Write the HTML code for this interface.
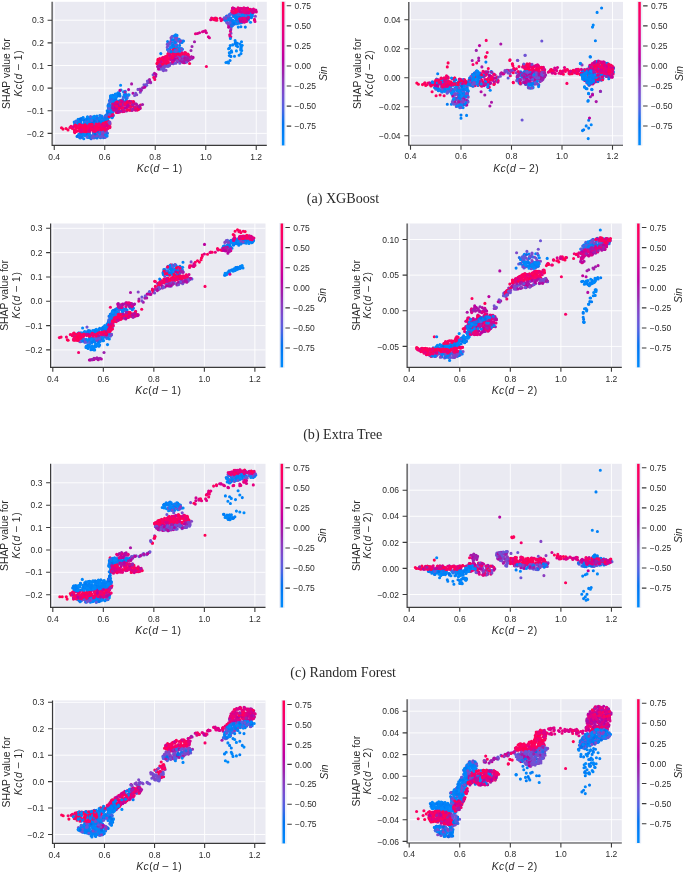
<!DOCTYPE html>
<html><head><meta charset="utf-8"><title>SHAP dependence plots</title>
<style>html,body{margin:0;padding:0;background:#fff;width:685px;height:872px;overflow:hidden}svg{display:block;will-change:transform}</style>
</head><body>
<svg width="685" height="872" viewBox="0 0 685 872" font-family='"Liberation Sans", sans-serif' fill="#2a2a2a"><defs><linearGradient id="cb" x1="0" y1="0" x2="0" y2="1"><stop offset="0.00" stop-color="#ff0051"/><stop offset="0.05" stop-color="#fe005c"/><stop offset="0.10" stop-color="#f90067"/><stop offset="0.15" stop-color="#f20072"/><stop offset="0.20" stop-color="#e9007c"/><stop offset="0.25" stop-color="#e00086"/><stop offset="0.30" stop-color="#d5008f"/><stop offset="0.35" stop-color="#c80098"/><stop offset="0.40" stop-color="#bb00a0"/><stop offset="0.45" stop-color="#ab15a7"/><stop offset="0.50" stop-color="#9b23ad"/><stop offset="0.55" stop-color="#9135ba"/><stop offset="0.60" stop-color="#8443c6"/><stop offset="0.65" stop-color="#754fd1"/><stop offset="0.70" stop-color="#6359da"/><stop offset="0.75" stop-color="#4b63e3"/><stop offset="0.80" stop-color="#236cea"/><stop offset="0.85" stop-color="#0074f0"/><stop offset="0.90" stop-color="#007cf5"/><stop offset="0.95" stop-color="#0084f9"/><stop offset="1.00" stop-color="#008bfb"/></linearGradient></defs>
<rect x="52.10" y="1.80" width="214.70" height="143.60" fill="#eaeaf2"/>
<path d="M54.25 1.80V145.40M104.75 1.80V145.40M155.25 1.80V145.40M205.75 1.80V145.40M256.25 1.80V145.40M52.10 20.20H266.80M52.10 42.84H266.80M52.10 65.48H266.80M52.10 88.12H266.80M52.10 110.76H266.80M52.10 133.40H266.80" stroke="#fff" stroke-width="0.9" fill="none"/>
<g stroke-width="3.1" stroke-linecap="round" fill="none"><path d="M61.5 127.7h0" stroke="#fe005c"/><path d="M63.0 129.1h0" stroke="#ff0051"/><path d="M68.0 129.9h0M66.0 128.5h0" stroke="#ff0057"/><path d="M71.0 126.2h0" stroke="#f90067"/><path d="M72.4 128.4h0" stroke="#fc0062"/><path d="M70.0 127.5h0" stroke="#f5006c"/><path d="M97.0 122.4h0M84.0 124.7h0M102.8 122.4h0M80.0 125.2h0" stroke="#0074f0"/><path d="M100.1 121.3h0M101.3 119.7h0M86.7 118.8h0M79.9 119.6h0M105.3 123.2h0M77.6 125.8h0M87.5 116.9h0M99.8 115.6h0M97.5 122.0h0M83.2 117.5h0M103.4 123.6h0M100.7 124.8h0" stroke="#0084f9"/><path d="M80.7 121.0h0M80.9 122.4h0M89.2 123.3h0M78.5 122.8h0M82.2 119.8h0M100.3 122.9h0M81.0 123.5h0" stroke="#3b68e7"/><path d="M96.7 119.5h0M100.5 116.0h0" stroke="#4b63e3"/><path d="M78.9 121.7h0M80.1 122.6h0M105.0 118.9h0M91.9 125.2h0M87.8 122.9h0" stroke="#007cf5"/><path d="M94.3 121.6h0M96.2 121.2h0M84.5 121.5h0M78.1 119.4h0" stroke="#008bfb"/><path d="M94.0 119.5h0M85.5 121.4h0M99.0 124.6h0M79.2 123.4h0M92.6 120.4h0M95.4 124.1h0M105.3 116.0h0M107.5 120.0h0M80.3 121.2h0M87.1 120.9h0M82.8 124.8h0M84.4 120.3h0M79.5 124.6h0" stroke="#0080f7"/><path d="M75.8 124.6h0M97.7 118.7h0M99.0 119.0h0M92.4 119.1h0M89.5 123.3h0M104.6 120.0h0M105.2 116.4h0M86.8 124.4h0M93.2 125.4h0M91.6 123.0h0M87.4 123.2h0M88.6 120.6h0M91.6 120.3h0" stroke="#0087fa"/><path d="M85.3 124.2h0" stroke="#236cea"/><path d="M83.7 119.5h0" stroke="#0070ed"/><path d="M85.2 122.3h0" stroke="#585edf"/><path d="M89.8 124.8h0M94.1 119.4h0M98.5 121.0h0" stroke="#236cea"/><path d="M89.1 126.0h0M103.5 122.0h0M103.6 122.5h0M89.1 120.4h0M104.8 118.9h0" stroke="#007cf5"/><path d="M106.2 115.3h0M92.8 118.3h0M94.6 118.4h0M79.7 124.8h0M106.0 115.0h0M79.5 121.2h0M103.4 120.8h0M106.7 116.3h0" stroke="#0084f9"/><path d="M100.2 120.4h0M89.1 118.9h0M81.8 119.2h0M105.7 116.3h0M100.4 122.8h0M74.6 123.9h0M87.7 121.0h0M91.9 123.1h0M76.2 121.1h0M89.2 118.8h0M84.4 124.6h0" stroke="#0080f7"/><path d="M95.8 120.9h0M79.1 125.3h0M76.1 125.1h0M92.5 117.0h0M101.7 116.0h0M96.3 122.9h0M88.7 119.4h0M96.9 116.0h0M100.4 124.2h0M94.3 116.4h0" stroke="#0087fa"/><path d="M82.8 118.1h0M102.1 120.0h0M87.3 117.2h0M91.8 123.5h0M76.6 122.2h0M106.9 117.2h0M87.1 118.3h0" stroke="#008bfb"/><path d="M96.1 121.6h0M102.1 122.4h0M106.4 121.0h0M98.9 121.9h0" stroke="#0070ed"/><path d="M104.7 120.5h0M78.6 124.1h0" stroke="#0074f0"/><path d="M98.0 124.3h0M101.9 122.7h0M96.8 121.6h0M102.0 118.3h0M94.0 125.6h0" stroke="#4b63e3"/><path d="M87.3 122.0h0M91.7 121.9h0M102.4 123.0h0M107.0 118.9h0" stroke="#3b68e7"/><path d="M102.6 123.8h0M104.7 116.8h0M91.9 124.7h0" stroke="#585edf"/><path d="M108.0 118.4h0M91.3 120.3h0M106.0 121.9h0M97.2 117.6h0M91.6 120.0h0M107.8 121.2h0M99.5 118.0h0M87.9 123.4h0M84.4 122.9h0" stroke="#0087fa"/><path d="M80.0 121.2h0M74.2 122.1h0M95.8 124.1h0M79.8 123.4h0M101.9 124.8h0M95.7 123.8h0M91.8 123.4h0M82.1 118.4h0M102.0 117.8h0M104.4 118.7h0M87.2 124.6h0M80.3 119.4h0M77.2 121.6h0M78.6 119.7h0M90.4 121.5h0M90.9 122.5h0" stroke="#0080f7"/><path d="M86.8 126.0h0M86.8 120.0h0M75.9 121.4h0M92.5 124.0h0" stroke="#3b68e7"/><path d="M85.6 125.6h0M107.6 120.0h0M103.0 121.8h0M96.9 124.2h0M77.3 125.2h0M107.2 117.4h0M93.7 118.5h0M90.0 118.0h0M96.0 122.4h0M79.8 123.9h0M82.9 125.6h0M104.6 119.3h0" stroke="#0084f9"/><path d="M96.8 118.1h0M106.0 124.3h0M106.0 117.4h0M95.6 123.8h0" stroke="#236cea"/><path d="M92.1 117.8h0" stroke="#008bfb"/><path d="M86.7 119.3h0M84.3 125.5h0M101.6 121.8h0M99.2 123.6h0M95.7 121.9h0M100.2 124.0h0M105.6 121.2h0" stroke="#007cf5"/><path d="M80.4 118.8h0M93.9 121.0h0M92.4 123.3h0M93.0 126.1h0M96.2 125.6h0" stroke="#0070ed"/><path d="M90.5 116.6h0M101.5 124.7h0" stroke="#585edf"/><path d="M80.9 121.1h0" stroke="#0074f0"/><path d="M91.7 120.6h0" stroke="#4b63e3"/><path d="M89.7 137.6h0M86.8 135.5h0M89.8 136.2h0M89.2 131.7h0M79.8 137.5h0M84.6 134.9h0M79.3 134.4h0" stroke="#0080f7"/><path d="M83.8 132.8h0M78.8 136.3h0" stroke="#0087fa"/><path d="M89.6 135.0h0M91.2 135.8h0M81.2 134.4h0" stroke="#007cf5"/><path d="M80.2 137.9h0" stroke="#0084f9"/><path d="M84.6 132.7h0M85.3 133.2h0M87.2 133.3h0" stroke="#0070ed"/><path d="M80.8 135.1h0M80.9 134.3h0" stroke="#008bfb"/><path d="M81.9 134.3h0" stroke="#585edf"/><path d="M80.9 135.6h0M89.4 132.6h0M79.7 133.5h0" stroke="#0084f9"/><path d="M80.1 134.3h0M83.4 131.8h0" stroke="#0087fa"/><path d="M82.3 137.4h0M91.1 138.8h0" stroke="#236cea"/><path d="M89.9 135.2h0M85.0 134.1h0M81.9 137.3h0" stroke="#4b63e3"/><path d="M81.7 134.2h0M81.3 136.4h0" stroke="#007cf5"/><path d="M80.9 134.8h0" stroke="#585edf"/><path d="M90.1 137.2h0M88.2 137.3h0M87.8 132.0h0M79.8 134.6h0" stroke="#0080f7"/><path d="M89.5 131.8h0" stroke="#3b68e7"/><path d="M86.2 135.2h0" stroke="#0070ed"/><path d="M87.9 136.6h0M83.0 134.9h0M89.8 137.5h0" stroke="#0080f7"/><path d="M89.3 133.9h0M87.6 137.1h0M84.7 135.4h0M81.6 133.9h0M84.9 134.8h0" stroke="#0084f9"/><path d="M80.6 133.5h0M87.5 137.0h0M83.8 138.7h0M78.6 134.5h0" stroke="#0087fa"/><path d="M81.8 132.0h0" stroke="#3b68e7"/><path d="M77.1 136.4h0" stroke="#0070ed"/><path d="M79.2 136.7h0M81.0 132.1h0" stroke="#236cea"/><path d="M87.0 136.9h0" stroke="#585edf"/><path d="M80.7 133.4h0" stroke="#007cf5"/><path d="M101.8 133.8h0M100.7 133.7h0" stroke="#3b68e7"/><path d="M104.2 130.8h0" stroke="#754fd1"/><path d="M97.1 134.9h0M102.4 133.3h0M103.4 135.8h0M98.0 132.3h0M102.7 131.6h0M92.1 137.4h0" stroke="#8443c6"/><path d="M97.4 136.9h0" stroke="#007cf5"/><path d="M95.1 136.6h0M107.1 136.1h0M99.8 136.3h0M99.9 132.3h0" stroke="#0080f7"/><path d="M103.6 134.4h0M104.4 130.9h0" stroke="#0084f9"/><path d="M103.5 133.8h0M105.6 131.4h0" stroke="#7d49cb"/><path d="M105.1 137.4h0M93.1 137.0h0" stroke="#6c54d6"/><path d="M100.1 135.6h0" stroke="#236cea"/><path d="M101.0 135.6h0" stroke="#0070ed"/><path d="M105.3 132.3h0" stroke="#7d49cb"/><path d="M104.1 136.1h0M94.4 135.8h0M99.3 136.3h0" stroke="#754fd1"/><path d="M100.1 136.6h0M106.0 133.9h0" stroke="#6c54d6"/><path d="M100.5 137.7h0M96.1 137.2h0" stroke="#0070ed"/><path d="M103.5 137.8h0" stroke="#236cea"/><path d="M93.9 138.0h0M97.2 134.9h0M103.3 135.5h0M101.7 133.5h0M104.8 136.2h0" stroke="#8443c6"/><path d="M99.8 131.1h0M96.0 136.6h0" stroke="#0074f0"/><path d="M100.1 136.6h0M99.5 133.5h0" stroke="#0087fa"/><path d="M105.4 135.0h0" stroke="#0080f7"/><path d="M100.2 137.0h0" stroke="#6359da"/><path d="M94.8 137.2h0" stroke="#0084f9"/><path d="M93.6 134.6h0M107.5 133.3h0M93.4 132.3h0" stroke="#236cea"/><path d="M101.7 136.4h0M102.0 131.3h0M105.3 136.8h0M93.8 132.9h0" stroke="#6c54d6"/><path d="M93.4 132.1h0" stroke="#0084f9"/><path d="M97.0 138.0h0" stroke="#007cf5"/><path d="M98.9 131.5h0M106.5 130.9h0" stroke="#8443c6"/><path d="M94.1 134.7h0M92.7 137.1h0" stroke="#4b63e3"/><path d="M96.5 136.0h0" stroke="#754fd1"/><path d="M95.6 132.1h0" stroke="#3b68e7"/><path d="M98.6 131.5h0M94.3 136.0h0M93.6 136.2h0" stroke="#7d49cb"/><path d="M106.4 135.7h0" stroke="#0087fa"/><path d="M97.5 131.2h0M95.2 134.0h0" stroke="#0070ed"/><path d="M84.5 131.4h0M105.5 122.4h0M81.1 126.1h0M98.5 129.7h0M82.1 125.6h0M75.1 126.1h0M84.0 130.3h0M76.5 131.5h0M79.6 124.6h0" stroke="#ff0057"/><path d="M76.7 130.6h0M75.6 125.4h0M92.3 127.9h0M100.4 127.3h0M74.8 132.6h0M84.9 124.9h0M104.9 130.1h0" stroke="#ff0051"/><path d="M89.5 126.6h0M81.2 131.8h0M94.6 129.0h0" stroke="#d5008f"/><path d="M90.1 127.6h0M75.8 128.0h0M88.8 129.3h0M87.6 127.1h0M87.8 130.2h0M106.8 125.9h0M75.7 125.5h0M86.9 126.5h0M88.4 130.7h0M78.7 127.9h0M85.0 126.2h0M80.6 130.6h0M105.3 125.7h0" stroke="#fc0062"/><path d="M99.1 123.9h0M91.3 129.6h0M79.2 130.6h0M80.3 127.3h0M94.7 131.4h0M90.7 128.1h0M96.3 130.6h0M86.6 131.6h0M110.0 124.1h0M101.1 128.9h0" stroke="#f90067"/><path d="M76.0 126.4h0M79.1 130.8h0M83.2 128.8h0M97.3 124.8h0M88.5 130.6h0" stroke="#fe005c"/><path d="M103.2 124.0h0M108.4 123.7h0M101.3 129.7h0" stroke="#da008a"/><path d="M77.3 127.3h0M87.2 126.0h0" stroke="#f5006c"/><path d="M99.3 129.5h0M93.9 128.3h0M74.7 132.0h0" stroke="#e50081"/><path d="M96.4 124.7h0M102.8 128.8h0" stroke="#e00086"/><path d="M84.9 125.5h0M105.0 127.7h0M98.3 125.8h0M89.4 131.3h0M78.6 127.1h0" stroke="#ff0051"/><path d="M93.5 129.4h0M93.8 128.5h0M73.5 126.6h0M102.0 124.5h0M89.7 126.8h0" stroke="#da008a"/><path d="M92.8 128.4h0M80.7 126.9h0M89.7 127.5h0M107.9 128.4h0M77.7 127.2h0M108.3 126.0h0M77.0 127.5h0M108.1 126.5h0" stroke="#fe005c"/><path d="M94.2 129.5h0M89.6 129.4h0M97.9 126.1h0" stroke="#f5006c"/><path d="M105.0 129.2h0M85.6 130.9h0M89.6 124.2h0M92.6 128.9h0M99.1 126.8h0M86.6 130.1h0M79.8 128.2h0" stroke="#f90067"/><path d="M106.4 129.0h0M80.6 125.4h0M95.1 131.0h0M107.7 123.6h0" stroke="#e50081"/><path d="M103.3 123.4h0M88.0 127.3h0M85.4 125.4h0M74.6 131.4h0M109.9 126.6h0M95.3 126.5h0M101.5 129.4h0M97.4 128.9h0" stroke="#ff0057"/><path d="M85.2 127.9h0M107.2 123.8h0" stroke="#d5008f"/><path d="M95.5 130.2h0M90.7 129.3h0M87.4 130.0h0M103.9 126.0h0" stroke="#e00086"/><path d="M89.6 128.4h0" stroke="#cf0093"/><path d="M80.7 125.7h0M96.7 129.6h0M90.9 128.2h0M97.2 127.6h0M89.4 125.5h0M108.8 125.7h0M104.9 128.3h0M102.7 127.6h0M89.5 130.7h0M83.9 131.2h0" stroke="#fc0062"/><path d="M77.8 127.1h0M75.1 125.1h0M80.4 129.2h0M84.6 129.3h0M75.4 131.6h0M88.3 127.0h0M108.4 122.0h0M82.3 128.4h0M77.1 126.3h0M93.0 130.9h0M87.4 128.8h0M96.1 125.8h0M75.3 130.3h0M97.3 128.4h0" stroke="#fc0062"/><path d="M92.3 126.5h0M89.4 130.7h0M109.7 122.4h0" stroke="#da008a"/><path d="M104.0 127.4h0M94.9 127.9h0" stroke="#e00086"/><path d="M80.2 127.2h0M85.7 131.4h0M99.5 126.9h0M97.9 124.8h0M80.0 128.9h0M97.6 127.5h0" stroke="#ff0051"/><path d="M107.1 125.8h0" stroke="#d5008f"/><path d="M75.8 126.0h0M103.9 128.8h0M91.4 124.2h0M85.8 127.9h0M96.3 126.1h0" stroke="#ff0057"/><path d="M108.1 123.2h0M74.2 129.7h0M92.3 124.5h0M99.3 125.7h0M95.1 127.9h0M97.8 129.2h0M91.2 129.0h0M109.1 122.1h0M92.1 125.7h0M96.8 127.6h0M83.8 127.1h0M82.8 126.1h0" stroke="#fe005c"/><path d="M79.9 124.8h0M98.2 124.6h0M109.9 127.6h0M95.6 130.6h0M78.5 125.9h0M103.9 123.5h0M101.5 127.5h0M79.7 131.1h0M81.7 131.2h0M107.5 121.9h0M96.1 124.1h0" stroke="#f90067"/><path d="M81.1 131.8h0" stroke="#ee0077"/><path d="M102.8 125.7h0M81.0 129.7h0" stroke="#e9007c"/><path d="M110.8 108.6h0M114.5 109.1h0M108.0 106.1h0M111.6 113.4h0M110.1 107.4h0M112.4 111.3h0M110.6 95.9h0M111.1 115.9h0" stroke="#0087fa"/><path d="M112.5 116.8h0M112.0 102.5h0M109.1 107.1h0M111.2 115.7h0M107.2 110.8h0M107.4 112.9h0M110.5 98.1h0" stroke="#0080f7"/><path d="M110.8 116.3h0" stroke="#007cf5"/><path d="M113.1 112.0h0" stroke="#0074f0"/><path d="M108.7 107.8h0" stroke="#3b68e7"/><path d="M111.6 105.1h0M113.4 105.5h0" stroke="#008bfb"/><path d="M115.7 98.5h0M113.0 109.1h0M109.5 100.6h0" stroke="#0084f9"/><path d="M114.7 100.3h0M110.3 99.5h0M108.4 107.4h0M107.6 113.5h0" stroke="#4b63e3"/><path d="M113.0 102.3h0M109.1 115.3h0" stroke="#585edf"/><path d="M112.2 107.7h0M113.4 115.6h0" stroke="#236cea"/><path d="M111.1 112.9h0" stroke="#0070ed"/><path d="M106.6 116.9h0" stroke="#236cea"/><path d="M111.1 102.1h0M111.0 111.8h0M109.1 108.9h0" stroke="#007cf5"/><path d="M108.6 116.3h0M111.8 99.0h0M115.0 99.8h0M114.7 106.0h0M113.5 103.9h0M111.8 110.6h0M108.3 110.5h0M114.3 102.5h0M113.1 100.0h0M115.7 98.9h0" stroke="#0080f7"/><path d="M109.8 101.5h0M112.6 112.0h0M110.8 115.7h0" stroke="#585edf"/><path d="M108.5 115.0h0M110.2 114.4h0M112.0 112.0h0" stroke="#008bfb"/><path d="M115.2 97.3h0M108.3 105.1h0M111.4 107.4h0M111.0 99.7h0M111.6 116.0h0M112.1 117.8h0M113.0 100.0h0M110.3 106.5h0" stroke="#0087fa"/><path d="M109.3 113.9h0M111.8 116.9h0" stroke="#0084f9"/><path d="M111.9 101.9h0" stroke="#0070ed"/><path d="M112.6 99.3h0" stroke="#4b63e3"/><path d="M113.7 101.8h0M109.9 105.7h0M114.1 96.0h0" stroke="#4b63e3"/><path d="M108.5 105.1h0M109.0 105.3h0M108.8 111.8h0M110.9 115.1h0M112.0 105.5h0" stroke="#0080f7"/><path d="M108.2 112.7h0M113.4 97.2h0M112.8 95.3h0M111.2 114.0h0" stroke="#007cf5"/><path d="M108.6 108.5h0M113.5 106.3h0M115.2 101.1h0M109.3 111.0h0M112.4 99.5h0M109.0 105.5h0M109.8 108.3h0" stroke="#0084f9"/><path d="M109.5 110.9h0M111.7 98.9h0M109.7 116.9h0" stroke="#008bfb"/><path d="M109.0 103.9h0M111.6 99.5h0" stroke="#236cea"/><path d="M111.8 100.9h0M111.2 101.7h0M106.5 116.0h0" stroke="#3b68e7"/><path d="M111.7 95.8h0M110.5 96.4h0" stroke="#0087fa"/><path d="M108.9 108.6h0" stroke="#585edf"/><path d="M108.2 112.8h0" stroke="#0074f0"/><path d="M109.2 116.6h0" stroke="#ff0057"/><path d="M112.9 114.6h0M111.2 115.3h0" stroke="#fe005c"/><path d="M109.1 122.2h0" stroke="#6c54d6"/><path d="M109.5 114.5h0M109.8 123.4h0" stroke="#754fd1"/><path d="M112.3 115.7h0" stroke="#da008a"/><path d="M109.8 122.1h0" stroke="#7d49cb"/><path d="M115.5 103.9h0M116.3 97.0h0M124.0 96.4h0M115.9 105.0h0M125.7 94.2h0" stroke="#0080f7"/><path d="M128.3 95.2h0M114.5 97.0h0M128.0 95.0h0M127.0 98.1h0M122.9 100.4h0" stroke="#0084f9"/><path d="M117.1 95.9h0M122.7 99.5h0" stroke="#236cea"/><path d="M113.8 101.1h0M124.3 94.7h0M125.3 97.4h0" stroke="#0087fa"/><path d="M114.7 101.2h0" stroke="#007cf5"/><path d="M116.4 96.1h0M118.3 93.1h0" stroke="#008bfb"/><path d="M116.7 102.2h0M124.3 95.0h0M115.3 94.1h0M121.7 101.1h0M118.4 93.1h0M118.2 93.6h0" stroke="#0087fa"/><path d="M118.0 101.1h0M125.5 94.8h0" stroke="#0080f7"/><path d="M120.1 100.6h0M115.4 100.7h0" stroke="#0074f0"/><path d="M117.6 105.1h0" stroke="#3b68e7"/><path d="M113.6 97.3h0M117.8 93.0h0M115.4 101.6h0" stroke="#008bfb"/><path d="M123.6 91.9h0M124.8 101.8h0" stroke="#0084f9"/><path d="M128.1 95.3h0" stroke="#4b63e3"/><path d="M117.0 101.2h0" stroke="#585edf"/><path d="M123.3 97.2h0M127.0 97.5h0" stroke="#4b63e3"/><path d="M129.0 94.8h0M112.7 102.0h0M118.8 95.2h0M125.3 91.4h0" stroke="#008bfb"/><path d="M113.8 102.8h0M126.2 99.7h0M121.9 101.2h0M125.0 96.1h0M117.9 93.9h0" stroke="#0080f7"/><path d="M125.5 95.7h0M120.2 102.9h0" stroke="#0084f9"/><path d="M119.6 93.9h0" stroke="#0074f0"/><path d="M120.0 95.9h0M118.9 102.0h0M118.4 95.8h0" stroke="#007cf5"/><path d="M112.8 104.1h0M136.6 109.0h0M127.4 109.5h0" stroke="#fc0062"/><path d="M133.8 102.1h0M126.5 111.0h0M138.3 106.2h0" stroke="#9b23ad"/><path d="M117.4 112.1h0M131.5 101.5h0M127.8 105.3h0M136.0 108.6h0M118.6 106.9h0" stroke="#f90067"/><path d="M126.0 103.0h0M116.2 108.7h0M135.9 103.7h0M125.1 103.6h0M122.1 110.1h0" stroke="#a31daa"/><path d="M114.6 107.2h0M134.7 104.3h0" stroke="#e00086"/><path d="M120.3 105.9h0M116.4 111.0h0" stroke="#e50081"/><path d="M115.5 103.6h0M120.1 103.7h0" stroke="#bb00a0"/><path d="M119.6 112.1h0M121.5 107.7h0M129.4 102.4h0M116.4 112.5h0M136.9 108.0h0M132.5 105.4h0M130.4 105.8h0M135.4 107.2h0M132.3 110.3h0" stroke="#fe005c"/><path d="M132.0 110.1h0M129.5 103.2h0M133.2 108.7h0M114.5 104.7h0M119.9 107.9h0" stroke="#b30aa3"/><path d="M136.7 107.7h0M123.7 110.5h0M117.5 107.5h0" stroke="#ff0051"/><path d="M135.2 109.6h0M113.0 107.8h0M116.6 109.8h0" stroke="#ff0057"/><path d="M133.9 108.4h0" stroke="#f5006c"/><path d="M129.1 106.6h0" stroke="#ab15a7"/><path d="M117.3 102.2h0M139.3 106.5h0" stroke="#d5008f"/><path d="M124.2 107.9h0" stroke="#c2009c"/><path d="M126.5 104.5h0" stroke="#ee0077"/><path d="M134.7 107.8h0" stroke="#da008a"/><path d="M120.6 102.7h0M140.5 105.1h0M140.2 107.9h0M130.5 107.6h0M122.4 107.0h0" stroke="#fe005c"/><path d="M125.0 105.3h0" stroke="#da008a"/><path d="M115.3 109.7h0" stroke="#e50081"/><path d="M113.3 105.3h0M122.7 111.6h0M118.8 110.5h0" stroke="#e9007c"/><path d="M120.5 103.2h0M134.0 107.3h0" stroke="#f5006c"/><path d="M123.0 108.8h0M121.6 103.2h0M129.8 106.5h0M121.7 102.7h0" stroke="#fc0062"/><path d="M133.3 103.3h0M113.5 104.7h0M126.4 101.7h0M115.4 110.5h0" stroke="#ab15a7"/><path d="M131.0 110.0h0M118.0 104.3h0M123.1 110.3h0" stroke="#9b23ad"/><path d="M139.0 108.9h0M120.9 104.6h0" stroke="#a31daa"/><path d="M121.1 105.9h0M122.1 110.7h0M121.0 100.8h0M125.5 104.3h0M127.5 107.6h0M127.9 101.5h0" stroke="#f90067"/><path d="M121.8 101.5h0" stroke="#ff0051"/><path d="M112.7 108.0h0M122.0 103.5h0M129.6 101.3h0" stroke="#bb00a0"/><path d="M122.1 103.8h0M115.0 104.7h0M120.8 104.0h0M132.6 102.4h0" stroke="#ff0057"/><path d="M115.9 103.5h0M120.6 105.8h0M140.0 108.5h0M121.3 111.2h0M126.7 107.2h0" stroke="#b30aa3"/><path d="M113.9 109.1h0M132.4 105.0h0" stroke="#ee0077"/><path d="M114.4 107.9h0" stroke="#c2009c"/><path d="M113.7 110.0h0" stroke="#d5008f"/><path d="M118.5 102.5h0M117.9 112.4h0M125.6 108.3h0" stroke="#bb00a0"/><path d="M139.6 106.1h0M133.9 108.9h0M135.7 107.8h0" stroke="#9b23ad"/><path d="M131.0 102.2h0M136.7 104.6h0M138.1 108.0h0M112.7 106.5h0" stroke="#ab15a7"/><path d="M124.0 103.4h0M124.1 111.4h0" stroke="#e00086"/><path d="M138.2 108.5h0M133.4 101.6h0" stroke="#fe005c"/><path d="M122.3 105.2h0M115.9 102.6h0" stroke="#e9007c"/><path d="M119.4 102.4h0M131.8 109.9h0M119.2 110.8h0M132.7 104.8h0M124.0 102.3h0M122.8 104.2h0M130.0 109.9h0" stroke="#a31daa"/><path d="M138.4 108.7h0" stroke="#f5006c"/><path d="M117.0 102.0h0M138.1 108.5h0M139.3 107.6h0M137.4 110.1h0M135.4 108.7h0" stroke="#ff0057"/><path d="M127.2 110.0h0M119.3 108.4h0M127.2 102.6h0M138.4 109.5h0M129.6 110.2h0" stroke="#ff0051"/><path d="M135.6 110.2h0M122.2 101.3h0M115.4 103.2h0M117.6 105.7h0" stroke="#d5008f"/><path d="M118.4 105.4h0M116.6 108.3h0M139.4 107.0h0M118.6 111.5h0M128.0 105.0h0" stroke="#b30aa3"/><path d="M124.9 103.7h0M130.0 103.1h0" stroke="#fc0062"/><path d="M128.0 105.8h0" stroke="#c2009c"/><path d="M116.7 106.3h0M120.5 104.3h0" stroke="#f90067"/><path d="M120.6 85.3h0M121.0 90.0h0" stroke="#008bfb"/><path d="M131.6 83.9h0" stroke="#ab15a7"/><path d="M119.9 90.4h0M128.6 89.6h0M133.0 93.2h0" stroke="#b30aa3"/><path d="M125.0 92.0h0" stroke="#9b23ad"/><path d="M142.5 104.5h0" stroke="#a31daa"/><path d="M148.1 82.4h0M142.4 87.8h0M138.0 89.4h0M149.1 80.4h0M140.3 92.2h0M146.2 84.6h0" stroke="#7d49cb"/><path d="M148.0 82.5h0M150.7 82.8h0M140.0 89.1h0" stroke="#8b3cc0"/><path d="M153.1 74.8h0M134.6 95.5h0M147.4 81.1h0M135.7 93.2h0M144.0 84.7h0" stroke="#754fd1"/><path d="M154.3 77.5h0M149.5 79.6h0" stroke="#a31daa"/><path d="M146.6 85.2h0" stroke="#6c54d6"/><path d="M145.6 85.6h0M145.1 85.7h0" stroke="#6359da"/><path d="M136.7 94.8h0M141.5 90.1h0" stroke="#8443c6"/><path d="M143.3 87.8h0M140.7 90.4h0M150.3 81.7h0" stroke="#ab15a7"/><path d="M144.9 87.1h0" stroke="#bb00a0"/><path d="M155.9 74.4h0" stroke="#c2009c"/><path d="M154.5 73.4h0M155.7 76.3h0" stroke="#b30aa3"/><path d="M153.8 77.4h0M154.8 79.4h0" stroke="#fc0062"/><path d="M184.7 52.5h0M178.5 56.9h0M174.9 54.2h0" stroke="#e50081"/><path d="M161.3 63.1h0M184.2 57.4h0M163.1 59.4h0" stroke="#e00086"/><path d="M165.0 62.5h0M163.1 58.0h0M187.9 54.1h0M172.9 49.6h0M182.1 54.8h0M168.9 53.9h0" stroke="#f5006c"/><path d="M158.6 61.8h0M174.1 58.2h0M165.6 64.8h0M167.7 61.9h0M182.0 55.8h0M171.7 56.0h0M170.7 51.5h0M165.5 60.0h0M181.3 54.9h0M177.9 50.4h0M181.2 54.9h0M170.8 59.8h0M183.8 56.5h0" stroke="#fc0062"/><path d="M184.3 55.7h0M182.5 57.2h0M170.1 50.8h0M165.6 64.4h0M183.3 55.4h0M167.8 54.1h0M172.6 58.6h0" stroke="#f90067"/><path d="M164.8 58.3h0M159.7 58.5h0M175.1 51.6h0M185.0 54.8h0M164.8 60.4h0M167.6 63.7h0M161.8 64.5h0M181.2 57.8h0M178.3 51.2h0M165.8 60.2h0M170.4 54.6h0M173.8 49.0h0" stroke="#fe005c"/><path d="M173.2 56.2h0M184.4 57.0h0M167.2 57.6h0M175.4 54.8h0M166.0 58.5h0M179.8 51.8h0M164.6 58.4h0" stroke="#ff0057"/><path d="M170.8 57.7h0M176.9 52.5h0M183.1 57.9h0" stroke="#d5008f"/><path d="M175.4 52.5h0" stroke="#e9007c"/><path d="M166.9 56.5h0M168.8 51.7h0" stroke="#ff0051"/><path d="M183.4 55.1h0" stroke="#da008a"/><path d="M162.5 58.4h0M173.5 54.1h0M181.4 56.1h0M184.3 55.5h0M170.2 52.9h0M167.2 58.2h0M187.3 55.1h0M164.4 63.6h0M167.3 56.0h0M179.0 53.2h0" stroke="#ff0057"/><path d="M162.7 59.9h0M173.4 60.3h0M175.9 51.4h0M180.6 57.7h0M166.3 56.9h0M168.6 63.3h0M163.0 57.5h0M164.9 59.6h0" stroke="#f5006c"/><path d="M174.5 58.0h0M185.6 52.7h0M179.3 54.3h0M174.8 51.8h0M171.9 59.4h0M158.7 64.2h0M174.1 54.5h0" stroke="#fe005c"/><path d="M170.1 58.0h0M161.5 59.8h0M157.3 63.8h0M162.1 58.0h0M160.6 62.5h0M174.7 48.4h0M163.9 57.8h0M178.2 54.1h0M175.6 56.1h0M184.7 56.8h0M181.8 52.9h0M173.8 53.7h0" stroke="#f90067"/><path d="M178.1 57.9h0M164.5 57.8h0" stroke="#e50081"/><path d="M179.5 54.8h0M180.3 55.8h0M184.0 56.8h0M180.3 53.2h0M183.6 58.1h0M172.9 61.0h0M182.8 53.7h0M172.6 55.8h0M172.0 51.7h0M168.3 61.9h0M158.4 61.6h0M178.7 53.0h0" stroke="#fc0062"/><path d="M175.9 48.9h0M162.6 60.1h0M186.3 57.3h0M182.4 55.5h0M178.9 52.2h0" stroke="#ff0051"/><path d="M185.9 55.7h0" stroke="#e9007c"/><path d="M171.8 52.4h0M182.8 56.8h0M172.9 59.1h0M178.6 57.2h0M157.6 62.6h0M169.8 50.0h0M176.7 48.6h0M166.3 57.3h0M175.6 58.1h0M168.9 58.9h0M178.3 51.3h0M175.1 53.9h0M172.3 59.1h0" stroke="#ff0057"/><path d="M161.2 62.4h0M177.3 49.7h0M157.9 60.6h0M167.5 58.9h0M163.3 64.8h0M167.2 61.9h0M175.0 57.9h0" stroke="#f90067"/><path d="M165.1 58.8h0M165.8 62.6h0" stroke="#f5006c"/><path d="M188.4 55.1h0M167.7 62.1h0M168.8 51.6h0M177.7 57.4h0M180.1 57.8h0M180.3 54.1h0M177.2 57.9h0M161.8 59.4h0M173.4 57.6h0M178.7 50.1h0M160.9 65.2h0M176.8 49.1h0M160.6 60.5h0" stroke="#fe005c"/><path d="M161.2 61.7h0M170.7 59.8h0" stroke="#d5008f"/><path d="M173.9 53.1h0M169.5 52.6h0" stroke="#ee0077"/><path d="M181.5 52.6h0M178.0 51.7h0M164.1 61.7h0M174.6 53.5h0M183.7 56.2h0M166.4 58.2h0M181.1 55.6h0M165.4 56.6h0M177.5 50.5h0M163.6 65.3h0" stroke="#fc0062"/><path d="M175.3 54.7h0" stroke="#e9007c"/><path d="M175.0 48.3h0M177.4 54.5h0M162.4 64.5h0M156.9 63.6h0M167.0 64.1h0M158.0 59.4h0" stroke="#ff0051"/><path d="M169.5 55.7h0" stroke="#e00086"/><path d="M172.9 61.4h0" stroke="#cf0093"/><path d="M187.9 59.0h0M187.2 57.2h0M181.2 60.4h0" stroke="#8443c6"/><path d="M178.5 57.6h0M184.5 61.2h0" stroke="#a31daa"/><path d="M179.2 58.0h0M186.2 58.2h0" stroke="#8b3cc0"/><path d="M177.7 57.0h0M178.4 59.2h0" stroke="#754fd1"/><path d="M176.8 58.6h0" stroke="#e50081"/><path d="M190.0 59.4h0M176.6 60.1h0" stroke="#b30aa3"/><path d="M181.4 58.2h0M186.4 58.7h0" stroke="#ab15a7"/><path d="M181.4 57.9h0M188.4 59.2h0" stroke="#9b23ad"/><path d="M182.8 56.9h0" stroke="#6359da"/><path d="M175.2 59.9h0" stroke="#d5008f"/><path d="M172.0 63.3h0M180.7 58.8h0" stroke="#e00086"/><path d="M187.7 56.8h0M178.1 58.2h0" stroke="#da008a"/><path d="M172.4 61.6h0M188.9 58.1h0" stroke="#7d49cb"/><path d="M185.5 58.3h0" stroke="#bb00a0"/><path d="M183.4 57.1h0" stroke="#6c54d6"/><path d="M189.9 57.8h0" stroke="#6359da"/><path d="M189.5 57.3h0M176.7 57.9h0M175.9 59.2h0" stroke="#da008a"/><path d="M185.0 59.2h0M173.2 63.7h0M184.8 62.2h0M186.0 60.8h0" stroke="#9b23ad"/><path d="M192.5 58.0h0M192.0 58.8h0M173.3 63.0h0M180.3 59.9h0M171.4 63.1h0" stroke="#8443c6"/><path d="M186.9 61.0h0" stroke="#754fd1"/><path d="M182.6 59.3h0M188.4 60.6h0M177.3 61.8h0" stroke="#ab15a7"/><path d="M175.1 57.8h0" stroke="#d5008f"/><path d="M182.8 59.7h0" stroke="#8b3cc0"/><path d="M179.7 60.0h0" stroke="#e00086"/><path d="M193.1 57.4h0M173.7 60.2h0" stroke="#bb00a0"/><path d="M172.2 63.1h0M176.1 58.9h0" stroke="#7d49cb"/><path d="M185.9 59.6h0M183.5 62.4h0" stroke="#e9007c"/><path d="M173.5 63.2h0" stroke="#6c54d6"/><path d="M184.1 62.7h0M187.4 59.9h0" stroke="#da008a"/><path d="M185.3 57.1h0M181.7 61.5h0M179.5 58.5h0M179.4 61.6h0" stroke="#754fd1"/><path d="M187.8 58.1h0M180.3 61.3h0M184.1 60.7h0" stroke="#a31daa"/><path d="M191.3 57.1h0" stroke="#e9007c"/><path d="M176.9 59.3h0" stroke="#ee0077"/><path d="M171.4 63.3h0" stroke="#7d49cb"/><path d="M172.4 61.9h0M175.3 59.3h0" stroke="#bb00a0"/><path d="M177.3 59.5h0" stroke="#cf0093"/><path d="M177.0 60.5h0" stroke="#8443c6"/><path d="M184.8 57.9h0M185.4 62.3h0" stroke="#b30aa3"/><path d="M175.8 63.3h0M179.8 63.2h0M186.7 62.0h0" stroke="#6c54d6"/><path d="M186.3 59.1h0M182.3 62.1h0M191.5 56.8h0M187.4 60.1h0" stroke="#ab15a7"/><path d="M172.5 62.1h0" stroke="#e00086"/><path d="M158.3 66.5h0" stroke="#bb00a0"/><path d="M159.1 68.3h0M160.5 68.1h0M166.0 70.3h0M160.8 67.2h0M163.5 70.6h0M169.7 65.0h0" stroke="#8443c6"/><path d="M160.2 69.3h0M168.1 66.2h0M164.1 67.5h0M163.0 67.1h0" stroke="#754fd1"/><path d="M160.0 65.8h0M159.6 64.9h0" stroke="#9b23ad"/><path d="M161.1 68.2h0M168.5 66.0h0" stroke="#6359da"/><path d="M159.2 68.0h0M169.5 65.4h0M164.8 66.0h0M163.9 67.8h0M165.5 66.1h0M162.8 69.9h0" stroke="#7d49cb"/><path d="M163.5 69.6h0M167.1 66.2h0M168.2 65.5h0" stroke="#6c54d6"/><path d="M160.5 66.2h0" stroke="#b30aa3"/><path d="M158.5 69.1h0" stroke="#c2009c"/><path d="M157.6 66.6h0" stroke="#ab15a7"/><path d="M180.6 49.7h0M177.3 40.3h0M175.9 46.6h0" stroke="#008bfb"/><path d="M171.6 46.0h0M179.7 51.4h0M168.9 43.3h0M175.1 36.9h0M181.4 50.4h0" stroke="#7d49cb"/><path d="M180.8 40.9h0M175.2 39.5h0" stroke="#0087fa"/><path d="M169.1 50.4h0M182.5 49.3h0M175.3 50.1h0M173.0 36.3h0" stroke="#0084f9"/><path d="M178.8 50.4h0M170.9 43.3h0M180.3 42.8h0" stroke="#6c54d6"/><path d="M177.7 49.5h0M171.2 51.4h0M167.6 49.4h0M169.0 50.9h0M174.5 44.0h0" stroke="#754fd1"/><path d="M178.4 40.7h0" stroke="#8443c6"/><path d="M167.9 49.4h0M171.5 42.5h0M167.6 41.6h0M172.0 46.5h0" stroke="#0080f7"/><path d="M176.1 35.9h0" stroke="#8b3cc0"/><path d="M171.1 51.7h0M171.1 42.0h0" stroke="#007cf5"/><path d="M176.6 40.2h0M174.4 41.9h0M176.8 44.8h0M178.3 41.0h0M177.5 50.8h0" stroke="#7d49cb"/><path d="M177.8 48.0h0" stroke="#0080f7"/><path d="M168.1 44.2h0M170.5 43.3h0M179.0 49.0h0M170.3 47.6h0M179.4 50.9h0M172.1 47.1h0" stroke="#0084f9"/><path d="M168.2 50.1h0M175.7 34.8h0M181.4 41.7h0" stroke="#0087fa"/><path d="M176.4 51.5h0M176.0 42.3h0" stroke="#008bfb"/><path d="M168.7 51.0h0M171.2 40.3h0" stroke="#6359da"/><path d="M179.0 39.4h0M176.9 37.8h0M178.0 49.1h0M171.0 37.7h0" stroke="#8443c6"/><path d="M171.2 40.6h0M175.3 39.2h0M182.5 41.1h0M179.7 48.0h0" stroke="#754fd1"/><path d="M178.7 40.7h0M172.0 36.6h0" stroke="#6c54d6"/><path d="M175.6 40.9h0" stroke="#6359da"/><path d="M172.4 45.9h0M181.6 48.6h0M180.5 49.1h0M170.6 47.4h0" stroke="#008bfb"/><path d="M177.0 35.4h0M174.5 35.7h0M177.0 46.4h0M182.0 42.5h0M173.9 45.7h0" stroke="#0084f9"/><path d="M169.7 42.8h0" stroke="#8443c6"/><path d="M174.6 51.5h0M179.0 39.2h0M168.3 45.0h0M179.5 49.0h0" stroke="#0087fa"/><path d="M173.2 39.7h0M173.0 44.9h0" stroke="#007cf5"/><path d="M168.1 45.5h0M167.2 44.2h0" stroke="#7d49cb"/><path d="M167.2 47.3h0M175.7 45.1h0M169.8 43.0h0" stroke="#754fd1"/><path d="M181.8 49.2h0M175.9 51.3h0" stroke="#6c54d6"/><path d="M175.1 42.4h0M172.4 39.7h0M173.5 46.4h0M179.6 45.4h0" stroke="#0080f7"/><path d="M180.4 41.1h0" stroke="#8b3cc0"/><path d="M160.8 53.6h0" stroke="#007cf5"/><path d="M183.5 41.0h0" stroke="#0080f7"/><path d="M189.6 63.5h0" stroke="#ff0057"/><path d="M206.4 66.5h0" stroke="#f90067"/><path d="M194.5 41.7h0" stroke="#a31daa"/><path d="M192.0 46.5h0M191.0 50.5h0" stroke="#9b23ad"/><path d="M195.5 33.7h0" stroke="#e9007c"/><path d="M199.5 32.8h0M206.4 32.8h0M204.0 31.3h0" stroke="#d5008f"/><path d="M202.5 31.8h0M205.4 30.8h0M208.4 36.7h0M209.4 37.7h0M197.5 33.5h0" stroke="#da008a"/><path d="M224.8 19.2h0M216.2 19.4h0" stroke="#fc0062"/><path d="M215.2 18.1h0M210.7 19.8h0M215.8 20.0h0" stroke="#da008a"/><path d="M222.5 19.6h0M211.6 18.0h0" stroke="#e9007c"/><path d="M213.0 18.9h0M221.1 20.6h0" stroke="#f5006c"/><path d="M216.9 20.2h0M214.5 19.7h0" stroke="#fe005c"/><path d="M213.0 18.9h0" stroke="#ff0057"/><path d="M216.5 18.3h0" stroke="#ff0051"/><path d="M220.2 18.3h0" stroke="#e50081"/><path d="M229.1 25.8h0M231.2 27.5h0" stroke="#7d49cb"/><path d="M228.9 26.0h0M231.0 33.3h0" stroke="#8443c6"/><path d="M230.8 36.7h0M230.4 31.2h0" stroke="#e9007c"/><path d="M230.1 36.5h0" stroke="#da008a"/><path d="M230.9 25.7h0" stroke="#e50081"/><path d="M229.7 34.7h0" stroke="#e00086"/><path d="M228.7 27.2h0" stroke="#bb00a0"/><path d="M228.8 25.0h0" stroke="#d5008f"/><path d="M230.8 29.8h0" stroke="#9b23ad"/><path d="M240.7 50.0h0M236.4 50.9h0M229.7 52.7h0M236.1 45.5h0" stroke="#008bfb"/><path d="M235.8 42.5h0M237.4 43.3h0" stroke="#007cf5"/><path d="M229.4 55.6h0" stroke="#0080f7"/><path d="M234.5 56.3h0M241.5 41.8h0M232.6 44.9h0" stroke="#0084f9"/><path d="M240.9 48.4h0" stroke="#0087fa"/><path d="M230.9 56.4h0M236.2 44.0h0M241.1 46.0h0" stroke="#007cf5"/><path d="M231.7 52.1h0M231.4 50.9h0" stroke="#0080f7"/><path d="M241.7 50.5h0M239.1 55.2h0" stroke="#0087fa"/><path d="M242.1 45.3h0" stroke="#008bfb"/><path d="M241.0 53.6h0M236.3 44.6h0M241.1 47.5h0" stroke="#0084f9"/><path d="M229.3 52.8h0M228.6 48.7h0M227.6 62.0h0" stroke="#0087fa"/><path d="M235.1 43.4h0" stroke="#007cf5"/><path d="M229.5 48.1h0M239.9 44.0h0M241.1 46.2h0M235.1 40.6h0" stroke="#0084f9"/><path d="M230.2 45.5h0M237.6 46.6h0" stroke="#0080f7"/><path d="M228.5 63.0h0" stroke="#0087fa"/><path d="M226.0 62.5h0" stroke="#0084f9"/><path d="M230.0 60.5h0" stroke="#007cf5"/><path d="M228.2 19.9h0" stroke="#8b3cc0"/><path d="M234.9 21.7h0M237.2 12.9h0M234.4 12.5h0M249.9 13.2h0" stroke="#8443c6"/><path d="M243.2 17.9h0M235.5 22.5h0M224.8 20.1h0M245.7 13.9h0M230.9 18.3h0M239.6 20.9h0M237.1 18.2h0M251.7 13.6h0M247.2 18.7h0" stroke="#0080f7"/><path d="M228.9 17.1h0M233.7 13.2h0M253.0 12.9h0" stroke="#0070ed"/><path d="M244.9 18.3h0M240.6 16.8h0M251.7 16.0h0M235.0 15.7h0M226.8 21.8h0M236.3 23.5h0M244.7 15.1h0M246.0 16.1h0" stroke="#0084f9"/><path d="M235.5 22.7h0M246.2 19.2h0M233.9 14.0h0" stroke="#6359da"/><path d="M241.9 14.5h0M224.8 18.3h0M226.9 16.0h0" stroke="#7d49cb"/><path d="M250.2 13.0h0M241.7 17.4h0M227.6 17.6h0M228.4 17.8h0M229.4 14.6h0M239.7 17.5h0M244.5 20.7h0M240.0 14.2h0" stroke="#0087fa"/><path d="M233.2 24.7h0M249.6 16.9h0M224.2 17.8h0M244.6 17.1h0" stroke="#754fd1"/><path d="M241.5 13.1h0M230.9 13.6h0M226.5 16.3h0" stroke="#007cf5"/><path d="M237.0 15.4h0M233.3 16.5h0M246.4 13.8h0M236.6 23.5h0" stroke="#6c54d6"/><path d="M251.1 13.4h0" stroke="#236cea"/><path d="M246.6 12.8h0" stroke="#585edf"/><path d="M233.7 13.2h0M238.3 23.2h0" stroke="#008bfb"/><path d="M246.7 16.6h0M245.9 19.6h0M226.4 18.5h0" stroke="#4b63e3"/><path d="M241.0 22.2h0M236.9 21.0h0M241.2 13.8h0M238.4 18.7h0M235.1 16.4h0" stroke="#008bfb"/><path d="M241.6 22.6h0M245.9 15.9h0M246.2 19.3h0M245.0 12.5h0M242.1 16.9h0M236.5 21.0h0M237.8 17.7h0M246.3 14.6h0M246.5 15.1h0M248.1 14.4h0M226.0 20.5h0M232.6 25.4h0M226.7 17.6h0" stroke="#0087fa"/><path d="M247.4 20.5h0M226.2 18.5h0M232.4 22.7h0M246.6 20.1h0M227.6 19.3h0M233.4 21.1h0" stroke="#0084f9"/><path d="M247.3 16.4h0M226.7 22.6h0" stroke="#6c54d6"/><path d="M251.4 13.5h0M234.6 21.8h0M240.3 21.6h0" stroke="#4b63e3"/><path d="M249.4 12.4h0M239.4 17.0h0" stroke="#0074f0"/><path d="M250.4 16.1h0M236.7 17.8h0M234.7 23.9h0M230.6 23.2h0M241.0 19.4h0M248.0 12.5h0M246.3 16.4h0M240.5 22.2h0M229.3 15.7h0" stroke="#0080f7"/><path d="M238.6 17.7h0M237.0 23.7h0M236.1 21.5h0" stroke="#236cea"/><path d="M236.9 22.4h0M236.3 13.4h0" stroke="#754fd1"/><path d="M244.8 17.4h0M246.2 20.0h0M247.8 14.1h0M251.4 17.7h0M252.0 13.8h0" stroke="#007cf5"/><path d="M232.8 15.1h0M231.0 24.0h0M246.1 15.4h0" stroke="#3b68e7"/><path d="M231.8 21.8h0M248.0 14.1h0" stroke="#0070ed"/><path d="M226.0 17.3h0" stroke="#585edf"/><path d="M239.8 13.8h0" stroke="#6359da"/><path d="M243.1 21.5h0M240.0 22.9h0M244.4 21.6h0M234.9 21.5h0M242.8 14.6h0M230.2 20.1h0M229.3 19.8h0M236.6 14.7h0M252.4 16.1h0" stroke="#0080f7"/><path d="M242.5 16.0h0M237.3 16.3h0M230.2 21.3h0M251.3 12.7h0M249.3 14.9h0M232.8 20.2h0M242.5 12.9h0M245.8 20.7h0M242.9 17.0h0M248.9 14.9h0" stroke="#0084f9"/><path d="M238.1 14.8h0" stroke="#3b68e7"/><path d="M233.1 24.2h0" stroke="#754fd1"/><path d="M252.2 14.1h0M252.1 14.0h0M251.4 14.7h0M234.7 16.8h0M248.6 19.4h0M234.7 21.4h0M230.7 22.7h0M243.3 12.9h0M235.2 17.7h0M230.4 18.7h0M231.5 25.9h0M242.6 20.2h0M242.4 15.8h0M234.4 22.3h0" stroke="#0087fa"/><path d="M229.5 24.1h0M226.1 18.3h0" stroke="#8443c6"/><path d="M231.3 25.0h0M228.5 17.3h0M231.1 20.8h0" stroke="#236cea"/><path d="M228.0 23.4h0M248.5 13.4h0M228.4 15.9h0" stroke="#6c54d6"/><path d="M233.8 23.6h0" stroke="#0074f0"/><path d="M234.2 15.5h0M236.2 19.2h0M236.2 17.3h0M232.1 22.1h0M239.1 21.0h0" stroke="#007cf5"/><path d="M247.4 17.6h0M232.5 12.9h0" stroke="#008bfb"/><path d="M228.0 23.2h0" stroke="#7d49cb"/><path d="M239.4 14.5h0M244.9 19.4h0" stroke="#4b63e3"/><path d="M230.3 14.0h0M230.1 22.5h0" stroke="#585edf"/><path d="M254.3 10.7h0M246.2 8.5h0M253.3 10.9h0" stroke="#da008a"/><path d="M232.7 8.5h0M247.6 10.7h0M246.8 12.0h0" stroke="#ff0057"/><path d="M244.3 12.1h0M235.8 9.3h0" stroke="#e50081"/><path d="M241.5 8.6h0M248.1 9.7h0M250.3 9.2h0" stroke="#e00086"/><path d="M256.0 11.4h0" stroke="#fc0062"/><path d="M240.1 8.2h0M238.0 7.9h0M235.6 9.9h0M244.7 12.6h0M245.4 11.3h0M245.9 8.6h0M253.0 11.6h0M248.7 12.8h0" stroke="#e9007c"/><path d="M248.9 10.7h0" stroke="#f90067"/><path d="M244.3 9.9h0" stroke="#ee0077"/><path d="M236.8 10.6h0M246.2 12.3h0" stroke="#d5008f"/><path d="M234.0 12.4h0" stroke="#fe005c"/><path d="M245.5 8.5h0" stroke="#f5006c"/><path d="M246.1 11.9h0M240.6 8.9h0M232.6 8.1h0M239.6 8.9h0M250.0 10.7h0M246.5 9.5h0" stroke="#e50081"/><path d="M253.1 12.5h0M255.8 10.1h0" stroke="#cf0093"/><path d="M247.7 8.0h0M239.0 9.7h0M242.0 8.6h0M241.8 8.8h0" stroke="#da008a"/><path d="M253.5 9.0h0M231.8 10.9h0M239.5 11.1h0M234.6 11.6h0" stroke="#e9007c"/><path d="M241.7 12.2h0M251.8 9.7h0M239.8 11.0h0M246.6 9.6h0M248.9 10.4h0" stroke="#d5008f"/><path d="M233.9 12.7h0M237.4 10.7h0" stroke="#e00086"/><path d="M248.8 9.3h0" stroke="#ff0051"/><path d="M234.8 10.4h0" stroke="#fe005c"/><path d="M245.9 8.9h0M256.2 11.9h0M253.6 11.1h0M245.8 12.7h0" stroke="#da008a"/><path d="M240.2 10.5h0M235.6 10.6h0M244.8 10.9h0" stroke="#e9007c"/><path d="M233.6 13.0h0M232.7 8.4h0" stroke="#e00086"/><path d="M234.4 8.5h0M233.1 8.1h0M240.2 10.8h0M247.3 10.1h0M251.9 12.1h0M248.0 12.8h0" stroke="#d5008f"/><path d="M239.5 11.5h0" stroke="#cf0093"/><path d="M232.4 12.2h0" stroke="#f90067"/><path d="M234.8 12.7h0M244.2 11.4h0M243.4 10.5h0M243.9 7.8h0" stroke="#e50081"/><path d="M236.0 12.3h0M235.9 10.1h0" stroke="#ff0057"/><path d="M237.1 11.1h0" stroke="#fc0062"/><path d="M247.7 10.0h0" stroke="#ee0077"/><path d="M244.1 18.5h0" stroke="#ab15a7"/><path d="M243.7 21.6h0M240.9 20.1h0" stroke="#a31daa"/><path d="M246.5 21.5h0M242.3 18.5h0M243.0 19.3h0M245.1 19.6h0M239.6 19.1h0" stroke="#e50081"/><path d="M240.6 19.6h0" stroke="#bb00a0"/><path d="M244.6 22.1h0" stroke="#e00086"/><path d="M244.2 18.5h0M242.6 18.1h0M242.9 22.0h0" stroke="#d5008f"/><path d="M244.4 18.4h0" stroke="#ee0077"/><path d="M247.4 18.1h0" stroke="#9b23ad"/><path d="M240.6 21.5h0M247.9 18.1h0" stroke="#b30aa3"/><path d="M240.4 18.7h0" stroke="#e9007c"/><path d="M247.7 19.0h0" stroke="#c2009c"/><path d="M248.5 17.4h0" stroke="#cf0093"/><path d="M254.4 20.2h0M255.0 21.4h0" stroke="#da008a"/><path d="M254.5 19.4h0" stroke="#e9007c"/><path d="M236.5 23.6h0" stroke="#0087fa"/><path d="M238.3 27.1h0" stroke="#0084f9"/><path d="M240.9 26.7h0M230.4 38.5h0" stroke="#0080f7"/><path d="M245.3 27.1h0" stroke="#007cf5"/><path d="M250.5 22.3h0" stroke="#008bfb"/><path d="M255.4 16.2h0" stroke="#8443c6"/></g>
<path d="M52.10 1.80V145.40H266.80" stroke="#3a3a3a" stroke-width="1.15" fill="none"/>
<path d="M54.25 145.40v4.5M104.75 145.40v4.5M155.25 145.40v4.5M205.75 145.40v4.5M256.25 145.40v4.5M52.10 20.20h-4.5M52.10 42.84h-4.5M52.10 65.48h-4.5M52.10 88.12h-4.5M52.10 110.76h-4.5M52.10 133.40h-4.5" stroke="#3a3a3a" stroke-width="1.1" fill="none"/>
<text x="54.2" y="159.6" font-size="8.5" text-anchor="middle" >0.4</text>
<text x="104.7" y="159.6" font-size="8.5" text-anchor="middle" >0.6</text>
<text x="155.2" y="159.6" font-size="8.5" text-anchor="middle" >0.8</text>
<text x="205.8" y="159.6" font-size="8.5" text-anchor="middle" >1.0</text>
<text x="256.2" y="159.6" font-size="8.5" text-anchor="middle" >1.2</text>
<text x="43.9" y="23.3" font-size="8.5" text-anchor="end" >0.3</text>
<text x="43.9" y="45.9" font-size="8.5" text-anchor="end" >0.2</text>
<text x="43.9" y="68.6" font-size="8.5" text-anchor="end" >0.1</text>
<text x="43.9" y="91.2" font-size="8.5" text-anchor="end" >0.0</text>
<text x="43.9" y="113.9" font-size="8.5" text-anchor="end" >−0.1</text>
<text x="43.9" y="136.5" font-size="8.5" text-anchor="end" >−0.2</text>
<text x="159.5" y="171.9" font-size="10.4" text-anchor="middle" textLength="45.5" lengthAdjust="spacing"><tspan font-style="italic">Kc</tspan>(<tspan font-style="italic">d</tspan> <tspan dy="-0.7">–</tspan><tspan dy="0.7"> 1)</tspan></text>
<text transform="translate(9.8,73.6) rotate(-90)" font-size="10.4" text-anchor="middle">SHAP value for</text>
<text transform="translate(21.6,73.6) rotate(-90)" font-size="10.4" text-anchor="middle" textLength="46.5" lengthAdjust="spacing"><tspan font-style="italic">Kc</tspan>(<tspan font-style="italic">d</tspan> <tspan dy="-0.7">–</tspan><tspan dy="0.7"> 1)</tspan></text>
<rect x="280.40" y="1.30" width="5.6" height="144.60" fill="#e9eef8"/>
<rect x="281.90" y="1.80" width="2.5" height="143.60" fill="url(#cb)"/>
<text x="294.5" y="8.9" font-size="8.5" text-anchor="start" >0.75</text>
<text x="294.5" y="29.0" font-size="8.5" text-anchor="start" >0.50</text>
<text x="294.5" y="49.0" font-size="8.5" text-anchor="start" >0.25</text>
<text x="294.5" y="69.1" font-size="8.5" text-anchor="start" >0.00</text>
<text x="294.5" y="89.1" font-size="8.5" text-anchor="start" >−0.25</text>
<text x="294.5" y="109.2" font-size="8.5" text-anchor="start" >−0.50</text>
<text x="294.5" y="129.2" font-size="8.5" text-anchor="start" >−0.75</text>
<path d="M286.70 5.81h4.5M286.70 25.87h4.5M286.70 45.92h4.5M286.70 65.98h4.5M286.70 86.03h4.5M286.70 106.09h4.5M286.70 126.15h4.5" stroke="#3a3a3a" stroke-width="1.1" fill="none"/>
<text transform="translate(327.0,73.6) rotate(-90)" font-size="10.4" text-anchor="middle" font-style="italic">Sin</text>
<rect x="408.80" y="1.90" width="214.20" height="143.30" fill="#eaeaf2"/>
<path d="M410.50 1.90V145.20M461.00 1.90V145.20M511.50 1.90V145.20M562.00 1.90V145.20M612.50 1.90V145.20M408.80 19.80H623.00M408.80 48.80H623.00M408.80 77.80H623.00M408.80 106.80H623.00M408.80 135.80H623.00" stroke="#fff" stroke-width="0.9" fill="none"/>
<g stroke-width="3.1" stroke-linecap="round" fill="none"><path d="M416.8 83.0h0M425.7 85.4h0M440.1 95.0h0M448.1 62.9h0M447.3 66.9h0M422.5 84.6h0" stroke="#ff0057"/><path d="M418.4 84.3h0" stroke="#ff0051"/><path d="M424.1 83.8h0M430.5 84.9h0M433.7 83.0h0" stroke="#fe005c"/><path d="M428.1 83.0h0M432.1 91.8h0M436.1 95.8h0M427.3 84.6h0M424.9 82.7h0" stroke="#fc0062"/><path d="M444.1 95.8h0M446.5 75.8h0" stroke="#f90067"/><path d="M437.7 73.7h0M485.9 62.1h0" stroke="#0080f7"/><path d="M436.6 79.0h0M451.4 104.2h0M461.0 118.3h0M466.6 115.4h0" stroke="#0084f9"/><path d="M447.3 104.2h0M461.0 115.1h0" stroke="#007cf5"/><path d="M490.2 90.2h0" stroke="#0087fa"/><path d="M454.4 90.6h0M463.2 92.7h0M450.9 86.1h0M467.3 87.9h0M445.1 90.9h0M457.4 88.6h0M438.6 89.6h0M438.4 90.7h0M440.1 89.7h0" stroke="#0080f7"/><path d="M465.6 90.0h0M446.0 82.2h0M446.5 88.2h0M462.4 90.4h0" stroke="#754fd1"/><path d="M448.7 84.5h0M462.9 92.5h0M467.7 91.5h0" stroke="#8443c6"/><path d="M452.1 94.4h0M444.4 83.7h0M451.7 92.2h0M458.7 85.2h0M459.2 91.2h0M451.6 89.6h0M456.8 90.6h0M461.6 93.2h0M446.8 86.4h0M457.7 91.6h0M458.9 88.6h0M446.6 83.3h0M444.1 83.0h0M447.6 90.9h0M460.5 84.0h0M455.6 94.3h0M456.6 85.2h0M444.7 88.0h0" stroke="#0084f9"/><path d="M446.0 86.2h0M448.1 90.9h0" stroke="#6c54d6"/><path d="M438.4 88.9h0M435.0 87.6h0M458.0 93.9h0M437.6 89.4h0M455.9 94.2h0M462.0 94.4h0M462.4 82.0h0M461.7 85.3h0" stroke="#0087fa"/><path d="M467.5 92.7h0M442.4 90.1h0M467.2 93.9h0M449.3 88.4h0" stroke="#007cf5"/><path d="M460.5 84.5h0M445.8 85.4h0" stroke="#4b63e3"/><path d="M452.5 93.6h0M467.4 89.8h0M451.0 83.9h0" stroke="#008bfb"/><path d="M435.9 89.2h0" stroke="#585edf"/><path d="M459.4 83.0h0" stroke="#236cea"/><path d="M451.5 91.5h0" stroke="#0074f0"/><path d="M452.0 89.0h0" stroke="#7d49cb"/><path d="M457.6 85.4h0" stroke="#0070ed"/><path d="M445.9 89.0h0" stroke="#8b3cc0"/><path d="M448.0 88.4h0M450.2 88.7h0" stroke="#754fd1"/><path d="M464.7 88.5h0M441.8 89.6h0M468.3 90.9h0M455.6 83.7h0M444.0 89.6h0M446.8 85.8h0M465.1 84.3h0M466.6 94.1h0" stroke="#0080f7"/><path d="M464.7 88.4h0M445.2 90.7h0M448.5 86.6h0M442.2 87.6h0M436.5 86.6h0M453.7 89.8h0M462.1 91.4h0M455.0 88.1h0M462.3 82.2h0" stroke="#0084f9"/><path d="M463.4 84.0h0M438.5 83.3h0M446.1 83.5h0M450.1 91.2h0M438.0 87.6h0" stroke="#8443c6"/><path d="M446.2 89.7h0M462.0 93.8h0" stroke="#0070ed"/><path d="M451.3 93.1h0M446.9 89.0h0M443.4 86.4h0M465.8 83.3h0" stroke="#008bfb"/><path d="M454.5 82.9h0M445.9 84.1h0M462.0 82.7h0M437.4 88.0h0M458.7 81.8h0M455.8 83.2h0" stroke="#007cf5"/><path d="M445.4 83.1h0M467.0 83.1h0" stroke="#4b63e3"/><path d="M444.3 83.0h0M462.2 91.3h0M436.6 87.0h0M456.5 85.2h0M453.5 92.6h0M443.2 87.0h0M464.1 81.9h0M446.8 91.1h0M464.4 93.8h0M447.0 90.7h0" stroke="#0087fa"/><path d="M467.1 85.7h0M466.3 93.6h0M444.9 82.3h0" stroke="#7d49cb"/><path d="M461.5 84.5h0" stroke="#6c54d6"/><path d="M453.7 85.0h0M442.1 92.1h0M447.3 91.9h0" stroke="#3b68e7"/><path d="M464.6 86.4h0M460.9 90.5h0" stroke="#585edf"/><path d="M454.6 93.8h0" stroke="#6359da"/><path d="M458.3 92.6h0" stroke="#8b3cc0"/><path d="M437.9 88.8h0M447.8 91.5h0M455.6 87.7h0M450.5 85.4h0M458.6 81.8h0M461.5 89.3h0M450.7 86.5h0M460.8 82.4h0M434.6 87.5h0M463.8 92.2h0M467.2 91.8h0" stroke="#0080f7"/><path d="M451.9 84.5h0M443.6 87.0h0M457.7 84.9h0" stroke="#3b68e7"/><path d="M444.3 86.8h0M465.1 89.6h0M460.1 90.0h0M448.7 88.9h0M437.4 86.4h0M442.7 90.3h0M460.7 82.1h0M464.0 85.9h0M463.9 89.3h0M448.0 92.1h0M461.7 92.1h0M437.2 84.9h0" stroke="#0084f9"/><path d="M457.2 86.8h0M444.0 91.1h0M462.7 87.4h0M441.0 91.1h0M452.7 92.3h0M455.3 89.6h0" stroke="#008bfb"/><path d="M467.0 93.2h0M467.5 93.9h0M459.1 87.8h0" stroke="#8443c6"/><path d="M455.0 89.0h0M463.2 90.7h0" stroke="#585edf"/><path d="M456.9 85.6h0M465.6 81.5h0M467.3 84.5h0M463.9 81.8h0M444.8 91.1h0M458.8 91.5h0M440.6 90.5h0M438.0 84.5h0" stroke="#0087fa"/><path d="M442.5 86.7h0" stroke="#4b63e3"/><path d="M447.7 91.6h0M455.7 93.6h0M442.1 89.1h0" stroke="#6c54d6"/><path d="M447.1 93.2h0M441.4 87.1h0M447.8 82.4h0M448.1 82.5h0" stroke="#754fd1"/><path d="M453.1 85.3h0M463.4 89.6h0M437.7 86.9h0M440.4 84.3h0" stroke="#007cf5"/><path d="M466.8 81.9h0" stroke="#7d49cb"/><path d="M461.6 86.4h0" stroke="#0070ed"/><path d="M455.6 99.7h0M459.2 101.5h0M463.5 103.5h0M456.6 106.3h0" stroke="#7d49cb"/><path d="M459.2 105.9h0" stroke="#8b3cc0"/><path d="M467.7 100.9h0" stroke="#0080f7"/><path d="M460.6 107.4h0M459.8 99.9h0M457.8 97.7h0" stroke="#0084f9"/><path d="M464.4 97.1h0M468.0 96.3h0" stroke="#0087fa"/><path d="M454.4 94.2h0M458.5 96.2h0M453.0 102.4h0M465.9 105.1h0M463.7 97.4h0M456.3 106.5h0" stroke="#6c54d6"/><path d="M461.8 97.9h0M465.9 99.9h0M468.1 97.2h0M464.1 104.6h0" stroke="#8443c6"/><path d="M466.8 105.0h0M455.5 98.0h0M463.2 104.3h0" stroke="#b30aa3"/><path d="M467.5 102.3h0" stroke="#a31daa"/><path d="M452.8 96.3h0M463.5 98.8h0" stroke="#bb00a0"/><path d="M462.2 103.8h0" stroke="#007cf5"/><path d="M461.4 95.1h0M462.5 100.4h0" stroke="#008bfb"/><path d="M459.0 96.8h0" stroke="#9b23ad"/><path d="M458.6 95.7h0" stroke="#8b3cc0"/><path d="M459.7 107.6h0M465.5 96.6h0M464.8 104.3h0M463.1 100.9h0M463.0 95.8h0M459.4 95.9h0" stroke="#007cf5"/><path d="M460.2 95.6h0" stroke="#a31daa"/><path d="M464.2 99.2h0" stroke="#754fd1"/><path d="M461.3 103.8h0M461.5 102.9h0" stroke="#bb00a0"/><path d="M460.0 98.6h0" stroke="#0080f7"/><path d="M452.3 102.0h0M459.9 95.5h0M452.8 100.6h0M461.5 103.0h0" stroke="#6c54d6"/><path d="M459.7 103.6h0" stroke="#0084f9"/><path d="M455.2 101.9h0M454.3 98.0h0" stroke="#ab15a7"/><path d="M467.0 100.7h0" stroke="#b30aa3"/><path d="M464.2 96.5h0M455.1 94.5h0" stroke="#8443c6"/><path d="M460.3 94.5h0M463.8 100.5h0" stroke="#6359da"/><path d="M457.5 99.7h0" stroke="#0087fa"/><path d="M466.0 102.6h0M465.6 96.7h0M458.5 102.2h0" stroke="#0080f7"/><path d="M463.8 99.1h0M462.9 95.5h0" stroke="#b30aa3"/><path d="M454.4 97.7h0M457.8 103.3h0" stroke="#7d49cb"/><path d="M463.2 95.2h0M463.1 107.6h0" stroke="#0084f9"/><path d="M461.4 105.7h0M459.2 105.2h0M453.5 99.2h0M461.7 105.2h0" stroke="#0087fa"/><path d="M454.1 104.2h0" stroke="#6359da"/><path d="M462.7 100.0h0M456.5 104.0h0M458.0 100.3h0M463.4 101.8h0" stroke="#8443c6"/><path d="M457.0 106.0h0M460.4 93.9h0M461.6 96.2h0M454.1 98.6h0" stroke="#008bfb"/><path d="M460.1 101.8h0" stroke="#8b3cc0"/><path d="M468.0 101.8h0M460.7 107.6h0" stroke="#6c54d6"/><path d="M459.4 98.3h0M459.2 95.1h0" stroke="#007cf5"/><path d="M458.8 101.8h0" stroke="#ab15a7"/><path d="M448.7 83.9h0M442.2 82.5h0M435.9 80.1h0M443.1 82.2h0" stroke="#ff0057"/><path d="M434.9 84.3h0M435.6 82.8h0M465.6 83.2h0M443.0 86.7h0M442.3 82.4h0M447.4 86.2h0" stroke="#fc0062"/><path d="M445.6 82.9h0M444.8 82.8h0" stroke="#0080f7"/><path d="M443.4 81.4h0M453.8 79.1h0" stroke="#b30aa3"/><path d="M437.7 81.4h0M454.8 78.1h0M451.8 83.0h0" stroke="#fe005c"/><path d="M443.2 86.8h0M444.9 80.6h0" stroke="#d5008f"/><path d="M431.0 83.6h0M452.3 84.4h0M446.0 82.4h0" stroke="#e9007c"/><path d="M435.2 84.7h0M449.6 83.5h0" stroke="#e50081"/><path d="M454.3 80.9h0" stroke="#0084f9"/><path d="M434.5 83.7h0M456.7 83.4h0M435.5 85.6h0M462.4 83.5h0" stroke="#da008a"/><path d="M449.7 84.1h0M435.8 82.0h0" stroke="#e00086"/><path d="M453.1 84.5h0" stroke="#008bfb"/><path d="M465.9 81.9h0M448.7 81.4h0" stroke="#a31daa"/><path d="M459.3 79.0h0" stroke="#f5006c"/><path d="M460.7 81.3h0" stroke="#0087fa"/><path d="M447.9 84.6h0M442.2 86.2h0" stroke="#ff0051"/><path d="M438.2 79.8h0" stroke="#c2009c"/><path d="M445.5 80.2h0" stroke="#ab15a7"/><path d="M463.8 81.5h0M448.2 77.9h0M457.2 83.2h0" stroke="#f90067"/><path d="M445.4 82.7h0M441.1 78.1h0M445.8 83.9h0M463.5 79.5h0" stroke="#fc0062"/><path d="M452.3 78.7h0M445.9 86.3h0M451.3 85.3h0" stroke="#e9007c"/><path d="M446.8 81.3h0" stroke="#007cf5"/><path d="M445.6 78.4h0M447.6 85.5h0M434.6 84.3h0M449.3 83.0h0M447.8 78.3h0" stroke="#fe005c"/><path d="M448.5 81.9h0M436.4 80.6h0M435.3 84.7h0M446.0 85.4h0M457.1 84.2h0M455.6 84.2h0" stroke="#ff0057"/><path d="M435.3 81.8h0M429.6 82.7h0" stroke="#d5008f"/><path d="M432.3 81.9h0" stroke="#0080f7"/><path d="M463.7 80.4h0" stroke="#bb00a0"/><path d="M463.5 79.5h0M455.2 83.6h0M437.4 82.9h0" stroke="#0087fa"/><path d="M454.6 83.8h0M438.8 80.3h0M459.3 81.9h0M454.6 78.0h0" stroke="#ff0051"/><path d="M435.1 85.3h0" stroke="#c2009c"/><path d="M443.1 78.7h0" stroke="#b30aa3"/><path d="M448.2 85.0h0" stroke="#da008a"/><path d="M430.3 84.1h0" stroke="#ab15a7"/><path d="M452.6 84.5h0M460.6 79.3h0" stroke="#e50081"/><path d="M446.6 86.1h0" stroke="#e00086"/><path d="M450.9 81.7h0M431.0 86.0h0M445.2 78.3h0M450.0 83.6h0" stroke="#ff0051"/><path d="M447.6 77.0h0M441.0 80.8h0M454.6 79.5h0M464.7 79.7h0M434.3 83.6h0M447.4 81.5h0" stroke="#f90067"/><path d="M451.5 78.1h0M443.0 82.8h0" stroke="#0084f9"/><path d="M443.6 84.4h0M444.9 81.4h0" stroke="#e00086"/><path d="M455.8 79.8h0" stroke="#007cf5"/><path d="M441.8 79.7h0" stroke="#008bfb"/><path d="M453.0 84.1h0" stroke="#d5008f"/><path d="M436.8 80.1h0M453.5 84.3h0M448.8 82.2h0M437.9 86.1h0" stroke="#fc0062"/><path d="M445.9 78.5h0M447.9 77.1h0" stroke="#e50081"/><path d="M437.2 85.4h0" stroke="#bb00a0"/><path d="M446.5 78.3h0" stroke="#ab15a7"/><path d="M466.5 82.2h0M458.1 84.8h0M432.2 85.0h0M465.8 81.7h0M461.7 80.8h0M446.1 77.9h0" stroke="#ff0057"/><path d="M439.0 82.5h0M440.3 82.6h0M444.2 77.8h0M443.6 85.6h0" stroke="#f5006c"/><path d="M441.2 78.8h0" stroke="#e9007c"/><path d="M441.2 78.4h0M434.6 81.7h0" stroke="#fe005c"/><path d="M440.9 84.1h0" stroke="#da008a"/><path d="M432.7 82.4h0" stroke="#0087fa"/><path d="M484.0 85.6h0M478.1 76.8h0M492.7 79.8h0M497.9 82.1h0M493.6 74.0h0M475.5 76.2h0" stroke="#bb00a0"/><path d="M483.9 83.6h0M478.9 81.8h0M495.2 75.1h0" stroke="#a31daa"/><path d="M479.6 81.5h0M491.9 72.1h0" stroke="#0084f9"/><path d="M489.9 80.3h0M469.1 80.0h0M489.3 87.3h0" stroke="#fc0062"/><path d="M477.8 85.4h0M488.7 86.5h0M474.1 84.7h0" stroke="#e00086"/><path d="M484.1 75.3h0M489.5 75.3h0M481.7 86.2h0" stroke="#da008a"/><path d="M473.8 80.6h0M476.8 73.6h0M497.3 80.2h0" stroke="#008bfb"/><path d="M471.2 85.3h0M493.4 78.6h0M473.6 85.8h0" stroke="#ff0057"/><path d="M471.0 80.5h0M491.2 71.8h0M491.0 71.9h0" stroke="#0087fa"/><path d="M471.6 83.6h0M479.9 74.9h0M487.5 83.4h0M481.5 85.5h0" stroke="#e50081"/><path d="M494.1 84.0h0" stroke="#ff0051"/><path d="M486.6 73.0h0" stroke="#f5006c"/><path d="M479.9 82.7h0M474.7 74.0h0" stroke="#ab15a7"/><path d="M480.7 78.0h0" stroke="#e9007c"/><path d="M485.2 71.8h0" stroke="#ee0077"/><path d="M480.5 73.3h0M495.9 78.3h0" stroke="#c2009c"/><path d="M494.3 83.5h0M479.1 81.2h0" stroke="#f90067"/><path d="M475.4 75.5h0" stroke="#fe005c"/><path d="M489.4 76.4h0M483.5 77.0h0M470.0 83.1h0M490.1 83.7h0" stroke="#b30aa3"/><path d="M482.1 76.6h0" stroke="#0080f7"/><path d="M485.6 80.1h0M484.0 83.7h0M488.9 75.1h0M493.8 78.1h0M477.6 77.0h0" stroke="#b30aa3"/><path d="M491.5 72.0h0" stroke="#9b23ad"/><path d="M488.7 82.2h0M479.3 81.7h0" stroke="#f90067"/><path d="M497.4 77.0h0M496.1 81.3h0M473.1 84.6h0" stroke="#ff0051"/><path d="M469.3 83.3h0M488.3 87.4h0" stroke="#e00086"/><path d="M487.2 73.1h0M479.6 78.0h0" stroke="#007cf5"/><path d="M471.0 84.2h0M478.2 85.1h0M483.8 74.9h0" stroke="#0087fa"/><path d="M490.6 78.9h0M473.5 83.5h0M482.8 81.9h0" stroke="#ff0057"/><path d="M471.5 76.7h0" stroke="#cf0093"/><path d="M481.2 84.9h0M491.7 79.9h0" stroke="#a31daa"/><path d="M486.1 83.9h0M488.0 71.7h0M491.9 79.1h0" stroke="#d5008f"/><path d="M474.3 78.5h0" stroke="#008bfb"/><path d="M496.4 80.5h0" stroke="#fe005c"/><path d="M483.4 82.9h0M469.3 81.6h0M492.8 80.1h0M486.9 80.7h0M488.4 78.2h0M475.4 77.9h0" stroke="#e9007c"/><path d="M470.6 81.1h0M474.6 84.0h0" stroke="#e50081"/><path d="M478.4 82.6h0M471.8 83.7h0" stroke="#ab15a7"/><path d="M491.0 79.4h0M493.9 84.4h0M489.3 83.4h0" stroke="#fc0062"/><path d="M481.5 74.2h0M472.6 81.1h0" stroke="#bb00a0"/><path d="M484.9 79.6h0M476.7 83.3h0M485.5 84.7h0" stroke="#da008a"/><path d="M480.5 85.1h0M481.5 74.9h0M475.1 77.3h0M473.3 80.2h0" stroke="#ff0051"/><path d="M477.9 82.8h0M470.7 79.4h0M472.6 74.6h0" stroke="#d5008f"/><path d="M494.1 74.4h0M472.7 86.0h0" stroke="#f90067"/><path d="M490.7 76.0h0M476.1 82.4h0" stroke="#bb00a0"/><path d="M485.6 81.6h0M486.2 73.2h0M489.4 79.3h0M488.1 84.6h0M497.5 80.3h0M481.1 83.9h0" stroke="#0087fa"/><path d="M469.8 79.3h0M472.6 79.6h0M485.0 83.8h0" stroke="#a31daa"/><path d="M483.0 71.4h0M485.9 75.3h0" stroke="#fc0062"/><path d="M478.8 74.4h0M470.6 82.1h0M494.1 81.8h0" stroke="#ab15a7"/><path d="M486.6 73.9h0M498.2 80.6h0" stroke="#ee0077"/><path d="M474.8 85.8h0M476.1 71.7h0" stroke="#e50081"/><path d="M489.8 79.6h0M477.9 76.0h0M491.0 79.3h0M487.3 79.2h0M481.8 80.2h0" stroke="#ff0057"/><path d="M469.0 83.1h0M473.0 76.4h0" stroke="#da008a"/><path d="M478.0 81.7h0M480.5 80.9h0M484.5 76.3h0" stroke="#9b23ad"/><path d="M484.3 72.5h0M477.5 77.0h0" stroke="#e9007c"/><path d="M490.5 82.9h0" stroke="#b30aa3"/><path d="M473.4 82.5h0M491.1 77.7h0" stroke="#fe005c"/><path d="M487.6 87.0h0" stroke="#008bfb"/><path d="M492.3 76.8h0" stroke="#f5006c"/><path d="M472.7 77.2h0" stroke="#0080f7"/><path d="M477.5 82.1h0M468.8 85.0h0M479.3 72.8h0" stroke="#0084f9"/><path d="M473.0 86.1h0M474.4 75.2h0M477.6 74.5h0" stroke="#0087fa"/><path d="M472.6 85.7h0M472.5 80.9h0M473.8 81.9h0M476.5 71.3h0" stroke="#0080f7"/><path d="M469.3 84.1h0" stroke="#8b3cc0"/><path d="M474.4 81.4h0" stroke="#7d49cb"/><path d="M470.6 85.2h0M468.8 81.4h0" stroke="#007cf5"/><path d="M475.2 72.9h0" stroke="#754fd1"/><path d="M472.9 79.1h0" stroke="#008bfb"/><path d="M471.2 84.3h0" stroke="#007cf5"/><path d="M477.1 82.6h0M477.6 71.2h0M477.5 77.1h0" stroke="#0087fa"/><path d="M472.3 74.7h0M473.4 84.0h0M472.7 79.8h0" stroke="#0084f9"/><path d="M477.1 81.9h0M478.2 79.5h0M474.3 73.0h0M474.2 75.5h0" stroke="#0080f7"/><path d="M473.7 75.5h0M476.8 70.9h0" stroke="#008bfb"/><path d="M473.4 83.2h0" stroke="#7d49cb"/><path d="M469.9 82.0h0" stroke="#8443c6"/><path d="M476.0 83.7h0M478.3 73.5h0M475.4 79.9h0M473.0 84.2h0" stroke="#0087fa"/><path d="M476.1 79.0h0M477.0 74.5h0" stroke="#008bfb"/><path d="M472.8 84.5h0M470.8 76.6h0" stroke="#754fd1"/><path d="M477.9 75.8h0M473.6 78.1h0" stroke="#0084f9"/><path d="M468.5 84.1h0M478.4 76.7h0" stroke="#0080f7"/><path d="M479.6 76.7h0M469.6 78.0h0" stroke="#007cf5"/><path d="M474.4 83.3h0" stroke="#7d49cb"/><path d="M479.5 45.6h0" stroke="#bb00a0"/><path d="M476.3 50.4h0" stroke="#9b23ad"/><path d="M478.7 58.1h0M481.9 66.9h0M500.8 44.0h0M491.5 102.3h0M489.9 106.0h0" stroke="#ab15a7"/><path d="M472.2 60.5h0M484.8 95.0h0M486.7 71.8h0" stroke="#a31daa"/><path d="M481.1 91.8h0M478.7 60.5h0" stroke="#b30aa3"/><path d="M486.2 40.4h0M510.0 59.7h0" stroke="#fc0062"/><path d="M487.2 52.5h0M473.0 64.5h0M476.7 62.9h0M513.2 82.2h0M485.6 57.3h0" stroke="#f90067"/><path d="M485.9 56.5h0" stroke="#ff0051"/><path d="M488.3 68.5h0M512.4 63.7h0" stroke="#ff0057"/><path d="M510.4 70.7h0M506.8 70.4h0" stroke="#ab15a7"/><path d="M510.8 71.4h0M503.9 73.6h0" stroke="#e9007c"/><path d="M502.3 73.6h0M511.8 70.6h0M514.8 69.8h0M498.3 77.2h0" stroke="#8443c6"/><path d="M501.5 72.9h0" stroke="#b30aa3"/><path d="M511.7 70.6h0M510.4 70.2h0M505.2 71.4h0M516.4 72.8h0" stroke="#7d49cb"/><path d="M508.0 72.9h0" stroke="#6c54d6"/><path d="M503.1 74.0h0" stroke="#cf0093"/><path d="M514.4 70.3h0" stroke="#c2009c"/><path d="M500.4 76.3h0M512.4 69.7h0" stroke="#754fd1"/><path d="M505.1 72.1h0" stroke="#8b3cc0"/><path d="M501.1 73.2h0M507.9 70.2h0" stroke="#da008a"/><path d="M500.6 73.9h0" stroke="#a31daa"/><path d="M526.1 67.1h0M533.9 70.3h0M528.4 67.5h0M542.3 67.9h0M534.0 70.3h0M523.9 64.7h0M538.4 70.8h0" stroke="#f90067"/><path d="M528.6 71.2h0M524.4 72.1h0M527.2 64.0h0M533.6 66.5h0M527.8 65.9h0M529.5 70.3h0" stroke="#ff0057"/><path d="M543.2 72.9h0M526.4 67.5h0" stroke="#e00086"/><path d="M525.6 68.4h0M523.8 65.9h0M525.3 67.0h0M531.1 66.1h0M531.6 66.6h0" stroke="#fe005c"/><path d="M537.4 66.2h0" stroke="#e9007c"/><path d="M526.3 68.7h0M532.2 67.6h0M526.7 65.3h0" stroke="#e50081"/><path d="M531.3 71.3h0M537.6 64.9h0M536.7 69.7h0" stroke="#da008a"/><path d="M535.2 70.9h0M524.0 66.5h0M528.5 66.0h0M539.9 73.2h0" stroke="#ff0051"/><path d="M538.6 69.6h0" stroke="#d5008f"/><path d="M532.9 66.6h0" stroke="#f5006c"/><path d="M523.8 67.0h0M531.6 66.8h0" stroke="#fc0062"/><path d="M541.8 72.6h0M535.5 69.7h0M532.9 69.0h0M528.8 67.3h0M540.4 71.7h0M528.7 66.6h0" stroke="#fc0062"/><path d="M538.9 66.7h0M536.8 72.9h0M530.3 64.4h0M528.3 70.1h0M524.5 66.8h0M529.6 63.9h0" stroke="#fe005c"/><path d="M531.5 66.7h0" stroke="#e9007c"/><path d="M528.2 69.4h0M535.7 73.0h0M537.6 68.2h0M535.6 71.6h0M524.8 71.7h0M534.0 66.6h0M525.6 72.7h0M541.4 67.3h0" stroke="#ff0057"/><path d="M522.6 67.0h0M542.2 68.7h0" stroke="#da008a"/><path d="M537.8 65.9h0M537.8 72.3h0M541.0 67.7h0M538.3 71.2h0M529.1 68.7h0" stroke="#f90067"/><path d="M541.8 67.6h0M530.1 64.7h0M528.7 67.4h0" stroke="#e50081"/><path d="M543.2 67.8h0M544.5 72.3h0" stroke="#d5008f"/><path d="M525.9 70.0h0M536.1 65.7h0" stroke="#ff0051"/><path d="M528.4 67.6h0M526.5 65.5h0M536.6 68.1h0M526.3 71.2h0" stroke="#ff0051"/><path d="M537.8 67.1h0M533.6 71.9h0" stroke="#f5006c"/><path d="M530.8 71.7h0M532.8 71.1h0M536.8 65.2h0M542.1 71.7h0M524.9 66.8h0M526.9 69.1h0M542.1 71.8h0" stroke="#f90067"/><path d="M535.2 65.9h0M543.4 67.2h0" stroke="#da008a"/><path d="M526.6 66.1h0M524.6 67.7h0M527.5 70.0h0M542.2 71.5h0M540.3 72.6h0M544.4 70.3h0M528.2 69.2h0" stroke="#fe005c"/><path d="M544.7 69.6h0M523.6 65.6h0M525.1 67.9h0" stroke="#e00086"/><path d="M538.3 65.5h0" stroke="#e9007c"/><path d="M528.6 69.3h0M525.1 69.2h0M542.0 67.5h0M539.1 68.7h0" stroke="#ff0057"/><path d="M528.3 64.5h0M533.3 71.0h0M531.1 69.9h0M530.4 70.5h0" stroke="#fc0062"/><path d="M533.9 71.4h0" stroke="#d5008f"/><path d="M530.8 83.0h0M522.9 75.3h0M519.2 74.6h0M522.7 77.3h0" stroke="#ab15a7"/><path d="M524.7 71.6h0M520.1 73.5h0M519.4 79.3h0M521.3 72.6h0M523.0 74.3h0" stroke="#0084f9"/><path d="M523.3 82.4h0M542.4 79.6h0M534.8 72.5h0M544.2 73.0h0M543.5 77.6h0M538.4 77.1h0M524.2 78.7h0M544.3 77.1h0M534.0 81.6h0" stroke="#a31daa"/><path d="M520.5 84.0h0" stroke="#c2009c"/><path d="M540.3 81.4h0M523.6 73.9h0M522.6 73.2h0M540.1 73.9h0M517.4 75.8h0M545.6 74.9h0" stroke="#9b23ad"/><path d="M540.3 75.4h0M533.5 76.1h0M530.7 74.3h0" stroke="#7d49cb"/><path d="M541.9 76.2h0" stroke="#8b3cc0"/><path d="M521.0 83.3h0M536.8 81.5h0M526.3 77.9h0M539.3 75.1h0M522.0 73.7h0" stroke="#b30aa3"/><path d="M541.9 75.6h0M541.4 79.1h0M519.4 72.1h0M540.1 78.4h0M537.6 74.1h0" stroke="#6c54d6"/><path d="M530.6 83.3h0M543.1 79.1h0M541.6 73.7h0M528.1 76.7h0M529.7 72.2h0M528.9 76.9h0M524.6 73.2h0" stroke="#754fd1"/><path d="M524.9 82.1h0M543.4 76.3h0M526.8 79.2h0M528.3 84.7h0M524.5 75.0h0M525.8 84.4h0M527.2 78.7h0" stroke="#bb00a0"/><path d="M520.3 79.1h0M531.6 75.9h0" stroke="#0080f7"/><path d="M527.8 83.4h0M519.7 76.0h0M526.7 76.4h0" stroke="#8443c6"/><path d="M520.8 71.8h0M519.2 83.1h0" stroke="#0087fa"/><path d="M538.8 79.0h0" stroke="#008bfb"/><path d="M534.7 77.5h0M519.1 82.3h0M522.1 76.5h0M527.4 81.7h0M535.1 74.0h0M525.2 76.9h0M535.3 81.2h0" stroke="#0080f7"/><path d="M521.0 83.1h0M536.5 80.4h0M529.4 75.6h0M536.5 75.4h0" stroke="#6c54d6"/><path d="M538.4 78.7h0" stroke="#008bfb"/><path d="M530.4 75.1h0M527.9 72.5h0M526.1 78.6h0M519.4 81.2h0M517.1 76.9h0" stroke="#bb00a0"/><path d="M542.1 72.2h0M528.8 75.6h0M526.2 81.6h0" stroke="#7d49cb"/><path d="M541.8 75.5h0M525.4 83.9h0" stroke="#007cf5"/><path d="M526.4 72.4h0M526.3 74.1h0M531.3 79.8h0M533.2 83.5h0M537.4 79.5h0M517.3 79.4h0M537.7 74.2h0M528.0 72.3h0" stroke="#ab15a7"/><path d="M540.7 78.1h0M528.0 82.4h0M530.5 78.2h0M533.4 82.9h0M537.3 77.0h0" stroke="#8443c6"/><path d="M523.1 75.0h0M531.7 83.6h0M531.5 73.6h0" stroke="#a31daa"/><path d="M534.4 76.5h0M543.1 72.4h0M529.4 72.8h0" stroke="#8b3cc0"/><path d="M527.1 71.6h0M526.5 76.1h0M517.6 79.6h0M530.6 72.8h0M523.7 73.0h0M517.1 80.8h0" stroke="#0084f9"/><path d="M531.3 84.5h0M526.4 75.4h0M540.4 76.8h0M539.5 78.6h0M539.7 76.4h0M541.9 80.2h0M519.2 74.5h0M533.5 77.6h0" stroke="#b30aa3"/><path d="M542.4 78.1h0M543.6 76.2h0" stroke="#6359da"/><path d="M516.8 80.6h0M526.2 80.6h0" stroke="#754fd1"/><path d="M528.3 81.8h0M518.9 79.7h0" stroke="#0087fa"/><path d="M528.8 80.5h0M529.3 74.9h0M542.8 78.3h0M527.5 83.3h0" stroke="#bb00a0"/><path d="M541.1 80.4h0M520.6 74.2h0M524.1 79.5h0M524.4 76.4h0" stroke="#8443c6"/><path d="M521.2 79.8h0M532.2 79.1h0M518.0 75.4h0M519.6 80.7h0M529.8 76.6h0" stroke="#754fd1"/><path d="M530.1 76.7h0M534.5 74.7h0M534.7 80.2h0" stroke="#9b23ad"/><path d="M527.4 82.8h0M537.3 73.0h0M540.4 75.2h0M541.3 79.1h0M525.7 82.4h0M524.0 73.9h0M520.5 72.7h0" stroke="#ab15a7"/><path d="M535.0 83.2h0M523.4 75.8h0M535.6 81.9h0" stroke="#0080f7"/><path d="M524.9 82.9h0M531.8 73.6h0M541.5 78.3h0M531.3 77.8h0M520.1 80.8h0" stroke="#c2009c"/><path d="M535.5 81.0h0M538.9 77.9h0M526.6 72.1h0M528.1 72.3h0M536.1 72.7h0M537.0 78.1h0M541.8 74.7h0" stroke="#6c54d6"/><path d="M536.2 74.8h0M534.7 77.1h0" stroke="#7d49cb"/><path d="M533.3 75.2h0M534.7 84.2h0" stroke="#8b3cc0"/><path d="M529.4 82.0h0M534.5 79.7h0M524.2 76.9h0M519.2 74.6h0M526.3 80.5h0" stroke="#b30aa3"/><path d="M521.6 74.8h0" stroke="#0084f9"/><path d="M529.6 83.8h0M532.6 79.4h0" stroke="#6359da"/><path d="M537.4 81.5h0M534.0 74.8h0" stroke="#0087fa"/><path d="M519.9 79.8h0M542.4 78.7h0M522.3 75.3h0M544.5 73.0h0M544.8 76.5h0M517.7 76.8h0M518.5 74.8h0M530.6 82.6h0" stroke="#a31daa"/><path d="M532.9 86.9h0M536.5 83.5h0M528.3 87.5h0" stroke="#0087fa"/><path d="M532.6 83.3h0M538.6 86.6h0M531.3 85.4h0M538.4 84.6h0M530.5 88.2h0M528.7 84.1h0" stroke="#0084f9"/><path d="M535.5 82.7h0M528.2 85.7h0" stroke="#6c54d6"/><path d="M530.3 84.0h0M529.1 85.1h0M538.8 84.9h0" stroke="#0080f7"/><path d="M532.9 87.7h0" stroke="#008bfb"/><path d="M532.0 88.0h0" stroke="#754fd1"/><path d="M537.3 84.1h0M528.8 88.0h0" stroke="#8443c6"/><path d="M532.5 84.3h0" stroke="#007cf5"/><path d="M509.8 60.5h0M512.9 65.8h0M513.3 82.8h0M520.3 83.3h0M523.4 65.3h0" stroke="#ff0057"/><path d="M512.4 64.0h0M519.0 66.6h0" stroke="#fe005c"/><path d="M513.8 68.4h0M516.4 68.8h0M513.3 72.8h0" stroke="#fc0062"/><path d="M510.3 75.8h0M518.1 71.5h0" stroke="#f90067"/><path d="M526.9 64.0h0" stroke="#ff0051"/><path d="M505.0 70.6h0M525.1 55.3h0M532.1 64.4h0" stroke="#8443c6"/><path d="M506.8 71.0h0" stroke="#6c54d6"/><path d="M508.1 78.0h0M523.8 64.0h0" stroke="#6359da"/><path d="M517.7 60.5h0" stroke="#754fd1"/><path d="M550.5 69.7h0M562.8 71.0h0M548.3 72.3h0" stroke="#e9007c"/><path d="M552.3 71.5h0M555.4 73.6h0M561.0 73.6h0M549.2 71.5h0" stroke="#e50081"/><path d="M557.5 67.5h0" stroke="#da008a"/><path d="M564.5 67.5h0" stroke="#e00086"/><path d="M525.1 55.2h0M541.8 41.0h0M522.1 120.0h0" stroke="#6c54d6"/><path d="M517.5 60.3h0" stroke="#754fd1"/><path d="M510.0 73.7h0" stroke="#7d49cb"/><path d="M553.6 70.4h0M572.1 71.4h0" stroke="#da008a"/><path d="M563.3 71.0h0M554.4 73.1h0M569.0 71.6h0M556.3 69.9h0M562.3 73.2h0M580.1 74.0h0" stroke="#e50081"/><path d="M567.1 69.5h0M551.9 72.2h0M569.0 73.4h0M553.2 71.6h0M551.4 69.6h0" stroke="#f90067"/><path d="M563.4 74.3h0M567.5 69.9h0" stroke="#fe005c"/><path d="M570.3 71.1h0M564.8 69.8h0M565.4 71.5h0M550.2 71.2h0" stroke="#fc0062"/><path d="M580.2 74.5h0M569.8 74.0h0M572.5 72.0h0" stroke="#ff0051"/><path d="M562.0 71.8h0" stroke="#e9007c"/><path d="M552.2 73.1h0M554.7 68.1h0" stroke="#d5008f"/><path d="M556.7 70.8h0" stroke="#e00086"/><path d="M575.4 71.1h0M551.6 70.0h0" stroke="#ff0057"/><path d="M559.1 73.3h0" stroke="#ee0077"/><path d="M560.3 71.1h0" stroke="#f5006c"/><path d="M566.9 83.4h0" stroke="#fc0062"/><path d="M607.5 63.5h0M600.2 68.5h0M592.1 74.1h0M595.4 63.0h0M581.7 73.6h0M601.4 80.1h0M596.7 66.3h0M613.4 71.9h0M590.0 79.1h0M612.3 71.8h0" stroke="#0080f7"/><path d="M601.3 68.2h0M588.6 83.7h0M599.7 65.7h0M582.4 71.3h0M597.9 72.8h0M591.7 69.3h0M594.2 68.5h0M589.3 79.6h0M591.7 81.6h0" stroke="#0084f9"/><path d="M589.2 85.1h0M600.8 75.1h0M585.7 72.4h0M602.5 68.6h0" stroke="#b30aa3"/><path d="M593.0 65.5h0" stroke="#007cf5"/><path d="M604.8 67.1h0M592.6 65.3h0M590.3 83.7h0" stroke="#fc0062"/><path d="M606.4 67.0h0M587.4 73.0h0M603.0 78.4h0M589.3 66.7h0M602.2 77.8h0M595.3 67.6h0M602.3 75.1h0M608.3 76.5h0M587.0 72.1h0M609.8 72.5h0M583.0 70.6h0" stroke="#0087fa"/><path d="M613.1 74.0h0M600.8 61.8h0M590.7 65.4h0M592.1 72.5h0" stroke="#da008a"/><path d="M603.2 67.0h0" stroke="#ff0057"/><path d="M589.7 69.7h0M589.4 80.4h0M613.5 67.5h0M596.4 81.6h0M612.8 73.4h0M602.1 76.9h0" stroke="#fe005c"/><path d="M601.5 67.9h0M609.4 73.3h0M587.4 69.0h0M594.8 75.8h0M594.3 70.4h0M601.1 79.8h0" stroke="#e00086"/><path d="M584.6 80.0h0" stroke="#9b23ad"/><path d="M603.7 70.4h0M606.9 68.8h0M599.9 79.6h0M603.0 76.2h0" stroke="#d5008f"/><path d="M594.0 65.2h0M608.2 71.9h0M605.6 63.6h0M592.5 65.6h0M587.3 71.6h0M598.2 64.6h0M612.3 77.1h0M607.9 71.5h0M583.3 71.3h0" stroke="#e9007c"/><path d="M594.3 81.0h0" stroke="#ff0051"/><path d="M583.8 78.7h0M584.5 79.6h0M604.3 62.5h0M587.3 81.3h0M604.4 62.2h0M594.4 80.2h0" stroke="#a31daa"/><path d="M598.5 64.6h0" stroke="#ab15a7"/><path d="M584.1 75.2h0M599.3 73.3h0M601.9 73.1h0M608.8 68.3h0" stroke="#bb00a0"/><path d="M585.3 78.6h0" stroke="#cf0093"/><path d="M603.2 65.1h0M587.7 80.6h0M593.0 64.9h0M601.2 79.7h0M589.0 85.0h0" stroke="#008bfb"/><path d="M591.3 74.0h0M604.8 66.1h0M590.6 83.9h0M587.5 78.8h0M602.9 74.1h0" stroke="#e50081"/><path d="M582.6 73.1h0" stroke="#ee0077"/><path d="M599.8 69.8h0M581.5 72.7h0M582.7 76.4h0M609.2 75.1h0M600.0 69.6h0M596.3 81.5h0" stroke="#f90067"/><path d="M597.3 71.3h0M594.9 69.7h0M596.2 74.9h0M602.7 62.2h0M587.4 79.9h0M610.5 70.0h0M605.9 75.6h0M610.7 73.1h0M597.6 81.0h0" stroke="#e00086"/><path d="M588.6 75.3h0M589.0 76.8h0M593.6 83.1h0M602.6 69.8h0M605.7 68.0h0M611.2 66.5h0M590.9 83.5h0" stroke="#008bfb"/><path d="M611.0 69.0h0M602.0 65.5h0M599.7 72.7h0M611.7 75.6h0M595.3 79.1h0M592.3 63.6h0M593.0 79.5h0M604.0 74.6h0M592.1 69.2h0M597.5 79.2h0" stroke="#e9007c"/><path d="M607.8 67.5h0M598.1 68.7h0M590.1 74.3h0M611.8 67.3h0M613.5 68.4h0M598.1 79.3h0M597.5 80.4h0M600.7 74.3h0M590.9 81.4h0M596.8 64.4h0M598.2 64.6h0M594.6 79.3h0M597.2 63.5h0M604.0 64.8h0" stroke="#0080f7"/><path d="M607.2 74.5h0M584.2 71.5h0M594.6 68.1h0M607.9 72.5h0M596.4 77.3h0M584.5 77.4h0" stroke="#0087fa"/><path d="M603.4 64.0h0M612.6 72.8h0M609.4 65.2h0M609.8 72.0h0" stroke="#bb00a0"/><path d="M605.3 65.4h0M592.6 69.1h0M597.5 75.9h0M597.2 80.6h0" stroke="#cf0093"/><path d="M606.8 73.6h0M591.9 74.6h0M591.7 82.6h0M597.8 81.6h0M589.9 79.5h0" stroke="#ff0057"/><path d="M591.9 66.7h0M599.3 77.5h0M612.3 71.7h0" stroke="#007cf5"/><path d="M587.7 81.6h0M605.8 73.2h0M594.9 82.0h0" stroke="#b30aa3"/><path d="M595.7 62.3h0M586.7 77.6h0" stroke="#da008a"/><path d="M597.2 77.4h0M602.3 66.8h0M598.9 73.0h0M589.0 83.1h0M588.7 83.2h0M606.5 76.1h0M599.0 77.4h0" stroke="#e50081"/><path d="M601.5 69.3h0M607.2 70.1h0M598.3 77.2h0M590.8 80.2h0" stroke="#ab15a7"/><path d="M598.8 75.8h0M590.4 70.5h0M593.4 81.5h0M598.2 72.2h0M584.7 69.6h0" stroke="#0084f9"/><path d="M593.5 72.9h0M582.5 76.1h0M587.9 70.6h0" stroke="#a31daa"/><path d="M582.8 74.4h0M603.4 61.7h0M595.3 61.5h0M607.5 76.2h0" stroke="#d5008f"/><path d="M588.3 74.7h0M595.1 67.1h0" stroke="#f90067"/><path d="M602.6 79.7h0M593.8 66.2h0M590.1 82.0h0" stroke="#fe005c"/><path d="M598.0 64.2h0" stroke="#fc0062"/><path d="M594.8 79.0h0M584.6 76.2h0" stroke="#ff0051"/><path d="M592.2 79.8h0" stroke="#9b23ad"/><path d="M591.3 79.5h0M611.3 72.3h0M607.2 68.9h0M586.5 71.6h0M609.9 75.2h0M610.9 69.0h0" stroke="#0087fa"/><path d="M593.9 65.9h0M584.5 69.8h0M592.3 77.0h0M590.9 68.0h0M608.9 72.3h0" stroke="#fc0062"/><path d="M598.3 75.0h0M594.2 76.1h0M584.5 72.8h0M584.6 77.7h0M585.5 80.2h0M596.0 65.3h0M611.3 74.7h0M590.7 75.9h0M594.1 68.0h0" stroke="#da008a"/><path d="M598.1 66.0h0M610.4 77.2h0" stroke="#ee0077"/><path d="M609.9 67.4h0M584.5 75.8h0M584.9 80.4h0M589.8 68.1h0M589.8 65.3h0M609.5 71.3h0" stroke="#d5008f"/><path d="M607.0 75.4h0M589.1 84.7h0M590.9 70.8h0M590.1 71.4h0M610.1 76.3h0M603.1 66.2h0M610.8 73.9h0M590.9 70.8h0M606.0 75.1h0" stroke="#007cf5"/><path d="M592.7 83.9h0M589.7 82.6h0M590.8 76.4h0" stroke="#e00086"/><path d="M587.1 82.9h0M589.8 74.2h0M592.0 65.1h0M595.1 69.3h0M610.9 76.5h0M596.8 77.1h0" stroke="#e50081"/><path d="M597.9 81.4h0M604.3 71.2h0M607.7 73.1h0M607.1 63.4h0M592.0 71.3h0M604.6 69.6h0M582.3 70.8h0" stroke="#0080f7"/><path d="M593.3 74.8h0M612.6 66.7h0M597.3 61.4h0M608.2 69.6h0M596.5 77.7h0M602.4 73.9h0M605.2 74.4h0M608.8 69.9h0M604.9 64.6h0M605.8 75.8h0M602.3 66.4h0" stroke="#0084f9"/><path d="M584.9 77.2h0M590.5 79.8h0" stroke="#f5006c"/><path d="M612.1 67.6h0M585.8 79.1h0M594.6 72.7h0M607.5 66.4h0" stroke="#b30aa3"/><path d="M609.4 73.1h0M586.0 73.7h0M590.7 71.8h0M594.9 74.9h0" stroke="#008bfb"/><path d="M598.1 79.5h0" stroke="#ff0051"/><path d="M588.6 77.3h0M590.5 78.2h0M594.2 71.1h0M589.3 74.1h0M594.0 63.8h0M611.0 75.5h0" stroke="#e9007c"/><path d="M593.8 71.2h0M591.1 82.3h0" stroke="#a31daa"/><path d="M594.0 62.6h0M591.3 83.5h0M598.0 62.6h0M613.1 67.9h0M606.4 72.0h0" stroke="#bb00a0"/><path d="M612.0 76.9h0" stroke="#c2009c"/><path d="M591.3 83.3h0M591.8 82.3h0M591.8 76.3h0M590.8 78.4h0" stroke="#ab15a7"/><path d="M606.4 76.5h0M599.8 79.7h0" stroke="#9b23ad"/><path d="M597.6 71.6h0" stroke="#ff0057"/><path d="M598.6 61.0h0" stroke="#cf0093"/><path d="M587.7 78.4h0M612.1 72.3h0" stroke="#f90067"/><path d="M598.5 66.5h0M602.6 64.6h0M606.0 73.8h0M607.9 70.4h0M604.1 64.0h0M600.6 67.8h0" stroke="#f90067"/><path d="M604.0 68.0h0M610.0 72.5h0" stroke="#e9007c"/><path d="M609.2 74.6h0M606.5 70.6h0" stroke="#cf0093"/><path d="M605.1 67.4h0M606.2 67.3h0" stroke="#fe005c"/><path d="M609.3 73.1h0M609.3 73.1h0M604.6 67.4h0" stroke="#e50081"/><path d="M597.0 69.5h0M607.3 69.4h0M600.7 71.3h0" stroke="#d5008f"/><path d="M607.7 66.2h0" stroke="#da008a"/><path d="M596.8 65.9h0M601.7 71.3h0M605.7 65.1h0" stroke="#e00086"/><path d="M610.7 65.0h0M601.3 72.0h0M601.1 63.2h0" stroke="#ff0057"/><path d="M611.1 71.2h0" stroke="#fc0062"/><path d="M606.1 70.6h0" stroke="#cf0093"/><path d="M604.4 65.4h0M601.6 72.4h0" stroke="#fc0062"/><path d="M596.8 67.3h0M610.0 70.6h0M596.5 67.0h0M604.7 72.2h0" stroke="#d5008f"/><path d="M603.7 68.7h0M601.7 70.7h0M612.6 69.6h0" stroke="#ff0057"/><path d="M608.8 67.0h0M602.3 67.3h0M606.4 70.4h0" stroke="#e9007c"/><path d="M606.6 68.6h0M594.7 66.8h0" stroke="#ff0051"/><path d="M604.3 69.7h0M604.2 72.6h0M598.9 63.9h0M599.4 70.9h0" stroke="#e50081"/><path d="M606.4 70.9h0M602.2 62.7h0" stroke="#da008a"/><path d="M596.1 68.5h0" stroke="#f90067"/><path d="M610.1 73.8h0M601.3 68.4h0M609.8 69.0h0M607.7 73.6h0" stroke="#e00086"/><path d="M601.3 70.9h0M601.4 69.6h0M606.9 67.1h0" stroke="#d5008f"/><path d="M597.4 69.5h0" stroke="#e00086"/><path d="M607.5 67.4h0M609.1 72.9h0M609.5 73.2h0M609.5 73.3h0" stroke="#f90067"/><path d="M604.3 73.5h0" stroke="#e9007c"/><path d="M604.4 68.8h0M611.3 71.0h0M609.3 69.9h0M612.2 66.0h0" stroke="#fc0062"/><path d="M601.8 66.3h0M608.6 64.0h0M597.2 64.9h0M603.9 66.7h0M607.5 66.6h0" stroke="#ff0057"/><path d="M608.7 71.4h0" stroke="#ff0051"/><path d="M606.5 66.6h0" stroke="#cf0093"/><path d="M604.8 67.2h0M606.3 69.3h0M612.7 71.0h0" stroke="#e50081"/><path d="M604.2 65.4h0M600.1 71.0h0" stroke="#da008a"/><path d="M601.8 67.2h0" stroke="#f5006c"/><path d="M586.3 76.7h0M586.1 73.4h0M589.2 75.5h0" stroke="#008bfb"/><path d="M581.4 75.0h0M592.8 81.6h0M583.8 78.3h0M591.4 75.0h0" stroke="#007cf5"/><path d="M591.8 76.2h0M588.2 79.2h0M589.1 79.1h0" stroke="#0080f7"/><path d="M585.7 78.6h0M589.5 83.5h0M582.5 77.3h0M590.2 78.3h0M589.6 77.3h0" stroke="#0084f9"/><path d="M593.0 81.2h0" stroke="#0087fa"/><path d="M582.2 74.8h0M586.9 82.6h0M589.3 82.5h0M582.6 76.9h0" stroke="#0084f9"/><path d="M584.1 79.6h0M583.3 75.7h0M591.7 82.1h0M584.5 73.6h0M591.5 78.8h0M589.3 80.8h0M587.2 79.4h0" stroke="#0087fa"/><path d="M589.0 83.0h0" stroke="#008bfb"/><path d="M588.9 77.0h0M591.6 82.9h0M593.3 77.5h0M588.3 73.1h0" stroke="#0080f7"/><path d="M591.4 74.9h0M593.1 76.6h0M585.1 76.9h0" stroke="#0087fa"/><path d="M582.6 78.9h0M593.1 78.7h0M586.9 81.7h0M586.8 80.3h0M588.5 82.1h0M593.6 80.2h0M583.4 76.9h0M585.4 75.0h0" stroke="#0084f9"/><path d="M589.2 73.1h0" stroke="#007cf5"/><path d="M584.0 79.5h0M592.8 78.8h0M587.5 80.7h0M592.7 75.2h0" stroke="#0080f7"/><path d="M577.5 73.6h0M571.6 72.8h0" stroke="#e9007c"/><path d="M572.2 73.5h0M577.3 71.8h0" stroke="#f90067"/><path d="M577.2 71.1h0" stroke="#e00086"/><path d="M570.6 72.3h0M575.2 73.0h0M578.9 71.1h0M576.0 69.5h0" stroke="#da008a"/><path d="M577.1 69.4h0M574.2 72.0h0" stroke="#e50081"/><path d="M578.5 69.4h0M577.6 72.9h0" stroke="#fc0062"/><path d="M581.4 69.4h0M571.1 71.5h0" stroke="#d5008f"/><path d="M573.2 70.3h0M574.4 70.9h0" stroke="#ff0057"/><path d="M571.9 73.7h0" stroke="#ff0051"/><path d="M577.0 73.4h0" stroke="#fe005c"/><path d="M590.1 56.8h0M588.5 93.4h0" stroke="#0087fa"/><path d="M580.4 63.3h0M584.5 86.9h0" stroke="#008bfb"/><path d="M586.1 88.6h0" stroke="#0080f7"/><path d="M591.7 89.4h0" stroke="#0084f9"/><path d="M600.5 91.4h0" stroke="#6359da"/><path d="M582.0 64.9h0" stroke="#8b3cc0"/><path d="M592.5 94.0h0" stroke="#8443c6"/><path d="M601.6 8.0h0M595.4 40.7h0M590.4 56.9h0M587.0 88.7h0M588.2 100.5h0M588.7 128.1h0M582.5 130.6h0" stroke="#0080f7"/><path d="M597.1 12.4h0M592.0 89.6h0M588.7 93.8h0M587.9 101.3h0M586.2 125.9h0M580.3 63.6h0" stroke="#0084f9"/><path d="M593.2 25.1h0M592.5 27.1h0M591.2 124.7h0M588.2 138.6h0" stroke="#0087fa"/><path d="M584.5 87.1h0" stroke="#008bfb"/><path d="M588.7 120.2h0M583.7 129.8h0M608.8 78.7h0" stroke="#007cf5"/><path d="M590.4 96.8h0M600.4 91.2h0" stroke="#9b23ad"/><path d="M592.5 94.9h0M589.5 118.0h0" stroke="#bb00a0"/><path d="M596.2 101.6h0" stroke="#ab15a7"/></g>
<path d="M408.80 1.90V145.20H623.00" stroke="#3a3a3a" stroke-width="1.15" fill="none"/>
<path d="M410.50 145.20v4.5M461.00 145.20v4.5M511.50 145.20v4.5M562.00 145.20v4.5M612.50 145.20v4.5M408.80 19.80h-4.5M408.80 48.80h-4.5M408.80 77.80h-4.5M408.80 106.80h-4.5M408.80 135.80h-4.5" stroke="#3a3a3a" stroke-width="1.1" fill="none"/>
<text x="410.5" y="159.4" font-size="8.5" text-anchor="middle" >0.4</text>
<text x="461.0" y="159.4" font-size="8.5" text-anchor="middle" >0.6</text>
<text x="511.5" y="159.4" font-size="8.5" text-anchor="middle" >0.8</text>
<text x="562.0" y="159.4" font-size="8.5" text-anchor="middle" >1.0</text>
<text x="612.5" y="159.4" font-size="8.5" text-anchor="middle" >1.2</text>
<text x="400.6" y="22.9" font-size="8.5" text-anchor="end" >0.04</text>
<text x="400.6" y="51.9" font-size="8.5" text-anchor="end" >0.02</text>
<text x="400.6" y="80.9" font-size="8.5" text-anchor="end" >0.00</text>
<text x="400.6" y="109.9" font-size="8.5" text-anchor="end" >−0.02</text>
<text x="400.6" y="138.9" font-size="8.5" text-anchor="end" >−0.04</text>
<text x="515.9" y="171.7" font-size="10.4" text-anchor="middle" textLength="45.5" lengthAdjust="spacing"><tspan font-style="italic">Kc</tspan>(<tspan font-style="italic">d</tspan> <tspan dy="-0.7">–</tspan><tspan dy="0.7"> 2)</tspan></text>
<text transform="translate(361.3,73.5) rotate(-90)" font-size="10.4" text-anchor="middle">SHAP value for</text>
<text transform="translate(373.1,73.5) rotate(-90)" font-size="10.4" text-anchor="middle" textLength="46.5" lengthAdjust="spacing"><tspan font-style="italic">Kc</tspan>(<tspan font-style="italic">d</tspan> <tspan dy="-0.7">–</tspan><tspan dy="0.7"> 2)</tspan></text>
<rect x="636.80" y="1.40" width="5.6" height="144.30" fill="#e9eef8"/>
<rect x="638.30" y="1.90" width="2.5" height="143.30" fill="url(#cb)"/>
<text x="650.9" y="9.0" font-size="8.5" text-anchor="start" >0.75</text>
<text x="650.9" y="29.0" font-size="8.5" text-anchor="start" >0.50</text>
<text x="650.9" y="49.0" font-size="8.5" text-anchor="start" >0.25</text>
<text x="650.9" y="69.0" font-size="8.5" text-anchor="start" >0.00</text>
<text x="650.9" y="89.1" font-size="8.5" text-anchor="start" >−0.25</text>
<text x="650.9" y="109.1" font-size="8.5" text-anchor="start" >−0.50</text>
<text x="650.9" y="129.1" font-size="8.5" text-anchor="start" >−0.75</text>
<path d="M643.10 5.90h4.5M643.10 25.92h4.5M643.10 45.93h4.5M643.10 65.94h4.5M643.10 85.96h4.5M643.10 105.97h4.5M643.10 125.99h4.5" stroke="#3a3a3a" stroke-width="1.1" fill="none"/>
<text transform="translate(683.4,73.5) rotate(-90)" font-size="10.4" text-anchor="middle" font-style="italic">Sin</text>
<rect x="50.60" y="223.50" width="214.90" height="143.80" fill="#eaeaf2"/>
<path d="M52.80 223.50V367.30M103.32 223.50V367.30M153.84 223.50V367.30M204.36 223.50V367.30M254.88 223.50V367.30M50.60 228.30H265.50M50.60 252.62H265.50M50.60 276.94H265.50M50.60 301.26H265.50M50.60 325.58H265.50M50.60 349.90H265.50" stroke="#fff" stroke-width="0.9" fill="none"/>
<g stroke-width="3.1" stroke-linecap="round" fill="none"><path d="M110.4 307.3h0" stroke="#f90067"/><path d="M141.7 309.2h0" stroke="#fc0062"/><path d="M130.5 292.5h0M143.3 302.2h0" stroke="#ab15a7"/><path d="M138.2 292.0h0" stroke="#8443c6"/><path d="M92.5 349.5h0M89.8 347.0h0M98.9 344.2h0M87.3 345.9h0M97.3 345.5h0M88.0 344.9h0M98.9 346.2h0" stroke="#0080f7"/><path d="M92.8 346.7h0M99.6 345.1h0M90.9 349.7h0" stroke="#007cf5"/><path d="M95.1 346.1h0M88.0 348.4h0M95.5 344.1h0M88.6 347.1h0M97.3 344.7h0M86.0 347.4h0M91.4 349.4h0" stroke="#0084f9"/><path d="M89.6 344.2h0M92.8 346.8h0M98.0 344.7h0" stroke="#008bfb"/><path d="M92.2 345.9h0M89.2 346.0h0M90.9 347.2h0M96.1 344.4h0M94.0 349.9h0M96.0 346.5h0M94.0 348.2h0M98.7 343.8h0M94.7 349.9h0M86.2 346.4h0" stroke="#0087fa"/><path d="M102.7 340.3h0M99.2 339.0h0" stroke="#236cea"/><path d="M101.3 337.6h0M99.4 336.6h0M98.8 336.8h0M91.3 338.2h0" stroke="#007cf5"/><path d="M95.5 338.3h0M84.6 341.9h0" stroke="#008bfb"/><path d="M104.7 337.0h0M94.9 339.5h0M106.3 336.0h0M102.9 340.8h0" stroke="#0080f7"/><path d="M77.2 339.8h0" stroke="#8443c6"/><path d="M100.0 339.1h0M92.2 339.3h0M95.3 341.5h0M111.5 334.4h0M90.9 341.5h0M103.4 336.2h0M109.2 334.2h0" stroke="#0084f9"/><path d="M96.3 337.6h0M81.2 340.8h0M84.3 340.6h0M89.4 338.1h0M82.3 339.2h0M83.9 339.2h0" stroke="#0087fa"/><path d="M96.0 337.5h0" stroke="#8b3cc0"/><path d="M92.6 339.9h0" stroke="#0070ed"/><path d="M90.0 341.2h0" stroke="#6359da"/><path d="M86.9 342.3h0" stroke="#4b63e3"/><path d="M82.6 341.1h0" stroke="#0074f0"/><path d="M100.5 336.6h0M107.0 335.2h0" stroke="#007cf5"/><path d="M101.1 338.3h0M106.9 335.1h0" stroke="#236cea"/><path d="M110.5 334.1h0M91.7 342.6h0M77.7 339.4h0" stroke="#0084f9"/><path d="M94.7 338.3h0M100.3 340.5h0M86.1 340.0h0" stroke="#6c54d6"/><path d="M88.2 341.0h0M83.6 338.8h0M100.1 341.5h0M95.3 340.0h0M89.5 340.6h0M111.4 335.0h0" stroke="#0087fa"/><path d="M84.7 339.3h0M90.2 341.2h0M107.7 337.8h0M104.1 336.3h0" stroke="#7d49cb"/><path d="M89.7 342.5h0M101.5 337.5h0M107.2 337.5h0" stroke="#4b63e3"/><path d="M89.5 339.3h0M80.8 341.1h0M95.0 341.4h0" stroke="#0080f7"/><path d="M110.3 336.3h0" stroke="#6359da"/><path d="M80.6 341.3h0" stroke="#0070ed"/><path d="M100.0 337.3h0" stroke="#008bfb"/><path d="M106.8 338.5h0" stroke="#3b68e7"/><path d="M80.2 341.7h0" stroke="#8443c6"/><path d="M103.6 340.6h0M97.8 340.2h0M106.7 335.1h0M80.2 338.9h0M91.6 342.2h0M105.7 336.0h0M91.8 341.6h0M92.7 338.2h0" stroke="#0087fa"/><path d="M100.9 336.7h0M81.4 340.1h0M86.5 339.4h0M98.3 338.5h0M98.8 339.5h0" stroke="#0084f9"/><path d="M100.6 338.7h0M98.3 341.8h0M92.5 342.0h0" stroke="#007cf5"/><path d="M79.6 341.2h0" stroke="#6c54d6"/><path d="M80.5 339.0h0" stroke="#585edf"/><path d="M107.7 336.2h0M94.3 341.8h0" stroke="#0080f7"/><path d="M111.5 334.5h0M106.4 335.7h0" stroke="#8443c6"/><path d="M100.1 337.0h0M108.0 335.8h0" stroke="#4b63e3"/><path d="M85.1 342.3h0M99.3 338.7h0" stroke="#754fd1"/><path d="M97.0 340.3h0" stroke="#8b3cc0"/><path d="M91.3 339.5h0M103.0 338.3h0" stroke="#008bfb"/><path d="M96.4 338.7h0" stroke="#6359da"/><path d="M111.5 327.6h0M76.3 334.3h0M110.1 326.0h0M113.0 322.7h0" stroke="#008bfb"/><path d="M110.7 324.1h0M112.9 318.1h0M78.4 333.1h0M80.0 334.0h0M114.5 315.0h0" stroke="#007cf5"/><path d="M84.7 334.3h0M104.6 326.8h0M96.7 331.8h0M102.3 329.5h0M98.8 329.9h0M79.7 335.1h0M111.2 318.0h0M84.8 333.8h0M84.8 331.5h0M103.2 327.1h0" stroke="#0084f9"/><path d="M104.1 331.2h0M110.5 326.7h0M105.3 331.4h0M87.9 333.8h0M109.4 325.3h0M107.9 327.5h0M90.5 331.7h0M99.0 329.3h0M78.2 333.2h0M98.2 331.9h0M105.3 329.1h0M83.7 332.6h0M79.5 333.8h0M88.4 330.6h0M94.1 331.3h0M112.4 322.9h0" stroke="#0080f7"/><path d="M87.6 331.4h0M96.6 330.0h0M95.3 331.0h0M111.5 326.7h0M81.0 332.9h0M103.3 332.4h0M92.7 330.5h0M92.5 332.1h0M107.2 323.7h0M111.5 323.9h0M105.8 330.7h0M76.4 336.4h0" stroke="#0087fa"/><path d="M94.4 330.3h0M107.7 328.8h0M96.0 330.5h0M86.4 333.7h0M111.5 315.1h0M112.4 321.1h0M111.1 316.7h0M102.9 332.3h0M86.0 333.2h0M97.7 331.5h0M111.0 319.5h0" stroke="#0087fa"/><path d="M112.4 324.0h0M105.8 330.5h0M110.4 327.0h0M83.4 333.4h0M113.2 313.5h0M104.4 329.8h0M108.2 325.3h0M107.1 327.2h0M99.7 328.4h0M96.0 333.5h0" stroke="#0080f7"/><path d="M79.2 333.9h0M84.4 333.1h0M110.9 326.3h0M95.6 333.0h0M112.3 319.9h0M103.8 327.0h0M95.2 332.1h0M114.0 319.4h0M75.0 336.7h0M105.0 332.3h0M107.6 329.2h0M114.6 313.9h0M79.6 335.2h0M96.7 332.0h0M107.5 326.6h0M113.9 315.7h0M112.9 325.0h0M105.5 328.3h0" stroke="#0084f9"/><path d="M111.9 323.6h0M112.5 322.1h0M89.8 330.9h0M105.6 331.3h0M108.4 321.7h0" stroke="#007cf5"/><path d="M79.3 334.4h0M109.2 321.9h0M96.2 329.4h0" stroke="#008bfb"/><path d="M112.0 319.4h0M112.6 315.9h0M88.5 332.4h0M106.8 325.2h0M96.7 331.2h0M107.8 324.5h0M109.5 329.0h0M84.0 333.0h0M114.8 313.8h0" stroke="#0084f9"/><path d="M89.5 332.4h0M101.6 329.4h0M93.2 331.9h0M79.4 333.1h0M111.2 321.2h0M109.9 319.9h0M90.1 333.5h0M114.3 319.5h0M111.9 324.9h0M74.5 336.4h0M91.6 333.3h0M111.3 322.3h0M110.6 325.7h0M104.5 331.4h0" stroke="#0080f7"/><path d="M110.6 322.8h0M114.9 313.8h0M98.3 333.3h0M109.5 322.2h0M91.3 333.2h0M79.0 335.0h0M77.7 335.6h0M92.9 332.4h0M113.0 321.3h0" stroke="#0087fa"/><path d="M112.6 321.7h0M114.5 313.6h0M98.0 331.8h0M87.9 332.1h0M95.3 332.4h0M102.4 328.0h0M95.5 331.1h0M95.7 331.4h0M102.9 330.2h0" stroke="#007cf5"/><path d="M104.8 325.5h0M96.9 333.3h0M84.3 332.1h0M109.7 319.7h0M111.0 325.0h0" stroke="#008bfb"/><path d="M86.2 334.3h0M104.1 332.2h0" stroke="#ff0051"/><path d="M105.4 333.5h0" stroke="#a31daa"/><path d="M86.6 335.4h0" stroke="#fc0062"/><path d="M79.9 334.6h0M105.6 332.1h0M93.9 334.3h0M104.5 332.0h0M108.4 332.0h0M83.8 334.1h0" stroke="#fe005c"/><path d="M91.7 334.5h0" stroke="#f5006c"/><path d="M106.2 335.0h0" stroke="#da008a"/><path d="M103.5 334.2h0M92.3 333.3h0M83.7 335.6h0M102.0 333.0h0M106.6 334.2h0" stroke="#ff0057"/><path d="M106.3 331.9h0" stroke="#b30aa3"/><path d="M108.3 331.4h0" stroke="#f90067"/><path d="M102.7 334.0h0" stroke="#9b23ad"/><path d="M95.5 335.1h0" stroke="#b30aa3"/><path d="M96.0 335.7h0M108.3 330.2h0M103.8 331.8h0M97.5 333.5h0" stroke="#fe005c"/><path d="M93.0 334.4h0M86.1 334.4h0" stroke="#a31daa"/><path d="M93.2 336.2h0M101.4 334.4h0" stroke="#f90067"/><path d="M95.5 334.9h0M92.0 333.5h0M83.1 336.5h0" stroke="#fc0062"/><path d="M80.9 335.1h0" stroke="#ee0077"/><path d="M103.7 334.3h0" stroke="#da008a"/><path d="M93.4 334.3h0M101.8 332.6h0" stroke="#e9007c"/><path d="M89.9 335.9h0M89.2 335.8h0M101.9 332.6h0" stroke="#ff0057"/><path d="M91.1 335.3h0" stroke="#e50081"/><path d="M106.6 334.2h0M101.0 333.1h0" stroke="#bb00a0"/><path d="M84.3 334.9h0M96.7 336.0h0M96.8 334.5h0M101.8 332.4h0M82.0 334.8h0M109.9 331.6h0M99.6 332.6h0" stroke="#fe005c"/><path d="M88.5 334.3h0" stroke="#b30aa3"/><path d="M98.7 335.6h0" stroke="#ab15a7"/><path d="M82.5 336.1h0" stroke="#f90067"/><path d="M89.4 336.2h0" stroke="#ff0057"/><path d="M105.9 333.7h0" stroke="#ff0051"/><path d="M98.7 333.0h0M83.1 336.3h0" stroke="#fc0062"/><path d="M100.8 333.6h0M81.4 336.3h0" stroke="#f5006c"/><path d="M86.9 334.7h0" stroke="#d5008f"/><path d="M78.1 337.0h0M78.3 339.3h0" stroke="#f90067"/><path d="M77.7 339.3h0M75.6 338.9h0M79.4 335.0h0" stroke="#ff0057"/><path d="M77.8 338.4h0M74.8 338.6h0M76.2 338.4h0" stroke="#fc0062"/><path d="M77.6 335.6h0M74.9 337.4h0" stroke="#fe005c"/><path d="M78.5 335.3h0M73.6 333.2h0M77.0 336.2h0" stroke="#ff0051"/><path d="M78.4 340.3h0M79.8 333.8h0M74.0 338.3h0M79.3 337.5h0" stroke="#f90067"/><path d="M73.7 340.3h0M79.0 336.3h0" stroke="#ff0057"/><path d="M79.0 338.2h0M77.5 339.4h0M77.7 337.7h0" stroke="#fc0062"/><path d="M79.0 333.5h0" stroke="#ff0051"/><path d="M72.4 335.7h0" stroke="#f5006c"/><path d="M75.1 340.3h0" stroke="#fe005c"/><path d="M77.7 340.3h0M78.8 333.7h0M77.9 337.5h0" stroke="#ff0051"/><path d="M81.0 338.3h0M73.1 334.8h0M76.9 340.2h0M77.9 334.5h0M75.7 334.3h0" stroke="#ff0057"/><path d="M78.9 333.3h0M71.9 334.9h0" stroke="#f90067"/><path d="M74.1 333.1h0" stroke="#fe005c"/><path d="M73.5 339.4h0" stroke="#fc0062"/><path d="M112.3 329.0h0M110.8 327.9h0M110.9 329.9h0M108.8 324.7h0M111.2 326.4h0M110.6 326.5h0" stroke="#f90067"/><path d="M114.8 320.0h0" stroke="#a31daa"/><path d="M111.3 328.4h0M109.8 329.2h0" stroke="#e50081"/><path d="M109.7 325.0h0M113.1 322.2h0M114.1 317.3h0" stroke="#fc0062"/><path d="M114.5 320.2h0" stroke="#ab15a7"/><path d="M112.3 328.8h0M114.5 314.6h0M114.0 316.3h0M114.5 320.5h0M113.1 325.4h0" stroke="#ff0057"/><path d="M108.9 324.9h0" stroke="#d5008f"/><path d="M110.5 328.5h0" stroke="#da008a"/><path d="M109.7 328.7h0" stroke="#e9007c"/><path d="M111.7 320.6h0M110.0 326.4h0" stroke="#9b23ad"/><path d="M113.9 318.8h0" stroke="#ff0051"/><path d="M109.3 328.2h0" stroke="#e00086"/><path d="M112.5 326.3h0M110.9 330.1h0" stroke="#fe005c"/><path d="M112.2 323.5h0" stroke="#cf0093"/><path d="M112.9 321.5h0" stroke="#b30aa3"/><path d="M108.9 329.0h0" stroke="#ee0077"/><path d="M59.4 337.6h0" stroke="#f90067"/><path d="M61.1 337.1h0" stroke="#fe005c"/><path d="M66.4 337.1h0M78.6 352.5h0" stroke="#f5006c"/><path d="M67.3 339.8h0M70.3 334.5h0" stroke="#fc0062"/><path d="M68.1 340.2h0" stroke="#ff0051"/><path d="M92.7 359.7h0M97.5 358.9h0" stroke="#ab15a7"/><path d="M93.9 359.4h0M97.0 358.2h0" stroke="#c2009c"/><path d="M90.4 359.9h0M94.2 358.9h0M101.3 359.0h0M96.7 358.0h0" stroke="#bb00a0"/><path d="M94.0 358.3h0M97.2 358.1h0M100.0 358.2h0" stroke="#a31daa"/><path d="M91.9 359.6h0" stroke="#9b23ad"/><path d="M89.4 360.0h0M98.3 359.8h0" stroke="#b30aa3"/><path d="M104.0 352.5h0" stroke="#9b23ad"/><path d="M87.0 327.1h0" stroke="#6c54d6"/><path d="M82.6 328.0h0" stroke="#008bfb"/><path d="M107.5 344.6h0" stroke="#0084f9"/><path d="M109.3 338.9h0" stroke="#0087fa"/><path d="M109.3 320.7h0M119.6 309.5h0M112.8 314.5h0M122.5 310.3h0M115.4 312.5h0" stroke="#0080f7"/><path d="M114.1 316.5h0" stroke="#585edf"/><path d="M123.2 311.3h0M125.4 310.1h0" stroke="#0070ed"/><path d="M112.4 314.7h0" stroke="#0087fa"/><path d="M115.4 314.5h0M116.0 309.4h0M122.5 311.8h0M117.6 308.9h0M115.9 309.7h0" stroke="#0084f9"/><path d="M115.9 312.6h0M112.4 314.4h0" stroke="#236cea"/><path d="M133.5 308.2h0M109.5 316.3h0M112.8 317.3h0" stroke="#008bfb"/><path d="M110.3 314.2h0M113.8 316.3h0M114.8 311.8h0" stroke="#007cf5"/><path d="M119.0 312.5h0M117.8 309.2h0" stroke="#4b63e3"/><path d="M116.4 308.8h0" stroke="#3b68e7"/><path d="M130.2 308.1h0" stroke="#0074f0"/><path d="M111.0 322.1h0M111.9 318.7h0M111.0 322.3h0M117.2 314.0h0M132.4 309.8h0M123.0 309.1h0M125.6 308.6h0" stroke="#0080f7"/><path d="M112.9 316.1h0" stroke="#3b68e7"/><path d="M114.6 313.1h0" stroke="#0070ed"/><path d="M114.5 313.5h0M113.0 310.5h0M110.8 321.7h0M122.6 308.6h0M110.9 314.9h0" stroke="#0087fa"/><path d="M113.7 310.5h0" stroke="#0074f0"/><path d="M110.5 322.7h0M122.6 311.1h0M113.4 311.2h0M111.6 322.2h0" stroke="#0084f9"/><path d="M118.1 308.0h0M113.9 314.3h0M110.1 316.3h0M115.8 311.3h0" stroke="#008bfb"/><path d="M119.9 309.1h0" stroke="#007cf5"/><path d="M116.3 313.6h0" stroke="#4b63e3"/><path d="M108.8 319.9h0" stroke="#236cea"/><path d="M111.9 312.9h0M131.9 308.4h0M109.0 316.2h0" stroke="#236cea"/><path d="M110.5 322.7h0M126.3 310.9h0" stroke="#007cf5"/><path d="M109.0 320.7h0M110.1 318.0h0M125.5 310.8h0M115.4 315.1h0" stroke="#4b63e3"/><path d="M112.5 312.2h0M114.3 311.6h0M112.4 311.2h0M109.9 316.0h0" stroke="#0084f9"/><path d="M110.8 319.3h0M117.3 312.4h0M114.1 315.6h0M113.4 313.2h0" stroke="#0087fa"/><path d="M113.2 313.4h0M111.0 321.1h0M127.0 310.0h0M117.4 308.8h0" stroke="#0080f7"/><path d="M114.8 309.8h0" stroke="#0074f0"/><path d="M121.0 307.4h0" stroke="#0070ed"/><path d="M112.6 312.4h0" stroke="#008bfb"/><path d="M119.2 310.1h0M111.4 321.7h0" stroke="#3b68e7"/><path d="M126.8 314.8h0M114.8 318.3h0M115.0 321.1h0M112.1 322.8h0M126.8 317.2h0M115.9 321.2h0M120.0 318.0h0M114.3 319.5h0M127.3 315.9h0" stroke="#fc0062"/><path d="M125.5 314.9h0M128.2 314.4h0" stroke="#f5006c"/><path d="M122.7 315.1h0M132.1 316.4h0M116.3 321.6h0" stroke="#fe005c"/><path d="M135.7 311.3h0M118.5 318.9h0" stroke="#ab15a7"/><path d="M120.9 315.2h0" stroke="#bb00a0"/><path d="M123.2 315.4h0" stroke="#da008a"/><path d="M120.3 319.2h0M124.0 316.7h0M115.8 321.0h0" stroke="#f90067"/><path d="M130.0 315.6h0M128.4 316.9h0M135.9 315.4h0" stroke="#ff0051"/><path d="M122.9 315.2h0" stroke="#e00086"/><path d="M132.2 314.0h0" stroke="#a31daa"/><path d="M135.4 311.7h0" stroke="#ff0057"/><path d="M112.7 323.9h0M112.5 323.1h0" stroke="#e9007c"/><path d="M110.9 324.5h0" stroke="#cf0093"/><path d="M113.4 321.3h0M127.2 312.5h0M122.6 318.1h0M137.1 314.5h0" stroke="#fc0062"/><path d="M133.7 315.0h0M121.1 314.3h0" stroke="#f5006c"/><path d="M114.2 320.8h0M129.6 313.8h0M118.3 314.4h0M134.7 316.0h0M123.7 317.2h0M129.7 312.8h0M121.2 319.1h0M112.3 320.9h0M128.4 313.0h0" stroke="#fe005c"/><path d="M133.3 313.8h0M122.7 317.3h0M119.5 314.7h0" stroke="#ff0051"/><path d="M137.0 314.6h0" stroke="#d5008f"/><path d="M132.1 314.5h0M124.1 316.9h0" stroke="#b30aa3"/><path d="M118.4 316.3h0" stroke="#ff0057"/><path d="M123.1 317.6h0" stroke="#bb00a0"/><path d="M128.9 312.2h0M127.7 317.5h0M124.0 315.0h0" stroke="#f90067"/><path d="M126.6 312.8h0" stroke="#cf0093"/><path d="M112.9 326.3h0" stroke="#9b23ad"/><path d="M133.3 316.2h0M126.5 313.2h0" stroke="#da008a"/><path d="M125.2 317.6h0M112.9 325.6h0M126.2 315.1h0M119.2 316.3h0M125.0 315.4h0" stroke="#f90067"/><path d="M116.3 319.4h0M129.3 313.0h0M122.7 317.0h0M130.3 312.5h0M110.5 326.9h0" stroke="#ff0051"/><path d="M115.6 320.5h0M120.0 318.9h0M123.3 315.3h0M129.3 316.7h0M114.3 318.2h0M119.3 319.8h0" stroke="#fe005c"/><path d="M128.3 317.3h0M115.8 320.0h0" stroke="#f5006c"/><path d="M115.0 317.6h0M118.9 316.3h0M133.7 316.1h0M117.8 317.8h0M116.4 317.1h0" stroke="#fc0062"/><path d="M124.6 316.8h0M135.2 313.1h0M128.9 316.6h0" stroke="#ff0057"/><path d="M129.2 316.4h0" stroke="#da008a"/><path d="M126.5 312.4h0" stroke="#ab15a7"/><path d="M134.6 313.5h0M123.3 314.0h0" stroke="#b30aa3"/><path d="M133.3 317.0h0" stroke="#ab15a7"/><path d="M124.3 318.1h0M117.8 320.4h0" stroke="#9b23ad"/><path d="M137.8 315.6h0M138.3 314.9h0M133.1 316.2h0" stroke="#bb00a0"/><path d="M118.3 320.1h0" stroke="#d5008f"/><path d="M125.8 318.9h0" stroke="#b30aa3"/><path d="M135.5 316.1h0" stroke="#da008a"/><path d="M133.0 317.3h0" stroke="#a31daa"/><path d="M131.6 303.6h0" stroke="#bb00a0"/><path d="M125.9 302.7h0" stroke="#c2009c"/><path d="M121.8 307.2h0" stroke="#cf0093"/><path d="M125.9 306.6h0" stroke="#e9007c"/><path d="M129.7 303.0h0M126.5 304.1h0" stroke="#e00086"/><path d="M127.2 304.7h0M118.4 303.6h0" stroke="#a31daa"/><path d="M126.9 302.8h0M131.1 304.2h0" stroke="#e50081"/><path d="M130.1 305.2h0" stroke="#da008a"/><path d="M118.4 305.3h0" stroke="#a31daa"/><path d="M117.7 304.0h0M122.6 304.0h0M132.6 306.1h0" stroke="#bb00a0"/><path d="M121.0 304.8h0" stroke="#e50081"/><path d="M121.0 306.9h0" stroke="#c2009c"/><path d="M124.1 304.1h0M132.3 304.2h0M119.9 306.9h0" stroke="#ab15a7"/><path d="M121.7 307.1h0M122.4 305.6h0" stroke="#b30aa3"/><path d="M118.3 306.7h0M129.8 304.9h0" stroke="#da008a"/><path d="M129.1 304.3h0" stroke="#bb00a0"/><path d="M119.3 307.4h0M129.1 306.5h0M133.7 304.7h0" stroke="#ab15a7"/><path d="M131.7 306.6h0M121.8 307.2h0" stroke="#e00086"/><path d="M120.2 305.2h0" stroke="#a31daa"/><path d="M134.6 304.1h0" stroke="#b30aa3"/><path d="M128.6 302.9h0" stroke="#ee0077"/><path d="M157.6 283.4h0M144.9 298.1h0" stroke="#a31daa"/><path d="M160.3 281.7h0M159.9 283.7h0" stroke="#754fd1"/><path d="M148.4 293.9h0M161.3 282.7h0M141.9 300.9h0M158.3 285.1h0" stroke="#7d49cb"/><path d="M138.8 301.1h0M152.9 292.2h0M153.2 291.1h0M153.1 291.1h0" stroke="#e9007c"/><path d="M139.0 299.0h0" stroke="#9b23ad"/><path d="M150.8 294.4h0" stroke="#b30aa3"/><path d="M141.9 297.1h0M154.6 289.9h0M145.3 295.7h0" stroke="#6c54d6"/><path d="M159.9 284.1h0M147.2 294.1h0" stroke="#bb00a0"/><path d="M155.7 288.6h0M158.5 286.9h0" stroke="#e50081"/><path d="M149.7 292.0h0" stroke="#8443c6"/><path d="M158.6 287.1h0M146.7 297.9h0" stroke="#ab15a7"/><path d="M149.5 294.1h0" stroke="#cf0093"/><path d="M152.4 289.0h0" stroke="#da008a"/><path d="M155.4 281.6h0" stroke="#ff0057"/><path d="M157.8 286.4h0" stroke="#fe005c"/><path d="M160.2 283.2h0" stroke="#fc0062"/><path d="M174.1 269.4h0M168.4 272.6h0M171.0 273.3h0M169.7 268.5h0M179.9 266.3h0M167.8 271.1h0" stroke="#0080f7"/><path d="M182.2 269.8h0M167.9 270.7h0M175.1 270.8h0M172.2 272.6h0M165.5 273.0h0M164.7 271.8h0M179.0 274.0h0" stroke="#0087fa"/><path d="M172.2 272.0h0" stroke="#6359da"/><path d="M165.7 270.8h0M173.0 273.7h0M173.0 269.3h0M163.3 274.1h0M164.4 273.1h0" stroke="#007cf5"/><path d="M163.8 269.6h0M172.4 265.0h0" stroke="#008bfb"/><path d="M163.5 271.9h0M176.1 268.2h0M168.1 266.2h0M174.0 268.9h0M168.2 275.0h0M171.0 273.3h0M167.5 273.2h0" stroke="#0084f9"/><path d="M172.6 268.0h0M170.6 266.8h0" stroke="#6c54d6"/><path d="M170.9 264.8h0" stroke="#fc0062"/><path d="M177.2 271.4h0" stroke="#fe005c"/><path d="M175.5 272.0h0M168.7 274.1h0M181.7 267.7h0M164.8 269.6h0M167.2 274.7h0M175.9 265.2h0M175.4 264.9h0M172.5 270.2h0M169.4 266.7h0M176.9 268.4h0M182.0 271.4h0" stroke="#0080f7"/><path d="M174.6 270.8h0M164.4 274.2h0M170.3 268.7h0M183.0 271.8h0M178.2 272.5h0" stroke="#0087fa"/><path d="M166.2 271.4h0M180.7 270.5h0M165.6 271.5h0" stroke="#007cf5"/><path d="M167.2 271.3h0" stroke="#6c54d6"/><path d="M179.8 267.1h0M177.1 266.8h0M170.2 265.4h0" stroke="#0084f9"/><path d="M173.6 273.6h0M172.6 274.9h0M179.9 268.2h0" stroke="#008bfb"/><path d="M179.1 269.3h0" stroke="#7d49cb"/><path d="M179.1 267.8h0" stroke="#6359da"/><path d="M179.3 268.8h0" stroke="#8443c6"/><path d="M167.7 273.3h0" stroke="#fe005c"/><path d="M172.6 265.4h0" stroke="#754fd1"/><path d="M177.6 269.1h0" stroke="#f5006c"/><path d="M167.3 267.5h0" stroke="#8443c6"/><path d="M177.9 270.9h0M177.4 270.2h0M175.3 275.1h0M170.0 272.7h0M163.4 274.5h0" stroke="#0087fa"/><path d="M177.3 269.5h0M170.8 269.9h0M176.2 268.3h0M181.2 270.9h0M176.4 274.9h0M163.0 272.7h0M171.5 273.0h0M176.0 275.2h0" stroke="#0080f7"/><path d="M174.0 274.4h0M176.5 267.9h0" stroke="#ff0051"/><path d="M180.8 271.5h0M169.8 275.2h0M165.3 273.8h0" stroke="#fc0062"/><path d="M177.4 273.8h0M171.4 269.0h0M179.5 273.0h0M168.2 272.8h0M170.6 272.7h0" stroke="#007cf5"/><path d="M174.7 275.2h0M166.9 273.5h0M177.7 272.5h0M178.3 267.4h0" stroke="#ff0057"/><path d="M182.6 270.9h0" stroke="#6c54d6"/><path d="M179.1 268.7h0" stroke="#8b3cc0"/><path d="M174.2 265.4h0" stroke="#0084f9"/><path d="M182.6 267.2h0" stroke="#008bfb"/><path d="M183.2 272.2h0M183.1 272.4h0M181.4 271.4h0M179.8 271.5h0" stroke="#ab15a7"/><path d="M178.8 275.6h0" stroke="#b30aa3"/><path d="M181.2 272.1h0M181.5 271.3h0" stroke="#a31daa"/><path d="M175.8 271.8h0" stroke="#c2009c"/><path d="M165.0 282.0h0M164.3 280.3h0" stroke="#e00086"/><path d="M161.0 282.8h0M169.7 279.7h0M179.9 277.3h0M174.0 281.5h0M160.5 283.4h0M177.0 279.6h0M168.4 282.0h0" stroke="#f90067"/><path d="M171.6 280.2h0M177.0 276.6h0M169.3 281.1h0M160.6 281.0h0M160.1 284.0h0" stroke="#fe005c"/><path d="M162.5 281.8h0M163.8 279.3h0M187.3 277.0h0M165.5 283.3h0M168.4 278.3h0" stroke="#ff0051"/><path d="M171.7 277.8h0" stroke="#f5006c"/><path d="M186.3 274.8h0M167.1 278.4h0M161.1 283.3h0M185.5 278.2h0" stroke="#fc0062"/><path d="M173.5 279.3h0M169.3 281.4h0M165.7 282.5h0M165.4 279.9h0" stroke="#ff0057"/><path d="M183.3 278.1h0" stroke="#d5008f"/><path d="M162.2 282.9h0" stroke="#e9007c"/><path d="M159.9 282.9h0" stroke="#cf0093"/><path d="M183.8 277.8h0M174.0 281.3h0M173.5 277.5h0M161.6 281.1h0M176.1 277.8h0" stroke="#ff0057"/><path d="M184.4 276.2h0M178.3 277.9h0M171.0 278.7h0" stroke="#ff0051"/><path d="M180.6 277.1h0M180.6 279.0h0" stroke="#e9007c"/><path d="M183.1 275.9h0M167.1 280.1h0M172.2 279.9h0" stroke="#f5006c"/><path d="M175.8 278.2h0M188.2 277.8h0M167.8 281.6h0" stroke="#e00086"/><path d="M164.6 282.2h0M185.8 276.6h0M186.4 275.3h0M160.3 283.8h0" stroke="#fc0062"/><path d="M182.4 277.9h0M161.2 280.9h0M174.4 280.6h0M159.5 282.5h0" stroke="#fe005c"/><path d="M161.4 281.6h0M166.9 281.4h0" stroke="#d5008f"/><path d="M165.9 279.4h0" stroke="#cf0093"/><path d="M181.6 279.0h0M185.3 276.9h0" stroke="#f90067"/><path d="M173.3 279.8h0" stroke="#da008a"/><path d="M180.8 276.2h0M159.2 283.0h0M160.2 284.9h0M164.6 279.8h0M172.5 277.7h0" stroke="#fe005c"/><path d="M180.9 278.4h0M176.5 278.7h0M158.8 284.7h0M180.2 278.7h0M178.7 277.5h0M168.3 280.8h0M173.3 277.4h0" stroke="#ff0057"/><path d="M180.3 275.8h0M180.5 276.3h0M173.1 281.1h0M173.1 280.5h0M177.2 279.7h0M166.9 281.4h0" stroke="#fc0062"/><path d="M178.7 278.8h0M167.0 280.9h0" stroke="#e00086"/><path d="M188.4 278.0h0M181.1 278.5h0M163.9 282.7h0M186.3 276.8h0" stroke="#f90067"/><path d="M172.2 279.5h0M161.3 281.4h0" stroke="#f5006c"/><path d="M166.7 280.1h0M189.0 274.6h0" stroke="#d5008f"/><path d="M179.9 276.9h0M180.9 279.4h0" stroke="#ff0051"/><path d="M173.3 282.8h0M184.2 281.1h0M158.9 289.0h0M177.0 285.0h0" stroke="#8443c6"/><path d="M165.0 287.0h0M162.1 285.7h0" stroke="#b30aa3"/><path d="M157.3 290.6h0M177.8 282.7h0" stroke="#ab15a7"/><path d="M168.3 285.3h0M182.9 281.6h0M185.3 280.3h0" stroke="#7d49cb"/><path d="M191.9 278.9h0M171.9 283.1h0M171.0 283.6h0M157.1 288.8h0" stroke="#6c54d6"/><path d="M178.0 284.3h0M187.2 279.8h0" stroke="#8b3cc0"/><path d="M188.0 281.3h0" stroke="#754fd1"/><path d="M166.5 284.2h0" stroke="#6359da"/><path d="M170.7 285.3h0" stroke="#9b23ad"/><path d="M167.5 285.3h0" stroke="#bb00a0"/><path d="M170.9 283.5h0M158.2 289.4h0M176.7 284.1h0M168.8 284.3h0" stroke="#a31daa"/><path d="M180.9 282.7h0M171.3 286.0h0M186.3 280.3h0" stroke="#8443c6"/><path d="M166.5 284.8h0M158.7 287.4h0M189.6 279.7h0M172.2 283.9h0" stroke="#7d49cb"/><path d="M170.1 286.3h0M167.1 284.2h0M182.7 283.7h0M180.9 282.5h0M178.6 284.6h0" stroke="#754fd1"/><path d="M169.6 285.2h0" stroke="#c2009c"/><path d="M189.5 278.7h0" stroke="#6c54d6"/><path d="M184.4 282.0h0" stroke="#9b23ad"/><path d="M186.1 280.8h0" stroke="#ab15a7"/><path d="M157.8 289.2h0" stroke="#b30aa3"/><path d="M174.3 283.1h0" stroke="#6359da"/><path d="M171.6 283.0h0" stroke="#8443c6"/><path d="M186.8 282.3h0M172.9 284.1h0M185.1 280.8h0M190.6 278.3h0M179.0 282.0h0M168.5 285.9h0M181.3 281.1h0" stroke="#b30aa3"/><path d="M163.6 287.0h0" stroke="#7d49cb"/><path d="M162.2 288.0h0" stroke="#c2009c"/><path d="M173.1 283.7h0M181.5 282.2h0" stroke="#a31daa"/><path d="M166.8 285.7h0M170.7 285.6h0" stroke="#bb00a0"/><path d="M162.9 287.8h0M159.7 288.7h0M180.6 281.8h0" stroke="#6c54d6"/><path d="M169.9 283.3h0M163.5 287.0h0" stroke="#754fd1"/><path d="M169.3 283.9h0" stroke="#9b23ad"/><path d="M154.6 281.3h0M155.3 286.4h0" stroke="#fc0062"/><path d="M152.4 290.0h0" stroke="#ff0051"/><path d="M164.1 271.1h0M167.7 266.7h0" stroke="#ff0057"/><path d="M180.1 268.1h0" stroke="#f90067"/><path d="M159.7 279.1h0M183.0 262.3h0" stroke="#0080f7"/><path d="M149.5 291.5h0" stroke="#6359da"/><path d="M154.6 293.0h0M175.0 264.5h0" stroke="#754fd1"/><path d="M191.1 261.9h0" stroke="#7d49cb"/><path d="M164.8 276.5h0" stroke="#8443c6"/><path d="M189.6 267.4h0" stroke="#ee0077"/><path d="M194.0 263.8h0M193.6 266.3h0" stroke="#d5008f"/><path d="M201.1 259.7h0M201.5 258.1h0M195.0 265.2h0M212.2 252.3h0M207.5 254.2h0M217.5 248.6h0" stroke="#ff0057"/><path d="M217.9 249.9h0M222.2 250.4h0M204.4 254.0h0" stroke="#da008a"/><path d="M215.3 252.2h0" stroke="#e9007c"/><path d="M220.8 250.0h0M202.3 255.1h0M202.3 256.2h0M195.3 262.2h0M218.3 249.6h0M210.8 252.1h0" stroke="#fc0062"/><path d="M193.8 266.4h0M189.7 265.9h0" stroke="#f90067"/><path d="M191.0 265.8h0M197.5 260.7h0M199.4 262.1h0" stroke="#fe005c"/><path d="M194.6 265.0h0" stroke="#e00086"/><path d="M193.0 265.9h0" stroke="#d5008f"/><path d="M210.0 252.5h0" stroke="#e50081"/><path d="M204.5 244.4h0" stroke="#bb00a0"/><path d="M205.0 286.4h0" stroke="#fc0062"/><path d="M252.7 239.1h0M244.0 242.3h0M234.3 242.5h0M233.0 243.7h0M240.9 243.9h0M233.6 245.1h0M234.2 241.9h0M223.4 248.4h0M230.9 246.7h0M238.8 245.2h0M238.5 242.8h0M252.4 242.3h0" stroke="#0084f9"/><path d="M230.6 241.5h0" stroke="#6359da"/><path d="M251.5 239.2h0M247.7 238.4h0M227.5 246.4h0M234.5 242.5h0M249.0 243.4h0M239.0 240.4h0M235.6 239.4h0" stroke="#0087fa"/><path d="M234.1 242.3h0M230.9 242.5h0M233.0 241.1h0" stroke="#8b3cc0"/><path d="M231.4 240.4h0M230.6 240.7h0M250.1 238.4h0" stroke="#007cf5"/><path d="M223.9 247.9h0M242.1 239.5h0M233.6 243.3h0M236.6 243.5h0M228.6 243.9h0M244.9 239.5h0" stroke="#0080f7"/><path d="M246.8 241.5h0M237.8 238.8h0" stroke="#6c54d6"/><path d="M231.4 240.9h0" stroke="#7d49cb"/><path d="M248.3 239.8h0M243.8 240.0h0" stroke="#008bfb"/><path d="M224.9 245.8h0" stroke="#754fd1"/><path d="M226.9 248.1h0" stroke="#8b3cc0"/><path d="M224.6 248.4h0M249.7 240.4h0M251.9 241.1h0M249.7 241.7h0M244.0 240.2h0M224.3 246.1h0M248.8 239.8h0M245.8 238.0h0M232.0 248.2h0M236.5 240.8h0M231.1 241.8h0" stroke="#0087fa"/><path d="M225.7 247.5h0M237.4 240.0h0M240.8 243.5h0M243.0 239.0h0M230.1 247.9h0M229.6 245.1h0" stroke="#0080f7"/><path d="M253.6 240.3h0M238.8 240.8h0M241.2 241.7h0M239.5 240.6h0M243.3 241.7h0M229.9 247.7h0M225.5 247.3h0" stroke="#0084f9"/><path d="M242.5 242.8h0M252.3 239.5h0M229.1 245.5h0M223.1 247.9h0M236.9 240.1h0" stroke="#007cf5"/><path d="M229.0 248.4h0M243.0 241.3h0" stroke="#8443c6"/><path d="M241.0 239.4h0" stroke="#7d49cb"/><path d="M231.2 240.6h0M243.0 239.4h0M229.8 242.4h0" stroke="#008bfb"/><path d="M224.2 249.0h0M224.9 249.0h0M252.6 240.5h0M251.5 241.8h0M246.3 243.2h0M236.1 243.8h0M228.5 247.6h0M244.0 242.7h0M249.2 239.8h0M247.7 240.9h0M250.0 239.6h0M251.6 242.7h0" stroke="#0084f9"/><path d="M253.2 241.2h0M244.3 238.8h0M233.9 243.1h0M242.7 240.3h0M245.4 239.6h0M233.2 244.4h0M227.5 244.7h0M223.4 246.4h0M253.3 240.6h0M253.3 241.1h0M237.2 240.9h0" stroke="#0080f7"/><path d="M230.3 243.0h0M238.6 242.0h0M248.4 237.9h0" stroke="#008bfb"/><path d="M240.8 240.9h0" stroke="#7d49cb"/><path d="M228.9 241.7h0M233.6 244.6h0M246.0 240.3h0M238.6 244.1h0M228.2 246.8h0M236.1 243.2h0" stroke="#007cf5"/><path d="M227.6 248.4h0" stroke="#754fd1"/><path d="M243.1 242.0h0" stroke="#8443c6"/><path d="M233.2 243.1h0M222.9 247.8h0" stroke="#0087fa"/><path d="M252.0 239.2h0" stroke="#ff0051"/><path d="M251.4 236.9h0" stroke="#ff0057"/><path d="M247.5 238.0h0M252.0 237.7h0" stroke="#e00086"/><path d="M248.0 236.7h0M234.7 237.8h0M239.9 237.2h0" stroke="#fe005c"/><path d="M250.7 237.5h0M244.4 236.2h0M239.4 238.4h0" stroke="#e50081"/><path d="M239.5 238.4h0M252.0 239.7h0" stroke="#fc0062"/><path d="M251.1 236.2h0" stroke="#da008a"/><path d="M240.6 238.1h0" stroke="#f5006c"/><path d="M234.7 238.1h0" stroke="#d5008f"/><path d="M250.2 239.2h0M239.6 236.8h0" stroke="#fc0062"/><path d="M245.6 236.2h0" stroke="#fe005c"/><path d="M244.0 236.2h0M248.2 236.1h0" stroke="#cf0093"/><path d="M240.3 236.6h0M252.8 237.9h0" stroke="#ff0057"/><path d="M233.6 240.4h0" stroke="#d5008f"/><path d="M244.4 238.4h0M250.0 236.7h0" stroke="#e00086"/><path d="M242.0 236.5h0M251.6 237.4h0" stroke="#da008a"/><path d="M240.1 238.4h0M243.1 236.0h0M246.5 237.3h0" stroke="#e50081"/><path d="M252.7 238.4h0M239.6 236.9h0M251.9 238.4h0M242.5 238.3h0" stroke="#da008a"/><path d="M243.3 237.1h0" stroke="#f90067"/><path d="M246.4 238.0h0" stroke="#ee0077"/><path d="M242.3 237.6h0M242.8 238.6h0M246.8 235.3h0" stroke="#ff0057"/><path d="M234.3 239.0h0" stroke="#ff0051"/><path d="M253.9 238.0h0M249.4 235.8h0" stroke="#e50081"/><path d="M242.1 236.4h0" stroke="#e9007c"/><path d="M233.5 238.9h0" stroke="#d5008f"/><path d="M247.7 238.2h0" stroke="#fc0062"/><path d="M226.3 240.5h0M227.0 241.7h0M224.8 242.4h0M228.6 242.4h0" stroke="#8443c6"/><path d="M227.5 240.3h0" stroke="#6359da"/><path d="M226.4 250.6h0" stroke="#e50081"/><path d="M227.9 253.2h0M228.2 252.5h0M223.9 250.4h0M225.5 250.9h0M224.2 248.2h0" stroke="#bb00a0"/><path d="M227.3 247.3h0" stroke="#d5008f"/><path d="M230.6 248.5h0" stroke="#a31daa"/><path d="M223.0 248.2h0" stroke="#cf0093"/><path d="M229.6 251.3h0" stroke="#b30aa3"/><path d="M230.8 250.7h0" stroke="#da008a"/><path d="M225.0 247.8h0" stroke="#e9007c"/><path d="M225.9 247.6h0" stroke="#9b23ad"/><path d="M228.9 250.5h0M229.5 250.8h0" stroke="#ab15a7"/><path d="M235.1 231.2h0M240.8 232.6h0M239.8 230.7h0" stroke="#fe005c"/><path d="M237.5 229.7h0M233.2 234.5h0" stroke="#ff0057"/><path d="M238.9 231.6h0M234.2 235.4h0" stroke="#fc0062"/><path d="M243.2 231.2h0" stroke="#f90067"/><path d="M245.1 231.6h0" stroke="#ff0051"/><path d="M227.7 272.6h0M232.6 269.7h0M241.6 267.5h0M236.4 267.5h0M232.7 270.9h0M225.2 275.0h0M228.8 271.3h0M226.6 274.6h0M225.5 273.6h0" stroke="#0087fa"/><path d="M235.7 267.6h0M237.8 267.2h0M239.7 268.2h0M224.6 275.3h0M236.4 268.8h0M229.3 270.9h0M236.8 269.3h0" stroke="#007cf5"/><path d="M233.5 271.0h0M229.7 273.2h0M235.0 270.5h0M231.4 270.1h0M238.2 268.9h0M242.0 266.3h0" stroke="#0080f7"/><path d="M225.1 273.4h0M242.1 265.5h0M234.2 270.3h0" stroke="#008bfb"/><path d="M240.3 266.4h0M243.0 268.0h0M236.3 269.8h0M240.1 268.5h0M234.1 268.9h0" stroke="#0084f9"/><path d="M229.9 274.3h0" stroke="#da008a"/></g>
<path d="M50.60 223.50V367.30H265.50" stroke="#3a3a3a" stroke-width="1.15" fill="none"/>
<path d="M52.80 367.30v4.5M103.32 367.30v4.5M153.84 367.30v4.5M204.36 367.30v4.5M254.88 367.30v4.5M50.60 228.30h-4.5M50.60 252.62h-4.5M50.60 276.94h-4.5M50.60 301.26h-4.5M50.60 325.58h-4.5M50.60 349.90h-4.5" stroke="#3a3a3a" stroke-width="1.1" fill="none"/>
<text x="52.8" y="381.5" font-size="8.5" text-anchor="middle" >0.4</text>
<text x="103.3" y="381.5" font-size="8.5" text-anchor="middle" >0.6</text>
<text x="153.8" y="381.5" font-size="8.5" text-anchor="middle" >0.8</text>
<text x="204.4" y="381.5" font-size="8.5" text-anchor="middle" >1.0</text>
<text x="254.9" y="381.5" font-size="8.5" text-anchor="middle" >1.2</text>
<text x="42.4" y="231.4" font-size="8.5" text-anchor="end" >0.3</text>
<text x="42.4" y="255.7" font-size="8.5" text-anchor="end" >0.2</text>
<text x="42.4" y="280.0" font-size="8.5" text-anchor="end" >0.1</text>
<text x="42.4" y="304.4" font-size="8.5" text-anchor="end" >0.0</text>
<text x="42.4" y="328.7" font-size="8.5" text-anchor="end" >−0.1</text>
<text x="42.4" y="353.0" font-size="8.5" text-anchor="end" >−0.2</text>
<text x="158.1" y="393.8" font-size="10.4" text-anchor="middle" textLength="45.5" lengthAdjust="spacing"><tspan font-style="italic">Kc</tspan>(<tspan font-style="italic">d</tspan> <tspan dy="-0.7">–</tspan><tspan dy="0.7"> 1)</tspan></text>
<text transform="translate(8.3,295.4) rotate(-90)" font-size="10.4" text-anchor="middle">SHAP value for</text>
<text transform="translate(20.1,295.4) rotate(-90)" font-size="10.4" text-anchor="middle" textLength="46.5" lengthAdjust="spacing"><tspan font-style="italic">Kc</tspan>(<tspan font-style="italic">d</tspan> <tspan dy="-0.7">–</tspan><tspan dy="0.7"> 1)</tspan></text>
<rect x="279.10" y="223.00" width="5.6" height="144.80" fill="#e9eef8"/>
<rect x="280.60" y="223.50" width="2.5" height="143.80" fill="url(#cb)"/>
<text x="293.2" y="230.6" font-size="8.5" text-anchor="start" >0.75</text>
<text x="293.2" y="250.7" font-size="8.5" text-anchor="start" >0.50</text>
<text x="293.2" y="270.8" font-size="8.5" text-anchor="start" >0.25</text>
<text x="293.2" y="290.9" font-size="8.5" text-anchor="start" >0.00</text>
<text x="293.2" y="311.0" font-size="8.5" text-anchor="start" >−0.25</text>
<text x="293.2" y="331.0" font-size="8.5" text-anchor="start" >−0.50</text>
<text x="293.2" y="351.1" font-size="8.5" text-anchor="start" >−0.75</text>
<path d="M285.40 227.52h4.5M285.40 247.60h4.5M285.40 267.68h4.5M285.40 287.77h4.5M285.40 307.85h4.5M285.40 327.94h4.5M285.40 348.02h4.5" stroke="#3a3a3a" stroke-width="1.1" fill="none"/>
<text transform="translate(325.7,295.4) rotate(-90)" font-size="10.4" text-anchor="middle" font-style="italic">Sin</text>
<rect x="407.10" y="223.50" width="214.70" height="143.80" fill="#eaeaf2"/>
<path d="M409.20 223.50V367.30M459.76 223.50V367.30M510.32 223.50V367.30M560.88 223.50V367.30M611.44 223.50V367.30M407.10 239.50H621.80M407.10 275.13H621.80M407.10 310.77H621.80M407.10 346.41H621.80" stroke="#fff" stroke-width="0.9" fill="none"/>
<g stroke-width="3.1" stroke-linecap="round" fill="none"><path d="M416.6 347.5h0" stroke="#ff0057"/><path d="M418.2 349.9h0" stroke="#f5006c"/><path d="M423.1 351.5h0M434.3 336.8h0M472.0 298.5h0" stroke="#fe005c"/><path d="M423.9 353.1h0M425.5 349.9h0M431.1 356.4h0" stroke="#fc0062"/><path d="M435.1 356.4h0" stroke="#f90067"/><path d="M484.9 303.4h0" stroke="#ff0051"/><path d="M436.7 336.8h0" stroke="#0080f7"/><path d="M459.2 333.6h0" stroke="#008bfb"/><path d="M449.6 360.4h0" stroke="#0084f9"/><path d="M488.9 296.6h0" stroke="#bb00a0"/><path d="M499.8 270.9h0" stroke="#b30aa3"/><path d="M467.2 312.2h0" stroke="#ab15a7"/><path d="M432.6 352.8h0" stroke="#6359da"/><path d="M444.6 357.9h0M444.8 357.0h0M456.0 355.5h0M449.7 354.6h0M446.2 352.8h0" stroke="#754fd1"/><path d="M446.5 356.2h0M455.5 354.5h0M457.2 356.3h0M458.1 355.2h0" stroke="#7d49cb"/><path d="M455.2 354.6h0M453.1 355.3h0" stroke="#8443c6"/><path d="M447.6 354.0h0" stroke="#008bfb"/><path d="M437.4 352.2h0M458.8 351.6h0M448.6 354.9h0" stroke="#236cea"/><path d="M450.3 354.2h0M452.5 352.9h0M441.7 356.9h0" stroke="#0080f7"/><path d="M441.4 355.4h0M447.9 354.6h0" stroke="#8b3cc0"/><path d="M431.0 354.1h0M460.2 351.7h0" stroke="#007cf5"/><path d="M461.6 351.8h0M457.6 353.0h0" stroke="#6c54d6"/><path d="M444.8 354.5h0M451.9 353.0h0M455.3 351.6h0" stroke="#0087fa"/><path d="M440.0 353.1h0" stroke="#585edf"/><path d="M446.5 357.3h0" stroke="#0084f9"/><path d="M428.0 352.5h0" stroke="#0074f0"/><path d="M446.3 355.7h0M450.1 353.4h0" stroke="#3b68e7"/><path d="M448.6 357.4h0M430.8 353.6h0M437.8 352.4h0M435.7 355.2h0" stroke="#0087fa"/><path d="M452.3 353.1h0M459.1 352.8h0M458.3 355.4h0M457.4 356.1h0M462.2 353.9h0M442.1 354.5h0M432.7 356.3h0" stroke="#0080f7"/><path d="M436.9 353.0h0M460.1 354.5h0M456.2 351.4h0M427.9 352.7h0" stroke="#0084f9"/><path d="M460.2 354.7h0M440.3 357.2h0" stroke="#7d49cb"/><path d="M448.0 356.8h0M457.7 351.6h0M455.3 352.4h0" stroke="#6359da"/><path d="M436.6 355.4h0M454.5 354.0h0M449.0 356.8h0" stroke="#8443c6"/><path d="M450.9 353.9h0" stroke="#8b3cc0"/><path d="M450.6 357.4h0M429.5 354.9h0" stroke="#6c54d6"/><path d="M435.3 352.2h0" stroke="#4b63e3"/><path d="M459.3 355.5h0" stroke="#007cf5"/><path d="M445.5 357.3h0" stroke="#236cea"/><path d="M445.8 352.6h0M451.1 353.2h0M435.8 356.3h0" stroke="#6c54d6"/><path d="M432.9 354.5h0M447.8 354.3h0M456.4 355.9h0M454.3 357.5h0" stroke="#8443c6"/><path d="M448.2 355.3h0M430.1 355.4h0" stroke="#236cea"/><path d="M429.6 353.1h0M431.8 353.4h0M457.9 354.3h0M453.5 355.7h0M445.8 354.2h0M454.2 356.3h0" stroke="#7d49cb"/><path d="M463.1 351.5h0M448.4 353.2h0M452.9 357.5h0M438.7 354.1h0M434.8 355.8h0" stroke="#754fd1"/><path d="M442.7 354.1h0M442.2 353.9h0M435.5 355.3h0M435.0 356.2h0M460.6 351.8h0" stroke="#0087fa"/><path d="M447.8 355.9h0" stroke="#0084f9"/><path d="M454.3 351.9h0M436.2 352.1h0M432.6 354.4h0" stroke="#0080f7"/><path d="M449.8 353.2h0" stroke="#007cf5"/><path d="M454.6 357.2h0" stroke="#8b3cc0"/><path d="M466.9 337.3h0M446.2 344.0h0M449.6 347.2h0M455.2 344.0h0M451.7 348.0h0M451.4 348.2h0M459.4 340.1h0M457.5 343.5h0M442.0 347.5h0M456.1 345.8h0M449.6 347.7h0M450.0 347.7h0" stroke="#0080f7"/><path d="M444.4 346.8h0M464.8 341.3h0M461.4 340.1h0" stroke="#008bfb"/><path d="M442.1 348.8h0M443.5 346.8h0M467.9 333.8h0M461.9 338.9h0M465.1 338.4h0M434.2 348.8h0M469.5 334.3h0M462.7 337.8h0M458.7 345.3h0M441.4 345.2h0M432.9 349.6h0M465.4 338.1h0M444.5 344.9h0M439.8 344.7h0M441.5 346.7h0M468.7 337.2h0M460.2 340.5h0" stroke="#0087fa"/><path d="M463.7 342.0h0M448.9 346.7h0M456.6 347.8h0M450.6 345.9h0M448.2 346.6h0" stroke="#0084f9"/><path d="M459.2 346.6h0M456.7 344.2h0M450.0 346.4h0M451.7 343.6h0M467.6 334.6h0M435.7 347.9h0M456.5 342.3h0M461.1 343.8h0" stroke="#007cf5"/><path d="M461.5 338.1h0M432.9 350.3h0M453.7 343.4h0" stroke="#0070ed"/><path d="M452.4 344.5h0M453.2 343.6h0" stroke="#0074f0"/><path d="M445.0 347.7h0" stroke="#585edf"/><path d="M449.1 345.0h0" stroke="#4b63e3"/><path d="M440.2 349.1h0M469.2 336.7h0M437.4 345.4h0M468.1 338.3h0M447.2 344.0h0M464.8 337.7h0M456.8 344.7h0M455.8 345.7h0" stroke="#008bfb"/><path d="M468.2 333.8h0M453.0 346.0h0M437.7 349.9h0M460.3 340.7h0" stroke="#585edf"/><path d="M466.6 340.9h0M453.4 344.7h0M465.1 337.7h0M445.8 349.4h0M455.4 343.1h0" stroke="#4b63e3"/><path d="M456.7 346.9h0M460.7 339.1h0M451.8 343.8h0M448.1 348.1h0M456.8 346.3h0M466.8 337.9h0M457.7 341.7h0M453.9 347.2h0" stroke="#0087fa"/><path d="M441.2 347.6h0M448.1 344.5h0M435.9 350.3h0" stroke="#3b68e7"/><path d="M450.5 347.9h0" stroke="#0070ed"/><path d="M457.2 341.9h0M453.5 348.7h0M446.3 345.0h0M456.8 345.7h0M466.7 332.6h0M446.6 347.2h0M455.4 347.1h0M463.6 335.9h0M444.0 344.0h0M463.9 341.3h0M449.9 345.3h0M454.0 344.8h0" stroke="#0084f9"/><path d="M450.4 346.6h0M464.5 338.4h0M464.7 342.8h0" stroke="#007cf5"/><path d="M462.4 337.8h0M450.2 348.5h0M459.1 341.1h0M468.8 335.4h0M457.5 344.0h0M463.2 340.2h0" stroke="#0080f7"/><path d="M462.4 341.5h0" stroke="#0074f0"/><path d="M448.6 348.1h0" stroke="#236cea"/><path d="M458.9 345.5h0M458.2 343.5h0M450.3 344.7h0M442.4 346.1h0M460.1 340.9h0M446.2 343.6h0M439.8 349.0h0M445.0 349.5h0M441.0 350.1h0M466.4 332.3h0M446.3 346.8h0M432.3 350.5h0M436.1 347.1h0M466.2 341.5h0" stroke="#0080f7"/><path d="M456.6 343.9h0M458.4 343.0h0M460.7 339.3h0M456.8 347.3h0" stroke="#4b63e3"/><path d="M441.9 349.1h0M469.2 329.4h0M469.1 332.9h0M464.3 341.7h0M457.0 345.5h0M456.0 342.8h0M441.8 348.3h0M459.3 341.0h0M457.6 343.6h0" stroke="#0087fa"/><path d="M440.9 348.6h0" stroke="#3b68e7"/><path d="M451.8 347.0h0M443.1 346.4h0" stroke="#0070ed"/><path d="M433.1 347.9h0M438.2 346.9h0M455.4 342.8h0M467.4 337.3h0M434.9 350.4h0M448.6 346.1h0M464.7 337.3h0" stroke="#008bfb"/><path d="M447.2 343.9h0M446.9 346.0h0M436.3 346.8h0M455.6 343.4h0M439.0 348.4h0M451.8 347.3h0M448.7 349.3h0M447.9 346.4h0M469.7 334.7h0M440.1 344.9h0" stroke="#0084f9"/><path d="M469.5 332.6h0M438.1 348.7h0" stroke="#236cea"/><path d="M450.5 346.7h0M454.6 345.3h0" stroke="#007cf5"/><path d="M442.5 348.9h0" stroke="#585edf"/><path d="M424.0 350.9h0M425.3 348.4h0M437.9 349.3h0M425.4 352.4h0M448.9 352.0h0M436.3 349.4h0M451.2 349.4h0M434.6 350.3h0M446.9 351.2h0M459.2 347.6h0" stroke="#fc0062"/><path d="M424.9 351.5h0M424.9 348.7h0M436.1 350.2h0M427.0 349.9h0" stroke="#fe005c"/><path d="M436.2 350.9h0M444.8 350.5h0M455.1 348.4h0M455.5 351.9h0M426.0 350.9h0" stroke="#f5006c"/><path d="M457.0 351.8h0M453.6 351.5h0" stroke="#da008a"/><path d="M423.4 351.0h0M419.6 349.4h0M429.0 354.6h0M447.6 352.2h0M438.5 349.8h0" stroke="#ff0057"/><path d="M441.2 351.7h0M454.6 348.0h0" stroke="#e00086"/><path d="M430.8 350.8h0M428.7 353.8h0" stroke="#d5008f"/><path d="M430.7 353.7h0M420.8 351.6h0M429.4 348.9h0M428.1 350.5h0M449.4 351.0h0" stroke="#f90067"/><path d="M425.0 351.7h0M448.0 350.1h0M456.3 348.8h0" stroke="#ff0051"/><path d="M441.1 349.4h0" stroke="#ee0077"/><path d="M421.6 348.3h0" stroke="#e50081"/><path d="M448.7 350.2h0" stroke="#e9007c"/><path d="M455.9 348.4h0M441.5 351.5h0M422.3 348.2h0M436.9 352.9h0M439.6 349.6h0" stroke="#fc0062"/><path d="M427.4 349.7h0M426.0 350.5h0M460.9 348.1h0M454.2 352.3h0" stroke="#f5006c"/><path d="M432.9 348.6h0M433.5 351.2h0M434.1 350.7h0M417.6 348.1h0M427.0 350.7h0M421.1 349.0h0M431.2 351.4h0" stroke="#ff0051"/><path d="M422.0 350.3h0M433.5 349.7h0M435.9 352.7h0M441.4 351.1h0M424.5 351.2h0" stroke="#fe005c"/><path d="M457.7 351.1h0M423.7 348.6h0M419.5 350.1h0M459.9 347.9h0M447.4 349.6h0M430.4 350.5h0" stroke="#f90067"/><path d="M427.6 353.9h0M446.3 349.9h0M450.0 350.9h0M451.4 349.9h0M425.6 349.3h0M427.2 351.1h0" stroke="#ff0057"/><path d="M420.6 349.6h0" stroke="#e50081"/><path d="M430.1 349.4h0M428.4 353.5h0M428.5 353.7h0" stroke="#e00086"/><path d="M426.4 354.7h0" stroke="#da008a"/><path d="M426.0 353.1h0M419.6 350.3h0" stroke="#d5008f"/><path d="M441.5 350.4h0M417.5 349.4h0M431.6 350.5h0M452.3 349.1h0M423.5 350.2h0M456.6 348.3h0M446.4 351.2h0M454.1 348.4h0M444.1 351.6h0M441.5 351.3h0M416.7 348.7h0" stroke="#f90067"/><path d="M427.0 348.5h0M424.5 349.3h0M462.6 347.3h0M443.2 349.1h0" stroke="#fe005c"/><path d="M462.4 347.2h0M455.3 350.3h0M439.4 350.3h0M434.6 351.0h0M421.6 350.9h0M430.4 349.2h0M445.5 349.3h0M427.0 354.4h0" stroke="#ff0057"/><path d="M435.8 349.4h0M460.2 347.6h0M440.5 350.7h0" stroke="#ff0051"/><path d="M428.3 353.5h0M437.9 349.1h0M431.7 349.5h0M425.5 353.1h0" stroke="#fc0062"/><path d="M435.9 352.9h0" stroke="#d5008f"/><path d="M432.5 349.3h0M425.1 352.7h0" stroke="#e50081"/><path d="M447.9 353.0h0M429.5 354.7h0M433.1 353.8h0M423.4 351.6h0M461.6 347.4h0" stroke="#f5006c"/><path d="M447.0 350.7h0" stroke="#e00086"/><path d="M443.2 351.8h0" stroke="#e9007c"/><path d="M448.0 341.4h0M445.5 341.6h0M445.1 343.0h0M449.4 340.8h0M455.5 339.2h0M455.6 339.3h0" stroke="#fc0062"/><path d="M451.9 342.5h0M457.8 337.0h0" stroke="#ff0057"/><path d="M453.0 341.0h0M456.6 340.2h0M443.8 343.5h0M456.7 336.7h0M456.0 337.7h0" stroke="#fe005c"/><path d="M448.2 343.2h0M456.2 339.2h0" stroke="#f5006c"/><path d="M446.5 343.2h0M455.5 341.1h0" stroke="#ff0051"/><path d="M451.2 340.9h0M457.7 337.2h0M445.4 342.8h0M456.3 340.1h0M458.1 337.4h0" stroke="#f90067"/><path d="M465.8 321.3h0" stroke="#da008a"/><path d="M468.4 322.4h0" stroke="#fe005c"/><path d="M466.7 321.2h0M464.6 331.4h0" stroke="#e50081"/><path d="M465.0 328.5h0M464.4 328.4h0" stroke="#ff0057"/><path d="M467.8 318.0h0M465.8 327.9h0" stroke="#d5008f"/><path d="M468.8 317.8h0M465.8 326.6h0" stroke="#e9007c"/><path d="M463.2 328.7h0" stroke="#ff0051"/><path d="M467.3 319.9h0" stroke="#f90067"/><path d="M470.0 322.7h0" stroke="#f5006c"/><path d="M470.4 322.8h0" stroke="#0084f9"/><path d="M470.2 326.7h0M471.0 324.1h0" stroke="#0087fa"/><path d="M471.0 325.8h0" stroke="#fe005c"/><path d="M471.3 323.8h0M471.6 323.6h0" stroke="#008bfb"/><path d="M471.2 322.0h0" stroke="#0080f7"/><path d="M471.2 323.0h0" stroke="#f90067"/><path d="M481.2 332.6h0M470.2 328.7h0M474.3 329.2h0" stroke="#d5008f"/><path d="M493.8 322.0h0M476.3 325.8h0M484.2 321.6h0M495.0 319.3h0M483.9 327.3h0" stroke="#ee0077"/><path d="M469.9 327.3h0M487.2 329.4h0M481.1 324.2h0M483.5 317.8h0M484.3 331.5h0M485.0 328.3h0M468.6 324.8h0" stroke="#e00086"/><path d="M489.7 329.2h0M476.8 319.7h0M477.8 318.3h0M470.9 332.2h0" stroke="#b30aa3"/><path d="M474.6 330.1h0M492.4 326.5h0M470.7 333.2h0M487.1 329.0h0M493.0 315.2h0" stroke="#f90067"/><path d="M488.0 331.2h0M477.2 323.0h0M488.0 330.7h0M470.9 334.5h0M488.8 330.5h0M469.8 323.7h0M490.7 323.1h0M483.1 320.6h0M480.6 321.9h0M488.5 318.8h0M484.6 322.5h0" stroke="#e50081"/><path d="M469.7 330.7h0M470.5 319.3h0M475.8 329.9h0M480.1 325.6h0M485.5 316.5h0M486.7 316.6h0M470.0 322.4h0M475.2 328.6h0" stroke="#ab15a7"/><path d="M485.3 331.5h0M491.1 319.8h0M478.0 326.9h0M471.9 333.2h0" stroke="#9b23ad"/><path d="M477.6 322.3h0M479.5 323.9h0M485.3 316.1h0" stroke="#0084f9"/><path d="M471.1 324.1h0M477.8 318.1h0M496.3 318.7h0M473.0 326.0h0M493.1 326.5h0M495.8 319.1h0" stroke="#bb00a0"/><path d="M479.1 316.5h0M492.8 323.7h0M487.2 330.2h0" stroke="#fe005c"/><path d="M478.1 327.1h0M470.3 331.8h0M474.0 322.6h0M468.7 330.1h0M491.7 327.1h0M477.9 324.5h0" stroke="#e9007c"/><path d="M487.2 326.2h0M468.4 329.2h0M474.5 325.9h0M483.6 318.7h0M475.6 328.9h0M481.8 320.5h0" stroke="#da008a"/><path d="M480.0 334.5h0M474.0 324.3h0" stroke="#cf0093"/><path d="M484.7 322.1h0M475.9 326.3h0" stroke="#0080f7"/><path d="M486.7 318.2h0" stroke="#ff0051"/><path d="M487.9 323.6h0M477.2 332.0h0M478.0 315.5h0M483.7 321.6h0M495.4 326.8h0M482.8 330.2h0M485.4 316.4h0M473.6 331.6h0" stroke="#a31daa"/><path d="M495.0 317.8h0" stroke="#0087fa"/><path d="M487.6 325.1h0M469.0 325.5h0M472.2 327.1h0" stroke="#ff0057"/><path d="M482.7 330.4h0M491.3 321.8h0" stroke="#fc0062"/><path d="M493.8 322.6h0" stroke="#f5006c"/><path d="M475.2 319.7h0" stroke="#008bfb"/><path d="M475.0 328.0h0M471.3 328.5h0M479.5 327.2h0M482.1 325.5h0M475.6 330.2h0" stroke="#fe005c"/><path d="M478.8 318.2h0M485.6 322.2h0M488.6 320.3h0M490.6 321.2h0M491.3 318.3h0" stroke="#a31daa"/><path d="M480.3 319.7h0M492.7 317.0h0M487.9 324.1h0M490.0 326.5h0" stroke="#0087fa"/><path d="M484.0 329.9h0M487.1 320.1h0M471.3 333.7h0M490.8 328.4h0M481.3 332.9h0M483.4 328.1h0M494.3 323.2h0M472.7 334.0h0" stroke="#bb00a0"/><path d="M474.4 332.5h0M486.9 320.2h0M486.5 319.9h0M471.0 331.7h0M494.4 319.0h0M492.0 315.2h0" stroke="#e50081"/><path d="M491.5 327.1h0M469.9 323.6h0M469.6 327.1h0" stroke="#0084f9"/><path d="M495.2 319.1h0M470.6 332.7h0M486.5 326.3h0" stroke="#007cf5"/><path d="M470.4 329.4h0M477.7 319.8h0M487.4 318.2h0M481.4 329.1h0" stroke="#0080f7"/><path d="M475.3 329.0h0M470.2 334.1h0M489.0 329.3h0M477.1 328.3h0M481.1 317.5h0M488.6 327.1h0" stroke="#e00086"/><path d="M485.5 317.2h0M469.5 324.8h0M479.6 316.5h0M491.0 321.1h0" stroke="#d5008f"/><path d="M478.0 315.1h0M470.6 322.5h0M481.5 320.3h0M485.3 325.0h0M475.6 327.7h0M486.9 314.1h0M483.4 317.9h0M471.5 324.9h0M473.8 320.2h0" stroke="#da008a"/><path d="M478.4 316.1h0M474.7 321.0h0M482.5 325.2h0M477.5 332.0h0M475.2 333.4h0M475.0 333.7h0M489.8 316.5h0M487.0 318.8h0M486.0 324.7h0" stroke="#e9007c"/><path d="M480.8 325.8h0M473.5 333.0h0" stroke="#ee0077"/><path d="M487.6 320.8h0M480.1 325.6h0M468.0 324.6h0" stroke="#9b23ad"/><path d="M470.8 323.1h0M472.6 320.6h0M492.4 323.7h0M483.0 320.0h0" stroke="#ab15a7"/><path d="M492.2 318.5h0M487.3 322.1h0M472.9 328.9h0" stroke="#f90067"/><path d="M473.2 324.9h0M477.0 322.8h0M472.9 331.2h0M472.9 319.0h0M475.3 328.4h0M471.6 323.3h0" stroke="#fc0062"/><path d="M485.8 325.3h0M472.0 324.4h0" stroke="#cf0093"/><path d="M473.3 318.5h0M476.9 318.7h0" stroke="#c2009c"/><path d="M483.1 323.3h0" stroke="#b30aa3"/><path d="M474.2 326.7h0M488.4 318.3h0" stroke="#ff0057"/><path d="M474.3 334.6h0M493.3 321.8h0M495.0 316.5h0M481.2 324.4h0M474.3 328.3h0M471.8 327.1h0M476.4 334.5h0M480.7 323.8h0" stroke="#d5008f"/><path d="M490.0 316.5h0M496.5 319.8h0M469.2 324.9h0M486.4 323.3h0M488.4 324.8h0M475.0 322.9h0" stroke="#b30aa3"/><path d="M486.0 324.2h0M486.2 315.8h0M470.7 324.4h0" stroke="#ff0051"/><path d="M477.1 329.5h0M488.0 317.2h0M483.9 321.1h0M487.5 329.2h0M474.2 333.5h0M474.9 334.2h0M487.7 323.9h0M485.9 329.3h0M477.5 334.6h0M489.2 316.7h0M475.3 330.5h0" stroke="#e9007c"/><path d="M479.5 322.6h0" stroke="#fe005c"/><path d="M469.0 325.2h0M486.3 314.3h0M471.6 323.2h0M486.2 324.7h0M466.8 327.6h0M486.7 317.2h0M489.1 324.2h0M484.5 320.1h0" stroke="#ab15a7"/><path d="M483.3 331.7h0M482.3 318.0h0M478.9 330.8h0M483.8 319.2h0M489.9 317.4h0M472.1 324.9h0M475.6 326.8h0" stroke="#bb00a0"/><path d="M476.6 319.9h0M478.2 324.7h0M490.0 324.1h0M489.2 327.3h0M488.8 322.2h0M480.2 325.1h0" stroke="#da008a"/><path d="M496.0 323.0h0" stroke="#ee0077"/><path d="M490.1 315.1h0M487.7 328.8h0M492.2 317.7h0M482.5 318.1h0M478.2 333.2h0M490.7 316.7h0" stroke="#e00086"/><path d="M484.0 315.5h0M490.1 325.2h0M494.3 317.4h0M475.8 322.6h0M480.2 326.5h0" stroke="#a31daa"/><path d="M470.4 323.8h0M474.8 326.7h0M488.5 330.0h0M477.0 334.0h0" stroke="#e50081"/><path d="M487.6 316.9h0M486.8 323.5h0M485.3 314.3h0M472.6 326.2h0" stroke="#fc0062"/><path d="M478.0 328.6h0M472.1 330.2h0M488.6 323.2h0M473.3 324.2h0M474.4 328.6h0" stroke="#0087fa"/><path d="M490.6 317.5h0M490.3 324.9h0M480.9 324.7h0M495.7 319.0h0M487.3 328.2h0" stroke="#9b23ad"/><path d="M472.7 325.8h0M484.8 323.2h0" stroke="#f90067"/><path d="M467.2 326.2h0M469.3 322.3h0M494.0 325.6h0M486.7 323.0h0" stroke="#0084f9"/><path d="M483.3 319.0h0" stroke="#cf0093"/><path d="M470.5 319.4h0M493.3 316.3h0" stroke="#0080f7"/><path d="M477.6 316.4h0" stroke="#ff0057"/><path d="M495.8 319.7h0" stroke="#c2009c"/><path d="M471.7 323.3h0M475.9 324.5h0M489.6 317.3h0" stroke="#0084f9"/><path d="M481.0 321.2h0" stroke="#4b63e3"/><path d="M479.5 319.1h0M471.7 325.8h0" stroke="#0070ed"/><path d="M476.0 322.7h0" stroke="#236cea"/><path d="M478.9 321.5h0M482.0 320.5h0M486.2 316.7h0" stroke="#0080f7"/><path d="M480.8 321.8h0" stroke="#585edf"/><path d="M486.5 318.7h0" stroke="#0087fa"/><path d="M485.5 317.5h0" stroke="#007cf5"/><path d="M488.6 317.5h0" stroke="#008bfb"/><path d="M473.1 323.4h0" stroke="#0074f0"/><path d="M487.3 318.0h0M484.1 319.6h0M476.2 321.7h0M487.9 316.8h0M482.4 319.5h0M467.9 328.9h0" stroke="#0084f9"/><path d="M476.3 322.5h0" stroke="#0070ed"/><path d="M481.9 317.8h0" stroke="#007cf5"/><path d="M468.2 327.1h0M483.1 319.4h0M468.5 329.9h0" stroke="#0080f7"/><path d="M469.1 325.8h0" stroke="#236cea"/><path d="M479.0 319.7h0" stroke="#0087fa"/><path d="M479.5 319.5h0" stroke="#4b63e3"/><path d="M470.1 328.1h0" stroke="#0074f0"/><path d="M482.4 319.8h0M468.8 329.8h0M470.8 326.5h0M472.1 323.6h0" stroke="#0084f9"/><path d="M472.9 323.1h0M479.0 319.8h0" stroke="#007cf5"/><path d="M474.6 325.3h0M470.5 326.1h0" stroke="#0080f7"/><path d="M476.4 322.1h0M474.5 322.4h0" stroke="#236cea"/><path d="M486.3 318.8h0M480.1 319.6h0" stroke="#3b68e7"/><path d="M472.2 324.2h0" stroke="#008bfb"/><path d="M480.6 318.1h0" stroke="#0070ed"/><path d="M485.2 318.9h0" stroke="#0074f0"/><path d="M479.6 311.7h0M479.6 310.9h0M476.4 307.5h0" stroke="#bb00a0"/><path d="M475.5 311.1h0M484.8 308.3h0M478.3 308.9h0M478.1 310.1h0M480.9 312.0h0" stroke="#ab15a7"/><path d="M471.1 310.0h0" stroke="#9b23ad"/><path d="M474.6 307.8h0M482.2 307.6h0" stroke="#b30aa3"/><path d="M472.6 310.3h0" stroke="#cf0093"/><path d="M482.9 310.8h0" stroke="#a31daa"/><path d="M471.5 311.5h0M480.0 306.8h0" stroke="#9b23ad"/><path d="M486.7 311.0h0M484.9 310.2h0" stroke="#c2009c"/><path d="M475.0 309.3h0M484.5 311.0h0M473.6 309.6h0" stroke="#a31daa"/><path d="M474.7 305.9h0" stroke="#bb00a0"/><path d="M484.8 308.4h0" stroke="#d5008f"/><path d="M484.3 312.1h0" stroke="#da008a"/><path d="M474.7 309.7h0M484.4 309.5h0" stroke="#ab15a7"/><path d="M475.8 307.8h0" stroke="#bb00a0"/><path d="M482.0 312.7h0M471.4 309.6h0" stroke="#d5008f"/><path d="M471.6 308.9h0" stroke="#e9007c"/><path d="M475.1 309.9h0M473.5 311.0h0" stroke="#a31daa"/><path d="M473.0 310.0h0" stroke="#9b23ad"/><path d="M486.1 310.7h0" stroke="#c2009c"/><path d="M485.6 310.3h0" stroke="#b30aa3"/><path d="M474.9 308.9h0" stroke="#ab15a7"/><path d="M482.5 311.8h0" stroke="#e50081"/><path d="M471.7 312.6h0" stroke="#da008a"/><path d="M511.0 287.3h0M506.0 294.6h0M499.6 302.3h0M505.4 292.9h0M494.2 308.5h0" stroke="#7d49cb"/><path d="M503.7 293.2h0M513.7 283.1h0M517.2 284.5h0M503.8 294.3h0M503.4 295.8h0M494.2 305.8h0M495.5 308.4h0" stroke="#754fd1"/><path d="M500.7 300.9h0" stroke="#a31daa"/><path d="M496.4 307.4h0" stroke="#6359da"/><path d="M508.2 292.5h0M499.1 299.8h0M504.9 295.6h0" stroke="#6c54d6"/><path d="M494.5 308.5h0M496.0 308.0h0" stroke="#8b3cc0"/><path d="M507.5 290.8h0M511.5 286.7h0M499.4 300.9h0M506.6 290.9h0" stroke="#8443c6"/><path d="M508.7 288.1h0" stroke="#9b23ad"/><path d="M504.9 292.3h0M509.4 290.4h0" stroke="#ab15a7"/><path d="M498.2 301.8h0" stroke="#bb00a0"/><path d="M507.8 294.0h0" stroke="#c2009c"/><path d="M509.8 284.1h0M510.6 288.1h0" stroke="#ff0057"/><path d="M512.2 282.5h0M514.6 280.9h0" stroke="#f5006c"/><path d="M516.2 279.3h0" stroke="#ff0051"/><path d="M513.0 283.3h0" stroke="#f90067"/><path d="M508.2 290.5h0" stroke="#fc0062"/><path d="M536.6 271.3h0M536.8 278.6h0M527.5 278.1h0M544.5 272.4h0M536.0 276.6h0M516.7 279.2h0M521.1 276.0h0M534.1 272.9h0" stroke="#ff0057"/><path d="M533.4 277.5h0M532.6 272.9h0M521.1 278.1h0M526.1 276.8h0M525.9 276.8h0M534.0 279.3h0M516.4 282.2h0" stroke="#f90067"/><path d="M538.0 271.7h0M520.2 281.9h0" stroke="#f5006c"/><path d="M528.3 275.4h0M536.5 274.7h0" stroke="#e50081"/><path d="M526.4 275.3h0M538.5 271.4h0" stroke="#e00086"/><path d="M520.8 277.1h0M534.2 271.5h0" stroke="#da008a"/><path d="M521.9 277.9h0" stroke="#ee0077"/><path d="M540.7 277.5h0M531.3 274.8h0M512.9 280.3h0M537.9 271.9h0M531.1 275.2h0M522.5 281.0h0M535.9 272.4h0" stroke="#fe005c"/><path d="M524.4 279.4h0" stroke="#ff0051"/><path d="M529.5 274.3h0M516.9 280.0h0M516.0 278.7h0M524.4 276.1h0M538.5 277.3h0M535.7 271.1h0M525.7 278.5h0M530.6 277.2h0M533.3 276.4h0M512.4 280.0h0M543.1 271.9h0" stroke="#fc0062"/><path d="M540.8 273.9h0" stroke="#d5008f"/><path d="M539.6 275.8h0M523.3 276.9h0M521.3 276.5h0M544.1 273.0h0M543.6 270.0h0" stroke="#fe005c"/><path d="M527.9 278.3h0M516.6 280.7h0M519.9 276.2h0M528.2 280.1h0M526.0 275.6h0M523.6 281.3h0" stroke="#ff0057"/><path d="M536.0 274.2h0M521.2 279.8h0" stroke="#d5008f"/><path d="M516.7 282.0h0M525.4 277.0h0" stroke="#ee0077"/><path d="M521.6 279.9h0M526.2 274.8h0M542.2 271.7h0M513.2 280.5h0M529.7 273.8h0M523.4 275.7h0M518.1 277.3h0M516.7 282.5h0M529.1 279.3h0M528.8 279.9h0" stroke="#f90067"/><path d="M529.2 278.5h0M532.2 273.2h0M533.1 275.6h0M519.5 278.8h0M526.2 274.7h0" stroke="#fc0062"/><path d="M536.6 278.2h0M531.1 277.1h0M531.6 279.2h0M525.6 274.2h0M519.0 277.5h0M519.5 276.8h0M540.2 271.8h0M528.5 279.8h0" stroke="#ff0051"/><path d="M543.0 270.2h0M518.2 279.5h0" stroke="#e00086"/><path d="M519.7 276.9h0M531.1 276.2h0" stroke="#e9007c"/><path d="M534.6 273.7h0" stroke="#e50081"/><path d="M537.3 275.6h0M537.5 271.7h0M512.7 281.0h0M528.6 274.3h0M534.6 273.9h0M521.2 280.5h0M522.2 274.9h0" stroke="#ff0057"/><path d="M544.3 270.4h0M538.1 275.9h0M523.5 274.4h0M533.6 279.5h0M528.1 279.0h0M536.5 276.2h0" stroke="#fe005c"/><path d="M530.9 276.4h0M515.6 280.4h0" stroke="#d5008f"/><path d="M531.0 279.9h0M540.8 273.2h0M527.3 274.5h0" stroke="#e00086"/><path d="M521.0 276.1h0M526.1 278.9h0M521.8 279.8h0M536.2 276.8h0M526.8 280.5h0M534.2 276.5h0M537.9 272.8h0M531.9 278.5h0" stroke="#f90067"/><path d="M532.5 279.1h0M539.2 271.3h0M529.5 277.9h0" stroke="#e9007c"/><path d="M515.4 278.9h0M538.9 276.9h0M519.0 281.3h0M521.8 279.2h0M540.8 274.5h0" stroke="#f5006c"/><path d="M532.8 275.3h0M512.9 282.6h0M530.0 278.7h0M518.1 281.3h0" stroke="#ff0051"/><path d="M542.2 274.8h0" stroke="#e50081"/><path d="M524.9 273.6h0M532.5 273.5h0M539.9 275.4h0" stroke="#fc0062"/><path d="M516.6 278.8h0" stroke="#da008a"/><path d="M539.2 283.6h0M526.1 287.2h0M544.8 279.7h0" stroke="#754fd1"/><path d="M517.6 285.2h0M535.6 283.4h0M536.5 280.3h0M534.4 281.0h0" stroke="#a31daa"/><path d="M533.5 281.3h0" stroke="#8443c6"/><path d="M530.5 281.4h0M516.8 286.6h0" stroke="#8b3cc0"/><path d="M539.8 279.3h0M524.8 283.9h0M534.2 284.4h0M544.3 280.7h0" stroke="#6c54d6"/><path d="M515.8 285.8h0M535.3 280.2h0M542.7 283.1h0M514.2 286.5h0M521.9 282.6h0" stroke="#ab15a7"/><path d="M525.0 285.0h0" stroke="#c2009c"/><path d="M527.0 283.3h0M544.0 279.6h0M543.6 279.5h0" stroke="#7d49cb"/><path d="M520.4 282.7h0M532.0 280.6h0" stroke="#bb00a0"/><path d="M520.2 284.0h0M538.4 279.1h0M536.8 280.3h0M547.6 281.4h0M524.1 284.7h0" stroke="#b30aa3"/><path d="M524.8 283.2h0" stroke="#6359da"/><path d="M542.2 279.8h0" stroke="#9b23ad"/><path d="M522.8 284.3h0M522.2 287.8h0M516.2 288.9h0M541.1 280.7h0M512.5 286.1h0M529.7 285.2h0" stroke="#a31daa"/><path d="M545.9 278.7h0M546.0 278.9h0M540.4 282.9h0" stroke="#c2009c"/><path d="M528.0 284.0h0M525.9 283.8h0M527.9 281.7h0M539.4 283.1h0M529.3 286.0h0" stroke="#b30aa3"/><path d="M542.2 280.4h0M528.7 284.9h0" stroke="#6c54d6"/><path d="M543.0 279.5h0M520.9 288.3h0M544.8 280.8h0M540.9 282.0h0" stroke="#7d49cb"/><path d="M516.5 287.2h0M524.9 282.8h0" stroke="#ab15a7"/><path d="M516.4 288.2h0M520.6 283.5h0M529.7 286.9h0" stroke="#754fd1"/><path d="M526.0 287.6h0" stroke="#9b23ad"/><path d="M544.1 281.7h0M514.9 289.0h0" stroke="#8443c6"/><path d="M535.1 282.5h0M532.9 285.0h0M520.3 288.3h0" stroke="#bb00a0"/><path d="M530.1 286.8h0" stroke="#6359da"/><path d="M513.5 287.4h0M525.8 285.0h0" stroke="#c2009c"/><path d="M528.3 286.3h0M546.5 281.6h0M540.1 282.5h0M512.5 285.9h0" stroke="#bb00a0"/><path d="M545.3 278.5h0M523.9 283.7h0M547.6 281.7h0M517.2 285.5h0M519.2 284.8h0M525.3 287.6h0" stroke="#6c54d6"/><path d="M520.8 287.8h0M516.9 283.8h0M528.7 283.8h0M520.3 283.2h0" stroke="#ab15a7"/><path d="M531.5 285.7h0M547.0 280.8h0M513.3 285.3h0" stroke="#a31daa"/><path d="M546.7 280.1h0M530.0 286.8h0" stroke="#9b23ad"/><path d="M516.2 288.9h0M516.4 288.4h0" stroke="#6359da"/><path d="M514.5 286.4h0M514.2 288.9h0M515.3 287.2h0M540.1 280.9h0M520.9 286.8h0M529.7 286.8h0" stroke="#8443c6"/><path d="M542.6 283.2h0M517.9 288.9h0" stroke="#b30aa3"/><path d="M533.4 284.8h0" stroke="#754fd1"/><path d="M505.8 296.5h0M506.2 293.0h0M507.6 295.0h0M510.4 292.6h0" stroke="#6c54d6"/><path d="M506.3 293.8h0" stroke="#fc0062"/><path d="M508.6 292.1h0M506.6 295.1h0" stroke="#7d49cb"/><path d="M506.9 293.5h0M510.7 290.4h0M508.2 290.7h0" stroke="#8443c6"/><path d="M507.5 290.3h0M507.7 291.1h0M505.4 293.4h0" stroke="#ff0057"/><path d="M506.8 298.9h0" stroke="#f5006c"/><path d="M507.3 291.4h0M506.4 291.2h0" stroke="#fe005c"/><path d="M506.5 294.7h0M508.5 291.3h0" stroke="#6359da"/><path d="M522.8 266.8h0M524.0 268.0h0M537.4 266.8h0M524.3 265.5h0" stroke="#754fd1"/><path d="M524.9 255.6h0M540.5 261.3h0M524.5 257.3h0" stroke="#7d49cb"/><path d="M524.4 254.2h0M523.8 255.4h0M538.3 255.2h0M529.0 254.0h0M532.1 261.2h0M525.1 267.0h0" stroke="#0084f9"/><path d="M522.9 265.2h0" stroke="#0080f7"/><path d="M535.7 263.4h0" stroke="#4b63e3"/><path d="M520.8 263.7h0" stroke="#3b68e7"/><path d="M535.4 267.6h0M527.9 259.8h0" stroke="#585edf"/><path d="M529.6 258.2h0M520.4 258.8h0M535.7 264.1h0M536.8 260.1h0" stroke="#8443c6"/><path d="M539.2 263.8h0" stroke="#008bfb"/><path d="M525.5 264.3h0" stroke="#6c54d6"/><path d="M523.5 260.3h0" stroke="#8b3cc0"/><path d="M533.1 262.5h0" stroke="#754fd1"/><path d="M532.0 254.1h0M518.7 264.0h0M525.3 255.5h0M525.7 266.7h0" stroke="#6c54d6"/><path d="M531.0 256.1h0M532.0 253.1h0" stroke="#7d49cb"/><path d="M524.2 261.1h0M523.7 266.4h0M522.5 260.0h0M530.5 263.3h0" stroke="#8443c6"/><path d="M524.6 258.2h0" stroke="#0084f9"/><path d="M537.3 262.2h0M535.0 264.3h0" stroke="#0070ed"/><path d="M520.5 263.4h0" stroke="#0080f7"/><path d="M520.3 263.7h0M532.2 264.6h0M519.3 257.6h0" stroke="#236cea"/><path d="M527.9 262.4h0" stroke="#0087fa"/><path d="M536.2 258.3h0M535.6 267.6h0M530.0 256.5h0" stroke="#4b63e3"/><path d="M529.2 258.1h0" stroke="#007cf5"/><path d="M532.6 268.2h0" stroke="#6359da"/><path d="M538.5 265.9h0M522.2 256.8h0" stroke="#585edf"/><path d="M536.1 263.1h0M526.4 258.2h0M538.7 261.4h0M522.5 262.0h0M525.5 263.6h0" stroke="#7d49cb"/><path d="M529.6 256.4h0M531.2 268.7h0" stroke="#754fd1"/><path d="M522.3 259.2h0M532.0 266.5h0" stroke="#6c54d6"/><path d="M539.3 257.7h0M520.5 259.5h0M535.7 253.8h0M523.3 261.8h0" stroke="#0087fa"/><path d="M524.0 257.7h0" stroke="#6359da"/><path d="M534.1 267.9h0" stroke="#236cea"/><path d="M526.0 265.7h0M531.7 256.7h0M534.6 257.3h0M532.0 260.6h0M526.7 266.4h0" stroke="#8443c6"/><path d="M526.6 254.5h0" stroke="#0070ed"/><path d="M532.7 256.9h0" stroke="#3b68e7"/><path d="M534.1 268.2h0" stroke="#008bfb"/><path d="M529.9 266.2h0M531.3 266.5h0" stroke="#0087fa"/><path d="M538.5 262.7h0M534.1 263.1h0M533.6 265.5h0" stroke="#0080f7"/><path d="M538.0 266.2h0M536.3 265.1h0M524.2 262.7h0" stroke="#0084f9"/><path d="M526.2 262.1h0M528.9 266.8h0" stroke="#007cf5"/><path d="M536.8 266.2h0M532.0 265.6h0M537.2 264.2h0" stroke="#0080f7"/><path d="M532.6 266.4h0M528.3 266.0h0M525.0 262.0h0" stroke="#0087fa"/><path d="M524.8 264.1h0" stroke="#0084f9"/><path d="M535.0 262.5h0M527.8 263.3h0M528.4 262.2h0" stroke="#008bfb"/><path d="M526.2 265.7h0M529.8 265.2h0" stroke="#0080f7"/><path d="M537.2 264.6h0M535.2 262.6h0" stroke="#0084f9"/><path d="M525.4 265.3h0M529.0 268.2h0" stroke="#008bfb"/><path d="M538.3 262.7h0M531.8 264.6h0M535.7 263.0h0" stroke="#0087fa"/><path d="M528.6 262.7h0" stroke="#007cf5"/><path d="M540.5 240.8h0M526.9 251.4h0M537.5 253.6h0" stroke="#6c54d6"/><path d="M516.6 252.7h0" stroke="#7d49cb"/><path d="M538.3 249.3h0" stroke="#754fd1"/><path d="M516.1 268.1h0" stroke="#0080f7"/><path d="M547.2 258.4h0" stroke="#0084f9"/><path d="M600.3 230.0h0" stroke="#0087fa"/><path d="M551.6 265.0h0M547.8 263.6h0M566.6 257.5h0M553.4 259.9h0M547.3 264.1h0" stroke="#d5008f"/><path d="M562.6 259.3h0M576.4 254.4h0M560.6 256.9h0M578.4 256.4h0" stroke="#e9007c"/><path d="M548.3 263.6h0" stroke="#fe005c"/><path d="M562.3 256.7h0M558.0 260.5h0M552.4 265.0h0" stroke="#f90067"/><path d="M563.9 259.1h0M553.8 260.1h0M573.6 258.5h0M558.8 262.0h0" stroke="#ff0057"/><path d="M562.3 257.5h0" stroke="#f5006c"/><path d="M578.4 253.7h0" stroke="#e00086"/><path d="M557.2 257.8h0M560.9 258.0h0M560.4 258.6h0" stroke="#da008a"/><path d="M574.3 253.7h0" stroke="#ee0077"/><path d="M546.4 265.6h0M565.7 257.5h0M565.0 259.9h0M548.7 264.5h0M576.2 254.2h0" stroke="#ff0051"/><path d="M556.8 260.7h0" stroke="#fc0062"/><path d="M579.0 252.8h0" stroke="#e50081"/><path d="M561.4 276.7h0" stroke="#fc0062"/><path d="M565.6 314.2h0" stroke="#f90067"/><path d="M601.9 245.3h0M584.5 252.4h0M586.1 248.8h0" stroke="#8443c6"/><path d="M596.1 241.2h0M595.4 245.4h0M601.9 246.9h0M590.3 250.6h0M591.3 245.1h0M601.9 246.6h0M593.6 243.3h0M580.7 249.1h0M597.4 248.8h0M590.8 252.3h0M588.7 246.2h0M591.3 246.7h0" stroke="#0087fa"/><path d="M602.5 244.7h0M591.2 248.7h0M603.5 240.8h0M606.0 241.1h0M584.9 250.8h0" stroke="#0080f7"/><path d="M603.7 238.7h0M584.6 253.0h0M591.0 249.7h0M581.6 253.8h0M593.5 250.3h0M592.4 241.2h0M599.2 245.5h0M600.4 247.6h0M589.2 250.8h0M586.9 254.5h0" stroke="#0084f9"/><path d="M595.6 245.0h0M586.7 249.7h0M589.2 247.6h0M590.1 248.0h0M591.3 248.7h0M582.8 250.7h0" stroke="#007cf5"/><path d="M607.9 243.8h0M607.2 240.7h0M582.9 250.0h0M584.0 246.4h0" stroke="#7d49cb"/><path d="M595.4 243.2h0M601.2 243.1h0" stroke="#6c54d6"/><path d="M583.9 245.1h0" stroke="#0070ed"/><path d="M609.1 243.8h0M588.1 245.3h0" stroke="#585edf"/><path d="M604.5 243.3h0M585.2 253.1h0" stroke="#236cea"/><path d="M603.4 241.4h0M584.5 246.6h0M598.5 244.7h0M586.9 244.3h0" stroke="#008bfb"/><path d="M593.1 239.9h0" stroke="#3b68e7"/><path d="M591.8 247.4h0" stroke="#4b63e3"/><path d="M602.4 239.7h0" stroke="#754fd1"/><path d="M597.2 238.3h0M583.8 255.2h0M589.7 243.1h0M585.6 251.1h0" stroke="#0070ed"/><path d="M599.0 242.4h0M587.3 246.4h0M582.0 253.8h0M590.6 249.6h0M587.7 249.9h0M583.9 248.9h0M601.4 239.8h0M599.7 239.2h0M588.8 242.6h0" stroke="#0080f7"/><path d="M583.2 249.8h0M591.6 242.7h0M606.6 238.9h0" stroke="#7d49cb"/><path d="M583.2 253.7h0M585.8 253.6h0M601.7 239.9h0M593.1 239.8h0M583.7 251.0h0M608.0 243.2h0M590.5 253.2h0M597.6 248.4h0M589.9 241.4h0M599.2 244.3h0" stroke="#0087fa"/><path d="M586.2 244.0h0M606.3 239.0h0M594.6 251.5h0M581.8 249.2h0" stroke="#4b63e3"/><path d="M600.0 245.3h0M588.6 246.2h0M590.2 252.5h0M585.5 246.4h0M594.7 249.7h0" stroke="#0084f9"/><path d="M608.9 242.2h0M598.0 245.6h0M593.0 245.4h0" stroke="#007cf5"/><path d="M592.8 241.6h0" stroke="#8b3cc0"/><path d="M599.8 248.2h0M596.1 245.0h0M594.8 245.1h0" stroke="#236cea"/><path d="M585.8 242.3h0" stroke="#585edf"/><path d="M590.1 244.4h0" stroke="#754fd1"/><path d="M607.1 242.6h0M598.6 241.2h0M602.0 242.2h0M600.3 248.0h0" stroke="#8443c6"/><path d="M592.5 243.9h0" stroke="#6c54d6"/><path d="M606.5 239.4h0" stroke="#0074f0"/><path d="M588.0 241.8h0M596.1 246.8h0M596.4 246.1h0" stroke="#008bfb"/><path d="M603.8 242.5h0" stroke="#3b68e7"/><path d="M589.0 250.3h0M581.8 253.8h0" stroke="#0074f0"/><path d="M608.1 242.9h0M588.2 246.5h0M591.4 240.6h0M602.0 241.4h0M593.2 239.7h0M585.6 244.3h0M582.6 249.0h0M590.1 251.5h0" stroke="#0084f9"/><path d="M588.5 250.5h0M586.6 248.0h0M594.9 248.7h0M583.6 254.8h0M581.8 252.0h0M591.3 246.7h0M591.8 244.5h0M585.2 248.5h0" stroke="#008bfb"/><path d="M590.5 245.5h0M610.2 240.5h0M584.3 245.6h0M608.9 239.1h0M605.3 241.9h0M590.7 242.7h0" stroke="#0087fa"/><path d="M586.0 254.6h0M592.8 239.5h0M584.5 253.2h0M598.1 248.9h0M601.2 242.7h0M592.6 248.2h0M586.3 248.2h0M591.2 247.7h0M594.0 248.3h0" stroke="#0080f7"/><path d="M593.0 244.1h0M591.2 251.4h0M609.4 242.0h0" stroke="#007cf5"/><path d="M596.0 243.7h0M600.0 238.5h0M583.2 251.2h0M607.6 242.2h0" stroke="#236cea"/><path d="M596.0 239.8h0" stroke="#4b63e3"/><path d="M585.9 245.2h0" stroke="#585edf"/><path d="M594.0 243.0h0M589.8 252.1h0" stroke="#8443c6"/><path d="M590.9 242.2h0M600.5 242.2h0M581.6 249.1h0" stroke="#754fd1"/><path d="M582.7 246.1h0M585.4 248.2h0M601.2 239.2h0M587.1 250.6h0" stroke="#3b68e7"/><path d="M595.0 250.5h0" stroke="#6c54d6"/><path d="M592.5 240.1h0" stroke="#7d49cb"/><path d="M594.2 251.1h0" stroke="#0070ed"/><path d="M588.8 256.0h0M604.6 245.0h0M602.7 244.9h0M581.4 252.3h0" stroke="#da008a"/><path d="M584.3 255.0h0M606.6 246.8h0" stroke="#bb00a0"/><path d="M605.5 244.7h0M603.1 248.1h0M605.1 249.3h0M587.8 249.9h0" stroke="#e00086"/><path d="M600.9 249.0h0M596.7 249.5h0M597.5 251.4h0M591.6 251.0h0" stroke="#a31daa"/><path d="M590.7 252.0h0M582.2 257.2h0M591.5 253.0h0M584.0 251.5h0" stroke="#d5008f"/><path d="M590.9 251.9h0M595.6 248.2h0M584.4 250.1h0M601.0 245.7h0" stroke="#e50081"/><path d="M595.7 253.1h0M587.4 250.3h0" stroke="#9b23ad"/><path d="M582.2 257.6h0M591.9 255.0h0M583.0 257.9h0M603.1 247.7h0" stroke="#e9007c"/><path d="M587.1 250.9h0" stroke="#ee0077"/><path d="M592.6 254.2h0M599.8 247.4h0" stroke="#b30aa3"/><path d="M598.5 247.9h0M597.1 250.7h0M583.3 256.9h0" stroke="#e9007c"/><path d="M591.2 254.8h0M605.3 244.7h0M585.3 249.7h0M604.8 249.3h0M588.3 251.8h0" stroke="#e00086"/><path d="M584.2 256.2h0" stroke="#b30aa3"/><path d="M582.2 251.8h0M592.1 248.0h0M591.1 251.5h0M601.8 250.2h0M582.1 256.8h0" stroke="#bb00a0"/><path d="M601.6 247.5h0M591.2 247.8h0M594.5 249.6h0M595.0 252.0h0M585.4 254.8h0" stroke="#a31daa"/><path d="M597.1 248.3h0M588.2 251.2h0" stroke="#e50081"/><path d="M588.5 255.6h0M591.2 249.8h0M591.9 250.8h0" stroke="#d5008f"/><path d="M606.1 245.4h0M604.7 245.8h0" stroke="#c2009c"/><path d="M599.5 246.3h0M585.1 253.6h0M601.2 246.9h0" stroke="#da008a"/><path d="M585.5 251.0h0M606.6 245.1h0" stroke="#cf0093"/><path d="M583.3 255.5h0M593.1 248.2h0M585.7 253.9h0M595.6 246.6h0" stroke="#da008a"/><path d="M600.6 246.5h0M597.7 252.0h0" stroke="#ee0077"/><path d="M596.6 248.8h0M585.6 255.1h0" stroke="#e50081"/><path d="M597.8 249.2h0M604.7 247.9h0M597.8 251.2h0" stroke="#e9007c"/><path d="M606.2 245.5h0M584.3 253.7h0M581.4 253.8h0M593.5 251.2h0" stroke="#e00086"/><path d="M589.2 255.5h0M605.3 245.5h0" stroke="#cf0093"/><path d="M603.3 245.2h0M604.5 249.5h0M587.5 254.5h0M593.6 252.9h0" stroke="#bb00a0"/><path d="M590.6 249.1h0" stroke="#ab15a7"/><path d="M600.7 245.3h0M598.3 250.6h0M603.6 247.3h0M586.1 253.7h0" stroke="#9b23ad"/><path d="M593.8 252.1h0M592.7 248.4h0M603.0 249.4h0" stroke="#a31daa"/><path d="M590.0 254.0h0" stroke="#d5008f"/><path d="M607.6 240.8h0" stroke="#d5008f"/><path d="M604.8 242.2h0M603.9 241.3h0M599.5 239.7h0" stroke="#fc0062"/><path d="M600.0 237.7h0M606.5 239.0h0" stroke="#f90067"/><path d="M609.3 240.7h0" stroke="#e50081"/><path d="M605.7 242.6h0" stroke="#ff0057"/><path d="M604.2 239.5h0" stroke="#e9007c"/><path d="M606.6 238.5h0" stroke="#da008a"/><path d="M602.6 240.8h0" stroke="#ff0051"/><path d="M601.5 240.2h0M596.1 239.0h0" stroke="#ff0057"/><path d="M601.7 239.6h0" stroke="#e50081"/><path d="M610.5 238.6h0M604.3 241.0h0" stroke="#fe005c"/><path d="M595.8 239.7h0M599.6 240.3h0M607.6 238.8h0" stroke="#fc0062"/><path d="M600.7 237.7h0" stroke="#f5006c"/><path d="M610.1 240.7h0" stroke="#f90067"/><path d="M602.3 240.2h0M602.3 240.3h0M596.3 239.3h0" stroke="#f90067"/><path d="M601.9 238.0h0M608.3 239.9h0" stroke="#ff0057"/><path d="M606.1 238.6h0M604.8 242.5h0" stroke="#da008a"/><path d="M607.3 242.9h0" stroke="#e50081"/><path d="M605.6 242.6h0" stroke="#ff0051"/><path d="M597.9 239.0h0" stroke="#d5008f"/><path d="M581.2 258.9h0" stroke="#ee0077"/><path d="M582.0 262.8h0" stroke="#e9007c"/><path d="M580.9 261.0h0M584.1 261.2h0" stroke="#ab15a7"/><path d="M581.7 257.6h0M580.7 261.8h0" stroke="#b30aa3"/><path d="M582.5 258.4h0" stroke="#e00086"/><path d="M582.9 262.1h0" stroke="#c2009c"/><path d="M581.9 258.0h0" stroke="#da008a"/><path d="M581.8 258.1h0" stroke="#d5008f"/><path d="M587.0 270.7h0M588.7 269.8h0M593.0 268.1h0M595.5 266.7h0M593.8 269.0h0" stroke="#a31daa"/><path d="M598.1 265.6h0M586.1 276.7h0M587.8 292.4h0" stroke="#b30aa3"/><path d="M582.7 275.8h0" stroke="#c2009c"/><path d="M584.3 284.2h0M592.3 280.3h0M586.2 283.6h0" stroke="#0084f9"/><path d="M595.3 281.0h0M586.2 281.1h0M590.1 284.4h0" stroke="#0087fa"/><path d="M588.1 284.8h0M595.9 279.3h0M587.0 282.6h0M588.3 284.6h0" stroke="#0080f7"/><path d="M597.8 277.5h0" stroke="#008bfb"/><path d="M592.5 281.6h0M586.3 283.4h0M583.0 281.2h0M590.2 282.8h0M592.5 283.3h0" stroke="#0080f7"/><path d="M587.9 280.6h0M597.5 278.4h0M585.2 283.6h0M589.3 285.7h0" stroke="#0084f9"/><path d="M589.8 283.9h0M585.2 282.1h0" stroke="#0087fa"/><path d="M598.1 279.0h0M590.4 283.4h0M591.5 283.8h0M594.6 281.9h0" stroke="#0084f9"/><path d="M600.7 277.8h0" stroke="#007cf5"/><path d="M590.7 279.3h0M593.9 282.6h0" stroke="#008bfb"/><path d="M595.1 280.4h0M595.0 278.4h0" stroke="#0087fa"/><path d="M581.7 281.6h0" stroke="#0080f7"/><path d="M595.9 290.6h0M584.2 322.3h0M595.2 295.4h0M593.3 295.8h0M585.8 308.5h0M583.2 312.2h0M584.5 308.7h0" stroke="#0087fa"/><path d="M588.9 304.1h0M589.8 301.6h0M583.2 317.3h0" stroke="#0080f7"/><path d="M586.6 311.0h0M593.7 292.6h0M596.0 291.6h0" stroke="#008bfb"/><path d="M583.6 319.2h0M591.6 301.8h0M583.2 313.2h0M583.6 322.1h0" stroke="#007cf5"/><path d="M583.9 322.1h0M586.8 309.9h0M588.5 304.2h0M596.1 289.8h0M595.2 289.9h0M590.1 298.0h0M590.6 298.0h0" stroke="#0084f9"/></g>
<path d="M407.10 223.50V367.30H621.80" stroke="#3a3a3a" stroke-width="1.15" fill="none"/>
<path d="M409.20 367.30v4.5M459.76 367.30v4.5M510.32 367.30v4.5M560.88 367.30v4.5M611.44 367.30v4.5M407.10 239.50h-4.5M407.10 275.13h-4.5M407.10 310.77h-4.5M407.10 346.41h-4.5" stroke="#3a3a3a" stroke-width="1.1" fill="none"/>
<text x="409.2" y="381.5" font-size="8.5" text-anchor="middle" >0.4</text>
<text x="459.8" y="381.5" font-size="8.5" text-anchor="middle" >0.6</text>
<text x="510.3" y="381.5" font-size="8.5" text-anchor="middle" >0.8</text>
<text x="560.9" y="381.5" font-size="8.5" text-anchor="middle" >1.0</text>
<text x="611.4" y="381.5" font-size="8.5" text-anchor="middle" >1.2</text>
<text x="398.9" y="242.6" font-size="8.5" text-anchor="end" >0.10</text>
<text x="398.9" y="278.2" font-size="8.5" text-anchor="end" >0.05</text>
<text x="398.9" y="313.9" font-size="8.5" text-anchor="end" >0.00</text>
<text x="398.9" y="349.5" font-size="8.5" text-anchor="end" >−0.05</text>
<text x="514.5" y="393.8" font-size="10.4" text-anchor="middle" textLength="45.5" lengthAdjust="spacing"><tspan font-style="italic">Kc</tspan>(<tspan font-style="italic">d</tspan> <tspan dy="-0.7">–</tspan><tspan dy="0.7"> 2)</tspan></text>
<text transform="translate(359.6,295.4) rotate(-90)" font-size="10.4" text-anchor="middle">SHAP value for</text>
<text transform="translate(371.4,295.4) rotate(-90)" font-size="10.4" text-anchor="middle" textLength="46.5" lengthAdjust="spacing"><tspan font-style="italic">Kc</tspan>(<tspan font-style="italic">d</tspan> <tspan dy="-0.7">–</tspan><tspan dy="0.7"> 2)</tspan></text>
<rect x="635.60" y="223.00" width="5.6" height="144.80" fill="#e9eef8"/>
<rect x="637.10" y="223.50" width="2.5" height="143.80" fill="url(#cb)"/>
<text x="649.7" y="230.6" font-size="8.5" text-anchor="start" >0.75</text>
<text x="649.7" y="250.7" font-size="8.5" text-anchor="start" >0.50</text>
<text x="649.7" y="270.8" font-size="8.5" text-anchor="start" >0.25</text>
<text x="649.7" y="290.9" font-size="8.5" text-anchor="start" >0.00</text>
<text x="649.7" y="311.0" font-size="8.5" text-anchor="start" >−0.25</text>
<text x="649.7" y="331.0" font-size="8.5" text-anchor="start" >−0.50</text>
<text x="649.7" y="351.1" font-size="8.5" text-anchor="start" >−0.75</text>
<path d="M641.90 227.52h4.5M641.90 247.60h4.5M641.90 267.68h4.5M641.90 287.77h4.5M641.90 307.85h4.5M641.90 327.94h4.5M641.90 348.02h4.5" stroke="#3a3a3a" stroke-width="1.1" fill="none"/>
<text transform="translate(682.2,295.4) rotate(-90)" font-size="10.4" text-anchor="middle" font-style="italic">Sin</text>
<rect x="50.60" y="463.80" width="214.90" height="143.60" fill="#eaeaf2"/>
<path d="M52.80 463.80V607.40M103.32 463.80V607.40M153.84 463.80V607.40M204.36 463.80V607.40M254.88 463.80V607.40M50.60 482.80H265.50M50.60 505.18H265.50M50.60 527.56H265.50M50.60 549.94H265.50M50.60 572.32H265.50M50.60 594.70H265.50" stroke="#fff" stroke-width="0.9" fill="none"/>
<g stroke-width="3.1" stroke-linecap="round" fill="none"><path d="M59.8 596.7h0M62.2 596.7h0M67.1 599.1h0M70.3 593.5h0M71.1 595.1h0" stroke="#ff0051"/><path d="M66.3 596.7h0" stroke="#ff0057"/><path d="M73.5 599.1h0M156.2 523.7h0" stroke="#fc0062"/><path d="M110.1 557.9h0M152.2 542.9h0" stroke="#fe005c"/><path d="M154.6 538.1h0M160.2 522.8h0" stroke="#f90067"/><path d="M130.5 547.7h0" stroke="#ab15a7"/><path d="M150.6 540.5h0M154.6 535.7h0" stroke="#8443c6"/><path d="M157.0 527.7h0" stroke="#8b3cc0"/><path d="M107.9 598.4h0M84.3 599.6h0M108.5 595.3h0M79.4 598.7h0" stroke="#008bfb"/><path d="M79.1 598.8h0M87.2 600.0h0" stroke="#3b68e7"/><path d="M97.2 600.5h0M81.3 600.8h0M80.4 598.1h0M91.3 598.0h0M109.2 595.8h0" stroke="#0087fa"/><path d="M100.9 597.5h0M92.9 600.3h0M101.7 596.2h0" stroke="#585edf"/><path d="M108.3 596.8h0M83.8 597.3h0" stroke="#0074f0"/><path d="M89.9 596.5h0M107.6 598.9h0M96.4 600.2h0M89.7 596.2h0M106.4 599.8h0M87.1 600.3h0M96.3 602.1h0" stroke="#0080f7"/><path d="M86.2 602.0h0M103.0 599.7h0" stroke="#754fd1"/><path d="M97.9 600.7h0M95.6 596.0h0M108.2 596.9h0M106.6 595.7h0" stroke="#007cf5"/><path d="M94.0 599.1h0" stroke="#0070ed"/><path d="M90.3 596.6h0M80.1 601.8h0M86.6 600.7h0M109.3 594.6h0" stroke="#0084f9"/><path d="M100.3 599.4h0" stroke="#7d49cb"/><path d="M89.3 597.0h0" stroke="#8443c6"/><path d="M94.8 599.0h0M106.5 599.2h0M89.8 600.8h0" stroke="#007cf5"/><path d="M97.5 595.8h0M93.0 599.2h0M86.6 597.2h0M96.1 597.3h0M95.8 598.8h0M100.3 600.9h0" stroke="#0087fa"/><path d="M94.3 599.9h0M106.9 595.6h0M89.6 600.7h0M106.3 595.2h0M101.2 600.2h0M102.5 595.9h0M90.4 602.2h0M89.9 598.6h0M92.5 595.9h0" stroke="#0084f9"/><path d="M85.2 599.3h0" stroke="#236cea"/><path d="M89.1 598.7h0" stroke="#0070ed"/><path d="M85.5 601.9h0" stroke="#7d49cb"/><path d="M97.9 599.2h0M82.3 599.8h0" stroke="#8443c6"/><path d="M79.2 600.6h0M107.5 599.6h0" stroke="#6c54d6"/><path d="M102.2 600.0h0M92.7 601.6h0M87.0 600.8h0M96.3 596.2h0" stroke="#0080f7"/><path d="M81.9 597.4h0" stroke="#4b63e3"/><path d="M78.7 598.3h0" stroke="#0074f0"/><path d="M109.3 594.8h0M86.2 602.0h0M92.8 601.5h0M84.1 596.4h0" stroke="#008bfb"/><path d="M102.1 599.2h0" stroke="#3b68e7"/><path d="M92.8 596.6h0M100.6 597.1h0M106.6 598.3h0M98.9 596.6h0" stroke="#0080f7"/><path d="M109.7 595.0h0M104.9 600.8h0M108.0 599.4h0M97.4 599.3h0M83.8 596.5h0M102.9 599.4h0M84.4 597.8h0M95.5 598.3h0M93.0 599.3h0M109.3 597.8h0" stroke="#0084f9"/><path d="M93.6 599.1h0" stroke="#236cea"/><path d="M89.2 600.9h0M87.2 601.7h0" stroke="#754fd1"/><path d="M93.6 601.2h0M103.1 598.4h0M98.6 601.0h0M102.6 599.6h0M90.2 599.5h0M108.9 595.9h0M77.8 599.6h0M81.8 598.1h0" stroke="#0087fa"/><path d="M85.6 599.5h0" stroke="#8b3cc0"/><path d="M90.9 599.9h0M106.0 597.5h0" stroke="#6c54d6"/><path d="M98.0 597.9h0M79.6 600.4h0" stroke="#007cf5"/><path d="M98.9 596.8h0M107.7 599.0h0" stroke="#7d49cb"/><path d="M99.0 601.6h0" stroke="#0074f0"/><path d="M89.9 600.1h0" stroke="#8443c6"/><path d="M76.3 598.0h0M96.3 602.3h0" stroke="#6359da"/><path d="M98.8 596.2h0M90.1 595.6h0M73.1 591.9h0M78.0 595.4h0" stroke="#ff0051"/><path d="M83.0 589.6h0M74.2 597.3h0M82.0 596.2h0M102.8 596.6h0M108.3 589.3h0M82.3 597.8h0M108.0 595.3h0M107.9 590.9h0M108.1 591.5h0M101.8 594.7h0" stroke="#ff0057"/><path d="M104.8 590.1h0M102.2 592.9h0M87.8 594.6h0M78.4 593.9h0M97.8 588.8h0M85.4 596.8h0M108.7 589.9h0M71.9 592.9h0M107.5 590.9h0" stroke="#fe005c"/><path d="M74.2 598.2h0M98.2 595.1h0M106.6 596.6h0M100.9 589.8h0M111.4 587.3h0M76.3 595.4h0" stroke="#da008a"/><path d="M79.4 592.4h0M89.8 590.2h0M109.3 589.2h0M76.6 596.0h0M107.2 588.4h0M84.8 595.6h0" stroke="#fc0062"/><path d="M99.2 593.2h0" stroke="#bb00a0"/><path d="M95.7 592.5h0M80.2 598.0h0M104.6 596.2h0M80.6 597.4h0" stroke="#b30aa3"/><path d="M94.5 591.9h0M85.1 595.1h0M94.9 596.9h0M72.3 594.7h0" stroke="#a31daa"/><path d="M111.0 587.4h0M82.9 595.7h0" stroke="#d5008f"/><path d="M90.7 591.0h0M74.1 591.6h0M97.5 593.3h0" stroke="#e9007c"/><path d="M90.9 595.0h0" stroke="#c2009c"/><path d="M104.0 593.7h0M74.9 598.0h0" stroke="#e50081"/><path d="M73.5 593.7h0M72.6 593.1h0M101.9 592.6h0M73.2 593.9h0M96.5 594.5h0M94.6 592.9h0M98.8 592.8h0M73.9 597.9h0M106.8 591.2h0" stroke="#f90067"/><path d="M89.6 589.7h0" stroke="#cf0093"/><path d="M105.9 590.8h0M107.9 589.3h0" stroke="#e00086"/><path d="M87.5 595.8h0M98.3 596.5h0M75.0 597.0h0M98.9 589.6h0M87.8 595.9h0M108.5 587.8h0M101.0 594.5h0" stroke="#fc0062"/><path d="M91.0 595.1h0M75.7 597.8h0M80.4 597.8h0M93.9 595.9h0M102.5 591.8h0M81.6 598.2h0M98.9 595.3h0M98.5 596.5h0M78.5 593.6h0M100.5 589.0h0M99.1 595.1h0M96.8 595.2h0M109.8 593.0h0M99.9 592.4h0M78.0 598.0h0M108.4 591.1h0M90.3 595.2h0M84.8 595.2h0M83.8 592.4h0" stroke="#ff0057"/><path d="M98.5 591.6h0M109.6 589.1h0M103.9 596.9h0M88.1 594.6h0M98.8 595.6h0M101.5 594.4h0M105.4 587.7h0M95.8 594.3h0M87.6 590.3h0" stroke="#f90067"/><path d="M82.9 593.4h0M107.6 590.7h0M85.6 596.9h0" stroke="#f5006c"/><path d="M77.7 595.8h0M73.2 593.9h0" stroke="#bb00a0"/><path d="M83.5 592.2h0M81.4 595.0h0M100.0 595.7h0M105.4 593.0h0M86.9 597.6h0" stroke="#ff0051"/><path d="M82.6 596.3h0M100.0 595.5h0M109.6 588.8h0M89.5 593.5h0M104.9 589.9h0" stroke="#fe005c"/><path d="M78.2 596.5h0M86.4 595.6h0M94.1 597.0h0" stroke="#e00086"/><path d="M96.3 594.0h0M89.0 590.2h0" stroke="#a31daa"/><path d="M103.1 589.3h0M90.6 589.7h0" stroke="#da008a"/><path d="M75.4 598.0h0" stroke="#e50081"/><path d="M100.3 596.9h0M96.4 594.2h0" stroke="#b30aa3"/><path d="M73.4 597.5h0M76.0 591.7h0" stroke="#ab15a7"/><path d="M73.1 594.1h0" stroke="#9b23ad"/><path d="M89.8 591.5h0" stroke="#c2009c"/><path d="M100.6 588.5h0M89.2 594.8h0M109.5 590.0h0" stroke="#e50081"/><path d="M86.0 592.8h0M86.3 592.7h0" stroke="#ee0077"/><path d="M93.5 597.6h0M98.8 590.2h0M111.9 585.7h0" stroke="#f5006c"/><path d="M77.6 597.6h0M73.6 594.9h0M83.9 594.8h0M107.7 595.6h0M103.6 588.9h0M109.3 594.5h0M107.5 588.9h0" stroke="#b30aa3"/><path d="M101.9 589.2h0M97.6 591.2h0M89.7 591.3h0M90.8 593.0h0M87.3 591.9h0" stroke="#ff0051"/><path d="M96.7 591.8h0M83.0 592.8h0M97.4 591.3h0M76.4 598.9h0M80.3 598.5h0M96.7 589.2h0M80.3 590.9h0" stroke="#fc0062"/><path d="M73.9 596.9h0M99.9 590.1h0M110.4 586.8h0M87.0 598.3h0M111.2 593.1h0M86.7 596.9h0M73.8 593.4h0" stroke="#f90067"/><path d="M102.2 589.9h0" stroke="#cf0093"/><path d="M78.3 593.3h0M104.9 592.8h0M83.2 596.4h0M86.9 593.7h0M95.4 594.6h0M106.3 590.4h0M84.6 593.0h0M84.5 596.8h0" stroke="#ff0057"/><path d="M80.4 597.5h0M103.2 597.0h0M77.5 591.8h0M106.6 592.9h0" stroke="#da008a"/><path d="M82.2 595.3h0M108.9 590.2h0M79.0 596.4h0M101.2 593.0h0" stroke="#e9007c"/><path d="M91.6 593.8h0M75.2 596.3h0M94.9 589.6h0M81.6 594.3h0M97.3 589.6h0M94.5 590.3h0" stroke="#fe005c"/><path d="M97.4 593.0h0M77.9 597.3h0M97.7 590.2h0M78.6 591.0h0" stroke="#bb00a0"/><path d="M110.6 588.1h0" stroke="#9b23ad"/><path d="M92.7 590.2h0M77.2 591.3h0" stroke="#d5008f"/><path d="M92.3 582.2h0M90.4 586.0h0M95.6 581.5h0M100.9 587.4h0M105.3 586.3h0M102.6 585.9h0M76.7 588.0h0M77.3 589.2h0" stroke="#008bfb"/><path d="M98.3 586.8h0M85.5 584.6h0M98.9 580.5h0M86.2 582.6h0M109.2 583.2h0M87.8 582.1h0M91.2 587.2h0M90.9 589.6h0M102.8 585.0h0M74.4 586.0h0M80.6 583.5h0M84.0 589.9h0M84.8 587.8h0M98.8 586.2h0M87.8 585.7h0M90.3 585.8h0M81.1 590.0h0" stroke="#0080f7"/><path d="M109.2 584.0h0M103.8 581.1h0M105.3 587.1h0M105.0 584.7h0M95.7 583.3h0M104.3 586.0h0M88.3 589.6h0M98.3 586.4h0M83.3 585.1h0M75.9 585.8h0M94.0 586.0h0M92.7 581.9h0M100.2 583.6h0M75.8 587.4h0M73.6 586.3h0M82.7 588.0h0M80.3 585.3h0" stroke="#0087fa"/><path d="M92.7 587.3h0M78.1 589.5h0M74.9 587.0h0M79.6 585.3h0M107.0 581.8h0M110.4 582.1h0M97.2 584.8h0M85.1 584.2h0M107.5 583.8h0M89.8 582.5h0M100.4 582.7h0M100.6 587.9h0M90.4 586.7h0M76.9 590.8h0" stroke="#0084f9"/><path d="M77.4 590.6h0M107.5 586.2h0M77.8 589.9h0M89.3 581.3h0M100.6 582.5h0" stroke="#007cf5"/><path d="M105.6 585.2h0M99.6 586.7h0M106.5 587.0h0M107.2 583.2h0M86.0 581.7h0M84.6 586.1h0M95.2 581.2h0M73.6 586.0h0M95.8 584.7h0M93.5 588.4h0M86.3 586.5h0M76.0 590.2h0M108.2 582.0h0M98.3 584.2h0M74.3 589.7h0" stroke="#0084f9"/><path d="M88.7 587.3h0M79.5 587.0h0M84.2 589.5h0M88.5 581.8h0M95.1 580.9h0M106.1 582.6h0M89.0 584.3h0M110.8 581.6h0" stroke="#007cf5"/><path d="M103.0 583.4h0M97.0 581.4h0M74.8 588.5h0M107.5 583.1h0M74.7 589.2h0M85.3 586.6h0M108.7 579.2h0M89.7 589.5h0M77.0 588.7h0M95.5 581.6h0M95.2 588.8h0M101.3 585.9h0M103.3 584.0h0M97.8 582.7h0M96.7 587.4h0M75.0 588.1h0M77.0 587.0h0" stroke="#0080f7"/><path d="M99.7 586.3h0M94.7 586.8h0M106.8 584.0h0M98.4 580.0h0M79.5 586.5h0M110.7 581.8h0M78.0 585.9h0M96.9 585.4h0M99.4 588.7h0M73.8 588.2h0M103.0 581.1h0M93.0 580.7h0M87.7 587.8h0M88.2 585.9h0M109.3 579.3h0M91.2 584.6h0" stroke="#0087fa"/><path d="M83.7 587.0h0M89.4 589.3h0M109.8 583.0h0M96.1 585.9h0M100.5 586.3h0" stroke="#008bfb"/><path d="M97.2 582.2h0M101.4 586.5h0M86.2 585.8h0M84.7 582.8h0M109.2 580.1h0M104.6 583.7h0M98.7 587.2h0M105.7 583.0h0M106.1 584.8h0M86.6 588.7h0M99.7 582.7h0M108.4 579.4h0M107.1 585.7h0M103.3 585.7h0M100.1 588.8h0M104.3 580.6h0M95.0 584.6h0M87.8 586.0h0M87.2 589.9h0M83.3 585.5h0" stroke="#0084f9"/><path d="M104.6 586.6h0M78.4 589.9h0M100.8 583.4h0M93.2 589.2h0M79.3 585.7h0M84.0 590.1h0" stroke="#008bfb"/><path d="M102.0 587.1h0M96.0 586.4h0M107.4 582.8h0M104.3 583.7h0M100.8 586.7h0M108.7 581.8h0M77.2 590.1h0M85.5 583.7h0" stroke="#007cf5"/><path d="M87.7 587.4h0M94.9 586.8h0M90.7 581.5h0M92.3 585.1h0M77.8 590.3h0M87.8 582.0h0M87.4 587.7h0M94.8 587.7h0M106.9 585.3h0M100.2 583.4h0" stroke="#0087fa"/><path d="M103.9 586.4h0M90.9 588.3h0M100.9 579.7h0M75.6 585.7h0M101.8 586.6h0M74.6 587.0h0M105.0 586.4h0M80.4 583.3h0M74.1 586.7h0M102.5 583.5h0M87.7 585.4h0M103.7 584.8h0M91.5 585.6h0M83.1 587.2h0M98.2 586.2h0M110.0 579.9h0M107.3 582.5h0" stroke="#0080f7"/><path d="M82.3 579.4h0" stroke="#0087fa"/><path d="M72.7 587.9h0" stroke="#0080f7"/><path d="M110.8 583.4h0M112.0 567.4h0M116.7 562.7h0M112.7 564.5h0M114.5 563.2h0M118.2 560.0h0M118.7 564.2h0M111.0 581.7h0M110.8 569.5h0M111.9 571.5h0" stroke="#0084f9"/><path d="M111.2 582.9h0M121.3 561.8h0" stroke="#3b68e7"/><path d="M109.5 576.4h0M110.9 559.3h0M110.1 566.5h0" stroke="#008bfb"/><path d="M116.6 562.6h0M112.5 568.6h0" stroke="#0070ed"/><path d="M110.0 579.2h0M120.6 560.9h0M109.7 561.9h0M109.3 582.4h0M110.6 565.6h0" stroke="#0087fa"/><path d="M112.2 566.4h0M111.2 563.1h0M111.9 559.0h0M117.6 562.0h0M114.6 557.8h0M117.9 564.3h0M130.6 558.8h0M111.0 564.4h0" stroke="#0080f7"/><path d="M113.1 561.2h0" stroke="#0074f0"/><path d="M111.4 558.7h0M110.4 565.5h0M121.8 562.9h0" stroke="#585edf"/><path d="M130.6 557.9h0M113.9 563.1h0" stroke="#4b63e3"/><path d="M111.3 581.9h0M130.6 559.5h0" stroke="#007cf5"/><path d="M115.9 558.9h0M109.9 563.0h0" stroke="#4b63e3"/><path d="M120.1 561.6h0M109.4 563.1h0M112.0 561.1h0M120.6 559.1h0M116.3 558.9h0M109.3 560.7h0M121.2 558.5h0M109.0 564.4h0M130.6 559.0h0M127.8 559.0h0" stroke="#0084f9"/><path d="M108.5 585.0h0M108.1 585.0h0M112.9 558.4h0M117.9 558.5h0" stroke="#0087fa"/><path d="M110.3 575.2h0M114.7 564.2h0M119.7 558.6h0" stroke="#008bfb"/><path d="M114.1 564.5h0M109.7 584.0h0M109.2 582.2h0M109.4 578.0h0M126.2 558.2h0" stroke="#007cf5"/><path d="M109.7 578.1h0M123.1 561.6h0M110.2 567.3h0M113.1 558.9h0M111.0 568.6h0M109.7 576.5h0M126.8 558.8h0M111.3 561.0h0M108.7 581.5h0M132.4 557.1h0" stroke="#0080f7"/><path d="M111.8 563.6h0" stroke="#0070ed"/><path d="M110.2 564.4h0" stroke="#236cea"/><path d="M118.9 562.1h0" stroke="#3b68e7"/><path d="M109.9 571.9h0" stroke="#0074f0"/><path d="M111.3 570.2h0M127.0 559.1h0M114.3 559.8h0M108.3 584.1h0M110.0 560.8h0M109.8 566.8h0M119.6 557.9h0" stroke="#0087fa"/><path d="M110.6 578.3h0M119.5 559.0h0M126.7 560.9h0M124.1 560.6h0M108.6 566.0h0M114.3 560.7h0M123.5 558.4h0M109.2 571.7h0M131.7 557.0h0M115.3 563.0h0" stroke="#0084f9"/><path d="M110.5 572.8h0M129.6 558.4h0M109.1 580.4h0M109.8 575.9h0M119.2 560.0h0" stroke="#0070ed"/><path d="M114.5 562.0h0M120.1 559.7h0M116.9 561.6h0M125.4 559.6h0" stroke="#0080f7"/><path d="M108.9 578.8h0M123.4 561.0h0" stroke="#0074f0"/><path d="M130.9 559.2h0" stroke="#585edf"/><path d="M109.8 560.3h0M127.9 558.7h0M113.7 560.8h0" stroke="#007cf5"/><path d="M108.8 579.2h0" stroke="#236cea"/><path d="M114.4 560.1h0M110.8 569.2h0M132.4 557.0h0M121.9 558.0h0" stroke="#008bfb"/><path d="M110.2 559.3h0" stroke="#3b68e7"/><path d="M132.6 566.6h0M112.1 571.9h0M126.2 567.0h0M130.4 568.8h0" stroke="#e9007c"/><path d="M130.0 566.1h0M126.7 569.4h0M130.7 568.2h0" stroke="#ff0057"/><path d="M133.8 566.5h0M120.6 563.7h0M124.8 565.4h0M134.5 569.9h0M116.8 571.4h0M114.8 566.3h0M140.2 571.3h0M137.0 568.4h0" stroke="#f90067"/><path d="M138.5 571.3h0M134.1 570.2h0M136.3 569.1h0" stroke="#e50081"/><path d="M133.0 569.7h0M126.2 564.5h0M130.9 564.4h0M122.7 569.6h0M125.7 565.9h0" stroke="#fc0062"/><path d="M139.4 568.2h0" stroke="#cf0093"/><path d="M117.5 572.6h0M129.4 566.0h0M129.1 564.3h0M118.0 570.5h0M118.0 570.4h0" stroke="#d5008f"/><path d="M120.1 568.9h0M116.4 568.7h0M118.5 569.3h0" stroke="#f5006c"/><path d="M114.4 567.8h0M122.3 572.0h0" stroke="#bb00a0"/><path d="M133.6 567.6h0M115.1 567.8h0M126.6 563.2h0" stroke="#ff0051"/><path d="M135.9 570.8h0M132.2 566.6h0M124.0 570.0h0" stroke="#fe005c"/><path d="M116.9 572.1h0M126.0 565.3h0" stroke="#da008a"/><path d="M115.1 570.4h0" stroke="#ab15a7"/><path d="M125.9 570.7h0" stroke="#b30aa3"/><path d="M133.3 570.6h0" stroke="#e00086"/><path d="M135.0 570.6h0M124.9 566.1h0M127.2 570.5h0M122.4 572.2h0M135.5 568.1h0M129.8 568.3h0" stroke="#e9007c"/><path d="M136.9 571.6h0M131.1 564.4h0M112.2 565.8h0" stroke="#da008a"/><path d="M138.3 569.1h0M142.3 570.6h0M115.8 571.7h0M131.9 571.9h0" stroke="#ff0057"/><path d="M130.6 569.7h0M134.0 565.3h0M133.7 565.8h0M135.7 571.8h0M122.0 563.5h0" stroke="#fe005c"/><path d="M111.2 571.5h0M124.8 567.1h0" stroke="#d5008f"/><path d="M129.1 566.3h0M134.4 570.9h0" stroke="#fc0062"/><path d="M138.6 571.3h0M121.1 566.5h0M129.9 566.0h0" stroke="#bb00a0"/><path d="M138.2 566.9h0M113.5 573.2h0M112.0 570.6h0M141.2 568.4h0M111.3 571.0h0" stroke="#e50081"/><path d="M120.9 569.8h0M126.4 567.5h0M126.9 563.9h0" stroke="#e00086"/><path d="M119.6 568.4h0M113.3 570.3h0M126.1 565.2h0" stroke="#f5006c"/><path d="M115.6 570.4h0" stroke="#b30aa3"/><path d="M113.0 572.0h0" stroke="#cf0093"/><path d="M118.7 571.3h0M113.3 568.4h0" stroke="#f90067"/><path d="M113.6 566.6h0" stroke="#ee0077"/><path d="M111.7 565.9h0" stroke="#a31daa"/><path d="M113.2 570.8h0" stroke="#ff0051"/><path d="M140.9 568.8h0" stroke="#ab15a7"/><path d="M136.3 570.3h0" stroke="#9b23ad"/><path d="M137.5 568.8h0M118.9 570.9h0M118.6 571.0h0M125.5 563.6h0M116.3 566.8h0" stroke="#ff0057"/><path d="M113.6 571.5h0M126.5 568.3h0" stroke="#b30aa3"/><path d="M131.3 571.5h0M118.1 571.1h0M131.2 572.5h0M115.1 565.2h0M127.6 568.1h0M117.2 564.9h0" stroke="#fe005c"/><path d="M139.8 570.8h0M112.2 570.3h0M127.3 563.7h0M120.3 572.3h0" stroke="#e9007c"/><path d="M134.1 568.0h0M117.6 566.7h0M132.7 566.8h0M138.4 571.8h0M123.3 564.2h0M124.8 567.6h0M118.6 571.1h0M123.8 565.6h0" stroke="#f90067"/><path d="M125.4 569.3h0M134.0 570.4h0M113.1 571.9h0M116.8 572.6h0" stroke="#fc0062"/><path d="M134.2 572.6h0M121.3 563.7h0M129.0 568.7h0M118.4 569.3h0" stroke="#d5008f"/><path d="M121.3 563.9h0M129.9 569.1h0M111.5 569.5h0M116.2 569.9h0M112.3 566.9h0" stroke="#e00086"/><path d="M127.9 569.4h0M118.4 569.8h0" stroke="#e50081"/><path d="M114.6 568.0h0M132.0 570.2h0M135.6 570.3h0" stroke="#da008a"/><path d="M112.3 571.2h0" stroke="#a31daa"/><path d="M125.0 564.9h0" stroke="#cf0093"/><path d="M118.9 554.1h0M121.6 552.6h0M123.6 556.2h0M123.9 554.7h0" stroke="#9b23ad"/><path d="M126.3 555.3h0M119.6 553.6h0M127.9 555.2h0" stroke="#ab15a7"/><path d="M121.2 556.9h0M121.1 557.7h0M121.0 555.5h0" stroke="#c2009c"/><path d="M126.1 552.8h0M117.5 555.3h0M121.5 557.5h0M124.2 555.9h0M124.6 553.6h0" stroke="#b30aa3"/><path d="M123.2 557.6h0M121.7 557.3h0" stroke="#bb00a0"/><path d="M120.3 557.4h0" stroke="#cf0093"/><path d="M122.2 553.8h0" stroke="#da008a"/><path d="M128.2 554.2h0" stroke="#e50081"/><path d="M119.2 557.9h0" stroke="#e00086"/><path d="M116.7 554.3h0" stroke="#e9007c"/><path d="M146.8 554.6h0M134.9 556.5h0M149.1 552.3h0" stroke="#8443c6"/><path d="M139.1 556.6h0M143.5 553.5h0M132.7 557.5h0" stroke="#6c54d6"/><path d="M134.2 555.9h0M136.2 555.7h0M143.1 554.2h0M131.5 556.6h0" stroke="#7d49cb"/><path d="M144.0 554.9h0" stroke="#6359da"/><path d="M135.1 556.3h0" stroke="#bb00a0"/><path d="M147.3 553.4h0" stroke="#754fd1"/><path d="M141.0 555.2h0" stroke="#ab15a7"/><path d="M147.6 553.7h0" stroke="#c2009c"/><path d="M142.7 554.6h0" stroke="#8b3cc0"/><path d="M132.5 558.3h0" stroke="#9b23ad"/><path d="M149.5 552.2h0M144.1 554.2h0M140.3 555.9h0" stroke="#b30aa3"/><path d="M129.1 564.6h0M130.6 560.4h0" stroke="#da008a"/><path d="M129.8 564.3h0M132.4 564.9h0" stroke="#a31daa"/><path d="M119.9 563.1h0M123.3 564.2h0" stroke="#b30aa3"/><path d="M124.4 562.4h0M131.0 560.0h0" stroke="#bb00a0"/><path d="M121.6 563.3h0M128.4 561.0h0M121.1 564.4h0" stroke="#ab15a7"/><path d="M132.6 563.7h0" stroke="#9b23ad"/><path d="M129.3 563.7h0" stroke="#e9007c"/><path d="M175.9 519.6h0M160.8 520.0h0M186.2 516.2h0M169.1 517.1h0M184.0 518.6h0M174.8 521.6h0M178.8 518.4h0M162.9 525.3h0" stroke="#f90067"/><path d="M158.2 524.2h0M164.3 519.9h0M187.6 517.7h0M161.1 522.9h0M177.3 515.7h0M182.3 518.1h0M172.0 519.1h0M177.5 515.7h0M157.2 524.4h0M189.2 520.7h0M174.5 517.5h0M187.2 518.7h0" stroke="#ff0057"/><path d="M171.7 517.8h0M174.2 517.1h0M173.0 516.5h0" stroke="#fc0062"/><path d="M154.8 523.7h0M155.3 524.5h0" stroke="#e9007c"/><path d="M167.9 521.1h0M178.5 522.3h0M173.8 517.5h0M181.3 523.9h0M154.5 523.3h0M175.8 518.5h0M184.0 521.1h0M171.6 518.4h0M182.9 517.1h0M184.5 515.2h0" stroke="#fe005c"/><path d="M168.9 517.1h0M187.6 521.4h0M185.3 518.6h0" stroke="#f5006c"/><path d="M173.7 518.7h0M160.6 523.7h0M157.9 520.9h0M171.2 523.5h0" stroke="#ff0051"/><path d="M166.5 525.5h0M168.0 517.6h0" stroke="#d5008f"/><path d="M176.1 516.0h0M174.4 519.4h0M158.1 521.3h0" stroke="#da008a"/><path d="M168.6 519.9h0" stroke="#e50081"/><path d="M169.8 520.7h0" stroke="#e00086"/><path d="M168.3 523.9h0M168.3 523.3h0" stroke="#ee0077"/><path d="M172.9 518.4h0" stroke="#e00086"/><path d="M179.8 516.7h0" stroke="#d5008f"/><path d="M175.3 520.3h0M178.2 514.9h0M168.8 522.6h0M155.1 522.7h0M178.5 519.2h0M166.9 525.4h0" stroke="#fc0062"/><path d="M177.3 519.4h0M171.4 520.9h0M167.6 522.0h0M168.5 519.4h0M173.7 522.6h0M179.3 523.2h0" stroke="#f5006c"/><path d="M176.6 521.2h0M186.0 521.2h0M163.9 522.2h0M160.6 521.6h0M185.1 521.8h0M181.9 518.1h0M159.3 520.3h0" stroke="#ff0051"/><path d="M180.4 524.0h0M169.5 519.7h0" stroke="#da008a"/><path d="M159.5 523.2h0M164.9 521.6h0M177.6 519.5h0M159.7 524.0h0M171.6 518.9h0M167.7 524.9h0M179.4 521.2h0M170.3 520.7h0M156.4 522.2h0" stroke="#f90067"/><path d="M165.1 525.8h0M179.9 519.2h0M164.0 524.8h0M162.9 523.0h0M155.8 523.8h0M160.8 523.4h0M173.9 518.2h0M177.1 520.9h0" stroke="#ff0057"/><path d="M188.9 519.7h0M171.2 524.8h0M159.3 525.8h0M173.7 516.3h0M181.4 522.2h0M179.2 515.8h0M186.4 521.2h0M171.8 522.9h0" stroke="#fe005c"/><path d="M164.2 520.8h0M183.7 515.4h0" stroke="#e9007c"/><path d="M171.9 516.2h0" stroke="#e50081"/><path d="M169.3 516.6h0M157.1 523.6h0M178.6 514.9h0M188.3 520.7h0M157.2 522.9h0M176.1 519.5h0M182.2 522.5h0M158.6 523.7h0M187.5 519.4h0M174.6 523.1h0M180.2 517.4h0M163.6 520.0h0" stroke="#ff0057"/><path d="M155.1 524.6h0M185.6 519.4h0M172.1 524.4h0M161.7 519.3h0M160.8 521.2h0M161.6 525.6h0M157.8 522.4h0M171.3 520.0h0M179.8 521.7h0M184.5 518.4h0M178.3 523.3h0M164.6 518.2h0" stroke="#fc0062"/><path d="M174.2 520.3h0M179.6 516.3h0M185.2 517.0h0M182.4 517.9h0M171.3 521.9h0" stroke="#fe005c"/><path d="M185.5 522.8h0M175.6 515.4h0" stroke="#d5008f"/><path d="M166.5 520.2h0M182.2 516.2h0" stroke="#e00086"/><path d="M169.3 520.7h0M175.5 519.5h0M167.1 518.4h0M166.7 521.0h0M173.1 519.7h0M169.1 520.5h0" stroke="#f90067"/><path d="M179.3 521.4h0M167.5 522.5h0M165.6 522.6h0" stroke="#da008a"/><path d="M159.7 525.0h0" stroke="#ee0077"/><path d="M162.1 522.0h0M176.9 522.2h0M178.3 518.3h0M162.5 520.3h0M176.1 524.7h0" stroke="#f5006c"/><path d="M186.0 518.6h0" stroke="#e50081"/><path d="M159.6 521.7h0" stroke="#ff0051"/><path d="M172.4 528.0h0M179.9 526.8h0M175.6 527.5h0M160.7 527.3h0M167.8 526.8h0" stroke="#8443c6"/><path d="M176.3 528.7h0" stroke="#c2009c"/><path d="M170.9 525.3h0M160.9 529.1h0M156.7 527.9h0M186.2 523.1h0M156.7 526.2h0M161.7 527.1h0" stroke="#7d49cb"/><path d="M162.5 527.7h0M167.2 525.4h0" stroke="#9b23ad"/><path d="M157.7 527.1h0M157.9 527.3h0M155.3 526.8h0" stroke="#6c54d6"/><path d="M173.2 529.6h0M170.7 526.3h0" stroke="#bb00a0"/><path d="M167.7 530.8h0M167.1 528.0h0" stroke="#6359da"/><path d="M171.2 528.8h0M158.9 529.2h0M162.5 525.3h0" stroke="#b30aa3"/><path d="M169.5 529.6h0M171.8 525.8h0" stroke="#8b3cc0"/><path d="M189.5 526.2h0M174.7 526.4h0M182.0 528.6h0M176.1 529.3h0" stroke="#754fd1"/><path d="M186.4 525.2h0M173.6 528.4h0M174.3 528.9h0M172.0 525.0h0" stroke="#ab15a7"/><path d="M188.8 523.1h0M190.0 523.3h0" stroke="#8b3cc0"/><path d="M186.8 526.9h0M177.2 525.7h0M187.4 525.6h0M190.1 525.1h0" stroke="#6c54d6"/><path d="M178.6 525.7h0M158.9 527.5h0M171.1 528.6h0M164.3 530.3h0M179.2 525.4h0M185.5 523.0h0" stroke="#ab15a7"/><path d="M178.6 525.1h0M180.9 527.1h0" stroke="#754fd1"/><path d="M173.6 525.3h0M159.6 530.0h0M165.2 526.3h0" stroke="#8443c6"/><path d="M171.0 529.9h0M170.4 529.5h0M168.0 528.8h0M166.5 525.6h0M171.6 524.5h0" stroke="#a31daa"/><path d="M185.4 527.4h0M162.7 530.4h0M174.4 525.8h0M174.4 525.1h0M158.2 529.6h0M186.8 524.5h0" stroke="#b30aa3"/><path d="M161.1 528.8h0M174.4 528.6h0M179.7 524.5h0M179.3 525.9h0M186.6 525.3h0" stroke="#7d49cb"/><path d="M169.4 528.7h0" stroke="#6359da"/><path d="M177.2 528.9h0M175.4 525.1h0M174.3 528.6h0M188.5 522.5h0M168.7 530.6h0M164.0 529.4h0" stroke="#6c54d6"/><path d="M186.8 524.3h0M156.6 528.1h0" stroke="#a31daa"/><path d="M164.1 526.9h0M181.9 525.8h0M184.2 527.4h0M163.9 526.4h0" stroke="#ab15a7"/><path d="M174.1 527.0h0M189.7 524.5h0M188.4 522.2h0M186.7 526.3h0" stroke="#8443c6"/><path d="M171.9 527.3h0M181.1 526.1h0M165.3 529.7h0" stroke="#6359da"/><path d="M171.0 529.3h0M182.6 528.0h0M189.3 524.3h0M184.6 527.1h0M162.7 526.5h0" stroke="#7d49cb"/><path d="M166.2 527.9h0M186.5 527.5h0M167.7 525.8h0" stroke="#754fd1"/><path d="M184.3 524.0h0M164.1 526.8h0" stroke="#bb00a0"/><path d="M174.3 527.5h0M182.3 528.0h0" stroke="#b30aa3"/><path d="M166.2 529.4h0" stroke="#9b23ad"/><path d="M169.8 527.5h0" stroke="#8b3cc0"/><path d="M168.1 530.6h0" stroke="#c2009c"/><path d="M168.9 504.4h0" stroke="#6c54d6"/><path d="M172.2 506.8h0" stroke="#7d49cb"/><path d="M169.2 503.3h0M180.4 505.0h0M171.8 510.0h0M174.5 504.0h0" stroke="#007cf5"/><path d="M170.8 509.2h0M164.0 504.7h0M173.9 510.1h0" stroke="#0087fa"/><path d="M180.4 507.1h0M162.2 507.5h0M175.5 505.4h0M168.7 505.3h0" stroke="#0084f9"/><path d="M180.1 506.0h0" stroke="#6359da"/><path d="M176.7 502.9h0M164.1 504.8h0M183.1 508.0h0" stroke="#008bfb"/><path d="M174.9 507.6h0" stroke="#8b3cc0"/><path d="M171.4 510.2h0M166.5 505.0h0M181.7 508.1h0M173.5 506.3h0" stroke="#0080f7"/><path d="M169.7 509.9h0M175.4 507.7h0" stroke="#754fd1"/><path d="M168.5 507.9h0M173.5 508.5h0M176.8 508.6h0M166.2 502.7h0" stroke="#0084f9"/><path d="M179.2 509.3h0M176.1 508.2h0M174.9 505.3h0" stroke="#7d49cb"/><path d="M170.5 507.2h0M177.1 506.2h0M172.4 508.2h0M169.5 509.7h0M177.7 505.9h0M178.7 504.4h0M166.6 508.7h0" stroke="#0087fa"/><path d="M168.9 508.3h0" stroke="#6c54d6"/><path d="M175.2 505.7h0M164.3 504.3h0" stroke="#007cf5"/><path d="M177.7 503.1h0M179.7 507.6h0M170.3 508.7h0" stroke="#0080f7"/><path d="M169.1 502.8h0" stroke="#754fd1"/><path d="M179.5 508.6h0" stroke="#8443c6"/><path d="M177.9 509.8h0" stroke="#008bfb"/><path d="M164.4 507.4h0M167.8 503.9h0M176.3 506.1h0" stroke="#007cf5"/><path d="M171.6 504.3h0M163.7 505.1h0M174.5 510.5h0M179.8 508.1h0M170.0 502.1h0" stroke="#0080f7"/><path d="M168.6 510.7h0M170.6 506.4h0" stroke="#008bfb"/><path d="M168.5 508.1h0M172.3 510.2h0M179.3 508.9h0M175.5 504.4h0" stroke="#7d49cb"/><path d="M174.9 504.3h0M164.8 507.1h0M164.1 508.0h0M169.6 508.0h0M170.3 507.0h0" stroke="#0087fa"/><path d="M176.9 505.7h0M168.6 503.2h0M171.2 502.8h0" stroke="#0084f9"/><path d="M180.6 506.9h0" stroke="#8b3cc0"/><path d="M166.9 514.5h0M173.7 512.8h0" stroke="#6c54d6"/><path d="M182.2 512.8h0M190.6 502.6h0" stroke="#7d49cb"/><path d="M191.5 521.3h0" stroke="#8443c6"/><path d="M187.3 516.2h0" stroke="#fc0062"/><path d="M152.5 543.3h0M205.0 535.2h0" stroke="#ff0057"/><path d="M154.2 538.2h0" stroke="#f90067"/><path d="M155.1 536.5h0" stroke="#ff0051"/><path d="M150.0 551.8h0M150.8 541.6h0" stroke="#6c54d6"/><path d="M221.0 483.8h0M205.6 498.9h0M223.5 485.1h0" stroke="#e9007c"/><path d="M200.7 500.2h0M201.6 500.7h0" stroke="#e50081"/><path d="M219.6 483.8h0M208.2 493.2h0M195.8 500.8h0M195.3 504.1h0" stroke="#da008a"/><path d="M194.0 503.3h0" stroke="#ff0051"/><path d="M198.8 500.1h0M206.8 494.5h0M208.7 491.0h0" stroke="#d5008f"/><path d="M209.0 491.7h0M199.1 499.1h0M210.8 491.0h0M206.6 500.5h0M216.6 485.6h0" stroke="#e00086"/><path d="M213.6 486.1h0" stroke="#f90067"/><path d="M206.3 495.0h0M200.6 498.7h0M209.4 492.6h0" stroke="#fc0062"/><path d="M216.4 484.9h0" stroke="#fe005c"/><path d="M209.1 494.2h0" stroke="#ee0077"/><path d="M208.7 497.0h0" stroke="#f5006c"/><path d="M196.0 497.9h0" stroke="#cf0093"/><path d="M249.1 472.8h0M237.8 471.5h0M249.9 473.6h0M239.1 476.5h0" stroke="#8443c6"/><path d="M241.1 472.1h0M247.2 478.0h0" stroke="#7d49cb"/><path d="M230.0 474.1h0M245.5 478.0h0" stroke="#6c54d6"/><path d="M238.3 472.2h0M237.5 478.5h0M253.9 476.0h0M252.5 476.2h0M254.6 476.5h0M241.6 475.5h0M239.4 472.7h0M248.6 471.9h0" stroke="#0084f9"/><path d="M228.0 474.6h0M249.2 475.8h0M240.8 474.1h0" stroke="#6359da"/><path d="M253.6 475.8h0M242.9 472.5h0M231.3 481.2h0M239.8 476.0h0M236.5 476.4h0M241.8 471.9h0M239.9 477.5h0M233.6 477.6h0" stroke="#0087fa"/><path d="M249.8 472.2h0M246.3 476.1h0M229.6 483.0h0M240.3 477.3h0" stroke="#0080f7"/><path d="M246.1 472.0h0M253.2 477.4h0M230.9 482.0h0" stroke="#007cf5"/><path d="M250.6 473.7h0M231.2 475.9h0M252.6 476.3h0M244.9 473.7h0M250.2 473.2h0M235.8 479.3h0M227.2 481.9h0" stroke="#008bfb"/><path d="M227.6 477.6h0" stroke="#8b3cc0"/><path d="M232.0 476.3h0M242.4 479.1h0" stroke="#754fd1"/><path d="M236.4 479.9h0M229.8 481.3h0M229.7 475.2h0M255.8 475.1h0M235.1 475.4h0M242.3 471.9h0M250.9 477.5h0" stroke="#0087fa"/><path d="M254.9 474.4h0M235.6 478.5h0M235.6 478.6h0M229.8 480.0h0M245.1 473.2h0M238.5 479.4h0M236.4 477.5h0" stroke="#0084f9"/><path d="M240.6 476.0h0M241.5 473.4h0M243.5 472.0h0M229.5 475.4h0M241.9 477.3h0M251.2 473.4h0M238.2 472.1h0M253.4 473.7h0" stroke="#0080f7"/><path d="M233.0 480.4h0M242.3 478.0h0M243.9 475.0h0" stroke="#007cf5"/><path d="M253.8 473.6h0M230.7 479.9h0" stroke="#8443c6"/><path d="M233.7 477.5h0" stroke="#6c54d6"/><path d="M229.0 482.5h0M240.8 478.5h0M232.1 478.2h0M252.5 474.9h0M232.2 478.5h0" stroke="#008bfb"/><path d="M238.4 476.6h0M252.3 476.3h0" stroke="#6359da"/><path d="M250.2 475.2h0M236.9 471.7h0M234.1 475.9h0M230.1 473.9h0M234.4 481.4h0" stroke="#754fd1"/><path d="M249.3 472.8h0M229.8 480.8h0M230.3 474.8h0" stroke="#7d49cb"/><path d="M237.8 478.9h0M250.8 476.3h0M228.3 478.8h0M241.0 472.6h0M239.5 477.4h0M250.4 471.6h0M240.4 472.6h0" stroke="#008bfb"/><path d="M233.2 475.1h0M231.2 475.7h0M249.3 473.8h0M239.7 479.6h0M236.6 471.7h0M251.5 472.3h0M235.9 480.5h0M252.7 472.4h0M241.3 471.5h0" stroke="#0084f9"/><path d="M231.4 476.9h0M237.9 476.7h0M235.9 478.6h0M231.5 479.8h0" stroke="#0080f7"/><path d="M254.2 475.0h0M233.3 472.5h0M234.1 475.3h0M237.8 474.3h0M226.2 477.6h0M233.7 474.6h0M244.1 476.2h0" stroke="#007cf5"/><path d="M228.0 481.2h0M232.0 473.8h0M226.6 478.6h0M231.3 474.1h0M253.9 472.7h0M231.2 474.5h0" stroke="#0087fa"/><path d="M233.1 472.7h0M238.1 472.1h0" stroke="#8b3cc0"/><path d="M246.1 477.1h0M250.0 472.1h0M231.9 475.9h0" stroke="#6359da"/><path d="M255.4 473.7h0M253.3 475.3h0M237.9 480.5h0" stroke="#754fd1"/><path d="M248.2 473.2h0" stroke="#8443c6"/><path d="M250.3 474.0h0" stroke="#7d49cb"/><path d="M240.1 469.9h0" stroke="#e00086"/><path d="M249.3 471.4h0M251.3 472.5h0M252.0 473.4h0M244.8 471.3h0" stroke="#da008a"/><path d="M249.9 473.1h0M234.1 472.4h0M254.2 471.4h0" stroke="#e9007c"/><path d="M252.4 471.8h0M251.0 471.2h0" stroke="#e50081"/><path d="M244.8 470.9h0" stroke="#f90067"/><path d="M242.7 471.0h0" stroke="#ff0057"/><path d="M232.1 472.1h0M238.3 471.9h0" stroke="#d5008f"/><path d="M232.8 473.4h0" stroke="#cf0093"/><path d="M252.8 472.4h0M230.8 474.4h0" stroke="#fc0062"/><path d="M238.0 473.4h0M239.5 470.1h0" stroke="#da008a"/><path d="M229.5 473.3h0M239.8 472.0h0M242.2 471.5h0" stroke="#d5008f"/><path d="M235.6 472.6h0M239.4 472.0h0M228.2 472.5h0M231.5 472.1h0" stroke="#e50081"/><path d="M234.1 470.4h0" stroke="#fc0062"/><path d="M233.8 473.0h0" stroke="#f90067"/><path d="M244.6 470.1h0M243.7 472.3h0" stroke="#ff0051"/><path d="M237.6 470.3h0M244.9 471.6h0" stroke="#e00086"/><path d="M241.6 471.0h0" stroke="#e9007c"/><path d="M229.2 473.7h0" stroke="#f5006c"/><path d="M247.1 472.3h0M230.2 472.2h0" stroke="#e00086"/><path d="M233.8 474.4h0M244.3 473.6h0" stroke="#da008a"/><path d="M237.4 472.5h0M245.3 471.0h0M230.7 472.5h0M235.2 470.9h0" stroke="#d5008f"/><path d="M236.1 473.3h0M251.3 471.1h0" stroke="#ff0051"/><path d="M230.9 473.4h0M230.8 473.3h0M243.6 471.8h0" stroke="#e9007c"/><path d="M247.1 472.6h0M235.9 470.2h0" stroke="#e50081"/><path d="M238.4 471.5h0" stroke="#ee0077"/><path d="M234.8 474.1h0" stroke="#f90067"/><path d="M239.8 484.0h0" stroke="#d5008f"/><path d="M240.8 485.4h0M228.5 487.8h0" stroke="#e50081"/><path d="M243.6 482.1h0M245.5 481.1h0M244.6 480.2h0M233.7 485.4h0" stroke="#e9007c"/><path d="M246.5 483.5h0" stroke="#da008a"/><path d="M221.1 484.0h0" stroke="#cf0093"/><path d="M224.5 485.7h0" stroke="#da008a"/><path d="M227.9 487.4h0M246.5 480.6h0" stroke="#d5008f"/><path d="M233.0 485.7h0" stroke="#e9007c"/><path d="M239.8 485.7h0" stroke="#e00086"/><path d="M244.8 482.3h0M253.3 484.9h0" stroke="#e50081"/><path d="M238.1 490.8h0M225.4 495.9h0M235.5 499.6h0M230.4 503.5h0" stroke="#0084f9"/><path d="M239.8 495.0h0M231.3 498.4h0M227.9 501.3h0M236.4 511.1h0" stroke="#0087fa"/><path d="M242.3 497.6h0M229.6 496.7h0" stroke="#0080f7"/><path d="M239.8 512.0h0M244.0 512.8h0" stroke="#008bfb"/><path d="M230.5 517.2h0M233.8 517.7h0M229.9 519.7h0M226.7 517.6h0M226.6 516.7h0M225.7 516.5h0M232.2 518.0h0M234.9 516.8h0" stroke="#0080f7"/><path d="M227.0 515.1h0M229.6 514.9h0M231.4 514.8h0M228.2 519.5h0" stroke="#0084f9"/><path d="M230.3 519.1h0" stroke="#008bfb"/><path d="M225.9 517.5h0M226.8 517.6h0M223.5 514.3h0M225.1 517.4h0M232.3 517.5h0M226.3 517.6h0M228.8 517.2h0" stroke="#0087fa"/><path d="M233.0 518.4h0M229.1 518.9h0M224.0 514.4h0" stroke="#007cf5"/></g>
<path d="M50.60 463.80V607.40H265.50" stroke="#3a3a3a" stroke-width="1.15" fill="none"/>
<path d="M52.80 607.40v4.5M103.32 607.40v4.5M153.84 607.40v4.5M204.36 607.40v4.5M254.88 607.40v4.5M50.60 482.80h-4.5M50.60 505.18h-4.5M50.60 527.56h-4.5M50.60 549.94h-4.5M50.60 572.32h-4.5M50.60 594.70h-4.5" stroke="#3a3a3a" stroke-width="1.1" fill="none"/>
<text x="52.8" y="621.6" font-size="8.5" text-anchor="middle" >0.4</text>
<text x="103.3" y="621.6" font-size="8.5" text-anchor="middle" >0.6</text>
<text x="153.8" y="621.6" font-size="8.5" text-anchor="middle" >0.8</text>
<text x="204.4" y="621.6" font-size="8.5" text-anchor="middle" >1.0</text>
<text x="254.9" y="621.6" font-size="8.5" text-anchor="middle" >1.2</text>
<text x="42.4" y="485.9" font-size="8.5" text-anchor="end" >0.3</text>
<text x="42.4" y="508.3" font-size="8.5" text-anchor="end" >0.2</text>
<text x="42.4" y="530.7" font-size="8.5" text-anchor="end" >0.1</text>
<text x="42.4" y="553.0" font-size="8.5" text-anchor="end" >0.0</text>
<text x="42.4" y="575.4" font-size="8.5" text-anchor="end" >−0.1</text>
<text x="42.4" y="597.8" font-size="8.5" text-anchor="end" >−0.2</text>
<text x="158.1" y="633.9" font-size="10.4" text-anchor="middle" textLength="45.5" lengthAdjust="spacing"><tspan font-style="italic">Kc</tspan>(<tspan font-style="italic">d</tspan> <tspan dy="-0.7">–</tspan><tspan dy="0.7"> 1)</tspan></text>
<text transform="translate(8.3,535.6) rotate(-90)" font-size="10.4" text-anchor="middle">SHAP value for</text>
<text transform="translate(20.1,535.6) rotate(-90)" font-size="10.4" text-anchor="middle" textLength="46.5" lengthAdjust="spacing"><tspan font-style="italic">Kc</tspan>(<tspan font-style="italic">d</tspan> <tspan dy="-0.7">–</tspan><tspan dy="0.7"> 1)</tspan></text>
<rect x="279.10" y="463.30" width="5.6" height="144.60" fill="#e9eef8"/>
<rect x="280.60" y="463.80" width="2.5" height="143.60" fill="url(#cb)"/>
<text x="293.2" y="470.9" font-size="8.5" text-anchor="start" >0.75</text>
<text x="293.2" y="491.0" font-size="8.5" text-anchor="start" >0.50</text>
<text x="293.2" y="511.0" font-size="8.5" text-anchor="start" >0.25</text>
<text x="293.2" y="531.1" font-size="8.5" text-anchor="start" >0.00</text>
<text x="293.2" y="551.1" font-size="8.5" text-anchor="start" >−0.25</text>
<text x="293.2" y="571.2" font-size="8.5" text-anchor="start" >−0.50</text>
<text x="293.2" y="591.2" font-size="8.5" text-anchor="start" >−0.75</text>
<path d="M285.40 467.81h4.5M285.40 487.87h4.5M285.40 507.92h4.5M285.40 527.98h4.5M285.40 548.03h4.5M285.40 568.09h4.5M285.40 588.15h4.5" stroke="#3a3a3a" stroke-width="1.1" fill="none"/>
<text transform="translate(325.7,535.6) rotate(-90)" font-size="10.4" text-anchor="middle" font-style="italic">Sin</text>
<rect x="407.10" y="463.80" width="214.70" height="143.55" fill="#eaeaf2"/>
<path d="M409.20 463.80V607.35M459.76 463.80V607.35M510.32 463.80V607.35M560.88 463.80V607.35M611.44 463.80V607.35M407.10 490.20H621.80M407.10 516.27H621.80M407.10 542.35H621.80M407.10 568.42H621.80M407.10 594.50H621.80" stroke="#fff" stroke-width="0.9" fill="none"/>
<g stroke-width="3.1" stroke-linecap="round" fill="none"><path d="M441.3 574.7h0M456.2 573.5h0M443.3 573.2h0M432.3 571.2h0M451.7 571.1h0M441.5 572.8h0" stroke="#0087fa"/><path d="M456.2 575.3h0M430.6 571.4h0M440.4 574.1h0M435.5 573.0h0M436.6 572.9h0M459.8 570.2h0M458.9 573.5h0" stroke="#0080f7"/><path d="M461.4 574.2h0M437.4 570.0h0M445.7 570.7h0M455.6 571.1h0M455.9 571.2h0M443.3 573.3h0M466.3 572.1h0M449.5 573.9h0M439.4 573.4h0M440.7 572.1h0" stroke="#0084f9"/><path d="M433.9 570.4h0" stroke="#236cea"/><path d="M457.2 570.0h0M458.8 572.3h0M458.2 569.6h0" stroke="#0070ed"/><path d="M458.6 572.8h0M442.2 574.2h0M455.3 570.0h0M463.3 574.4h0" stroke="#007cf5"/><path d="M454.8 571.3h0" stroke="#4b63e3"/><path d="M438.3 570.4h0" stroke="#008bfb"/><path d="M449.5 575.0h0" stroke="#0074f0"/><path d="M428.3 571.1h0M445.2 572.6h0M466.3 572.3h0M434.8 571.6h0M430.4 570.9h0M445.9 573.2h0M446.1 573.2h0M459.4 574.2h0" stroke="#0087fa"/><path d="M462.3 571.1h0M429.7 571.7h0M465.6 569.5h0M434.4 574.2h0" stroke="#236cea"/><path d="M465.0 571.3h0M439.1 572.0h0M459.3 570.3h0M459.1 569.7h0M434.9 572.7h0M441.5 572.5h0" stroke="#0084f9"/><path d="M437.0 572.5h0M431.8 573.3h0M457.7 572.6h0" stroke="#0080f7"/><path d="M460.9 570.4h0M448.8 573.5h0M445.6 571.6h0" stroke="#0070ed"/><path d="M465.5 571.8h0M453.1 572.9h0M444.1 573.6h0" stroke="#007cf5"/><path d="M438.9 574.2h0M457.0 572.6h0" stroke="#008bfb"/><path d="M459.5 571.9h0" stroke="#0074f0"/><path d="M442.6 571.0h0M462.8 572.0h0M455.1 570.6h0" stroke="#3b68e7"/><path d="M457.0 571.6h0" stroke="#4b63e3"/><path d="M462.7 572.5h0M437.6 571.4h0M443.2 574.5h0M442.6 569.8h0M441.6 574.7h0M464.9 570.2h0M458.4 572.6h0M445.3 573.0h0M433.6 571.4h0M445.8 573.7h0" stroke="#0080f7"/><path d="M446.2 571.3h0M453.0 572.5h0M458.1 571.7h0M460.1 571.1h0M440.8 571.4h0" stroke="#0087fa"/><path d="M438.8 571.6h0" stroke="#0070ed"/><path d="M446.4 572.0h0M433.3 569.8h0M445.0 570.2h0M460.0 573.0h0M459.0 572.8h0M444.4 571.4h0M445.9 573.3h0" stroke="#0084f9"/><path d="M452.9 572.3h0M455.1 571.6h0" stroke="#008bfb"/><path d="M435.2 570.2h0M452.8 570.9h0" stroke="#4b63e3"/><path d="M443.8 570.4h0" stroke="#236cea"/><path d="M466.1 571.8h0M434.9 574.4h0M428.7 571.4h0" stroke="#007cf5"/><path d="M434.8 571.5h0" stroke="#585edf"/><path d="M453.7 572.1h0" stroke="#3b68e7"/><path d="M459.6 573.0h0M461.9 574.9h0M466.5 570.9h0M458.2 571.4h0M460.4 575.4h0" stroke="#0084f9"/><path d="M461.5 582.6h0M466.0 573.5h0M466.3 572.1h0" stroke="#0080f7"/><path d="M461.6 572.8h0M460.7 583.2h0" stroke="#007cf5"/><path d="M463.9 578.6h0" stroke="#008bfb"/><path d="M461.5 573.3h0M465.7 571.4h0M466.5 571.1h0" stroke="#0087fa"/><path d="M461.1 570.8h0M465.9 578.2h0M460.7 579.8h0" stroke="#0087fa"/><path d="M465.1 579.2h0M466.6 578.9h0M459.6 580.7h0M462.1 578.9h0M460.7 571.7h0" stroke="#0084f9"/><path d="M459.1 573.8h0M464.6 570.2h0M462.7 575.0h0M458.9 571.2h0" stroke="#0080f7"/><path d="M465.6 570.6h0M459.2 575.9h0" stroke="#008bfb"/><path d="M465.8 580.2h0" stroke="#008bfb"/><path d="M464.3 578.0h0M465.9 579.9h0M458.2 571.2h0M462.0 574.7h0" stroke="#0084f9"/><path d="M460.0 571.7h0M458.4 576.8h0M460.6 583.3h0M459.7 583.4h0" stroke="#0087fa"/><path d="M463.4 577.8h0M462.0 583.4h0M463.2 578.4h0" stroke="#0080f7"/><path d="M464.6 571.5h0" stroke="#007cf5"/><path d="M440.7 575.7h0" stroke="#008bfb"/><path d="M439.6 577.7h0M453.9 584.3h0M462.1 583.8h0" stroke="#0084f9"/><path d="M445.3 574.6h0M447.3 579.7h0M447.8 581.3h0M455.0 575.7h0" stroke="#0080f7"/><path d="M452.9 581.3h0M450.9 575.7h0" stroke="#0087fa"/><path d="M458.0 579.7h0" stroke="#007cf5"/><path d="M440.1 567.9h0" stroke="#e50081"/><path d="M448.6 568.7h0" stroke="#ab15a7"/><path d="M416.4 568.5h0M446.4 568.9h0M437.6 568.5h0M442.2 566.6h0M457.0 569.5h0M426.3 566.9h0M440.3 568.8h0" stroke="#ff0057"/><path d="M429.6 568.1h0M456.6 566.8h0" stroke="#ff0051"/><path d="M446.1 569.4h0M461.8 566.2h0M439.9 565.9h0M421.6 568.9h0M453.2 566.1h0M450.0 568.3h0" stroke="#fe005c"/><path d="M425.1 568.7h0" stroke="#e9007c"/><path d="M428.3 566.9h0" stroke="#bb00a0"/><path d="M445.7 568.1h0" stroke="#d5008f"/><path d="M451.6 567.1h0M420.4 569.1h0M418.5 568.4h0M424.8 567.6h0M425.5 566.4h0" stroke="#f90067"/><path d="M425.4 566.9h0" stroke="#cf0093"/><path d="M447.5 569.4h0M459.2 567.8h0M437.6 566.3h0M423.6 568.5h0M456.5 567.3h0" stroke="#fc0062"/><path d="M440.9 568.6h0M457.5 568.5h0" stroke="#f5006c"/><path d="M427.8 568.0h0" stroke="#e00086"/><path d="M437.1 567.1h0M449.7 567.0h0M462.8 565.6h0M422.9 567.8h0M427.4 566.1h0M419.3 567.5h0M456.7 568.4h0M450.8 567.2h0" stroke="#fe005c"/><path d="M438.4 568.3h0M425.9 568.1h0" stroke="#d5008f"/><path d="M449.3 565.8h0M429.0 569.0h0" stroke="#b30aa3"/><path d="M447.7 566.3h0" stroke="#ee0077"/><path d="M415.3 567.5h0M421.9 566.1h0M432.0 568.4h0" stroke="#ff0057"/><path d="M450.1 569.4h0" stroke="#e9007c"/><path d="M427.8 569.4h0M437.6 566.1h0M459.9 565.7h0" stroke="#f5006c"/><path d="M433.2 565.8h0M449.6 566.4h0" stroke="#e50081"/><path d="M444.8 567.4h0" stroke="#f90067"/><path d="M431.0 566.7h0M431.2 569.5h0M462.7 565.8h0" stroke="#ff0051"/><path d="M454.1 567.0h0" stroke="#fc0062"/><path d="M443.2 566.9h0M424.2 569.2h0" stroke="#ab15a7"/><path d="M443.6 568.4h0" stroke="#c2009c"/><path d="M442.6 565.7h0M442.0 568.0h0" stroke="#da008a"/><path d="M439.8 566.8h0" stroke="#9b23ad"/><path d="M454.2 566.1h0M451.1 567.4h0" stroke="#a31daa"/><path d="M436.7 568.5h0M425.4 567.6h0M426.5 567.2h0" stroke="#fc0062"/><path d="M466.0 567.1h0" stroke="#e9007c"/><path d="M460.6 568.3h0" stroke="#bb00a0"/><path d="M452.2 566.5h0M454.4 566.3h0M431.8 568.1h0" stroke="#f90067"/><path d="M429.1 567.7h0" stroke="#e50081"/><path d="M455.9 567.9h0M427.6 567.2h0M458.4 567.6h0M454.5 569.2h0" stroke="#ff0057"/><path d="M436.5 568.4h0M434.8 568.6h0M423.6 569.1h0" stroke="#b30aa3"/><path d="M455.3 567.8h0M450.4 567.4h0M427.7 566.5h0M429.6 566.6h0M465.4 566.2h0M450.4 568.5h0" stroke="#fe005c"/><path d="M425.7 568.9h0" stroke="#f5006c"/><path d="M443.7 567.6h0M459.9 567.6h0" stroke="#ff0051"/><path d="M432.7 567.1h0M456.8 568.6h0" stroke="#e00086"/><path d="M426.9 567.2h0M419.6 566.7h0" stroke="#9b23ad"/><path d="M458.2 566.2h0M439.1 567.4h0" stroke="#da008a"/><path d="M470.6 563.8h0M486.1 574.9h0" stroke="#a31daa"/><path d="M474.6 568.5h0" stroke="#c2009c"/><path d="M477.0 565.9h0M468.0 571.3h0" stroke="#fe005c"/><path d="M470.8 565.1h0" stroke="#ee0077"/><path d="M474.7 565.0h0M470.2 565.6h0M477.6 568.4h0" stroke="#b30aa3"/><path d="M473.5 566.0h0M486.1 570.3h0M469.2 563.9h0" stroke="#e00086"/><path d="M470.4 566.2h0M476.9 569.6h0M472.8 564.4h0M475.8 568.2h0" stroke="#8443c6"/><path d="M489.8 569.6h0M492.3 566.0h0M494.8 568.8h0" stroke="#9b23ad"/><path d="M482.1 565.6h0M482.4 567.0h0" stroke="#754fd1"/><path d="M484.2 571.3h0M484.5 573.0h0" stroke="#da008a"/><path d="M469.4 565.8h0M489.5 566.8h0" stroke="#7d49cb"/><path d="M483.1 569.4h0M475.0 565.0h0" stroke="#ab15a7"/><path d="M471.3 566.8h0M487.1 568.5h0" stroke="#e9007c"/><path d="M480.8 566.2h0M483.3 570.1h0M466.5 566.3h0" stroke="#6c54d6"/><path d="M468.4 569.8h0" stroke="#bb00a0"/><path d="M485.3 574.6h0" stroke="#e50081"/><path d="M493.8 567.4h0M470.2 568.3h0" stroke="#fc0062"/><path d="M489.9 570.1h0M478.9 564.0h0" stroke="#ff0051"/><path d="M487.2 566.9h0M469.5 567.1h0" stroke="#d5008f"/><path d="M486.7 568.2h0" stroke="#6359da"/><path d="M480.4 563.9h0M486.0 573.7h0" stroke="#ff0057"/><path d="M470.3 568.6h0M487.3 570.2h0M478.1 564.8h0M466.5 568.2h0M476.8 571.7h0M470.6 571.2h0M478.9 572.5h0" stroke="#a31daa"/><path d="M481.5 568.0h0M468.0 566.9h0M486.3 567.3h0" stroke="#8443c6"/><path d="M481.0 563.1h0M482.1 563.4h0M470.7 570.1h0" stroke="#e9007c"/><path d="M470.9 567.0h0M473.2 564.3h0M481.4 566.3h0M493.8 569.8h0" stroke="#da008a"/><path d="M467.0 567.9h0M483.2 575.2h0M472.4 564.4h0M474.0 565.9h0M470.0 563.9h0" stroke="#d5008f"/><path d="M479.6 568.6h0M474.5 563.9h0M478.9 572.0h0" stroke="#bb00a0"/><path d="M475.9 568.6h0M478.0 565.8h0M487.9 572.0h0" stroke="#6359da"/><path d="M482.6 574.7h0" stroke="#ee0077"/><path d="M490.7 571.7h0M487.9 574.1h0" stroke="#e00086"/><path d="M473.4 563.1h0" stroke="#cf0093"/><path d="M477.2 570.4h0" stroke="#ff0051"/><path d="M492.0 566.4h0" stroke="#ab15a7"/><path d="M478.5 563.1h0" stroke="#f90067"/><path d="M488.7 570.5h0" stroke="#f5006c"/><path d="M487.8 568.4h0M481.8 565.2h0" stroke="#ff0057"/><path d="M485.8 566.0h0" stroke="#754fd1"/><path d="M490.7 570.9h0" stroke="#c2009c"/><path d="M488.3 565.9h0" stroke="#b30aa3"/><path d="M470.3 565.0h0" stroke="#e50081"/><path d="M490.8 566.0h0" stroke="#fe005c"/><path d="M481.0 569.2h0" stroke="#bb00a0"/><path d="M490.9 574.1h0M473.2 567.9h0M475.4 567.9h0M483.6 564.0h0M472.2 570.8h0M477.0 572.7h0M479.8 563.7h0" stroke="#e00086"/><path d="M487.0 574.6h0M486.7 566.2h0M491.9 572.9h0" stroke="#7d49cb"/><path d="M493.9 570.1h0M482.9 571.3h0" stroke="#c2009c"/><path d="M470.6 571.3h0M479.7 563.2h0" stroke="#cf0093"/><path d="M466.8 566.1h0M487.9 565.2h0" stroke="#ab15a7"/><path d="M470.8 570.6h0" stroke="#f5006c"/><path d="M483.4 574.0h0M479.2 563.3h0" stroke="#9b23ad"/><path d="M474.3 569.9h0M479.4 574.2h0M483.7 574.9h0" stroke="#e50081"/><path d="M483.3 571.6h0M468.2 565.2h0" stroke="#8b3cc0"/><path d="M471.4 566.7h0M480.4 563.0h0M489.3 570.0h0M491.7 570.6h0" stroke="#754fd1"/><path d="M481.9 563.5h0M468.4 567.7h0" stroke="#d5008f"/><path d="M482.4 563.7h0" stroke="#b30aa3"/><path d="M472.1 565.6h0" stroke="#6359da"/><path d="M469.9 571.0h0" stroke="#ff0051"/><path d="M476.1 572.4h0" stroke="#6c54d6"/><path d="M486.2 566.1h0M466.5 567.0h0" stroke="#e9007c"/><path d="M468.6 566.4h0" stroke="#8443c6"/><path d="M479.9 565.3h0M469.3 563.6h0" stroke="#da008a"/><path d="M470.0 563.8h0" stroke="#ff0057"/><path d="M477.2 569.2h0M489.5 570.8h0" stroke="#fe005c"/><path d="M466.5 571.5h0M469.1 571.2h0M467.6 568.9h0M471.4 566.5h0M468.8 570.3h0M475.2 568.8h0" stroke="#0087fa"/><path d="M474.4 568.8h0M474.6 568.7h0M467.1 568.0h0M472.4 566.0h0M469.0 568.1h0M475.2 569.2h0" stroke="#0084f9"/><path d="M470.3 566.4h0M469.1 567.7h0M468.9 569.9h0M470.1 568.6h0M466.3 569.1h0" stroke="#0080f7"/><path d="M472.6 568.5h0M465.6 568.1h0M469.8 569.2h0M467.8 570.5h0M468.1 571.4h0" stroke="#008bfb"/><path d="M466.4 569.7h0M469.1 566.2h0M470.4 568.0h0" stroke="#007cf5"/><path d="M472.3 558.3h0M476.2 556.2h0" stroke="#b30aa3"/><path d="M476.8 559.5h0M472.3 555.4h0M473.7 557.0h0M473.5 558.9h0" stroke="#bb00a0"/><path d="M473.7 560.1h0M477.6 556.2h0M477.3 557.6h0M476.4 557.9h0M473.8 554.1h0M476.0 555.3h0" stroke="#a31daa"/><path d="M470.9 555.3h0" stroke="#ab15a7"/><path d="M474.2 558.6h0M473.7 555.0h0M473.2 560.8h0M475.7 557.4h0" stroke="#9b23ad"/><path d="M434.3 560.1h0" stroke="#ff0051"/><path d="M469.6 557.7h0" stroke="#fe005c"/><path d="M512.2 537.7h0M513.8 536.9h0" stroke="#fc0062"/><path d="M436.7 557.7h0" stroke="#0087fa"/><path d="M502.6 553.2h0M503.3 553.0h0" stroke="#ab15a7"/><path d="M505.4 553.9h0M498.3 552.9h0" stroke="#a31daa"/><path d="M501.0 552.6h0M504.9 554.7h0M506.7 553.4h0M500.1 554.5h0M500.1 554.2h0" stroke="#754fd1"/><path d="M499.3 552.8h0" stroke="#8443c6"/><path d="M517.6 563.5h0" stroke="#fe005c"/><path d="M512.9 563.4h0M510.3 558.8h0M512.2 563.1h0" stroke="#ab15a7"/><path d="M514.8 563.6h0" stroke="#da008a"/><path d="M514.4 565.7h0" stroke="#e00086"/><path d="M514.0 561.6h0" stroke="#f90067"/><path d="M516.7 563.3h0" stroke="#ff0051"/><path d="M510.4 563.0h0" stroke="#e9007c"/><path d="M512.8 563.1h0" stroke="#e50081"/><path d="M510.9 563.0h0M544.4 561.8h0M533.4 563.3h0M528.8 564.3h0" stroke="#f5006c"/><path d="M534.1 565.0h0M515.5 561.7h0M532.6 562.8h0M538.3 559.8h0M537.5 562.7h0M510.4 563.6h0" stroke="#ff0051"/><path d="M539.1 561.4h0M510.0 561.6h0M525.6 564.1h0M533.9 558.2h0" stroke="#ff0057"/><path d="M525.4 560.9h0M519.1 562.2h0M543.8 559.4h0M513.0 561.5h0M542.1 560.0h0M515.2 557.4h0M518.2 564.4h0M538.4 563.7h0M539.4 563.2h0" stroke="#fe005c"/><path d="M536.1 559.0h0M544.7 560.2h0M539.2 563.3h0M528.3 563.2h0M538.9 564.2h0M526.7 561.6h0M545.2 562.9h0M531.8 559.5h0" stroke="#fc0062"/><path d="M539.5 558.7h0M516.5 557.6h0M523.0 558.1h0M531.2 560.3h0M514.3 561.1h0M522.1 558.8h0M516.6 563.5h0" stroke="#f90067"/><path d="M508.8 560.8h0M523.5 562.1h0M521.2 557.0h0" stroke="#e00086"/><path d="M512.1 561.6h0" stroke="#cf0093"/><path d="M531.2 558.0h0M523.8 563.0h0" stroke="#da008a"/><path d="M522.2 564.4h0" stroke="#d5008f"/><path d="M529.9 562.1h0M530.9 558.7h0M510.9 558.2h0M526.1 564.3h0" stroke="#ff0051"/><path d="M542.4 560.0h0M546.4 563.3h0M540.6 563.8h0M534.1 558.3h0M537.5 559.5h0M544.6 561.8h0M542.5 559.7h0M535.8 563.3h0" stroke="#fc0062"/><path d="M542.2 564.4h0M542.3 563.3h0M522.6 559.7h0M516.2 564.1h0M517.4 562.9h0M514.1 563.6h0" stroke="#f90067"/><path d="M539.7 563.8h0" stroke="#e50081"/><path d="M525.7 561.9h0M514.9 558.5h0M532.0 558.1h0M542.3 559.9h0M509.5 561.8h0" stroke="#d5008f"/><path d="M532.8 561.7h0M538.4 564.1h0M527.9 558.4h0M537.9 560.1h0M524.8 563.2h0M518.9 562.8h0M531.0 558.8h0" stroke="#ff0057"/><path d="M524.8 564.6h0M531.9 558.7h0M538.9 562.7h0M530.3 562.5h0M529.5 562.2h0M509.1 558.7h0M516.1 564.1h0M544.6 561.5h0" stroke="#fe005c"/><path d="M522.4 558.4h0" stroke="#f5006c"/><path d="M527.6 560.1h0" stroke="#e9007c"/><path d="M539.4 558.7h0" stroke="#cf0093"/><path d="M542.9 559.8h0M512.0 561.8h0M513.0 558.6h0" stroke="#e00086"/><path d="M543.8 559.1h0M539.4 564.4h0M542.7 564.7h0M520.6 559.6h0M544.8 562.3h0M522.3 557.8h0M545.6 562.6h0M539.3 562.8h0" stroke="#fc0062"/><path d="M526.0 558.8h0M516.3 560.0h0M528.0 561.6h0M528.8 563.3h0M533.0 560.8h0M522.4 560.2h0M529.3 562.8h0M530.5 560.1h0M514.9 558.1h0M517.4 560.8h0" stroke="#ff0057"/><path d="M540.1 563.0h0M540.3 558.1h0M520.6 560.1h0" stroke="#da008a"/><path d="M527.0 562.6h0M531.5 558.9h0M539.2 558.9h0M543.9 561.7h0" stroke="#fe005c"/><path d="M512.9 559.0h0" stroke="#e00086"/><path d="M544.1 564.2h0M541.0 558.4h0M524.2 561.2h0M543.3 563.8h0M525.1 559.7h0M540.4 560.4h0M527.1 564.9h0M522.3 557.8h0M515.6 560.7h0M519.4 561.5h0" stroke="#f90067"/><path d="M510.5 561.9h0M536.3 560.2h0M520.7 557.3h0" stroke="#f5006c"/><path d="M522.2 563.0h0" stroke="#e50081"/><path d="M545.9 562.7h0" stroke="#e9007c"/><path d="M542.5 563.2h0M528.2 560.1h0M522.7 562.2h0" stroke="#ff0051"/><path d="M528.9 567.1h0M542.7 565.2h0M546.1 566.2h0" stroke="#b30aa3"/><path d="M529.6 565.1h0M517.4 566.0h0M517.2 565.1h0" stroke="#7d49cb"/><path d="M516.1 565.0h0M546.3 563.7h0" stroke="#8b3cc0"/><path d="M533.4 564.5h0" stroke="#a31daa"/><path d="M533.7 566.3h0M521.5 564.7h0M533.4 569.1h0M544.1 564.9h0M542.6 565.7h0M529.6 568.1h0" stroke="#6c54d6"/><path d="M521.8 566.2h0" stroke="#0087fa"/><path d="M531.7 568.3h0M530.7 564.9h0" stroke="#8443c6"/><path d="M517.4 564.3h0M534.3 567.1h0M533.1 564.5h0" stroke="#754fd1"/><path d="M540.1 566.5h0" stroke="#0080f7"/><path d="M519.8 564.4h0M524.9 565.7h0" stroke="#007cf5"/><path d="M518.2 565.4h0M531.5 567.5h0" stroke="#ab15a7"/><path d="M530.1 567.4h0" stroke="#bb00a0"/><path d="M538.1 569.6h0M544.0 566.9h0" stroke="#0087fa"/><path d="M548.1 562.9h0" stroke="#ab15a7"/><path d="M532.6 565.3h0M547.5 563.4h0" stroke="#8b3cc0"/><path d="M536.6 565.0h0M542.2 566.0h0M515.4 565.9h0M536.8 568.8h0M529.3 566.4h0M540.0 567.6h0M522.2 567.6h0" stroke="#6c54d6"/><path d="M537.2 564.8h0M519.2 565.6h0M537.0 569.6h0M547.3 566.4h0M543.7 564.5h0M523.4 566.3h0" stroke="#8443c6"/><path d="M530.3 564.5h0M523.2 565.3h0M523.9 568.4h0M524.0 566.0h0" stroke="#754fd1"/><path d="M525.2 565.5h0" stroke="#a31daa"/><path d="M538.6 568.4h0M544.9 563.7h0" stroke="#7d49cb"/><path d="M520.9 567.7h0" stroke="#b30aa3"/><path d="M528.2 567.0h0" stroke="#0080f7"/><path d="M516.2 564.8h0M539.2 566.8h0" stroke="#bb00a0"/><path d="M543.9 566.3h0" stroke="#0080f7"/><path d="M543.2 565.5h0M530.1 567.9h0M538.4 569.1h0M532.3 566.9h0" stroke="#7d49cb"/><path d="M532.5 567.0h0M523.1 565.5h0M539.9 567.4h0M537.5 567.9h0M530.2 567.5h0" stroke="#8443c6"/><path d="M537.4 569.0h0M543.4 563.8h0M517.0 564.7h0M544.4 567.0h0" stroke="#007cf5"/><path d="M519.6 565.4h0" stroke="#754fd1"/><path d="M524.5 568.2h0M547.4 564.1h0" stroke="#c2009c"/><path d="M526.4 568.5h0M532.9 566.0h0M546.3 564.9h0M533.5 565.6h0" stroke="#0084f9"/><path d="M535.8 569.4h0M539.9 564.8h0" stroke="#6359da"/><path d="M533.7 567.4h0" stroke="#9b23ad"/><path d="M530.1 566.9h0" stroke="#b30aa3"/><path d="M505.0 554.2h0M540.9 541.4h0" stroke="#8443c6"/><path d="M506.7 566.2h0M517.8 552.5h0M520.9 577.8h0" stroke="#6c54d6"/><path d="M511.0 553.4h0M538.3 556.3h0" stroke="#7d49cb"/><path d="M546.0 555.6h0M543.9 575.6h0" stroke="#8b3cc0"/><path d="M508.4 561.0h0" stroke="#f90067"/><path d="M511.8 537.1h0" stroke="#ff0057"/><path d="M513.5 537.1h0M565.6 582.7h0" stroke="#fe005c"/><path d="M521.2 542.8h0" stroke="#f5006c"/><path d="M516.1 569.9h0M596.0 491.9h0M597.4 531.5h0M585.3 574.7h0M593.3 570.8h0M588.7 588.4h0M591.2 587.5h0M583.6 598.6h0" stroke="#0080f7"/><path d="M520.4 571.3h0M592.3 530.3h0M583.6 591.3h0" stroke="#0087fa"/><path d="M600.3 470.2h0M582.7 576.1h0M581.8 594.3h0M587.0 594.3h0M585.3 596.9h0M586.1 600.3h0M587.8 599.5h0" stroke="#0084f9"/><path d="M587.0 573.9h0M597.4 573.9h0M590.4 589.2h0" stroke="#008bfb"/><path d="M588.2 570.8h0" stroke="#c2009c"/><path d="M565.8 556.9h0M554.4 555.0h0" stroke="#ff0057"/><path d="M567.4 558.6h0M560.5 558.7h0M572.8 559.5h0M577.8 560.0h0" stroke="#e9007c"/><path d="M576.1 559.1h0M572.2 558.3h0" stroke="#da008a"/><path d="M557.8 554.4h0M559.4 557.9h0" stroke="#fc0062"/><path d="M570.3 557.3h0" stroke="#f90067"/><path d="M556.9 558.0h0M551.9 552.5h0" stroke="#d5008f"/><path d="M563.8 558.8h0M577.4 557.5h0" stroke="#e00086"/><path d="M560.5 556.6h0" stroke="#fe005c"/><path d="M499.7 517.1h0" stroke="#b30aa3"/><path d="M506.6 552.6h0M507.0 560.9h0M503.4 563.3h0M499.6 554.4h0M496.9 554.4h0" stroke="#b30aa3"/><path d="M504.5 553.5h0M497.3 554.0h0M506.3 551.7h0M501.8 552.2h0" stroke="#754fd1"/><path d="M506.9 563.6h0M500.1 552.8h0M497.7 556.5h0" stroke="#8443c6"/><path d="M498.3 557.9h0M505.0 559.0h0" stroke="#9b23ad"/><path d="M500.4 560.4h0" stroke="#6359da"/><path d="M500.1 556.3h0M507.7 561.1h0M497.7 558.4h0" stroke="#a31daa"/><path d="M497.3 553.6h0" stroke="#ab15a7"/><path d="M507.7 562.7h0M496.9 553.0h0" stroke="#6c54d6"/><path d="M504.0 553.0h0M508.2 559.0h0M500.7 554.5h0" stroke="#8443c6"/><path d="M507.4 551.6h0M498.0 558.3h0M500.7 552.3h0M502.7 558.2h0" stroke="#754fd1"/><path d="M501.9 552.5h0M498.6 559.2h0" stroke="#b30aa3"/><path d="M501.4 556.3h0M502.7 558.3h0M502.9 556.7h0M500.9 559.7h0" stroke="#7d49cb"/><path d="M500.1 554.0h0M505.9 554.2h0M503.4 552.9h0" stroke="#a31daa"/><path d="M496.5 555.2h0M503.4 552.2h0" stroke="#6359da"/><path d="M507.1 556.7h0" stroke="#ab15a7"/><path d="M505.3 559.1h0" stroke="#9b23ad"/><path d="M506.9 564.5h0" stroke="#6c54d6"/><path d="M499.8 556.3h0M501.4 553.8h0M497.5 555.0h0M500.0 553.7h0M507.7 558.6h0M504.0 556.8h0" stroke="#8443c6"/><path d="M498.2 553.8h0" stroke="#b30aa3"/><path d="M505.9 551.7h0M501.6 555.9h0" stroke="#6359da"/><path d="M499.6 553.1h0M503.1 552.0h0M505.6 565.6h0M506.2 565.3h0" stroke="#6c54d6"/><path d="M505.9 561.0h0" stroke="#7d49cb"/><path d="M502.0 560.9h0M500.3 553.2h0M506.8 559.0h0" stroke="#754fd1"/><path d="M504.0 562.3h0M500.5 558.2h0" stroke="#a31daa"/><path d="M499.6 556.5h0" stroke="#9b23ad"/><path d="M507.2 556.9h0" stroke="#8b3cc0"/><path d="M567.3 558.0h0" stroke="#e00086"/><path d="M569.9 557.1h0M557.7 556.3h0M566.0 559.3h0" stroke="#da008a"/><path d="M559.3 559.0h0M576.2 557.2h0M560.2 556.8h0" stroke="#e50081"/><path d="M574.1 558.1h0" stroke="#cf0093"/><path d="M557.4 556.3h0M563.4 556.5h0" stroke="#ff0051"/><path d="M558.4 556.9h0" stroke="#f90067"/><path d="M561.0 558.6h0" stroke="#ff0057"/><path d="M586.7 563.8h0M584.6 566.6h0M596.5 563.9h0M596.6 565.4h0M590.1 560.7h0M592.6 562.8h0M606.0 560.2h0M594.4 561.9h0M588.0 563.2h0M596.6 565.5h0" stroke="#0084f9"/><path d="M598.0 559.3h0M604.8 563.1h0M603.7 559.7h0M595.4 564.3h0" stroke="#0087fa"/><path d="M579.2 564.3h0M596.1 561.8h0" stroke="#6359da"/><path d="M590.4 560.7h0M578.6 562.7h0M610.3 560.6h0M606.4 563.0h0M598.0 560.6h0M587.3 560.2h0" stroke="#0080f7"/><path d="M600.8 558.2h0M599.1 561.8h0" stroke="#0070ed"/><path d="M609.7 560.7h0" stroke="#4b63e3"/><path d="M597.0 561.1h0M598.5 564.3h0M594.1 566.2h0" stroke="#008bfb"/><path d="M590.9 562.1h0M605.6 563.3h0M598.3 562.5h0" stroke="#3b68e7"/><path d="M592.9 561.9h0" stroke="#8b3cc0"/><path d="M593.3 566.5h0" stroke="#8443c6"/><path d="M581.9 565.9h0M601.4 564.0h0" stroke="#236cea"/><path d="M584.4 561.7h0M595.7 563.8h0" stroke="#754fd1"/><path d="M594.4 565.6h0M588.4 558.9h0" stroke="#7d49cb"/><path d="M602.8 559.8h0" stroke="#007cf5"/><path d="M590.9 564.9h0" stroke="#6359da"/><path d="M591.7 566.1h0" stroke="#4b63e3"/><path d="M594.5 565.6h0M587.0 563.5h0M600.7 559.5h0M608.3 562.7h0M594.0 558.1h0M583.6 564.5h0M605.2 562.3h0M580.3 561.8h0" stroke="#0080f7"/><path d="M603.8 558.7h0M585.6 562.4h0M604.0 563.5h0M606.2 563.7h0M588.2 562.9h0M589.2 564.2h0" stroke="#0084f9"/><path d="M608.7 560.5h0M592.3 559.9h0" stroke="#8443c6"/><path d="M608.0 561.2h0M602.8 561.5h0" stroke="#008bfb"/><path d="M591.5 560.5h0M587.3 560.1h0M612.0 561.8h0M606.0 559.5h0M609.8 561.6h0" stroke="#6c54d6"/><path d="M604.0 565.0h0M592.2 560.1h0M602.6 559.6h0M609.0 562.0h0" stroke="#007cf5"/><path d="M584.9 564.2h0M610.7 559.9h0" stroke="#236cea"/><path d="M596.0 561.1h0M598.1 563.1h0M589.6 560.7h0" stroke="#0087fa"/><path d="M595.0 565.8h0M588.5 559.2h0" stroke="#585edf"/><path d="M605.8 561.9h0" stroke="#0070ed"/><path d="M596.4 565.1h0" stroke="#754fd1"/><path d="M609.4 561.6h0" stroke="#8b3cc0"/><path d="M582.5 562.8h0M603.2 563.3h0M594.0 562.6h0M597.7 562.7h0M584.2 566.0h0M602.1 560.6h0" stroke="#0080f7"/><path d="M608.1 561.3h0M609.1 560.9h0M605.8 564.4h0" stroke="#754fd1"/><path d="M595.5 561.3h0M600.3 560.1h0M600.6 565.0h0M599.6 565.1h0M585.2 563.0h0M588.7 565.7h0M600.5 558.5h0M587.0 559.5h0" stroke="#0087fa"/><path d="M592.6 563.7h0M588.1 563.5h0M583.2 566.2h0M578.4 563.2h0" stroke="#236cea"/><path d="M597.6 561.0h0" stroke="#3b68e7"/><path d="M595.5 562.3h0" stroke="#0074f0"/><path d="M601.4 563.7h0" stroke="#6359da"/><path d="M603.5 561.7h0M604.9 564.0h0M590.6 565.8h0" stroke="#0084f9"/><path d="M598.4 561.3h0M586.2 566.7h0M593.7 562.9h0M598.1 558.9h0M610.8 560.5h0" stroke="#007cf5"/><path d="M600.3 561.4h0M608.9 563.3h0M597.0 563.5h0" stroke="#008bfb"/><path d="M590.0 561.3h0" stroke="#8b3cc0"/><path d="M597.4 565.0h0" stroke="#7d49cb"/><path d="M590.0 561.6h0" stroke="#6c54d6"/><path d="M591.6 566.0h0" stroke="#0070ed"/><path d="M607.4 563.6h0M605.9 559.9h0M593.0 559.7h0" stroke="#e00086"/><path d="M605.7 561.4h0M588.9 562.7h0M609.4 561.5h0" stroke="#ab15a7"/><path d="M592.0 560.9h0" stroke="#ff0051"/><path d="M600.0 560.8h0M585.7 559.8h0M609.1 562.2h0" stroke="#e50081"/><path d="M593.0 557.4h0" stroke="#d5008f"/><path d="M598.6 558.8h0M586.2 562.6h0" stroke="#ff0057"/><path d="M591.6 563.8h0" stroke="#e9007c"/><path d="M605.1 563.3h0M592.8 558.2h0" stroke="#da008a"/><path d="M604.9 563.6h0M601.9 561.1h0M589.1 557.5h0" stroke="#b30aa3"/><path d="M593.1 559.6h0M605.5 563.6h0M586.4 562.9h0M603.3 559.7h0" stroke="#cf0093"/><path d="M606.9 562.8h0" stroke="#fe005c"/><path d="M609.8 560.7h0" stroke="#f90067"/><path d="M605.8 560.3h0" stroke="#9b23ad"/><path d="M594.5 561.5h0" stroke="#a31daa"/><path d="M590.6 563.0h0" stroke="#ff0057"/><path d="M602.5 560.7h0M580.9 561.3h0M592.6 564.1h0" stroke="#e00086"/><path d="M608.0 561.4h0M591.9 558.3h0" stroke="#b30aa3"/><path d="M586.7 559.0h0M606.7 560.9h0" stroke="#e50081"/><path d="M587.0 564.3h0M599.6 563.7h0" stroke="#cf0093"/><path d="M607.2 562.2h0" stroke="#bb00a0"/><path d="M581.5 562.3h0M609.8 559.7h0M587.8 562.6h0M599.2 559.6h0M593.7 560.8h0" stroke="#da008a"/><path d="M596.6 558.4h0" stroke="#ff0051"/><path d="M580.4 561.6h0M587.3 562.0h0" stroke="#a31daa"/><path d="M596.6 562.7h0M603.8 561.4h0M595.7 563.9h0M589.1 562.0h0M600.5 561.8h0M591.6 562.3h0" stroke="#d5008f"/><path d="M586.0 557.6h0" stroke="#fc0062"/><path d="M610.8 559.1h0" stroke="#fe005c"/><path d="M594.5 560.9h0" stroke="#f5006c"/><path d="M599.0 561.2h0" stroke="#ab15a7"/><path d="M592.3 558.1h0M602.6 561.1h0M605.1 562.0h0" stroke="#ff0057"/><path d="M587.2 564.2h0M603.3 559.6h0" stroke="#e00086"/><path d="M602.5 561.1h0M596.0 562.5h0" stroke="#9b23ad"/><path d="M594.8 559.6h0" stroke="#c2009c"/><path d="M595.3 559.6h0M586.5 558.1h0M607.2 563.1h0" stroke="#ee0077"/><path d="M581.4 560.1h0M610.3 562.4h0M599.4 563.6h0" stroke="#da008a"/><path d="M584.4 560.1h0M587.8 561.0h0" stroke="#e9007c"/><path d="M607.6 562.3h0M607.3 560.9h0M582.2 559.2h0" stroke="#d5008f"/><path d="M594.6 560.6h0M582.7 560.1h0" stroke="#bb00a0"/><path d="M589.2 558.7h0M597.0 558.1h0" stroke="#fc0062"/><path d="M595.9 561.1h0" stroke="#a31daa"/><path d="M598.7 559.5h0" stroke="#f90067"/><path d="M593.3 556.4h0" stroke="#008bfb"/><path d="M594.0 556.9h0M594.5 555.1h0" stroke="#0084f9"/><path d="M597.4 555.9h0M595.1 555.1h0" stroke="#007cf5"/><path d="M594.5 556.7h0" stroke="#0080f7"/></g>
<path d="M407.10 463.80V607.35H621.80" stroke="#3a3a3a" stroke-width="1.15" fill="none"/>
<path d="M409.20 607.35v4.5M459.76 607.35v4.5M510.32 607.35v4.5M560.88 607.35v4.5M611.44 607.35v4.5M407.10 490.20h-4.5M407.10 516.27h-4.5M407.10 542.35h-4.5M407.10 568.42h-4.5M407.10 594.50h-4.5" stroke="#3a3a3a" stroke-width="1.1" fill="none"/>
<text x="409.2" y="621.6" font-size="8.5" text-anchor="middle" >0.4</text>
<text x="459.8" y="621.6" font-size="8.5" text-anchor="middle" >0.6</text>
<text x="510.3" y="621.6" font-size="8.5" text-anchor="middle" >0.8</text>
<text x="560.9" y="621.6" font-size="8.5" text-anchor="middle" >1.0</text>
<text x="611.4" y="621.6" font-size="8.5" text-anchor="middle" >1.2</text>
<text x="398.9" y="493.3" font-size="8.5" text-anchor="end" >0.06</text>
<text x="398.9" y="519.4" font-size="8.5" text-anchor="end" >0.04</text>
<text x="398.9" y="545.5" font-size="8.5" text-anchor="end" >0.02</text>
<text x="398.9" y="571.5" font-size="8.5" text-anchor="end" >0.00</text>
<text x="398.9" y="597.6" font-size="8.5" text-anchor="end" >−0.02</text>
<text x="514.5" y="633.9" font-size="10.4" text-anchor="middle" textLength="45.5" lengthAdjust="spacing"><tspan font-style="italic">Kc</tspan>(<tspan font-style="italic">d</tspan> <tspan dy="-0.7">–</tspan><tspan dy="0.7"> 2)</tspan></text>
<text transform="translate(359.6,535.6) rotate(-90)" font-size="10.4" text-anchor="middle">SHAP value for</text>
<text transform="translate(371.4,535.6) rotate(-90)" font-size="10.4" text-anchor="middle" textLength="46.5" lengthAdjust="spacing"><tspan font-style="italic">Kc</tspan>(<tspan font-style="italic">d</tspan> <tspan dy="-0.7">–</tspan><tspan dy="0.7"> 2)</tspan></text>
<rect x="635.60" y="463.30" width="5.6" height="144.55" fill="#e9eef8"/>
<rect x="637.10" y="463.80" width="2.5" height="143.55" fill="url(#cb)"/>
<text x="649.7" y="470.9" font-size="8.5" text-anchor="start" >0.75</text>
<text x="649.7" y="491.0" font-size="8.5" text-anchor="start" >0.50</text>
<text x="649.7" y="511.0" font-size="8.5" text-anchor="start" >0.25</text>
<text x="649.7" y="531.1" font-size="8.5" text-anchor="start" >0.00</text>
<text x="649.7" y="551.1" font-size="8.5" text-anchor="start" >−0.25</text>
<text x="649.7" y="571.2" font-size="8.5" text-anchor="start" >−0.50</text>
<text x="649.7" y="591.2" font-size="8.5" text-anchor="start" >−0.75</text>
<path d="M641.90 467.81h4.5M641.90 487.86h4.5M641.90 507.91h4.5M641.90 527.96h4.5M641.90 548.01h4.5M641.90 568.05h4.5M641.90 588.10h4.5" stroke="#3a3a3a" stroke-width="1.1" fill="none"/>
<text transform="translate(682.2,535.6) rotate(-90)" font-size="10.4" text-anchor="middle" font-style="italic">Sin</text>
<rect x="52.50" y="700.50" width="213.00" height="142.90" fill="#eaeaf2"/>
<path d="M54.40 700.50V843.40M104.48 700.50V843.40M154.56 700.50V843.40M204.64 700.50V843.40M254.72 700.50V843.40M52.50 702.30H265.50M52.50 728.74H265.50M52.50 755.18H265.50M52.50 781.62H265.50M52.50 808.06H265.50M52.50 834.50H265.50" stroke="#fff" stroke-width="0.9" fill="none"/>
<g stroke-width="3.1" stroke-linecap="round" fill="none"><path d="M61.6 815.0h0" stroke="#fc0062"/><path d="M63.2 815.8h0M68.9 819.1h0" stroke="#ff0051"/><path d="M68.1 815.8h0M71.3 815.0h0" stroke="#f5006c"/><path d="M102.2 820.6h0M99.1 828.6h0M99.0 817.8h0" stroke="#754fd1"/><path d="M111.5 825.1h0M106.8 818.1h0M111.7 821.5h0M86.7 825.1h0M93.0 823.1h0M98.7 826.2h0M99.4 831.9h0M104.0 817.8h0M86.4 823.3h0M108.0 820.4h0M85.3 828.8h0M96.0 828.7h0M88.2 825.6h0M112.2 820.0h0M103.8 818.9h0M113.5 818.9h0M110.7 816.3h0M102.8 818.6h0M84.6 829.0h0M89.1 833.3h0M89.1 833.2h0M95.8 821.8h0M89.4 829.8h0M98.9 834.6h0M107.1 827.4h0" stroke="#0084f9"/><path d="M81.7 830.6h0M96.1 829.5h0M112.7 822.2h0" stroke="#0070ed"/><path d="M92.6 828.6h0M93.8 825.5h0M87.6 830.4h0M94.4 826.3h0M100.2 827.8h0M97.4 820.2h0M99.7 828.8h0M112.3 821.4h0M100.8 828.7h0M100.8 824.1h0M86.9 822.5h0M98.5 827.3h0M104.4 818.1h0M109.5 816.1h0M109.8 815.5h0M111.8 815.9h0M83.0 826.6h0M98.2 833.9h0M86.5 828.5h0M84.2 826.2h0M93.7 822.1h0" stroke="#0080f7"/><path d="M98.2 820.7h0M97.3 819.1h0M93.0 830.3h0M94.2 827.7h0M97.5 819.2h0M86.7 827.2h0M84.9 823.2h0M96.7 822.5h0M88.8 832.7h0M98.8 831.4h0M109.7 813.7h0M93.5 825.1h0M96.3 832.4h0" stroke="#008bfb"/><path d="M111.9 815.5h0" stroke="#8443c6"/><path d="M88.7 827.6h0M96.0 826.9h0M102.5 824.7h0M94.6 829.4h0M83.3 830.5h0M90.4 824.1h0M91.7 835.8h0M92.5 826.0h0M100.4 825.6h0M81.2 828.5h0M106.2 817.0h0M101.2 819.3h0M97.1 823.8h0M100.1 835.1h0M99.3 825.5h0M81.9 826.2h0M96.0 826.8h0M99.7 825.5h0M110.1 824.1h0" stroke="#0087fa"/><path d="M87.7 821.6h0M98.0 828.2h0M104.0 815.2h0M99.1 817.6h0M95.2 834.2h0" stroke="#4b63e3"/><path d="M99.8 826.3h0M94.7 818.6h0" stroke="#3b68e7"/><path d="M107.4 817.9h0M85.5 826.3h0" stroke="#6359da"/><path d="M94.0 827.1h0" stroke="#585edf"/><path d="M81.4 825.6h0" stroke="#6c54d6"/><path d="M97.8 830.7h0M102.0 825.9h0M88.2 832.3h0M95.8 829.1h0M102.3 829.4h0" stroke="#007cf5"/><path d="M102.6 834.6h0" stroke="#236cea"/><path d="M78.5 827.5h0" stroke="#7d49cb"/><path d="M105.5 831.1h0M86.9 830.6h0M91.7 819.6h0" stroke="#3b68e7"/><path d="M107.3 814.9h0M105.9 817.4h0M105.1 830.7h0M94.0 822.0h0M94.7 835.2h0M88.4 824.1h0M92.2 826.3h0M91.7 823.0h0M95.2 829.1h0M99.3 821.7h0M97.3 831.5h0" stroke="#008bfb"/><path d="M93.8 832.8h0M94.5 821.6h0M99.9 831.5h0M101.2 834.1h0M101.3 833.1h0" stroke="#236cea"/><path d="M102.5 831.0h0M99.6 820.3h0M91.1 821.0h0M98.7 824.8h0M92.3 831.2h0M83.8 831.4h0M79.3 828.6h0M105.5 814.4h0M105.8 830.1h0M92.3 824.0h0M113.0 819.7h0M95.3 835.7h0M84.3 829.9h0M80.6 828.0h0M100.5 833.9h0M98.4 820.1h0M91.7 834.6h0M100.1 823.3h0M106.8 815.4h0M101.2 823.1h0M101.7 817.3h0M94.8 828.0h0M97.3 819.7h0M108.8 818.1h0" stroke="#0087fa"/><path d="M88.9 826.7h0M81.1 826.3h0M90.0 824.1h0M104.3 833.6h0M103.2 831.9h0M89.5 825.1h0M90.1 820.3h0M99.1 823.0h0M101.7 826.5h0M95.3 818.2h0M84.7 832.7h0M89.4 828.2h0M97.8 821.4h0M93.2 833.3h0M89.9 825.3h0M101.2 826.4h0M90.1 824.0h0M111.5 816.1h0M98.0 820.3h0" stroke="#0080f7"/><path d="M98.8 821.7h0M89.9 832.1h0M78.2 829.7h0M91.0 821.2h0M103.5 815.9h0M94.1 822.8h0M111.1 821.4h0M89.5 823.8h0M102.5 825.1h0M97.9 820.8h0M85.5 828.7h0M111.4 825.0h0" stroke="#0084f9"/><path d="M95.7 836.4h0M99.2 835.1h0M105.7 828.6h0M111.4 821.9h0M84.4 825.6h0M91.7 831.8h0M100.0 821.4h0M106.0 815.4h0M102.5 824.0h0" stroke="#007cf5"/><path d="M95.5 819.5h0M101.5 826.6h0M100.4 825.8h0M108.2 828.4h0" stroke="#0070ed"/><path d="M98.7 834.0h0" stroke="#6359da"/><path d="M100.1 834.9h0M97.6 819.2h0" stroke="#7d49cb"/><path d="M111.3 821.1h0M97.1 822.2h0" stroke="#8443c6"/><path d="M101.6 817.3h0M105.7 826.2h0M99.1 834.4h0M80.5 831.1h0M99.2 825.9h0" stroke="#754fd1"/><path d="M95.4 819.9h0M110.5 812.9h0" stroke="#585edf"/><path d="M95.3 831.7h0M81.3 825.2h0M109.9 823.6h0" stroke="#4b63e3"/><path d="M94.5 818.7h0" stroke="#6c54d6"/><path d="M84.4 827.9h0M98.1 829.7h0M112.2 815.6h0" stroke="#3b68e7"/><path d="M95.8 834.9h0M105.4 829.2h0M78.6 830.0h0M111.5 821.7h0M103.0 827.4h0" stroke="#008bfb"/><path d="M97.0 828.9h0M99.5 819.5h0M99.9 832.0h0M95.0 831.5h0M102.4 834.4h0M96.8 834.8h0M89.8 823.6h0M86.6 833.0h0M110.5 819.5h0M101.3 820.6h0M88.9 833.8h0M111.1 822.2h0M85.5 827.5h0M112.3 821.3h0M94.1 833.6h0M92.8 824.8h0M110.9 820.5h0M102.8 826.6h0M101.5 832.6h0M83.7 825.0h0M86.1 827.3h0M97.1 824.2h0M79.3 830.2h0M100.9 826.9h0M101.1 819.4h0M78.2 829.2h0" stroke="#0087fa"/><path d="M103.6 819.7h0M101.0 817.2h0M94.9 831.1h0M82.4 829.4h0" stroke="#754fd1"/><path d="M94.3 830.3h0M97.1 819.0h0M104.6 816.6h0M87.0 831.2h0M103.4 818.0h0M101.1 823.9h0M91.6 826.0h0" stroke="#007cf5"/><path d="M111.8 818.9h0M80.3 829.9h0" stroke="#0074f0"/><path d="M91.7 824.2h0" stroke="#4b63e3"/><path d="M91.8 826.2h0M91.4 833.3h0M99.8 833.6h0M92.4 821.3h0M98.5 820.5h0M93.6 826.2h0M94.4 826.0h0M97.8 824.5h0M84.9 831.3h0M98.8 830.2h0M91.9 836.9h0M92.4 833.3h0M92.9 827.8h0M104.0 817.0h0M84.8 827.5h0M111.4 823.1h0M109.5 814.2h0M95.3 834.1h0M91.1 835.7h0M82.8 832.1h0M94.6 830.0h0" stroke="#0084f9"/><path d="M89.2 829.7h0M101.9 834.7h0M94.4 823.8h0M100.1 825.4h0M88.1 822.2h0M101.1 824.3h0M110.4 822.2h0M85.8 829.9h0M84.9 823.3h0M104.9 818.2h0M101.5 828.7h0M96.6 823.5h0M86.1 830.2h0M90.8 823.5h0M93.1 829.9h0" stroke="#0080f7"/><path d="M101.5 834.8h0M103.6 825.2h0M106.0 829.0h0" stroke="#8443c6"/><path d="M82.3 831.9h0M87.4 824.1h0M87.3 826.9h0M86.5 827.4h0" stroke="#6c54d6"/><path d="M93.0 830.9h0M86.5 823.6h0M106.7 818.1h0M95.4 821.4h0" stroke="#7d49cb"/><path d="M110.2 815.9h0M103.8 820.3h0" stroke="#585edf"/><path d="M88.8 833.2h0M108.1 813.3h0" stroke="#6359da"/><path d="M109.9 817.1h0M91.2 824.0h0M101.5 830.2h0" stroke="#0070ed"/><path d="M106.0 827.3h0" stroke="#8b3cc0"/><path d="M102.8 826.7h0" stroke="#b30aa3"/><path d="M101.0 824.5h0" stroke="#8b3cc0"/><path d="M102.9 825.5h0M101.4 827.6h0" stroke="#bb00a0"/><path d="M98.0 826.0h0" stroke="#9b23ad"/><path d="M98.5 824.9h0" stroke="#754fd1"/><path d="M100.9 827.0h0" stroke="#8443c6"/><path d="M89.3 817.9h0M95.2 811.0h0M91.4 818.8h0M89.1 819.8h0M92.6 813.7h0" stroke="#0080f7"/><path d="M77.8 812.8h0M97.5 812.6h0M87.8 816.9h0M101.9 812.7h0M84.1 820.9h0M110.5 804.7h0M108.7 808.3h0M94.4 814.7h0M86.6 817.9h0M111.1 805.6h0" stroke="#fc0062"/><path d="M89.7 813.4h0M85.1 819.9h0M74.8 816.8h0M90.4 813.9h0M87.9 817.2h0M72.5 815.0h0" stroke="#0087fa"/><path d="M77.3 816.9h0M91.1 812.6h0M93.0 818.8h0M111.1 801.2h0M93.3 818.7h0M89.5 816.1h0M78.2 815.6h0M114.7 800.1h0M92.5 811.3h0M86.2 816.0h0M110.0 804.5h0M110.6 805.2h0M89.4 821.5h0" stroke="#ff0057"/><path d="M72.5 814.2h0M80.0 814.1h0M76.5 818.5h0M111.9 802.8h0M99.6 812.2h0M74.2 818.6h0M94.0 810.6h0M89.4 819.6h0M71.3 815.3h0" stroke="#f90067"/><path d="M113.0 800.6h0M84.7 815.2h0M95.2 817.6h0M102.2 809.2h0M76.5 812.7h0" stroke="#fe005c"/><path d="M76.9 816.9h0M98.0 816.3h0M100.4 812.9h0M112.1 803.2h0M98.1 813.2h0M79.9 817.7h0M86.1 814.0h0M96.2 810.4h0" stroke="#0084f9"/><path d="M84.0 812.6h0M95.5 813.8h0M103.5 809.5h0M94.5 810.3h0" stroke="#007cf5"/><path d="M103.2 808.2h0M81.8 812.1h0M89.3 820.4h0M109.6 803.7h0M79.1 814.6h0M91.6 811.6h0" stroke="#ff0051"/><path d="M108.0 808.2h0M86.6 817.2h0" stroke="#008bfb"/><path d="M79.1 812.4h0" stroke="#f5006c"/><path d="M91.2 817.2h0M77.5 818.7h0M85.0 817.5h0M101.4 813.3h0M77.3 816.1h0M77.1 820.3h0M90.5 814.2h0M106.8 809.1h0M104.1 808.7h0M105.2 808.1h0M88.6 814.0h0M97.1 815.6h0M103.2 806.9h0M75.6 816.2h0M87.3 820.6h0M114.0 800.7h0" stroke="#fe005c"/><path d="M94.4 811.0h0M86.6 812.0h0M78.3 812.3h0M85.7 816.3h0M93.7 816.9h0M75.2 813.6h0M80.1 814.4h0M99.4 814.4h0M110.0 802.7h0" stroke="#ff0057"/><path d="M100.5 807.8h0M91.7 815.5h0M103.2 807.7h0M107.2 805.7h0M92.3 813.2h0M93.2 818.0h0M89.0 815.1h0" stroke="#ff0051"/><path d="M86.8 816.1h0M90.4 816.4h0" stroke="#007cf5"/><path d="M113.4 800.0h0M79.5 819.2h0M77.0 815.1h0M78.7 817.8h0M99.6 809.6h0" stroke="#f5006c"/><path d="M100.9 814.5h0M81.4 812.2h0M86.7 821.4h0M82.7 812.6h0M84.8 820.4h0M96.0 813.8h0M100.4 809.6h0M80.4 817.1h0" stroke="#f90067"/><path d="M97.9 811.2h0M94.2 813.0h0M81.2 821.3h0M82.1 812.5h0M93.6 813.2h0M102.7 808.5h0" stroke="#0087fa"/><path d="M94.3 816.8h0M78.1 814.1h0M76.3 816.4h0M89.3 813.1h0" stroke="#fc0062"/><path d="M79.4 811.8h0M105.9 809.1h0M109.3 805.1h0M78.1 815.2h0M110.6 802.6h0M80.2 819.2h0" stroke="#0084f9"/><path d="M92.3 816.2h0M78.5 812.4h0" stroke="#008bfb"/><path d="M76.8 815.0h0M108.0 805.4h0M92.1 812.0h0M99.5 810.6h0" stroke="#0080f7"/><path d="M79.9 813.6h0M80.5 812.7h0M93.9 814.6h0M79.9 821.1h0M77.3 814.5h0M81.8 813.9h0M84.2 820.4h0M92.9 819.0h0M86.5 811.9h0" stroke="#fc0062"/><path d="M91.3 814.7h0M84.4 817.2h0M96.4 817.2h0M107.7 805.0h0M80.6 816.1h0M84.3 813.4h0" stroke="#ff0051"/><path d="M95.7 816.6h0M82.5 818.8h0M77.3 815.9h0M75.1 813.0h0M112.3 803.7h0M105.1 808.9h0M94.0 814.5h0M93.0 811.7h0M89.0 821.3h0M103.0 811.4h0M86.3 814.4h0" stroke="#f90067"/><path d="M114.6 800.0h0M89.6 811.8h0M111.9 800.3h0M87.5 812.6h0M91.6 811.4h0M103.6 806.2h0" stroke="#0084f9"/><path d="M99.1 815.1h0M103.6 812.5h0M99.1 808.5h0M81.6 815.5h0M78.4 817.7h0M77.1 818.8h0M101.5 810.9h0M78.4 819.2h0M73.3 816.7h0M90.3 818.5h0M92.2 815.6h0" stroke="#0087fa"/><path d="M111.4 800.8h0" stroke="#f5006c"/><path d="M111.1 802.1h0M94.3 814.8h0M93.8 817.8h0M94.0 818.6h0M88.6 811.8h0M78.2 816.1h0M112.4 799.9h0M108.4 805.6h0M75.7 818.3h0M114.2 800.3h0" stroke="#ff0057"/><path d="M78.6 814.5h0M104.4 810.7h0M94.0 818.1h0" stroke="#007cf5"/><path d="M81.3 813.0h0M99.3 813.0h0M82.4 812.4h0" stroke="#008bfb"/><path d="M84.1 812.5h0M111.9 800.2h0M85.6 815.7h0M95.1 816.3h0M107.8 808.1h0" stroke="#fe005c"/><path d="M100.1 811.0h0M82.9 820.0h0M85.7 811.6h0" stroke="#0080f7"/><path d="M107.6 808.0h0M123.4 802.2h0M139.3 791.8h0M124.8 791.4h0M111.4 808.8h0M119.2 802.0h0" stroke="#bb00a0"/><path d="M120.6 804.9h0M136.3 793.2h0M128.3 794.4h0M127.1 796.7h0M119.1 801.0h0M126.7 795.3h0M118.4 800.1h0M112.1 811.2h0" stroke="#e00086"/><path d="M125.1 800.2h0M133.3 797.1h0M109.3 809.1h0M124.6 794.1h0M125.1 799.9h0M125.4 801.9h0M133.0 793.8h0" stroke="#da008a"/><path d="M131.3 792.9h0M140.0 787.9h0M112.0 805.3h0M113.3 806.8h0M124.7 801.9h0M133.3 788.2h0M115.6 798.5h0" stroke="#fc0062"/><path d="M116.5 805.7h0M130.5 789.0h0M126.0 800.2h0" stroke="#0080f7"/><path d="M114.9 799.8h0M116.3 798.1h0M130.8 796.9h0" stroke="#fe005c"/><path d="M126.2 797.9h0M122.7 800.1h0M119.9 804.6h0" stroke="#ff0057"/><path d="M117.1 797.2h0M127.4 796.4h0M139.2 790.1h0M140.0 791.0h0" stroke="#d5008f"/><path d="M120.1 804.5h0M120.4 794.9h0M114.4 808.4h0M110.2 803.4h0" stroke="#e9007c"/><path d="M111.6 804.7h0" stroke="#9b23ad"/><path d="M121.6 800.4h0M121.8 796.1h0M125.1 794.5h0" stroke="#008bfb"/><path d="M129.2 799.7h0M119.9 796.6h0" stroke="#a31daa"/><path d="M131.9 795.7h0M107.8 807.3h0M110.0 810.0h0" stroke="#0084f9"/><path d="M124.4 802.2h0M119.1 805.5h0" stroke="#c2009c"/><path d="M117.0 797.2h0M125.3 798.0h0" stroke="#b30aa3"/><path d="M109.4 810.0h0M123.0 799.7h0" stroke="#e50081"/><path d="M123.8 792.7h0M116.9 806.5h0M134.7 792.5h0M117.7 799.3h0" stroke="#f90067"/><path d="M139.6 787.7h0" stroke="#f5006c"/><path d="M116.2 799.5h0" stroke="#ff0057"/><path d="M118.7 795.5h0M111.4 803.1h0" stroke="#ee0077"/><path d="M112.8 807.6h0M134.1 789.2h0M121.7 797.1h0" stroke="#f5006c"/><path d="M125.2 802.0h0M132.1 796.4h0M127.0 796.1h0M108.6 808.5h0M133.8 792.9h0" stroke="#d5008f"/><path d="M121.1 800.7h0M127.2 798.0h0M115.0 797.9h0" stroke="#e9007c"/><path d="M131.0 793.1h0M137.9 787.3h0M130.0 799.0h0M131.7 789.9h0M115.4 807.0h0M118.2 807.2h0M134.2 795.6h0" stroke="#fc0062"/><path d="M122.0 798.0h0M119.5 802.2h0M139.1 792.4h0M115.5 803.7h0" stroke="#da008a"/><path d="M133.2 787.9h0M113.2 802.6h0" stroke="#ab15a7"/><path d="M126.4 800.4h0M116.8 797.1h0M139.0 789.9h0M117.2 808.3h0" stroke="#b30aa3"/><path d="M126.5 794.7h0M116.4 809.2h0M132.5 791.0h0M121.5 803.2h0" stroke="#0080f7"/><path d="M127.4 790.6h0M108.5 810.3h0M117.8 807.1h0M139.6 793.0h0" stroke="#a31daa"/><path d="M135.5 791.7h0M118.8 800.3h0" stroke="#bb00a0"/><path d="M109.5 807.6h0M126.9 800.7h0" stroke="#fe005c"/><path d="M121.4 801.6h0M120.2 804.8h0M115.9 809.7h0" stroke="#cf0093"/><path d="M112.2 808.1h0M116.5 805.4h0M118.9 806.4h0M119.3 804.0h0" stroke="#e00086"/><path d="M126.4 791.3h0M137.2 793.0h0M129.4 795.4h0" stroke="#0087fa"/><path d="M135.4 792.2h0M117.0 805.3h0" stroke="#9b23ad"/><path d="M135.6 790.6h0M122.3 800.5h0" stroke="#f90067"/><path d="M131.7 795.5h0M109.7 807.3h0M121.5 794.9h0M130.0 795.6h0M130.0 797.5h0M122.8 792.9h0M130.4 794.1h0" stroke="#e50081"/><path d="M140.7 789.7h0M123.4 793.6h0M124.3 794.2h0M130.7 793.6h0M121.5 793.6h0M130.1 798.8h0" stroke="#d5008f"/><path d="M133.7 788.4h0M111.0 805.3h0" stroke="#ee0077"/><path d="M131.8 788.8h0M122.8 803.6h0M115.1 802.9h0" stroke="#bb00a0"/><path d="M137.7 790.0h0M131.9 797.1h0M111.7 805.6h0M114.1 806.9h0" stroke="#e50081"/><path d="M122.3 798.0h0M117.9 807.4h0" stroke="#ff0051"/><path d="M136.3 791.5h0M124.5 799.1h0M119.1 795.7h0M132.3 796.5h0M108.0 806.9h0M118.5 803.0h0" stroke="#e00086"/><path d="M117.4 803.1h0M111.2 810.0h0M119.6 799.8h0M133.6 791.9h0M113.9 802.2h0M122.5 795.7h0M135.9 788.6h0" stroke="#f90067"/><path d="M122.5 801.4h0M140.8 791.1h0" stroke="#cf0093"/><path d="M115.2 805.8h0M129.3 795.0h0M125.3 795.1h0M112.5 802.6h0M116.4 802.8h0M110.3 808.0h0M119.5 806.4h0M113.2 811.1h0" stroke="#ff0057"/><path d="M114.8 804.2h0M108.8 805.3h0M117.6 806.4h0" stroke="#e9007c"/><path d="M128.4 794.9h0M112.8 808.3h0M113.4 802.6h0" stroke="#0080f7"/><path d="M138.0 786.2h0M138.9 793.3h0M138.6 786.4h0" stroke="#fe005c"/><path d="M126.3 795.7h0" stroke="#fc0062"/><path d="M121.8 799.7h0M129.4 789.3h0" stroke="#0087fa"/><path d="M120.5 803.8h0M108.8 808.0h0" stroke="#da008a"/><path d="M114.7 805.8h0M138.5 788.0h0" stroke="#c2009c"/><path d="M129.2 791.7h0M115.2 801.5h0M115.5 800.6h0" stroke="#0084f9"/><path d="M132.9 789.3h0M131.5 790.6h0" stroke="#9b23ad"/><path d="M125.5 799.3h0" stroke="#007cf5"/><path d="M141.6 789.6h0" stroke="#ab15a7"/><path d="M139.2 787.8h0" stroke="#a31daa"/><path d="M111.7 809.8h0M111.6 810.3h0M111.5 805.8h0M118.5 805.0h0M113.0 811.9h0" stroke="#0080f7"/><path d="M110.1 812.1h0M118.7 806.0h0M112.4 811.7h0M115.2 806.3h0" stroke="#0084f9"/><path d="M113.6 808.5h0" stroke="#007cf5"/><path d="M109.0 812.2h0" stroke="#008bfb"/><path d="M108.1 808.9h0" stroke="#0087fa"/><path d="M108.0 812.6h0M111.4 807.4h0" stroke="#0084f9"/><path d="M113.4 805.8h0M112.4 806.6h0" stroke="#007cf5"/><path d="M109.9 807.8h0" stroke="#008bfb"/><path d="M108.4 811.3h0M114.4 804.5h0M112.8 812.0h0" stroke="#0080f7"/><path d="M109.3 812.5h0M108.6 811.3h0M109.6 812.4h0M111.1 808.2h0" stroke="#0087fa"/><path d="M108.8 809.5h0M110.0 809.7h0M114.2 811.1h0" stroke="#0080f7"/><path d="M110.9 807.6h0M109.6 809.5h0M116.1 808.1h0" stroke="#0084f9"/><path d="M110.3 811.5h0M118.0 806.5h0M114.8 810.2h0M111.8 808.0h0" stroke="#0087fa"/><path d="M109.3 812.7h0" stroke="#008bfb"/><path d="M148.1 783.2h0M140.3 782.6h0M149.8 784.0h0" stroke="#6c54d6"/><path d="M142.4 783.0h0M139.3 784.6h0" stroke="#6359da"/><path d="M139.0 782.8h0M132.0 785.4h0M147.0 782.4h0" stroke="#754fd1"/><path d="M131.1 784.6h0" stroke="#bb00a0"/><path d="M140.2 782.8h0M143.0 783.8h0M136.2 782.9h0M135.0 783.6h0" stroke="#8443c6"/><path d="M148.1 783.1h0M130.9 785.0h0" stroke="#7d49cb"/><path d="M136.8 785.0h0" stroke="#8b3cc0"/><path d="M138.7 779.7h0" stroke="#7d49cb"/><path d="M150.8 772.5h0" stroke="#8443c6"/><path d="M121.9 809.4h0" stroke="#008bfb"/><path d="M133.1 799.8h0" stroke="#007cf5"/><path d="M153.2 774.9h0" stroke="#f90067"/><path d="M154.8 770.1h0" stroke="#ff0057"/><path d="M156.4 771.7h0M162.0 766.1h0" stroke="#fc0062"/><path d="M161.2 762.0h0" stroke="#fe005c"/><path d="M158.0 777.3h0" stroke="#6c54d6"/><path d="M159.6 778.9h0" stroke="#7d49cb"/><path d="M183.2 745.6h0M170.2 748.2h0M168.0 744.5h0M187.3 744.0h0M183.8 739.9h0M188.1 741.2h0M165.6 745.9h0M168.9 749.9h0M184.4 740.4h0" stroke="#ff0057"/><path d="M168.8 747.4h0M181.7 747.3h0M176.4 740.4h0M186.9 741.6h0M180.8 741.4h0M173.7 750.1h0" stroke="#fe005c"/><path d="M169.0 745.1h0M180.2 749.2h0M185.7 742.6h0M180.9 745.7h0M172.5 746.8h0M179.5 745.1h0M187.7 741.5h0M168.1 748.1h0" stroke="#f90067"/><path d="M174.9 743.3h0M185.1 744.4h0M168.6 745.7h0" stroke="#ff0051"/><path d="M174.8 748.5h0M185.4 744.9h0M175.9 741.2h0M168.4 748.6h0M170.3 744.2h0M175.7 746.1h0" stroke="#fc0062"/><path d="M188.1 741.2h0" stroke="#e9007c"/><path d="M171.6 744.9h0M188.5 744.9h0" stroke="#cf0093"/><path d="M171.9 744.9h0M169.9 751.3h0" stroke="#e00086"/><path d="M172.2 744.4h0M171.3 749.5h0M185.9 744.0h0" stroke="#f5006c"/><path d="M189.3 742.7h0" stroke="#d5008f"/><path d="M187.1 746.6h0M170.1 748.6h0M185.4 745.9h0M167.9 747.5h0M182.2 740.8h0M185.3 743.2h0M174.0 748.3h0" stroke="#fc0062"/><path d="M181.6 740.8h0M179.7 748.1h0M166.7 746.9h0M168.0 751.7h0" stroke="#f90067"/><path d="M169.8 744.7h0" stroke="#cf0093"/><path d="M171.1 749.4h0M165.8 746.9h0M185.8 741.3h0M179.8 746.0h0M170.7 744.5h0M168.8 746.5h0M180.8 744.0h0M186.6 742.0h0M188.5 741.9h0M168.3 749.3h0M189.0 744.4h0M166.3 749.1h0" stroke="#fe005c"/><path d="M184.0 746.5h0M188.8 743.4h0" stroke="#f5006c"/><path d="M167.6 743.5h0M183.3 745.7h0" stroke="#ff0051"/><path d="M177.2 747.4h0M178.4 744.5h0M176.9 747.6h0" stroke="#e9007c"/><path d="M184.9 745.4h0" stroke="#e50081"/><path d="M166.1 745.1h0M177.9 748.9h0" stroke="#e00086"/><path d="M174.0 748.3h0M181.5 747.1h0M184.2 745.5h0" stroke="#ff0057"/><path d="M177.8 745.9h0" stroke="#d5008f"/><path d="M189.1 743.1h0M174.7 747.0h0" stroke="#da008a"/><path d="M190.2 741.1h0M166.0 745.4h0M184.1 742.1h0" stroke="#d5008f"/><path d="M171.0 744.3h0M186.8 742.9h0M171.9 743.1h0" stroke="#f5006c"/><path d="M173.1 742.2h0M173.6 748.3h0M169.3 750.6h0M164.5 748.3h0M170.1 750.8h0M183.8 745.8h0M181.0 740.9h0M186.1 743.4h0" stroke="#ff0057"/><path d="M180.7 748.6h0M188.6 744.1h0M179.9 747.6h0M179.1 741.5h0M188.7 744.6h0M187.8 742.3h0" stroke="#fc0062"/><path d="M170.3 747.4h0M172.6 748.9h0M181.9 747.1h0" stroke="#ff0051"/><path d="M175.6 741.1h0M170.6 745.9h0M184.2 742.2h0M176.1 741.4h0M175.7 746.3h0" stroke="#fe005c"/><path d="M174.4 741.9h0" stroke="#cf0093"/><path d="M189.1 744.7h0" stroke="#e00086"/><path d="M183.7 746.8h0M172.9 750.7h0M176.5 745.9h0M180.8 746.7h0M171.5 750.0h0M170.5 745.9h0" stroke="#f90067"/><path d="M182.0 739.9h0" stroke="#da008a"/><path d="M188.5 741.7h0M178.7 749.3h0M169.3 749.0h0" stroke="#e50081"/><path d="M188.5 754.1h0M192.5 749.2h0" stroke="#9b23ad"/><path d="M167.8 755.2h0M184.0 749.9h0M178.1 752.6h0M183.5 756.0h0M182.3 754.3h0M177.5 750.5h0M167.4 760.1h0M190.7 752.9h0" stroke="#6c54d6"/><path d="M187.2 753.5h0M172.6 751.2h0" stroke="#b30aa3"/><path d="M168.5 758.3h0M165.7 758.3h0M181.0 755.3h0M174.8 752.9h0" stroke="#ab15a7"/><path d="M164.1 757.7h0M167.3 760.6h0" stroke="#585edf"/><path d="M181.1 754.8h0M181.5 753.7h0M166.0 752.1h0M164.7 754.0h0M185.6 751.1h0M181.7 755.4h0" stroke="#8443c6"/><path d="M185.6 753.4h0" stroke="#0070ed"/><path d="M165.8 754.4h0M169.1 758.0h0M181.5 756.0h0M178.3 749.7h0M180.5 754.3h0" stroke="#754fd1"/><path d="M178.7 748.8h0" stroke="#4b63e3"/><path d="M169.1 757.9h0" stroke="#0074f0"/><path d="M184.9 752.7h0M171.7 756.8h0M174.4 758.1h0M175.8 750.6h0" stroke="#7d49cb"/><path d="M185.2 753.7h0" stroke="#6359da"/><path d="M166.0 759.0h0M189.0 752.6h0" stroke="#236cea"/><path d="M177.6 755.3h0M173.0 758.6h0" stroke="#bb00a0"/><path d="M188.0 751.9h0" stroke="#a31daa"/><path d="M173.9 755.1h0" stroke="#bb00a0"/><path d="M178.0 755.7h0M177.9 754.4h0M177.9 749.0h0M167.6 756.1h0" stroke="#6c54d6"/><path d="M175.1 752.7h0M187.4 753.3h0M180.3 754.4h0M181.9 748.8h0M166.3 752.1h0M183.1 752.4h0M189.6 750.6h0" stroke="#8443c6"/><path d="M182.5 748.9h0" stroke="#754fd1"/><path d="M183.9 749.5h0M173.6 753.9h0" stroke="#585edf"/><path d="M164.7 754.5h0M170.7 759.5h0M165.3 757.8h0M185.0 749.0h0M184.2 755.0h0M187.8 752.9h0M165.4 756.9h0" stroke="#7d49cb"/><path d="M177.0 756.9h0M167.4 754.8h0M164.5 757.4h0M164.9 757.5h0M173.9 757.7h0M178.7 755.3h0M173.9 757.0h0M179.0 749.2h0" stroke="#6359da"/><path d="M174.9 756.4h0" stroke="#4b63e3"/><path d="M184.2 752.0h0M181.4 752.3h0M169.7 755.2h0M180.1 754.5h0" stroke="#236cea"/><path d="M187.8 749.2h0" stroke="#8b3cc0"/><path d="M178.0 753.6h0" stroke="#0070ed"/><path d="M179.1 757.5h0" stroke="#ab15a7"/><path d="M163.6 757.6h0" stroke="#0074f0"/><path d="M177.1 755.5h0M171.1 757.2h0" stroke="#b30aa3"/><path d="M189.4 748.1h0" stroke="#9b23ad"/><path d="M188.1 748.5h0M184.8 752.0h0M164.7 754.7h0M190.8 749.8h0M174.0 759.0h0M189.2 748.7h0M184.2 749.6h0M174.1 756.5h0" stroke="#7d49cb"/><path d="M170.5 756.5h0M187.8 753.7h0" stroke="#8b3cc0"/><path d="M178.8 749.3h0M169.2 754.9h0" stroke="#bb00a0"/><path d="M166.8 758.4h0M167.7 756.0h0M175.0 749.3h0M185.4 748.8h0M168.6 753.8h0" stroke="#754fd1"/><path d="M173.1 750.0h0" stroke="#9b23ad"/><path d="M170.4 758.3h0M180.7 749.7h0" stroke="#6c54d6"/><path d="M190.6 750.5h0M165.3 758.5h0M186.0 750.8h0" stroke="#236cea"/><path d="M182.4 755.1h0M163.3 758.4h0" stroke="#6359da"/><path d="M174.7 754.4h0M169.0 751.9h0M163.0 756.1h0M174.3 749.8h0M165.7 759.1h0M185.4 754.6h0M174.6 753.1h0M170.2 754.8h0" stroke="#8443c6"/><path d="M183.0 756.2h0M165.9 758.8h0" stroke="#ab15a7"/><path d="M177.7 754.7h0M167.0 756.8h0" stroke="#0070ed"/><path d="M163.0 757.1h0M174.7 757.5h0" stroke="#4b63e3"/><path d="M175.1 749.9h0" stroke="#b30aa3"/><path d="M176.5 749.4h0" stroke="#3b68e7"/><path d="M176.0 758.6h0" stroke="#585edf"/><path d="M175.4 760.7h0" stroke="#0084f9"/><path d="M183.0 762.4h0" stroke="#0087fa"/><path d="M182.2 758.1h0" stroke="#008bfb"/><path d="M163.8 764.9h0M162.2 771.9h0" stroke="#fe005c"/><path d="M162.2 772.4h0" stroke="#6c54d6"/><path d="M163.6 776.7h0M157.8 776.3h0M160.0 776.8h0" stroke="#f90067"/><path d="M161.2 777.2h0" stroke="#7d49cb"/><path d="M164.2 766.4h0M158.9 775.7h0M162.4 774.8h0" stroke="#754fd1"/><path d="M165.1 769.4h0" stroke="#8b3cc0"/><path d="M163.5 765.0h0" stroke="#ff0057"/><path d="M158.4 777.4h0" stroke="#7d49cb"/><path d="M159.8 766.0h0M160.2 771.8h0" stroke="#fe005c"/><path d="M161.6 775.1h0" stroke="#ff0057"/><path d="M162.3 768.6h0M160.3 771.2h0" stroke="#f90067"/><path d="M161.4 777.4h0" stroke="#fc0062"/><path d="M161.3 774.3h0" stroke="#6359da"/><path d="M157.2 769.3h0" stroke="#ff0051"/><path d="M156.1 770.9h0" stroke="#754fd1"/><path d="M159.9 775.6h0" stroke="#f5006c"/><path d="M158.5 768.3h0" stroke="#6c54d6"/><path d="M163.4 774.1h0M163.2 772.3h0" stroke="#6359da"/><path d="M163.1 764.8h0" stroke="#ff0057"/><path d="M164.4 768.7h0M158.1 772.1h0M164.7 767.9h0" stroke="#fe005c"/><path d="M163.6 765.0h0M159.0 774.3h0" stroke="#ff0051"/><path d="M161.0 774.4h0" stroke="#7d49cb"/><path d="M161.4 767.2h0" stroke="#f90067"/><path d="M163.9 769.0h0" stroke="#fc0062"/><path d="M159.3 779.8h0M157.2 779.2h0M153.5 776.5h0M156.2 774.8h0M153.1 774.2h0M155.4 775.7h0M159.5 777.2h0M154.9 779.7h0M151.8 778.2h0" stroke="#6c54d6"/><path d="M152.4 773.2h0M156.1 780.0h0M151.0 774.0h0" stroke="#7d49cb"/><path d="M154.9 779.8h0M157.8 777.5h0M153.2 777.5h0M155.7 775.7h0M154.1 774.7h0M156.8 778.1h0M159.0 780.9h0" stroke="#754fd1"/><path d="M158.3 780.5h0" stroke="#6359da"/><path d="M158.7 776.6h0M154.5 778.6h0M153.2 777.2h0" stroke="#8443c6"/><path d="M188.4 738.6h0M215.3 728.2h0M210.1 730.5h0" stroke="#e9007c"/><path d="M217.5 729.3h0M197.2 733.9h0" stroke="#da008a"/><path d="M207.0 734.2h0M205.5 734.2h0" stroke="#d5008f"/><path d="M190.4 737.5h0M207.5 730.7h0M196.8 735.3h0" stroke="#ee0077"/><path d="M202.2 732.6h0" stroke="#e50081"/><path d="M197.4 733.9h0" stroke="#a31daa"/><path d="M217.2 728.3h0" stroke="#ee0077"/><path d="M199.0 734.6h0M226.6 730.6h0" stroke="#e00086"/><path d="M195.2 733.2h0M208.4 731.0h0" stroke="#b30aa3"/><path d="M191.3 736.2h0" stroke="#9b23ad"/><path d="M205.8 735.1h0" stroke="#ab15a7"/><path d="M208.5 730.1h0" stroke="#d5008f"/><path d="M205.5 735.2h0M195.9 733.0h0" stroke="#e50081"/><path d="M197.5 732.7h0" stroke="#f90067"/><path d="M199.3 734.4h0" stroke="#fe005c"/><path d="M206.3 733.8h0M213.8 727.3h0" stroke="#f90067"/><path d="M213.7 727.2h0" stroke="#e9007c"/><path d="M203.5 733.4h0M217.2 729.7h0" stroke="#e00086"/><path d="M229.3 729.6h0" stroke="#9b23ad"/><path d="M192.1 737.0h0M223.0 731.1h0" stroke="#ab15a7"/><path d="M208.6 730.4h0" stroke="#da008a"/><path d="M188.1 738.5h0" stroke="#cf0093"/><path d="M222.5 728.5h0" stroke="#ff0051"/><path d="M204.1 734.9h0" stroke="#bb00a0"/><path d="M205.0 742.9h0" stroke="#f90067"/><path d="M222.0 740.3h0" stroke="#ab15a7"/><path d="M252.4 713.5h0M252.0 711.7h0M248.4 719.9h0M245.7 715.4h0M254.0 716.6h0M233.6 715.5h0" stroke="#e50081"/><path d="M239.3 719.7h0M248.3 709.0h0M230.0 717.5h0M236.1 716.3h0M251.7 719.4h0" stroke="#f90067"/><path d="M254.3 713.6h0M250.1 719.7h0M248.8 716.0h0" stroke="#ab15a7"/><path d="M242.7 717.9h0M246.8 717.5h0" stroke="#fc0062"/><path d="M234.0 722.1h0M235.4 722.5h0M235.3 721.1h0M233.3 715.6h0M233.7 714.1h0M248.8 715.5h0M235.7 713.5h0M246.1 720.2h0M236.4 717.3h0M246.7 715.3h0M243.7 721.8h0M244.0 707.2h0M233.4 720.1h0M235.6 717.4h0" stroke="#e00086"/><path d="M251.5 709.0h0M235.2 722.4h0M238.1 709.3h0M236.1 714.5h0" stroke="#d5008f"/><path d="M234.3 720.9h0M244.4 714.7h0M250.7 711.2h0M242.8 712.5h0M249.7 717.3h0M239.4 715.1h0M240.9 708.4h0M239.9 714.2h0" stroke="#da008a"/><path d="M251.5 718.9h0M236.0 721.6h0M238.3 718.0h0" stroke="#fe005c"/><path d="M246.3 718.1h0M249.6 720.9h0M246.4 717.6h0M235.8 716.2h0" stroke="#e9007c"/><path d="M251.7 709.9h0" stroke="#9b23ad"/><path d="M232.2 714.8h0M239.3 719.7h0" stroke="#ee0077"/><path d="M239.5 716.8h0M230.5 717.9h0M244.8 707.7h0" stroke="#b30aa3"/><path d="M229.6 718.8h0M237.5 717.4h0M243.7 718.9h0" stroke="#bb00a0"/><path d="M253.7 710.8h0" stroke="#c2009c"/><path d="M234.3 722.4h0" stroke="#ff0057"/><path d="M251.0 714.8h0" stroke="#ff0051"/><path d="M232.5 717.4h0" stroke="#cf0093"/><path d="M252.8 715.5h0M249.7 712.8h0M247.8 713.8h0M244.4 716.8h0M241.8 710.0h0M240.1 707.2h0" stroke="#e50081"/><path d="M251.9 718.4h0M239.1 720.3h0M232.4 717.5h0M235.1 721.7h0M230.4 720.9h0M252.2 712.3h0" stroke="#d5008f"/><path d="M230.4 716.2h0M248.5 712.5h0M249.7 713.0h0" stroke="#f90067"/><path d="M234.3 723.0h0M249.8 712.5h0M246.4 712.9h0M236.2 714.6h0M242.9 711.4h0M249.0 712.4h0M246.2 717.9h0M252.0 715.8h0" stroke="#da008a"/><path d="M244.5 719.7h0M244.2 709.2h0" stroke="#ff0051"/><path d="M241.7 713.6h0M248.9 713.2h0M241.8 718.3h0M232.0 715.2h0M245.0 714.5h0" stroke="#fe005c"/><path d="M250.3 708.8h0" stroke="#9b23ad"/><path d="M247.2 716.2h0" stroke="#c2009c"/><path d="M237.4 712.9h0M252.3 712.9h0M252.7 714.6h0M237.8 722.4h0M244.9 714.1h0M230.6 716.2h0M250.8 713.1h0M249.6 711.0h0M245.5 715.5h0M234.2 723.4h0" stroke="#e9007c"/><path d="M239.4 708.8h0" stroke="#ee0077"/><path d="M244.3 709.2h0M247.4 709.0h0M242.4 711.7h0M253.6 715.0h0M240.7 713.8h0" stroke="#e00086"/><path d="M230.4 723.2h0M247.8 714.3h0M251.8 713.4h0M230.6 720.3h0" stroke="#bb00a0"/><path d="M246.6 719.0h0M250.4 713.7h0" stroke="#b30aa3"/><path d="M239.7 721.4h0M243.8 712.3h0M239.2 715.5h0M250.0 713.3h0M240.5 707.7h0" stroke="#ff0057"/><path d="M234.3 722.5h0" stroke="#fc0062"/><path d="M233.9 714.7h0" stroke="#ab15a7"/><path d="M231.0 713.9h0M250.0 715.8h0M234.2 717.2h0M253.6 718.6h0M250.4 709.5h0M255.2 713.9h0M233.4 716.4h0M235.5 720.4h0M236.0 713.6h0" stroke="#e50081"/><path d="M231.0 719.7h0M243.6 718.9h0M239.8 713.0h0M253.5 716.6h0M247.8 713.9h0M248.5 711.4h0M246.9 709.7h0M236.8 708.6h0M241.5 713.2h0" stroke="#e9007c"/><path d="M232.2 721.6h0M250.2 720.4h0M246.8 721.3h0M236.1 720.5h0" stroke="#ab15a7"/><path d="M253.0 710.2h0" stroke="#ff0057"/><path d="M232.4 718.7h0M231.4 722.7h0" stroke="#fc0062"/><path d="M235.3 711.6h0M251.5 711.9h0M234.1 723.1h0M236.7 709.3h0M236.6 719.1h0M232.7 712.4h0M233.3 720.8h0" stroke="#d5008f"/><path d="M253.0 715.0h0M246.4 721.0h0M245.3 708.5h0M239.4 721.2h0M238.5 720.7h0" stroke="#e00086"/><path d="M250.2 711.0h0M236.4 708.8h0M239.3 708.1h0M230.7 718.9h0M248.4 712.7h0M254.4 717.1h0M232.6 720.5h0M240.0 721.0h0" stroke="#da008a"/><path d="M233.8 715.7h0M233.0 711.8h0M231.4 720.2h0" stroke="#ee0077"/><path d="M249.1 714.3h0M249.4 719.7h0" stroke="#cf0093"/><path d="M246.1 718.0h0M229.7 720.1h0" stroke="#9b23ad"/><path d="M242.6 712.3h0M234.3 709.5h0" stroke="#f90067"/><path d="M239.9 712.9h0M253.3 715.8h0" stroke="#a31daa"/><path d="M234.6 722.5h0M242.0 716.2h0" stroke="#bb00a0"/><path d="M242.7 715.3h0" stroke="#fe005c"/><path d="M251.5 715.9h0" stroke="#c2009c"/><path d="M232.2 722.8h0" stroke="#b30aa3"/><path d="M218.4 728.7h0M219.8 730.4h0M215.2 727.0h0" stroke="#d5008f"/><path d="M225.2 726.0h0M216.1 730.0h0M228.3 724.4h0M231.1 724.4h0" stroke="#e50081"/><path d="M228.6 722.9h0M230.6 721.0h0M216.0 729.5h0" stroke="#e9007c"/><path d="M222.6 729.8h0" stroke="#ee0077"/><path d="M226.9 724.6h0M227.6 724.5h0" stroke="#fc0062"/><path d="M218.8 730.1h0M222.7 727.7h0M227.3 726.5h0" stroke="#da008a"/><path d="M218.2 728.3h0M225.6 728.5h0M216.5 729.0h0" stroke="#e00086"/><path d="M230.1 724.0h0" stroke="#ff0051"/><path d="M223.2 727.6h0M227.9 724.6h0" stroke="#fe005c"/><path d="M234.0 724.9h0M229.4 731.1h0M244.2 724.7h0" stroke="#0070ed"/><path d="M226.9 738.1h0M235.3 723.3h0M239.7 724.7h0" stroke="#8443c6"/><path d="M226.6 737.3h0" stroke="#6c54d6"/><path d="M232.8 728.6h0M247.2 724.6h0M230.5 733.7h0" stroke="#3b68e7"/><path d="M252.2 725.6h0M240.0 725.0h0M247.7 722.4h0M230.5 735.9h0M229.2 726.1h0M238.5 722.7h0M238.3 725.4h0M244.5 724.1h0M246.4 726.0h0" stroke="#0084f9"/><path d="M246.6 726.0h0M229.5 735.1h0M243.8 722.0h0" stroke="#007cf5"/><path d="M227.2 727.6h0M230.0 734.9h0M240.2 723.2h0M249.2 724.0h0M229.4 727.6h0M227.5 737.3h0" stroke="#0080f7"/><path d="M225.8 737.1h0M251.3 721.8h0M235.6 729.5h0" stroke="#008bfb"/><path d="M248.2 721.7h0M230.4 727.0h0" stroke="#4b63e3"/><path d="M229.5 730.0h0M242.5 723.9h0M243.6 726.0h0M238.1 727.8h0" stroke="#754fd1"/><path d="M235.9 727.3h0M231.6 730.8h0M227.1 737.4h0M251.5 722.5h0M227.6 730.3h0M226.6 737.6h0" stroke="#0087fa"/><path d="M250.5 726.8h0" stroke="#7d49cb"/><path d="M250.4 725.4h0" stroke="#0074f0"/><path d="M235.7 729.5h0" stroke="#8b3cc0"/><path d="M242.7 722.6h0M238.0 722.8h0" stroke="#3b68e7"/><path d="M231.6 724.2h0M249.2 724.3h0M224.6 733.0h0M226.3 730.0h0M237.3 730.3h0" stroke="#0084f9"/><path d="M241.9 725.1h0M229.5 727.2h0M251.4 725.0h0M226.1 732.3h0M234.0 730.5h0M231.3 732.0h0M225.4 732.2h0" stroke="#0087fa"/><path d="M233.7 726.9h0" stroke="#4b63e3"/><path d="M250.8 726.5h0M230.7 733.4h0M225.5 738.8h0M243.7 724.3h0" stroke="#6c54d6"/><path d="M234.5 730.9h0" stroke="#8b3cc0"/><path d="M230.4 735.2h0M234.6 726.2h0" stroke="#7d49cb"/><path d="M229.3 729.7h0M246.5 722.6h0" stroke="#0080f7"/><path d="M226.1 737.2h0" stroke="#585edf"/><path d="M237.1 726.1h0M252.1 723.2h0" stroke="#236cea"/><path d="M245.9 725.5h0M248.7 723.9h0M235.8 724.9h0" stroke="#754fd1"/><path d="M250.8 725.2h0M235.9 728.8h0" stroke="#6359da"/><path d="M239.8 722.9h0" stroke="#0074f0"/><path d="M233.9 723.6h0M246.1 722.0h0M225.8 733.3h0M226.8 738.0h0M250.6 724.6h0" stroke="#007cf5"/><path d="M237.0 727.7h0M243.4 722.6h0" stroke="#8443c6"/><path d="M252.1 723.5h0" stroke="#0070ed"/><path d="M254.2 723.5h0M243.9 725.9h0M236.8 725.7h0M223.4 737.6h0" stroke="#008bfb"/><path d="M229.0 726.7h0M247.7 721.6h0M251.1 722.4h0M245.0 721.4h0M245.2 721.5h0M229.9 733.3h0M230.9 733.2h0M228.3 726.8h0M236.2 726.2h0M244.1 727.5h0" stroke="#0087fa"/><path d="M240.5 726.1h0M230.0 725.1h0M228.8 735.0h0M231.4 727.7h0M229.2 726.5h0M224.4 734.7h0M240.2 727.6h0" stroke="#0084f9"/><path d="M244.8 723.1h0" stroke="#8443c6"/><path d="M231.4 728.8h0M226.5 733.1h0M225.0 736.2h0M230.6 728.0h0M238.0 730.4h0M234.6 726.9h0M230.7 726.2h0M229.7 726.1h0" stroke="#0080f7"/><path d="M228.9 731.2h0M232.0 723.7h0M223.6 738.0h0" stroke="#3b68e7"/><path d="M233.1 724.3h0M245.1 727.7h0M241.9 727.0h0M235.7 728.5h0M244.4 722.9h0" stroke="#007cf5"/><path d="M243.2 728.1h0M229.5 736.8h0M237.3 725.4h0M229.9 726.9h0" stroke="#008bfb"/><path d="M247.9 724.8h0M232.7 732.6h0M241.8 721.9h0" stroke="#585edf"/><path d="M226.6 732.9h0M226.1 729.5h0M244.8 722.5h0" stroke="#6c54d6"/><path d="M242.1 726.8h0" stroke="#4b63e3"/><path d="M234.7 733.6h0M239.8 754.7h0" stroke="#007cf5"/><path d="M239.8 732.7h0M236.4 755.9h0M232.1 753.9h0M226.2 752.2h0" stroke="#0087fa"/><path d="M244.0 733.6h0M233.0 738.6h0M239.8 741.2h0M242.3 745.4h0M229.6 745.4h0M231.3 748.0h0M224.5 753.9h0" stroke="#0080f7"/><path d="M227.9 742.9h0M231.3 752.2h0M233.0 756.4h0" stroke="#0084f9"/><path d="M236.4 742.4h0M244.0 747.1h0M225.4 760.7h0M227.9 762.0h0M234.7 739.5h0" stroke="#008bfb"/></g>
<path d="M52.50 700.50V843.40H265.50" stroke="#3a3a3a" stroke-width="1.15" fill="none"/>
<path d="M54.40 843.40v4.5M104.48 843.40v4.5M154.56 843.40v4.5M204.64 843.40v4.5M254.72 843.40v4.5M52.50 702.30h-4.5M52.50 728.74h-4.5M52.50 755.18h-4.5M52.50 781.62h-4.5M52.50 808.06h-4.5M52.50 834.50h-4.5" stroke="#3a3a3a" stroke-width="1.1" fill="none"/>
<text x="54.4" y="857.6" font-size="8.5" text-anchor="middle" >0.4</text>
<text x="104.5" y="857.6" font-size="8.5" text-anchor="middle" >0.6</text>
<text x="154.6" y="857.6" font-size="8.5" text-anchor="middle" >0.8</text>
<text x="204.6" y="857.6" font-size="8.5" text-anchor="middle" >1.0</text>
<text x="254.7" y="857.6" font-size="8.5" text-anchor="middle" >1.2</text>
<text x="44.3" y="705.4" font-size="8.5" text-anchor="end" >0.3</text>
<text x="44.3" y="731.8" font-size="8.5" text-anchor="end" >0.2</text>
<text x="44.3" y="758.3" font-size="8.5" text-anchor="end" >0.1</text>
<text x="44.3" y="784.7" font-size="8.5" text-anchor="end" >0.0</text>
<text x="44.3" y="811.2" font-size="8.5" text-anchor="end" >−0.1</text>
<text x="44.3" y="837.6" font-size="8.5" text-anchor="end" >−0.2</text>
<text x="159.0" y="869.9" font-size="10.4" text-anchor="middle" textLength="45.5" lengthAdjust="spacing"><tspan font-style="italic">Kc</tspan>(<tspan font-style="italic">d</tspan> <tspan dy="-0.7">–</tspan><tspan dy="0.7"> 1)</tspan></text>
<text transform="translate(10.2,772.0) rotate(-90)" font-size="10.4" text-anchor="middle">SHAP value for</text>
<text transform="translate(22.0,772.0) rotate(-90)" font-size="10.4" text-anchor="middle" textLength="46.5" lengthAdjust="spacing"><tspan font-style="italic">Kc</tspan>(<tspan font-style="italic">d</tspan> <tspan dy="-0.7">–</tspan><tspan dy="0.7"> 1)</tspan></text>
<rect x="281.00" y="700.00" width="5.6" height="143.90" fill="#e9eef8"/>
<rect x="282.50" y="700.50" width="2.5" height="142.90" fill="url(#cb)"/>
<text x="295.1" y="707.6" font-size="8.5" text-anchor="start" >0.75</text>
<text x="295.1" y="727.5" font-size="8.5" text-anchor="start" >0.50</text>
<text x="295.1" y="747.5" font-size="8.5" text-anchor="start" >0.25</text>
<text x="295.1" y="767.5" font-size="8.5" text-anchor="start" >0.00</text>
<text x="295.1" y="787.4" font-size="8.5" text-anchor="start" >−0.25</text>
<text x="295.1" y="807.4" font-size="8.5" text-anchor="start" >−0.50</text>
<text x="295.1" y="827.3" font-size="8.5" text-anchor="start" >−0.75</text>
<path d="M287.30 704.49h4.5M287.30 724.45h4.5M287.30 744.41h4.5M287.30 764.37h4.5M287.30 784.32h4.5M287.30 804.28h4.5M287.30 824.24h4.5" stroke="#3a3a3a" stroke-width="1.1" fill="none"/>
<text transform="translate(327.6,772.0) rotate(-90)" font-size="10.4" text-anchor="middle" font-style="italic">Sin</text>
<rect x="407.10" y="699.20" width="214.70" height="143.80" fill="#eaeaf2"/>
<path d="M409.20 699.20V843.00M459.76 699.20V843.00M510.32 699.20V843.00M560.88 699.20V843.00M611.44 699.20V843.00M407.10 711.20H621.80M407.10 732.90H621.80M407.10 754.60H621.80M407.10 776.30H621.80M407.10 798.00H621.80M407.10 819.70H621.80M407.10 841.40H621.80" stroke="#fff" stroke-width="0.9" fill="none"/>
<g stroke-width="3.1" stroke-linecap="round" fill="none"><path d="M416.6 811.5h0" stroke="#fc0062"/><path d="M418.2 818.7h0M423.9 810.7h0" stroke="#fe005c"/><path d="M423.1 815.5h0" stroke="#f90067"/><path d="M424.7 819.5h0" stroke="#ff0051"/><path d="M426.3 813.9h0M431.1 821.9h0" stroke="#ff0057"/><path d="M443.9 826.6h0M449.4 836.3h0" stroke="#6359da"/><path d="M438.0 828.4h0M445.1 835.0h0M437.3 831.5h0M440.1 826.1h0M451.6 826.1h0M449.6 826.0h0M445.4 827.0h0M453.4 825.5h0" stroke="#0084f9"/><path d="M444.2 836.4h0M435.7 828.7h0" stroke="#007cf5"/><path d="M440.1 826.1h0M451.6 826.9h0" stroke="#0080f7"/><path d="M435.1 827.8h0M438.4 830.0h0M446.8 832.5h0M452.1 834.1h0M452.6 831.4h0M438.8 828.2h0M437.9 831.9h0" stroke="#0087fa"/><path d="M439.6 831.9h0M445.8 829.5h0" stroke="#236cea"/><path d="M444.8 828.0h0" stroke="#585edf"/><path d="M441.7 834.0h0" stroke="#0074f0"/><path d="M451.4 836.3h0" stroke="#3b68e7"/><path d="M436.6 826.4h0" stroke="#4b63e3"/><path d="M436.5 826.4h0M449.7 830.0h0" stroke="#0070ed"/><path d="M438.5 829.7h0M441.2 832.1h0" stroke="#7d49cb"/><path d="M439.3 832.8h0" stroke="#008bfb"/><path d="M441.1 826.1h0M441.2 835.4h0" stroke="#6c54d6"/><path d="M440.6 835.1h0" stroke="#754fd1"/><path d="M442.3 826.7h0" stroke="#8b3cc0"/><path d="M445.5 835.2h0M450.7 835.1h0M446.5 833.2h0M450.7 832.8h0M436.3 826.9h0M448.1 829.6h0M445.5 833.6h0" stroke="#0087fa"/><path d="M444.4 826.8h0M452.5 830.8h0" stroke="#008bfb"/><path d="M445.0 827.2h0" stroke="#754fd1"/><path d="M434.3 827.4h0M453.0 829.5h0M445.3 834.9h0M450.9 835.1h0M436.6 827.4h0M442.9 834.0h0M452.4 832.6h0" stroke="#0080f7"/><path d="M438.4 828.2h0M440.7 827.3h0" stroke="#0084f9"/><path d="M443.7 833.2h0M452.1 827.1h0M448.5 836.7h0M443.7 828.1h0M443.0 830.9h0" stroke="#6c54d6"/><path d="M450.5 832.8h0" stroke="#007cf5"/><path d="M435.7 831.0h0" stroke="#4b63e3"/><path d="M445.2 830.9h0M449.0 835.3h0" stroke="#236cea"/><path d="M444.6 832.4h0M448.0 836.2h0" stroke="#8443c6"/><path d="M439.0 826.3h0" stroke="#0074f0"/><path d="M441.3 833.8h0" stroke="#585edf"/><path d="M446.4 828.3h0M439.5 833.5h0M444.1 829.0h0" stroke="#0070ed"/><path d="M437.7 834.7h0" stroke="#7d49cb"/><path d="M437.8 831.3h0M439.1 827.9h0" stroke="#008bfb"/><path d="M450.6 828.0h0M435.6 829.3h0M446.2 830.5h0M449.7 832.5h0M441.6 831.1h0M450.5 828.1h0M443.6 832.9h0" stroke="#0084f9"/><path d="M446.7 829.7h0M441.7 832.9h0M447.2 832.7h0M443.3 831.6h0M438.3 827.4h0" stroke="#0087fa"/><path d="M437.7 829.8h0M437.2 829.3h0" stroke="#6359da"/><path d="M452.2 825.2h0M443.2 828.2h0M443.0 829.0h0" stroke="#754fd1"/><path d="M443.5 827.1h0M448.4 836.6h0" stroke="#0070ed"/><path d="M435.9 826.7h0M439.2 826.4h0M450.6 826.8h0M442.8 831.7h0M446.6 830.8h0M445.4 836.3h0" stroke="#0080f7"/><path d="M443.2 831.9h0" stroke="#8443c6"/><path d="M451.1 829.4h0M450.1 833.3h0M452.7 836.0h0" stroke="#007cf5"/><path d="M448.0 830.7h0" stroke="#6c54d6"/><path d="M447.7 829.4h0" stroke="#7d49cb"/><path d="M445.8 827.7h0M451.2 829.9h0" stroke="#4b63e3"/><path d="M435.3 830.2h0" stroke="#3b68e7"/><path d="M432.7 804.2h0M431.8 808.1h0M432.0 803.7h0M448.4 806.8h0M434.1 808.2h0M446.4 811.6h0M446.6 806.6h0M436.1 807.4h0M442.0 806.7h0M437.1 802.9h0" stroke="#0080f7"/><path d="M448.4 809.4h0M438.6 811.3h0M450.3 809.8h0M446.1 810.5h0M439.0 803.4h0M447.0 811.5h0M443.3 804.8h0M443.2 809.4h0" stroke="#0084f9"/><path d="M432.4 804.5h0M447.5 806.2h0M442.3 809.4h0" stroke="#007cf5"/><path d="M444.7 802.7h0M444.6 810.1h0M452.6 811.2h0M449.0 806.0h0M430.9 806.3h0M443.3 806.8h0M441.1 810.5h0M437.5 808.3h0" stroke="#008bfb"/><path d="M443.4 810.2h0M431.8 805.5h0M438.2 808.1h0M450.9 806.7h0M439.6 803.3h0M444.5 805.8h0M443.5 811.1h0" stroke="#0087fa"/><path d="M445.2 803.5h0M432.4 808.1h0M441.9 811.7h0M440.9 807.7h0M445.7 809.3h0M447.8 803.4h0M445.8 804.5h0M447.8 809.2h0" stroke="#0084f9"/><path d="M442.1 802.7h0M444.1 807.4h0M448.8 804.8h0M440.9 807.2h0M434.9 803.8h0M434.4 805.1h0M439.8 802.3h0M439.5 803.9h0M439.4 806.0h0M447.5 810.5h0M437.9 805.6h0M438.3 806.8h0" stroke="#0080f7"/><path d="M439.1 805.0h0M441.0 808.6h0M445.7 809.1h0M442.9 807.6h0M442.4 802.6h0M451.0 806.8h0M431.9 806.5h0M431.7 804.9h0M438.7 801.9h0M444.9 808.0h0" stroke="#0087fa"/><path d="M430.3 803.6h0M450.7 805.7h0" stroke="#007cf5"/><path d="M432.9 803.3h0M447.2 812.0h0M450.1 811.6h0M434.6 807.3h0" stroke="#008bfb"/><path d="M442.9 803.6h0M444.5 807.2h0M431.8 805.3h0M441.4 804.4h0M439.1 810.3h0M437.0 804.0h0M443.2 803.5h0M432.7 806.3h0" stroke="#007cf5"/><path d="M446.7 807.4h0M445.1 802.6h0M436.4 809.3h0M438.2 808.8h0M441.7 809.6h0M437.0 807.5h0M435.2 806.7h0M432.9 808.5h0M433.5 805.0h0M451.0 806.2h0" stroke="#0084f9"/><path d="M442.4 808.3h0M441.9 810.3h0M447.2 811.9h0M433.1 807.6h0M432.3 802.2h0M441.2 802.1h0M451.2 809.7h0M445.8 805.1h0M441.9 808.5h0M441.7 809.5h0" stroke="#0087fa"/><path d="M451.0 807.7h0M437.2 809.4h0M440.7 804.7h0M450.5 811.4h0M451.6 810.5h0M445.5 805.0h0" stroke="#0080f7"/><path d="M437.9 809.9h0M450.0 809.0h0" stroke="#008bfb"/><path d="M442.1 822.6h0M433.0 812.0h0M437.3 811.0h0M439.6 816.3h0" stroke="#da008a"/><path d="M440.3 813.8h0M438.0 822.0h0M438.1 820.9h0M444.2 824.0h0M429.3 819.0h0M437.7 815.6h0M447.8 816.9h0M432.6 817.7h0M447.0 815.4h0M440.7 813.9h0" stroke="#f90067"/><path d="M437.3 818.4h0M449.2 816.5h0M445.4 818.9h0M433.0 821.8h0" stroke="#e9007c"/><path d="M442.8 821.4h0M448.4 824.5h0M448.9 824.5h0M436.6 821.8h0M436.9 815.6h0" stroke="#fc0062"/><path d="M449.7 816.6h0M445.9 815.3h0M432.4 816.6h0" stroke="#bb00a0"/><path d="M451.3 816.0h0M442.2 821.9h0M433.1 820.9h0M435.1 811.3h0M446.9 816.9h0M444.3 822.3h0M432.7 821.4h0M449.4 814.1h0M445.9 813.0h0M441.5 818.3h0" stroke="#fe005c"/><path d="M433.6 814.4h0M443.8 820.4h0M449.5 814.7h0M452.9 823.0h0" stroke="#ff0057"/><path d="M443.1 812.7h0M438.4 820.7h0M443.4 813.2h0M449.6 819.8h0M428.8 817.6h0" stroke="#e50081"/><path d="M445.4 818.9h0" stroke="#e00086"/><path d="M446.0 818.5h0M451.9 819.8h0M440.7 820.9h0" stroke="#d5008f"/><path d="M437.3 818.8h0M433.0 817.2h0M442.7 822.3h0" stroke="#f5006c"/><path d="M448.9 813.5h0M434.2 821.0h0M435.5 814.7h0" stroke="#ff0051"/><path d="M447.9 824.2h0" stroke="#c2009c"/><path d="M429.6 811.6h0" stroke="#ee0077"/><path d="M437.7 821.6h0M435.0 818.9h0" stroke="#a31daa"/><path d="M430.6 820.8h0" stroke="#b30aa3"/><path d="M435.0 820.2h0M437.1 814.5h0M431.3 813.7h0M438.7 817.3h0M434.5 814.8h0M442.4 818.7h0M443.2 822.1h0M437.4 811.3h0M443.1 820.1h0M430.8 820.6h0" stroke="#fc0062"/><path d="M442.1 817.1h0M445.4 815.8h0M439.2 819.5h0M429.0 815.6h0M447.4 814.7h0M448.0 817.4h0" stroke="#f90067"/><path d="M436.7 819.5h0M450.9 820.6h0M443.5 814.6h0M441.5 822.1h0" stroke="#a31daa"/><path d="M451.5 823.2h0M451.1 821.2h0M451.0 823.0h0M434.1 812.7h0" stroke="#f5006c"/><path d="M445.1 816.7h0M453.0 823.6h0M446.1 812.1h0M453.0 823.3h0M445.3 817.8h0M445.7 816.6h0M437.4 815.4h0M433.6 813.6h0M445.1 814.7h0M446.1 823.9h0M442.8 818.3h0" stroke="#fe005c"/><path d="M438.1 820.5h0M446.1 818.4h0M435.4 821.3h0M452.1 823.8h0M442.8 813.2h0M442.4 818.2h0" stroke="#ff0057"/><path d="M444.8 820.7h0M448.0 818.9h0M448.5 820.9h0M449.6 813.7h0M435.5 815.5h0M446.8 817.0h0" stroke="#ff0051"/><path d="M448.5 823.0h0M443.5 813.1h0M451.0 816.5h0" stroke="#d5008f"/><path d="M430.1 813.2h0M432.4 812.9h0M439.6 812.9h0" stroke="#bb00a0"/><path d="M441.6 816.7h0M441.3 823.3h0" stroke="#da008a"/><path d="M442.3 813.8h0M438.6 818.1h0" stroke="#e50081"/><path d="M430.5 819.2h0M437.7 813.4h0" stroke="#e00086"/><path d="M450.3 816.1h0" stroke="#ee0077"/><path d="M439.2 811.1h0M436.2 812.8h0M442.3 812.0h0M431.4 812.4h0M430.2 820.4h0M433.4 817.0h0M435.6 813.2h0" stroke="#fc0062"/><path d="M446.2 820.6h0M443.5 815.4h0M451.9 821.2h0M444.7 822.0h0M449.9 818.5h0M450.0 824.4h0M448.8 819.2h0M450.9 820.7h0" stroke="#fe005c"/><path d="M429.2 815.6h0M451.8 817.8h0M432.7 813.8h0M452.1 821.1h0M451.9 820.7h0M440.9 818.5h0M436.8 812.7h0M451.0 820.6h0M430.2 818.5h0" stroke="#f90067"/><path d="M448.8 822.9h0M448.9 821.9h0M436.0 818.9h0M447.0 823.0h0" stroke="#e00086"/><path d="M442.9 812.6h0M443.2 811.9h0M451.1 822.6h0M445.9 821.7h0M440.0 815.3h0M429.2 818.8h0M428.4 812.2h0M433.1 817.0h0M429.5 816.4h0" stroke="#ff0057"/><path d="M431.9 819.5h0M439.0 815.9h0M451.1 816.2h0M446.2 812.5h0M430.6 816.0h0M453.2 817.8h0" stroke="#d5008f"/><path d="M444.9 820.8h0M440.9 814.9h0" stroke="#b30aa3"/><path d="M447.6 817.5h0M451.2 814.0h0" stroke="#9b23ad"/><path d="M446.0 821.6h0" stroke="#e50081"/><path d="M453.2 822.6h0M436.9 816.4h0" stroke="#f5006c"/><path d="M450.9 816.2h0M452.6 817.0h0" stroke="#ff0051"/><path d="M433.3 818.9h0M448.7 819.4h0" stroke="#e9007c"/><path d="M429.4 815.5h0" stroke="#c2009c"/><path d="M437.6 813.8h0" stroke="#da008a"/><path d="M436.6 815.4h0M450.5 815.2h0" stroke="#a31daa"/><path d="M449.3 815.2h0" stroke="#ab15a7"/><path d="M454.6 823.8h0M457.9 823.4h0M456.3 818.3h0" stroke="#3b68e7"/><path d="M453.5 822.2h0M452.4 815.6h0M456.3 821.9h0M456.8 817.2h0" stroke="#0080f7"/><path d="M457.6 817.1h0M454.3 820.9h0" stroke="#0070ed"/><path d="M454.8 820.0h0M457.4 819.6h0" stroke="#0084f9"/><path d="M456.4 820.0h0M452.2 815.4h0M455.0 825.0h0M457.2 821.1h0M455.8 824.2h0" stroke="#8443c6"/><path d="M454.0 814.4h0M459.6 819.2h0" stroke="#6c54d6"/><path d="M457.3 819.0h0" stroke="#0087fa"/><path d="M455.9 823.8h0M456.0 815.7h0" stroke="#7d49cb"/><path d="M454.1 822.4h0M457.5 819.4h0" stroke="#0074f0"/><path d="M456.8 821.5h0M452.8 817.7h0" stroke="#754fd1"/><path d="M456.0 818.7h0" stroke="#585edf"/><path d="M456.2 822.7h0" stroke="#236cea"/><path d="M454.1 814.9h0M455.8 816.9h0" stroke="#6359da"/><path d="M455.7 821.6h0" stroke="#4b63e3"/><path d="M453.0 799.3h0M455.2 806.6h0M455.4 792.4h0M463.9 770.1h0M463.8 793.5h0M475.1 761.8h0M456.6 793.0h0M468.5 775.0h0M452.1 792.2h0M473.4 768.8h0M463.9 774.8h0M468.5 775.4h0M452.8 793.5h0M464.0 781.7h0M454.1 801.4h0M455.0 809.5h0M464.6 788.8h0M469.0 765.6h0M464.9 768.6h0M466.7 772.4h0M455.0 794.0h0" stroke="#0084f9"/><path d="M452.9 793.3h0M458.7 781.9h0M455.7 799.5h0M458.0 789.0h0M456.7 790.7h0M453.3 792.4h0M468.3 769.5h0M466.3 784.1h0M465.7 778.4h0M455.8 798.2h0M463.4 780.5h0M453.1 809.9h0M457.1 805.1h0M462.0 779.9h0M469.8 762.0h0M455.4 801.1h0M458.2 797.1h0M454.6 810.5h0M463.0 796.4h0M469.7 769.8h0M457.0 805.2h0M454.5 789.8h0M462.4 798.4h0M468.4 768.5h0M461.0 799.0h0" stroke="#0080f7"/><path d="M463.9 792.3h0M456.1 795.2h0M467.1 770.9h0M465.4 774.3h0M452.0 798.0h0M461.8 792.8h0M452.1 809.2h0M461.0 801.8h0M452.6 807.3h0M470.0 774.1h0M451.3 810.4h0M459.6 783.9h0M476.0 765.5h0M455.2 792.7h0M454.4 811.2h0M456.8 806.6h0M463.0 786.3h0M454.0 798.3h0M457.4 801.5h0M451.6 800.2h0M465.7 782.2h0M455.7 791.0h0M464.6 791.7h0M476.2 768.5h0M461.2 799.3h0M460.5 780.4h0M452.8 803.0h0" stroke="#0087fa"/><path d="M472.8 761.1h0M469.0 768.0h0M465.4 776.0h0M459.1 796.5h0" stroke="#7d49cb"/><path d="M466.2 766.5h0M464.0 774.4h0M453.7 795.9h0M476.8 765.8h0M470.7 764.2h0" stroke="#6c54d6"/><path d="M469.3 777.6h0M470.5 765.2h0M454.0 804.2h0M468.8 778.1h0M468.1 766.7h0M463.1 778.1h0M465.0 791.7h0M471.8 767.2h0M452.8 807.5h0" stroke="#008bfb"/><path d="M463.3 791.9h0M473.3 761.0h0M461.4 790.9h0M462.3 778.7h0" stroke="#8443c6"/><path d="M461.4 778.0h0M467.6 768.0h0M453.5 807.0h0M465.5 785.9h0" stroke="#754fd1"/><path d="M454.3 811.1h0M472.1 764.6h0M459.9 790.6h0M467.0 783.6h0M450.6 796.5h0M457.4 789.0h0" stroke="#007cf5"/><path d="M463.9 770.5h0M465.0 783.9h0" stroke="#6359da"/><path d="M466.4 775.5h0M472.1 767.4h0M464.7 772.0h0M460.8 792.1h0M474.3 764.1h0M459.9 800.3h0M472.7 764.7h0M470.3 766.1h0M455.8 804.8h0M464.7 781.3h0M458.7 785.3h0M460.9 784.4h0M457.8 787.3h0M475.3 769.4h0M459.0 792.1h0M470.0 762.0h0M465.9 785.7h0M461.0 794.0h0M461.7 786.0h0M459.2 804.6h0M452.4 793.6h0M469.9 769.8h0M458.5 788.1h0M458.9 802.9h0M462.0 782.9h0M454.8 812.8h0M463.9 788.5h0M469.7 763.0h0M452.9 802.6h0" stroke="#0084f9"/><path d="M470.1 770.7h0M475.8 763.0h0M463.3 792.5h0M454.7 789.8h0M467.1 781.6h0M467.2 773.7h0M461.4 791.5h0M457.8 795.4h0M465.5 776.5h0M457.5 801.3h0M461.2 787.7h0M452.4 806.5h0M465.3 768.5h0M462.4 777.6h0M454.1 791.6h0M454.9 810.4h0M451.3 798.3h0M458.4 803.3h0M474.1 772.0h0" stroke="#0080f7"/><path d="M456.4 794.2h0M469.1 763.0h0M464.3 785.6h0M462.1 782.7h0M456.9 807.6h0M472.8 766.6h0M466.9 771.2h0M459.7 797.8h0M474.3 764.1h0M470.7 763.6h0M472.7 769.9h0M456.6 792.7h0M464.1 773.7h0M459.9 788.3h0M462.3 790.3h0M453.1 800.6h0M472.8 772.1h0M470.6 774.7h0M460.9 790.4h0M470.9 775.8h0" stroke="#0087fa"/><path d="M459.7 801.5h0M455.9 811.9h0M470.4 777.4h0M453.5 806.4h0M473.7 763.5h0M455.6 802.2h0M464.7 784.6h0M459.8 796.8h0M462.7 778.7h0M465.7 788.8h0M451.6 799.6h0M467.8 768.1h0M465.0 769.5h0" stroke="#008bfb"/><path d="M459.3 801.9h0M461.9 798.0h0" stroke="#7d49cb"/><path d="M469.9 761.9h0M456.4 788.3h0M472.2 771.7h0M457.4 807.2h0M457.3 795.9h0" stroke="#6c54d6"/><path d="M469.3 761.8h0M468.0 773.2h0M462.5 785.9h0" stroke="#8443c6"/><path d="M453.8 808.3h0M473.7 761.9h0M460.2 779.9h0M453.5 809.9h0M467.3 769.2h0M459.9 791.1h0M455.0 791.6h0M473.4 767.7h0M457.4 787.4h0" stroke="#007cf5"/><path d="M475.3 764.6h0M468.1 764.3h0M464.2 782.7h0M452.7 798.2h0" stroke="#6359da"/><path d="M461.1 791.6h0M454.3 793.4h0M476.5 763.8h0" stroke="#754fd1"/><path d="M460.8 798.1h0M459.7 793.5h0M473.5 767.1h0M470.9 765.0h0M453.7 793.4h0M463.6 783.0h0M464.0 778.4h0M473.4 765.4h0M457.5 789.9h0M463.6 786.2h0M465.7 770.4h0M457.8 799.8h0M466.8 777.7h0M456.2 793.1h0M460.7 795.9h0M467.5 777.4h0M469.5 762.6h0M464.0 769.9h0" stroke="#0080f7"/><path d="M468.7 775.5h0M456.9 790.4h0M467.0 768.0h0M471.0 763.2h0M459.5 796.2h0M454.9 801.2h0M464.9 785.2h0M458.5 802.5h0M451.6 805.6h0M468.2 780.6h0M465.4 769.3h0M463.2 795.5h0M463.9 783.3h0M475.1 766.4h0M467.2 766.5h0M454.4 808.5h0M465.4 772.6h0M461.0 795.0h0M462.3 796.2h0M461.9 793.6h0M472.4 772.6h0M459.1 800.3h0" stroke="#0084f9"/><path d="M454.0 790.2h0M462.9 789.6h0M459.4 783.5h0M466.9 765.1h0M468.0 772.7h0M454.0 796.0h0M450.6 793.3h0M454.7 808.1h0M455.8 799.2h0M471.0 763.5h0M465.0 775.7h0M464.5 788.8h0M466.1 781.9h0M473.1 768.7h0M459.1 805.6h0M459.5 786.3h0M469.7 770.3h0M460.4 794.4h0M457.9 805.7h0M464.6 768.6h0M452.1 793.4h0M462.9 779.0h0M465.8 768.3h0M456.2 801.0h0M461.0 791.2h0" stroke="#0087fa"/><path d="M467.6 773.4h0M457.8 800.5h0M468.5 780.6h0M462.8 778.0h0M457.2 802.8h0M452.9 803.5h0M457.3 792.4h0M459.1 790.6h0M456.3 808.3h0M468.4 768.2h0M474.7 769.4h0M467.6 779.2h0M451.3 802.2h0" stroke="#008bfb"/><path d="M468.4 773.6h0M453.5 804.8h0M452.0 799.0h0" stroke="#8443c6"/><path d="M456.8 791.3h0M464.3 785.3h0M462.1 795.0h0M466.1 768.3h0M458.6 794.3h0M457.8 784.4h0M466.7 782.9h0M467.5 778.4h0M456.9 794.3h0M459.6 801.4h0M462.7 780.1h0" stroke="#007cf5"/><path d="M461.5 777.3h0M461.4 791.1h0M468.8 772.4h0M462.0 788.4h0" stroke="#6c54d6"/><path d="M472.7 762.2h0M462.0 787.7h0M456.9 806.4h0M453.0 799.9h0M453.7 800.4h0" stroke="#754fd1"/><path d="M451.4 803.5h0" stroke="#6359da"/><path d="M469.1 775.1h0M467.8 770.7h0M464.6 784.9h0M458.8 804.2h0M450.9 792.6h0" stroke="#7d49cb"/><path d="M488.3 780.8h0M480.2 774.1h0M491.0 770.9h0M478.5 777.4h0" stroke="#fc0062"/><path d="M486.1 774.3h0M481.0 770.5h0M485.9 777.1h0M489.5 770.5h0M469.6 777.8h0M487.7 784.7h0M477.0 777.0h0" stroke="#0080f7"/><path d="M492.5 777.0h0M474.6 778.8h0M487.3 776.2h0M473.6 773.9h0M487.7 780.6h0M476.0 771.7h0M485.9 772.2h0M478.0 771.3h0M494.5 771.4h0" stroke="#da008a"/><path d="M495.5 776.1h0M492.5 771.7h0M488.8 780.4h0" stroke="#e00086"/><path d="M495.3 773.2h0M478.7 770.5h0M472.4 778.7h0M476.6 771.0h0M498.7 774.3h0M478.4 782.4h0M490.8 770.9h0M486.7 770.1h0" stroke="#ff0057"/><path d="M477.7 774.0h0M484.9 782.9h0M488.7 772.5h0M483.6 771.8h0M480.5 774.7h0M489.2 775.0h0" stroke="#d5008f"/><path d="M494.9 771.8h0M472.3 772.5h0M474.5 781.7h0M485.1 784.9h0" stroke="#e9007c"/><path d="M469.9 777.0h0M480.8 776.9h0" stroke="#bb00a0"/><path d="M494.1 774.2h0M479.6 783.4h0M473.8 771.9h0M473.3 781.9h0" stroke="#fe005c"/><path d="M491.7 772.3h0M483.6 770.4h0M490.8 780.7h0M480.3 784.1h0" stroke="#f90067"/><path d="M480.3 778.0h0M471.8 774.3h0" stroke="#0087fa"/><path d="M490.8 774.5h0M486.8 777.2h0M485.2 776.8h0M485.2 777.3h0M471.5 776.8h0M483.3 772.8h0M492.9 778.9h0" stroke="#e50081"/><path d="M471.1 777.2h0M481.3 784.7h0" stroke="#ab15a7"/><path d="M475.5 775.1h0" stroke="#ee0077"/><path d="M486.5 779.8h0M484.9 782.1h0" stroke="#0084f9"/><path d="M494.4 777.2h0M472.2 779.0h0M482.7 781.6h0" stroke="#cf0093"/><path d="M480.2 775.9h0" stroke="#9b23ad"/><path d="M479.9 777.8h0" stroke="#9b23ad"/><path d="M480.5 783.2h0M484.0 770.5h0M487.4 779.3h0M483.8 771.6h0" stroke="#ff0057"/><path d="M479.1 777.9h0M492.3 779.3h0M474.7 780.0h0M474.0 779.1h0M480.6 781.9h0M486.5 773.3h0M484.7 777.0h0M486.3 783.7h0" stroke="#e50081"/><path d="M495.5 772.3h0M488.0 778.5h0M485.9 774.1h0M492.2 780.7h0M491.2 774.3h0" stroke="#e00086"/><path d="M477.3 779.9h0M475.1 781.3h0M488.1 777.7h0" stroke="#ff0051"/><path d="M475.6 781.2h0M485.1 775.1h0M485.8 775.0h0" stroke="#0084f9"/><path d="M485.1 776.1h0M480.9 782.8h0" stroke="#b30aa3"/><path d="M476.5 782.0h0M497.5 772.8h0M479.0 778.6h0M475.5 783.2h0M488.3 774.6h0M475.0 773.6h0" stroke="#fe005c"/><path d="M491.0 777.2h0M469.4 776.5h0M470.9 778.1h0" stroke="#f90067"/><path d="M487.5 784.6h0M474.7 782.2h0M479.1 785.0h0M488.0 771.4h0M482.7 779.4h0M488.9 771.9h0" stroke="#da008a"/><path d="M475.5 779.4h0M474.9 781.7h0M472.0 774.7h0M495.2 780.1h0" stroke="#fc0062"/><path d="M473.6 775.9h0M482.7 776.0h0M486.4 776.8h0M469.0 778.1h0M484.4 774.8h0M479.4 779.5h0" stroke="#d5008f"/><path d="M484.5 782.8h0M491.7 770.6h0" stroke="#0080f7"/><path d="M472.9 776.8h0M486.5 774.4h0M484.9 783.8h0M490.5 782.2h0M471.9 782.8h0" stroke="#a31daa"/><path d="M473.5 771.6h0M495.5 779.1h0" stroke="#0087fa"/><path d="M485.3 772.0h0M474.7 777.2h0M478.5 778.8h0" stroke="#cf0093"/><path d="M471.9 773.0h0M477.0 780.4h0M496.4 776.3h0" stroke="#e9007c"/><path d="M492.5 776.6h0" stroke="#008bfb"/><path d="M477.4 778.1h0" stroke="#ab15a7"/><path d="M488.4 776.5h0" stroke="#c2009c"/><path d="M474.9 778.6h0M472.5 778.3h0M478.5 775.3h0M490.9 771.2h0M471.7 778.6h0M482.5 784.4h0M471.7 780.4h0" stroke="#d5008f"/><path d="M470.9 783.4h0M480.0 779.3h0M482.2 773.1h0M480.2 773.4h0M491.4 779.3h0M489.8 781.0h0M489.8 778.1h0" stroke="#fc0062"/><path d="M475.3 784.2h0M470.9 779.0h0" stroke="#0080f7"/><path d="M480.6 777.9h0M488.2 773.9h0M486.2 783.5h0" stroke="#0084f9"/><path d="M497.0 775.2h0M486.2 773.2h0M472.2 776.2h0M472.8 776.8h0M487.6 778.3h0M484.6 777.7h0M488.4 776.1h0M487.4 775.7h0M492.6 777.9h0" stroke="#e9007c"/><path d="M492.0 779.1h0M488.5 778.7h0M472.7 775.7h0M491.0 771.3h0M486.0 776.6h0" stroke="#cf0093"/><path d="M483.1 770.2h0" stroke="#ff0051"/><path d="M495.5 778.9h0M496.1 773.5h0M485.8 775.7h0" stroke="#ff0057"/><path d="M495.4 771.8h0M494.4 773.4h0M494.0 776.3h0" stroke="#da008a"/><path d="M469.2 776.0h0M476.6 780.7h0" stroke="#ab15a7"/><path d="M471.4 781.1h0M488.6 770.8h0M484.5 780.1h0" stroke="#b30aa3"/><path d="M479.4 774.5h0M489.8 771.0h0M491.0 779.9h0M480.5 785.1h0M496.3 777.8h0" stroke="#bb00a0"/><path d="M479.7 782.4h0M476.1 782.9h0M484.3 784.4h0" stroke="#e50081"/><path d="M478.1 774.9h0M480.1 780.7h0M480.6 779.5h0M480.9 778.1h0M472.2 776.9h0" stroke="#0087fa"/><path d="M483.8 776.9h0M478.4 773.8h0M493.8 770.6h0" stroke="#f5006c"/><path d="M495.9 774.6h0M487.6 780.7h0" stroke="#ee0077"/><path d="M482.3 777.4h0M486.0 770.9h0M485.0 771.0h0" stroke="#fe005c"/><path d="M490.0 774.2h0" stroke="#007cf5"/><path d="M478.3 784.2h0M496.3 772.2h0" stroke="#f90067"/><path d="M460.7 805.3h0M461.9 804.5h0M467.3 788.5h0" stroke="#ff0057"/><path d="M466.3 793.6h0M463.8 800.7h0" stroke="#fe005c"/><path d="M464.2 798.7h0" stroke="#ab15a7"/><path d="M465.0 797.6h0" stroke="#fc0062"/><path d="M470.4 781.2h0M461.1 807.5h0" stroke="#e9007c"/><path d="M467.4 791.3h0" stroke="#b30aa3"/><path d="M466.4 793.3h0" stroke="#f90067"/><path d="M468.4 782.8h0M466.9 790.5h0" stroke="#f5006c"/><path d="M471.6 780.7h0" stroke="#da008a"/><path d="M468.2 783.2h0M464.5 798.9h0M469.2 782.3h0" stroke="#fc0062"/><path d="M459.4 809.6h0" stroke="#a31daa"/><path d="M469.9 784.9h0" stroke="#b30aa3"/><path d="M470.4 778.0h0" stroke="#8443c6"/><path d="M465.4 792.3h0" stroke="#f90067"/><path d="M468.0 782.9h0" stroke="#fe005c"/><path d="M472.1 775.8h0" stroke="#f90067"/><path d="M464.4 798.7h0" stroke="#e9007c"/><path d="M463.5 801.1h0M466.3 790.0h0" stroke="#e50081"/><path d="M468.5 782.0h0M469.3 783.0h0M462.5 802.5h0" stroke="#ff0057"/><path d="M460.9 805.3h0" stroke="#b30aa3"/><path d="M459.6 806.9h0" stroke="#fe005c"/><path d="M462.8 801.7h0" stroke="#9b23ad"/><path d="M453.7 808.8h0M456.7 809.9h0" stroke="#da008a"/><path d="M456.8 809.7h0M456.2 809.5h0M455.7 803.5h0M458.3 809.6h0" stroke="#b30aa3"/><path d="M455.2 810.0h0M458.2 806.6h0M458.6 800.8h0M454.8 805.4h0" stroke="#bb00a0"/><path d="M455.4 811.2h0M457.2 802.0h0M454.9 809.2h0" stroke="#ff0057"/><path d="M458.3 806.2h0M453.9 807.8h0" stroke="#e00086"/><path d="M459.7 801.6h0M454.8 801.1h0M460.4 807.2h0M459.7 803.2h0" stroke="#fe005c"/><path d="M456.9 809.3h0M453.7 807.0h0" stroke="#fc0062"/><path d="M459.0 807.9h0M457.0 809.2h0" stroke="#a31daa"/><path d="M459.5 803.4h0M456.9 804.0h0M454.0 806.6h0" stroke="#d5008f"/><path d="M457.3 806.3h0" stroke="#e9007c"/><path d="M454.0 807.1h0" stroke="#f90067"/><path d="M458.4 808.0h0" stroke="#ab15a7"/><path d="M494.4 758.0h0" stroke="#9b23ad"/><path d="M516.3 750.3h0M514.2 753.1h0" stroke="#754fd1"/><path d="M497.8 757.7h0M508.4 754.9h0" stroke="#8b3cc0"/><path d="M505.2 755.3h0M508.0 754.7h0M514.8 751.4h0M505.2 755.2h0" stroke="#bb00a0"/><path d="M484.5 762.3h0" stroke="#7d49cb"/><path d="M501.0 755.4h0M507.8 753.5h0" stroke="#6359da"/><path d="M508.8 753.9h0M493.6 759.7h0" stroke="#a31daa"/><path d="M485.5 761.6h0M515.0 751.2h0M489.1 763.1h0" stroke="#b30aa3"/><path d="M497.9 759.3h0M514.4 752.4h0" stroke="#6c54d6"/><path d="M510.7 753.0h0M498.4 758.2h0M495.8 758.5h0" stroke="#8443c6"/><path d="M512.1 752.8h0" stroke="#ab15a7"/><path d="M491.9 761.8h0" stroke="#c2009c"/><path d="M484.1 760.9h0" stroke="#fe005c"/><path d="M485.7 756.1h0M508.2 764.1h0" stroke="#fc0062"/><path d="M487.3 759.3h0M512.2 760.1h0" stroke="#ff0057"/><path d="M509.8 759.3h0M515.4 748.0h0" stroke="#f5006c"/><path d="M516.2 774.5h0" stroke="#0087fa"/><path d="M536.2 742.1h0M524.7 750.9h0M531.1 750.1h0M538.6 744.7h0M532.2 745.3h0M543.5 734.3h0M535.0 747.4h0M545.7 735.7h0M537.4 738.5h0M539.9 735.2h0M522.0 746.5h0M528.5 751.0h0M529.3 742.1h0M518.1 750.3h0M538.7 737.7h0M537.4 748.2h0M519.1 744.3h0" stroke="#fe005c"/><path d="M522.3 744.5h0M516.5 747.4h0M525.7 745.9h0M531.8 750.0h0M519.5 749.7h0M520.1 743.9h0M543.6 732.7h0M539.6 744.7h0M539.5 737.9h0M538.0 735.8h0" stroke="#f90067"/><path d="M534.6 743.7h0M536.5 733.2h0M528.8 749.0h0M533.8 743.3h0M540.0 732.4h0M521.1 744.0h0M540.5 749.2h0" stroke="#ff0051"/><path d="M524.5 744.7h0M534.3 751.2h0M536.1 747.5h0M526.3 746.1h0M519.5 745.9h0M531.8 748.2h0M540.7 732.1h0M545.8 734.0h0M536.2 732.0h0M543.3 736.7h0M540.4 742.1h0M539.8 741.2h0" stroke="#ff0057"/><path d="M542.2 745.5h0M521.0 749.4h0M536.9 733.4h0M516.0 748.8h0M527.2 752.5h0M540.4 733.0h0M530.4 748.4h0M543.8 745.4h0M523.9 747.8h0M526.7 749.9h0M524.9 746.0h0M540.9 740.4h0M528.8 744.0h0" stroke="#fc0062"/><path d="M525.2 750.3h0M541.4 732.3h0M538.3 746.3h0" stroke="#d5008f"/><path d="M530.8 748.9h0M528.9 743.4h0M543.0 742.5h0M535.4 739.3h0" stroke="#f5006c"/><path d="M519.0 748.3h0M522.3 746.7h0" stroke="#da008a"/><path d="M536.9 747.2h0" stroke="#e50081"/><path d="M540.1 741.6h0M538.4 743.9h0M521.2 747.3h0M532.2 747.3h0M520.8 749.8h0M521.0 745.6h0M535.2 735.6h0M531.1 750.4h0M534.8 742.4h0M533.5 745.9h0M544.3 745.3h0M538.6 750.4h0M543.8 734.5h0M539.4 748.6h0M535.2 751.4h0" stroke="#fe005c"/><path d="M541.2 748.4h0M544.8 734.4h0M534.7 752.3h0M538.7 749.4h0M542.4 748.5h0M541.8 732.3h0M532.0 751.5h0M515.9 749.3h0M536.2 750.9h0M543.1 748.2h0" stroke="#fc0062"/><path d="M526.6 749.8h0M526.8 748.7h0M531.1 749.1h0M530.5 743.0h0M538.3 731.7h0M544.2 733.5h0" stroke="#d5008f"/><path d="M531.6 742.8h0M540.5 747.2h0M534.1 742.4h0M538.8 732.8h0M541.9 745.1h0M530.6 746.5h0M525.5 748.0h0M534.0 740.8h0M545.3 735.1h0M542.7 743.0h0M518.1 745.0h0M535.3 737.6h0" stroke="#ff0057"/><path d="M516.2 748.3h0M543.1 740.9h0" stroke="#da008a"/><path d="M523.9 746.9h0M527.2 745.2h0" stroke="#e00086"/><path d="M534.6 746.2h0" stroke="#ee0077"/><path d="M536.3 750.3h0M539.4 743.4h0M539.1 733.2h0M535.9 746.9h0" stroke="#f5006c"/><path d="M543.7 732.7h0" stroke="#cf0093"/><path d="M543.8 744.1h0M541.5 733.2h0" stroke="#e9007c"/><path d="M536.2 747.9h0M536.0 737.9h0M541.4 743.7h0M519.2 748.7h0M525.8 752.4h0M542.7 744.8h0" stroke="#f90067"/><path d="M538.7 750.4h0M522.0 747.7h0M536.4 748.8h0M540.4 730.8h0M544.6 738.4h0" stroke="#ff0051"/><path d="M528.7 746.1h0M539.4 747.4h0" stroke="#e50081"/><path d="M522.8 750.3h0M536.8 737.0h0M534.7 750.0h0M540.1 734.6h0M540.3 732.1h0M520.4 744.8h0M544.8 739.9h0M519.9 745.0h0M530.9 749.7h0M542.7 740.8h0M524.7 745.9h0M532.2 743.9h0M545.4 738.4h0" stroke="#ff0057"/><path d="M540.8 732.2h0M538.6 741.0h0M544.0 736.9h0" stroke="#cf0093"/><path d="M529.2 747.5h0M523.3 747.9h0M539.0 740.1h0" stroke="#d5008f"/><path d="M520.1 744.9h0M538.6 746.7h0M521.9 746.6h0M529.2 743.4h0M533.4 745.6h0M529.8 748.9h0M536.1 734.1h0M540.5 737.8h0M545.0 733.7h0M539.2 744.8h0M519.7 749.2h0M522.4 747.0h0" stroke="#fc0062"/><path d="M517.7 749.9h0M541.0 740.9h0M520.1 748.7h0M542.3 745.9h0M524.0 743.8h0M534.2 746.7h0M516.6 748.2h0M534.9 749.1h0M532.4 750.7h0M524.1 744.7h0M525.9 749.0h0M518.8 749.3h0M520.4 744.5h0M536.4 747.2h0" stroke="#fe005c"/><path d="M537.7 737.2h0M545.1 736.8h0M538.8 733.6h0" stroke="#e00086"/><path d="M539.8 746.8h0M539.1 742.4h0M538.0 736.3h0M534.5 739.5h0M542.3 731.4h0M531.5 741.2h0M535.9 740.1h0M542.1 740.1h0M526.2 748.4h0M523.5 748.5h0" stroke="#ff0051"/><path d="M539.7 739.9h0M540.8 744.0h0M525.1 752.2h0M522.5 745.4h0M540.4 730.0h0" stroke="#f90067"/><path d="M530.7 748.8h0M533.7 748.3h0" stroke="#e50081"/><path d="M536.1 740.2h0M527.9 744.3h0M538.9 732.5h0" stroke="#f5006c"/><path d="M520.0 754.2h0M537.0 755.9h0M530.3 761.9h0M534.6 752.8h0M541.1 755.3h0" stroke="#3b68e7"/><path d="M541.3 758.3h0M532.2 761.3h0M539.2 761.6h0" stroke="#585edf"/><path d="M524.5 756.5h0M543.7 757.7h0M541.0 756.1h0M518.9 759.7h0" stroke="#4b63e3"/><path d="M532.4 757.8h0M542.0 752.3h0M538.7 759.2h0M543.1 748.0h0M540.9 761.0h0M541.0 759.2h0M522.3 756.8h0M542.9 757.8h0M524.2 753.3h0M521.4 752.1h0M536.6 763.1h0M530.8 761.9h0" stroke="#7d49cb"/><path d="M531.7 757.7h0M525.9 752.5h0M518.4 753.9h0M515.7 754.6h0M540.9 748.9h0M527.1 755.0h0M531.8 762.3h0" stroke="#6c54d6"/><path d="M519.0 758.7h0M522.0 761.5h0" stroke="#0070ed"/><path d="M540.0 753.6h0M533.7 753.3h0M528.0 758.4h0M544.4 750.7h0M536.3 754.2h0M534.2 752.4h0M535.9 764.0h0M536.7 753.0h0M535.1 765.1h0" stroke="#754fd1"/><path d="M542.5 746.7h0M523.2 759.7h0M546.1 748.7h0M518.2 755.9h0" stroke="#236cea"/><path d="M530.3 754.1h0M538.3 753.3h0M539.8 752.3h0M531.9 760.3h0M543.3 758.3h0M520.4 754.7h0M534.7 762.4h0M538.1 753.9h0" stroke="#8443c6"/><path d="M535.5 759.1h0M543.7 754.1h0" stroke="#8b3cc0"/><path d="M527.1 761.1h0M521.8 755.0h0" stroke="#b30aa3"/><path d="M529.0 751.4h0M533.1 764.4h0M516.3 756.8h0M525.8 763.5h0M534.8 756.9h0" stroke="#6359da"/><path d="M523.5 759.9h0" stroke="#bb00a0"/><path d="M533.0 751.1h0" stroke="#a31daa"/><path d="M520.8 761.6h0" stroke="#c2009c"/><path d="M526.9 762.5h0M532.1 753.4h0" stroke="#ab15a7"/><path d="M526.8 755.2h0" stroke="#0074f0"/><path d="M544.8 753.5h0M538.3 754.2h0" stroke="#236cea"/><path d="M543.3 749.7h0M540.2 755.4h0" stroke="#a31daa"/><path d="M521.4 756.9h0M534.9 760.0h0M525.9 757.2h0M529.2 758.5h0M540.3 748.2h0M543.8 754.5h0M521.4 758.9h0M541.1 748.1h0M535.0 762.9h0" stroke="#8443c6"/><path d="M537.6 759.2h0M522.4 761.1h0M528.6 764.8h0" stroke="#0070ed"/><path d="M523.5 756.3h0M539.2 748.4h0M529.3 759.8h0M544.6 750.9h0M537.6 762.7h0M530.4 760.7h0M526.1 764.4h0M529.4 764.7h0M524.7 756.4h0M517.4 756.9h0" stroke="#754fd1"/><path d="M544.1 749.7h0M522.1 758.1h0M525.1 751.8h0M531.8 757.6h0M524.3 759.9h0M540.1 757.7h0M524.3 756.8h0M534.6 759.8h0M531.6 761.6h0M543.4 755.1h0" stroke="#7d49cb"/><path d="M518.9 759.6h0M534.5 762.2h0M535.7 756.6h0M530.8 762.1h0" stroke="#6359da"/><path d="M526.0 757.4h0M519.8 756.1h0M536.0 756.0h0M530.4 766.2h0" stroke="#bb00a0"/><path d="M523.3 756.7h0" stroke="#0074f0"/><path d="M525.5 755.4h0M532.8 755.1h0M520.4 759.0h0M517.5 759.3h0M526.5 758.5h0M546.2 750.0h0M535.5 762.5h0M525.6 753.3h0M531.5 752.2h0" stroke="#6c54d6"/><path d="M544.7 749.0h0" stroke="#c2009c"/><path d="M542.9 750.5h0M523.0 756.6h0M542.2 758.5h0" stroke="#585edf"/><path d="M540.5 748.6h0" stroke="#8b3cc0"/><path d="M536.9 761.8h0M541.7 752.2h0M538.3 763.3h0" stroke="#4b63e3"/><path d="M539.1 762.2h0M538.7 763.2h0M524.6 758.1h0M530.2 760.5h0" stroke="#ab15a7"/><path d="M537.5 753.1h0" stroke="#b30aa3"/><path d="M528.4 763.3h0M535.8 756.1h0" stroke="#3b68e7"/><path d="M534.8 750.8h0M544.5 751.7h0M533.8 753.0h0M531.5 764.5h0M537.0 751.7h0M530.8 765.9h0" stroke="#8b3cc0"/><path d="M537.9 755.8h0M519.2 757.8h0M536.4 752.6h0M530.7 758.3h0M529.8 759.0h0M535.3 753.8h0M545.6 747.9h0M527.5 753.9h0M525.7 755.8h0M529.3 763.5h0M538.6 759.4h0" stroke="#7d49cb"/><path d="M530.9 756.2h0M533.7 758.8h0M531.2 753.3h0M542.4 756.0h0M541.5 748.9h0M527.1 762.8h0M535.4 753.6h0M537.1 754.7h0M530.7 757.6h0M519.5 756.0h0" stroke="#8443c6"/><path d="M526.1 763.4h0M532.8 764.7h0M533.1 761.4h0M538.1 763.4h0M532.6 754.1h0M519.5 756.8h0M523.5 754.2h0M543.5 746.6h0M539.4 760.7h0M539.5 748.3h0M519.4 760.3h0" stroke="#754fd1"/><path d="M520.6 758.8h0M530.1 759.3h0M538.5 761.3h0M533.3 758.1h0M524.8 762.6h0M518.1 756.6h0M530.7 754.1h0M529.3 756.5h0M537.6 750.0h0" stroke="#6c54d6"/><path d="M525.3 758.9h0" stroke="#0074f0"/><path d="M543.2 755.6h0M528.6 761.2h0M538.3 752.4h0M544.9 749.5h0M526.4 751.8h0" stroke="#6359da"/><path d="M542.9 747.0h0M529.1 758.6h0M522.2 754.4h0" stroke="#a31daa"/><path d="M533.0 753.7h0M545.8 748.9h0M519.5 759.8h0M542.0 750.1h0" stroke="#4b63e3"/><path d="M529.0 762.2h0M524.3 756.3h0" stroke="#b30aa3"/><path d="M522.0 760.4h0M543.0 751.7h0" stroke="#236cea"/><path d="M535.8 751.5h0" stroke="#0070ed"/><path d="M529.1 765.7h0M527.7 757.0h0" stroke="#bb00a0"/><path d="M533.7 753.9h0" stroke="#9b23ad"/><path d="M534.9 750.2h0" stroke="#ab15a7"/><path d="M505.0 754.4h0" stroke="#8b3cc0"/><path d="M508.4 752.7h0M545.1 755.2h0M547.7 748.4h0" stroke="#8443c6"/><path d="M540.9 762.9h0" stroke="#754fd1"/><path d="M511.0 753.5h0M565.6 768.5h0" stroke="#fc0062"/><path d="M510.1 759.5h0M508.4 763.8h0" stroke="#ff0057"/><path d="M573.3 741.6h0" stroke="#ff0051"/><path d="M516.1 774.9h0M523.8 769.7h0M536.6 775.7h0M527.2 767.7h0" stroke="#0084f9"/><path d="M520.4 779.1h0M526.3 773.1h0M529.8 780.0h0M539.2 782.5h0M525.5 777.4h0" stroke="#0087fa"/><path d="M528.1 776.6h0M532.3 772.3h0M539.2 775.7h0M526.3 780.8h0M522.9 766.3h0M528.9 778.3h0" stroke="#007cf5"/><path d="M530.6 773.1h0" stroke="#0080f7"/><path d="M551.6 734.4h0M562.1 733.2h0M562.5 730.7h0" stroke="#e9007c"/><path d="M558.5 730.6h0M545.4 732.1h0M551.2 732.8h0" stroke="#e50081"/><path d="M554.7 734.0h0M578.9 735.7h0M580.6 731.5h0M564.8 729.4h0" stroke="#e00086"/><path d="M553.8 731.0h0M572.7 733.5h0" stroke="#f90067"/><path d="M576.6 733.9h0M570.4 729.4h0" stroke="#fe005c"/><path d="M559.4 731.5h0M564.9 731.4h0M554.3 729.9h0M577.0 733.1h0" stroke="#d5008f"/><path d="M545.9 733.7h0M567.6 730.1h0M572.1 731.6h0" stroke="#cf0093"/><path d="M576.1 730.8h0" stroke="#ff0057"/><path d="M547.2 733.1h0" stroke="#f5006c"/><path d="M549.5 734.0h0" stroke="#da008a"/><path d="M598.6 714.9h0M594.3 710.4h0M607.8 723.3h0M594.4 719.3h0M589.9 721.8h0M598.4 728.8h0M602.6 725.8h0M604.6 714.8h0M597.7 720.3h0" stroke="#e50081"/><path d="M598.5 729.6h0M604.1 728.0h0M602.6 722.5h0" stroke="#fe005c"/><path d="M600.5 723.5h0M606.8 711.9h0M589.9 719.4h0M593.5 711.9h0M593.1 716.9h0M594.1 720.3h0M599.0 716.7h0" stroke="#a31daa"/><path d="M603.4 726.4h0M600.3 714.0h0M593.3 714.8h0M602.5 718.9h0M609.6 718.5h0" stroke="#ff0051"/><path d="M606.3 707.6h0M605.4 720.8h0M602.1 707.8h0M596.2 726.0h0M590.3 726.3h0" stroke="#ab15a7"/><path d="M590.1 713.6h0M602.4 727.4h0M595.2 717.8h0M599.9 717.6h0M606.0 709.2h0M593.0 731.3h0M604.9 719.7h0M587.1 723.0h0M600.4 707.0h0" stroke="#d5008f"/><path d="M600.2 707.4h0M604.5 715.6h0M609.3 717.6h0M593.2 731.3h0" stroke="#e9007c"/><path d="M594.4 731.5h0M601.6 728.3h0M597.8 711.8h0" stroke="#ee0077"/><path d="M601.5 708.7h0M604.1 726.3h0M601.6 727.9h0M591.0 715.0h0" stroke="#9b23ad"/><path d="M592.0 713.6h0M597.0 720.9h0M603.0 730.9h0M600.9 727.8h0" stroke="#fc0062"/><path d="M608.5 725.9h0M590.5 731.2h0M601.7 722.2h0M593.0 716.1h0M601.0 710.4h0" stroke="#cf0093"/><path d="M597.5 706.8h0M594.3 728.3h0M609.0 725.1h0M602.7 729.5h0M591.9 723.8h0M599.0 709.7h0M606.4 729.3h0M609.2 718.5h0M597.5 727.6h0M586.2 727.2h0M607.8 715.1h0M601.3 724.5h0M599.2 717.5h0M597.3 713.0h0" stroke="#b30aa3"/><path d="M608.6 726.3h0M611.0 714.3h0M588.1 728.0h0M600.8 727.4h0M600.9 709.8h0M594.5 719.9h0M597.6 710.6h0M586.1 728.0h0M600.4 708.2h0M588.6 725.7h0" stroke="#bb00a0"/><path d="M601.7 711.4h0M602.3 722.3h0M601.0 730.4h0M607.5 720.1h0M596.1 727.2h0M602.1 716.2h0M595.6 726.5h0M595.4 714.7h0M607.3 729.8h0M602.0 726.6h0" stroke="#e00086"/><path d="M601.7 714.0h0" stroke="#f5006c"/><path d="M588.7 729.3h0M604.0 719.8h0M592.6 720.1h0M593.0 730.1h0M594.3 731.7h0M594.4 712.2h0M594.2 712.9h0M592.7 729.0h0M588.5 715.5h0M607.4 714.6h0" stroke="#da008a"/><path d="M600.3 726.4h0" stroke="#ff0057"/><path d="M608.8 710.0h0M597.0 714.2h0" stroke="#c2009c"/><path d="M607.8 708.9h0M600.9 715.4h0M590.1 722.6h0M594.5 717.0h0" stroke="#f90067"/><path d="M601.5 711.4h0M607.2 728.9h0M593.5 729.7h0M602.1 719.4h0M586.7 720.9h0M604.6 723.9h0M597.8 730.0h0" stroke="#a31daa"/><path d="M608.9 718.0h0M599.6 715.3h0M600.6 709.0h0M600.5 722.5h0" stroke="#ee0077"/><path d="M591.9 720.8h0M606.8 723.9h0M597.7 717.4h0M593.3 726.5h0M594.7 728.6h0M597.4 722.4h0M609.0 712.4h0M605.5 712.0h0M604.3 717.1h0M604.5 716.3h0M609.0 715.9h0M593.6 726.2h0M586.4 728.5h0" stroke="#d5008f"/><path d="M595.8 714.4h0M606.6 720.1h0M599.3 708.3h0M590.5 719.4h0M596.1 729.5h0M603.7 730.4h0M595.9 712.9h0M588.1 715.0h0M609.7 717.7h0M594.8 721.5h0M599.8 725.7h0" stroke="#e9007c"/><path d="M598.5 725.9h0" stroke="#f5006c"/><path d="M601.3 723.3h0M598.9 722.6h0M604.4 715.8h0M595.4 712.7h0" stroke="#ff0057"/><path d="M596.4 716.3h0M591.0 717.1h0M605.2 729.7h0M592.6 716.8h0M590.3 715.5h0M603.8 723.7h0M602.0 729.9h0M600.4 726.2h0M606.6 728.9h0" stroke="#e50081"/><path d="M587.1 719.4h0M607.8 713.7h0M604.0 711.7h0" stroke="#fe005c"/><path d="M608.0 724.9h0M598.7 706.4h0M596.1 720.4h0M588.1 724.9h0M591.1 714.2h0M609.8 719.8h0M595.8 708.4h0" stroke="#da008a"/><path d="M592.6 714.1h0M603.0 714.5h0M604.7 724.5h0M603.3 709.9h0M604.1 721.0h0M595.3 715.0h0M606.5 726.6h0M605.1 724.3h0M606.3 709.9h0M592.0 715.5h0M603.9 727.6h0M598.5 720.2h0M600.4 726.4h0" stroke="#e00086"/><path d="M607.7 712.2h0M593.6 715.0h0M592.7 712.7h0" stroke="#fc0062"/><path d="M597.8 707.3h0M607.2 713.5h0M598.6 717.0h0M595.5 721.2h0M597.8 728.5h0M604.4 723.6h0M606.0 717.9h0M594.5 713.8h0M599.2 725.0h0M597.6 713.5h0M597.8 727.5h0M598.7 726.1h0" stroke="#bb00a0"/><path d="M603.1 709.9h0M607.3 727.9h0" stroke="#f90067"/><path d="M603.3 711.4h0" stroke="#cf0093"/><path d="M609.3 716.5h0M592.1 730.2h0M593.1 722.4h0M593.9 727.5h0M595.5 714.5h0" stroke="#ab15a7"/><path d="M594.4 708.3h0M588.8 720.7h0" stroke="#9b23ad"/><path d="M592.5 729.3h0M590.1 711.5h0M593.3 727.8h0M603.6 717.8h0M608.4 715.8h0M608.3 713.1h0M601.0 731.0h0M595.0 724.6h0M590.9 723.9h0" stroke="#b30aa3"/><path d="M603.3 716.7h0M588.5 723.3h0" stroke="#c2009c"/><path d="M609.4 711.3h0" stroke="#ff0051"/><path d="M597.1 729.0h0M603.4 725.9h0M602.5 707.8h0M594.9 730.4h0M594.6 713.5h0M596.0 707.1h0" stroke="#9b23ad"/><path d="M605.8 721.1h0M588.1 730.1h0M603.7 706.3h0M605.8 712.9h0M604.1 727.4h0M588.3 714.0h0M592.6 728.4h0" stroke="#bb00a0"/><path d="M609.1 711.5h0M587.1 718.9h0M600.2 717.9h0M599.2 712.7h0" stroke="#a31daa"/><path d="M608.3 724.9h0M585.9 730.5h0M604.1 717.8h0M592.0 712.5h0M607.5 709.4h0M586.7 727.4h0M598.1 711.5h0" stroke="#d5008f"/><path d="M593.7 715.0h0M604.6 726.5h0M602.1 718.4h0M600.6 727.9h0M591.9 718.2h0M604.4 716.7h0M601.9 707.9h0M595.2 706.7h0M589.0 717.2h0M608.5 717.9h0" stroke="#e9007c"/><path d="M591.0 720.6h0M596.0 727.4h0M598.8 722.3h0M608.1 711.3h0M601.7 729.3h0M605.7 729.5h0M600.9 729.5h0M597.3 712.7h0M602.2 722.9h0M594.2 729.8h0M592.7 718.2h0M593.0 723.2h0M603.1 709.4h0M609.0 717.7h0" stroke="#da008a"/><path d="M595.7 712.7h0M599.9 725.2h0M601.8 710.4h0M597.3 719.8h0M611.1 712.8h0M608.5 708.8h0M607.4 726.5h0M594.5 722.7h0M609.6 714.6h0" stroke="#ab15a7"/><path d="M595.8 729.4h0M588.5 725.5h0M592.9 721.7h0" stroke="#fe005c"/><path d="M601.3 727.6h0M606.3 712.6h0M598.7 711.1h0M589.7 720.5h0M588.8 717.6h0M600.1 723.8h0M587.9 725.1h0M610.0 721.0h0" stroke="#e00086"/><path d="M607.0 715.3h0M595.3 730.2h0M597.3 715.0h0" stroke="#ee0077"/><path d="M591.3 719.3h0M606.3 715.3h0M593.6 722.2h0M599.7 721.7h0M587.5 721.0h0M598.5 728.5h0M597.3 713.7h0M601.7 719.7h0" stroke="#b30aa3"/><path d="M593.1 731.2h0M590.5 726.5h0M601.9 726.9h0M604.1 716.4h0M590.6 731.4h0M599.1 715.7h0M597.9 727.4h0M609.5 715.6h0" stroke="#fc0062"/><path d="M594.7 714.4h0M609.5 711.8h0M599.4 711.7h0M602.7 712.4h0" stroke="#f90067"/><path d="M587.2 726.9h0M606.7 707.3h0M593.3 718.3h0M592.9 710.6h0M606.7 724.4h0M596.6 719.3h0M597.3 729.9h0M586.4 730.0h0M593.8 716.9h0M597.0 730.5h0" stroke="#e50081"/><path d="M606.9 716.2h0M592.4 709.7h0" stroke="#ff0057"/><path d="M591.4 720.8h0M598.5 711.1h0" stroke="#c2009c"/><path d="M595.3 730.9h0M591.9 729.4h0" stroke="#ff0051"/><path d="M598.3 712.0h0" stroke="#cf0093"/><path d="M599.5 712.3h0" stroke="#f5006c"/><path d="M608.3 736.7h0M600.7 732.2h0M591.3 738.3h0M595.4 741.9h0M583.0 742.0h0M605.3 738.3h0M597.4 729.4h0M603.8 731.0h0M588.5 744.3h0M591.0 737.6h0M584.0 744.2h0" stroke="#0087fa"/><path d="M596.3 730.1h0M591.7 732.8h0M580.3 740.8h0M582.2 738.5h0M579.4 745.2h0M601.2 734.9h0M593.1 732.3h0M606.1 730.8h0M598.5 738.6h0M582.9 739.9h0M602.0 735.7h0M582.4 740.5h0" stroke="#0080f7"/><path d="M585.3 734.2h0M587.6 736.2h0M603.4 733.6h0M604.3 730.0h0M600.4 731.0h0M606.6 730.9h0M593.6 737.8h0" stroke="#236cea"/><path d="M585.5 741.2h0M593.0 741.6h0M605.0 738.3h0" stroke="#008bfb"/><path d="M598.2 741.2h0M592.0 732.7h0M589.8 733.5h0M598.3 730.4h0" stroke="#7d49cb"/><path d="M603.3 731.8h0M599.5 732.7h0" stroke="#007cf5"/><path d="M609.3 732.9h0M580.1 747.6h0M586.9 746.8h0M584.2 744.2h0" stroke="#3b68e7"/><path d="M584.7 748.7h0M585.9 745.2h0M580.5 743.3h0M599.5 737.7h0M597.7 735.6h0M596.3 739.8h0M592.1 735.0h0M583.0 740.5h0M585.6 748.7h0M592.3 736.2h0M582.9 740.7h0M587.2 744.9h0" stroke="#0084f9"/><path d="M607.7 735.7h0M587.8 744.0h0M583.0 746.5h0M586.8 735.2h0M595.1 735.3h0M583.4 737.8h0" stroke="#0070ed"/><path d="M583.0 741.5h0M609.3 734.1h0M599.6 732.6h0M597.7 742.4h0M597.5 741.6h0M598.7 730.9h0" stroke="#4b63e3"/><path d="M588.2 741.2h0M603.5 735.4h0" stroke="#8443c6"/><path d="M608.0 737.4h0M590.4 734.0h0" stroke="#6c54d6"/><path d="M600.6 730.1h0" stroke="#585edf"/><path d="M586.9 740.2h0" stroke="#6359da"/><path d="M599.4 735.9h0" stroke="#0074f0"/><path d="M596.4 732.0h0M591.7 740.7h0M601.5 733.5h0M599.9 737.5h0M602.5 738.6h0M594.9 734.0h0M592.9 738.3h0M604.6 732.1h0M595.4 730.0h0M588.8 736.2h0M607.0 731.3h0M583.9 741.7h0M598.8 733.0h0" stroke="#0080f7"/><path d="M601.2 737.0h0M594.4 742.8h0M587.0 745.5h0M598.2 742.1h0M608.2 733.0h0M604.8 736.8h0M600.5 738.6h0M601.2 739.6h0M587.2 733.9h0M592.4 742.4h0M597.4 738.1h0M593.3 735.2h0M596.9 742.2h0M585.3 737.3h0M590.6 736.4h0M588.0 738.3h0M602.3 734.4h0M606.1 738.3h0" stroke="#0084f9"/><path d="M585.6 742.9h0M595.6 742.7h0M588.3 738.3h0M605.9 736.4h0M593.7 732.4h0" stroke="#236cea"/><path d="M590.1 746.0h0M589.3 739.7h0M596.3 736.8h0M585.2 735.9h0M584.1 746.6h0M594.2 741.1h0M589.3 745.5h0" stroke="#0087fa"/><path d="M595.3 738.2h0M607.2 737.4h0M593.6 734.6h0M601.9 736.7h0M596.8 736.5h0M589.7 738.6h0M588.1 740.9h0" stroke="#007cf5"/><path d="M583.1 737.0h0M594.3 742.3h0M598.7 741.8h0M584.1 744.4h0" stroke="#008bfb"/><path d="M603.2 738.2h0M606.6 737.6h0M582.1 743.6h0" stroke="#6c54d6"/><path d="M582.3 747.5h0M592.6 738.2h0M598.5 731.0h0M600.9 732.8h0" stroke="#8b3cc0"/><path d="M590.7 740.5h0" stroke="#0070ed"/><path d="M594.8 744.2h0M581.9 744.3h0M585.2 739.6h0" stroke="#6359da"/><path d="M590.0 740.8h0" stroke="#585edf"/><path d="M604.1 738.3h0M602.5 738.3h0M585.1 743.1h0" stroke="#3b68e7"/><path d="M597.9 739.7h0" stroke="#4b63e3"/><path d="M584.9 746.0h0M606.5 734.0h0" stroke="#7d49cb"/><path d="M593.7 731.9h0" stroke="#8443c6"/><path d="M587.3 733.8h0" stroke="#754fd1"/><path d="M586.1 737.5h0M592.7 734.5h0M607.9 736.4h0M605.8 735.6h0M605.9 733.7h0M580.0 742.3h0M599.2 737.6h0M589.2 740.5h0M601.4 730.0h0M598.8 741.2h0M583.4 737.3h0M604.8 733.2h0" stroke="#0080f7"/><path d="M587.1 735.8h0M594.4 740.0h0M599.9 735.8h0M590.0 743.0h0M580.5 747.8h0M584.4 736.9h0M597.2 732.7h0M598.1 733.4h0M588.1 742.0h0" stroke="#0084f9"/><path d="M584.2 737.1h0M598.6 731.8h0M580.3 744.5h0" stroke="#6c54d6"/><path d="M587.6 738.9h0M582.6 741.4h0M592.8 743.1h0M610.5 734.4h0M590.1 737.7h0M591.7 733.4h0M586.5 736.4h0M602.4 731.4h0M592.4 732.0h0M600.2 734.7h0M587.4 734.1h0M596.1 729.8h0M598.1 729.8h0" stroke="#0087fa"/><path d="M583.5 746.9h0M581.3 740.6h0M590.3 740.7h0" stroke="#236cea"/><path d="M600.4 733.3h0" stroke="#8b3cc0"/><path d="M607.9 737.6h0M599.5 736.0h0M594.3 732.6h0M582.4 742.5h0M594.6 738.5h0M598.8 734.3h0" stroke="#754fd1"/><path d="M603.9 729.2h0M609.6 736.0h0" stroke="#585edf"/><path d="M592.4 742.1h0M582.9 744.1h0M583.8 738.1h0M593.0 738.5h0M584.2 744.3h0" stroke="#007cf5"/><path d="M605.7 737.8h0M595.2 742.8h0M583.8 737.8h0M583.1 748.0h0" stroke="#4b63e3"/><path d="M594.2 737.5h0M604.7 730.5h0M581.4 747.1h0" stroke="#0074f0"/><path d="M594.2 743.5h0M581.8 745.8h0M601.3 740.0h0" stroke="#0070ed"/><path d="M598.7 734.7h0" stroke="#3b68e7"/><path d="M602.3 733.8h0M591.9 744.4h0M595.7 742.9h0" stroke="#7d49cb"/><path d="M588.9 736.2h0M603.3 732.6h0M603.5 732.3h0" stroke="#8443c6"/><path d="M604.0 736.9h0M583.1 744.6h0M592.4 734.9h0" stroke="#008bfb"/><path d="M578.4 749.2h0M583.6 756.9h0M588.7 759.5h0M599.8 758.6h0M585.3 767.2h0M585.3 775.7h0M594.7 767.2h0M583.6 790.2h0M581.9 791.9h0M592.1 754.4h0" stroke="#0080f7"/><path d="M581.0 754.4h0M586.1 754.4h0M598.1 752.7h0" stroke="#008bfb"/><path d="M591.3 762.9h0M596.4 757.8h0M587.0 769.7h0M585.3 793.6h0M595.5 749.2h0" stroke="#0084f9"/><path d="M593.8 764.6h0M588.7 773.1h0M589.5 774.0h0M585.3 786.8h0" stroke="#0087fa"/><path d="M589.5 785.1h0" stroke="#007cf5"/><path d="M589.3 772.9h0M578.9 750.3h0M593.4 752.3h0" stroke="#0087fa"/><path d="M593.6 748.6h0M587.3 749.7h0M590.6 749.8h0M591.1 758.0h0M596.1 763.8h0" stroke="#0084f9"/><path d="M590.2 759.4h0" stroke="#007cf5"/><path d="M589.6 766.3h0M588.6 773.2h0" stroke="#0080f7"/><path d="M590.5 766.1h0M589.1 764.4h0M593.1 751.3h0" stroke="#007cf5"/><path d="M584.6 772.5h0" stroke="#0080f7"/><path d="M585.7 763.5h0" stroke="#008bfb"/><path d="M590.1 750.9h0M593.4 762.7h0M593.0 771.7h0M592.5 759.6h0M585.7 773.2h0M587.3 756.0h0" stroke="#0087fa"/><path d="M595.1 767.5h0M584.0 767.8h0" stroke="#0084f9"/><path d="M588.6 753.0h0M590.1 765.8h0M588.1 753.6h0" stroke="#0080f7"/><path d="M584.2 764.8h0" stroke="#008bfb"/><path d="M593.1 763.4h0M592.2 770.5h0" stroke="#0087fa"/><path d="M585.1 771.6h0M580.8 756.5h0" stroke="#007cf5"/><path d="M577.6 730.5h0M582.5 731.3h0M572.9 730.7h0" stroke="#ff0057"/><path d="M543.1 731.3h0M549.1 729.3h0M552.4 728.2h0M569.2 731.4h0M568.6 731.5h0" stroke="#d5008f"/><path d="M574.8 730.1h0M560.4 728.2h0M548.6 728.8h0" stroke="#e9007c"/><path d="M542.6 730.7h0" stroke="#fc0062"/><path d="M574.1 730.5h0M582.6 733.3h0M544.4 730.2h0M543.4 732.2h0M550.6 729.4h0" stroke="#da008a"/><path d="M544.5 732.6h0M576.6 729.3h0M566.4 730.1h0M554.0 727.7h0M570.3 729.9h0M572.0 730.0h0M566.3 730.6h0" stroke="#e00086"/><path d="M578.6 732.5h0M578.0 732.8h0M550.4 728.2h0M583.0 731.0h0" stroke="#e50081"/><path d="M572.9 730.9h0" stroke="#f90067"/><path d="M576.5 732.7h0" stroke="#cf0093"/><path d="M490.8 761.3h0" stroke="#d5008f"/><path d="M505.6 755.2h0M485.7 762.1h0" stroke="#ab15a7"/><path d="M507.8 755.9h0" stroke="#e50081"/><path d="M493.8 758.3h0" stroke="#b30aa3"/><path d="M507.8 753.3h0M506.1 754.5h0" stroke="#bb00a0"/><path d="M508.5 755.0h0M490.7 761.1h0" stroke="#7d49cb"/><path d="M507.0 755.2h0M484.8 760.8h0" stroke="#9b23ad"/><path d="M505.4 754.6h0M504.5 755.8h0" stroke="#e00086"/><path d="M484.3 760.5h0M504.1 756.6h0" stroke="#8443c6"/><path d="M491.5 760.6h0M496.5 758.8h0" stroke="#a31daa"/><path d="M513.7 752.3h0" stroke="#da008a"/><path d="M497.9 757.1h0" stroke="#6c54d6"/><path d="M502.0 756.0h0" stroke="#e9007c"/></g>
<path d="M407.10 699.20V843.00H621.80" stroke="#3a3a3a" stroke-width="1.15" fill="none"/>
<path d="M409.20 843.00v4.5M459.76 843.00v4.5M510.32 843.00v4.5M560.88 843.00v4.5M611.44 843.00v4.5M407.10 711.20h-4.5M407.10 732.90h-4.5M407.10 754.60h-4.5M407.10 776.30h-4.5M407.10 798.00h-4.5M407.10 819.70h-4.5M407.10 841.40h-4.5" stroke="#3a3a3a" stroke-width="1.1" fill="none"/>
<text x="409.2" y="857.2" font-size="8.5" text-anchor="middle" >0.4</text>
<text x="459.8" y="857.2" font-size="8.5" text-anchor="middle" >0.6</text>
<text x="510.3" y="857.2" font-size="8.5" text-anchor="middle" >0.8</text>
<text x="560.9" y="857.2" font-size="8.5" text-anchor="middle" >1.0</text>
<text x="611.4" y="857.2" font-size="8.5" text-anchor="middle" >1.2</text>
<text x="398.9" y="714.3" font-size="8.5" text-anchor="end" >0.06</text>
<text x="398.9" y="736.0" font-size="8.5" text-anchor="end" >0.04</text>
<text x="398.9" y="757.7" font-size="8.5" text-anchor="end" >0.02</text>
<text x="398.9" y="779.4" font-size="8.5" text-anchor="end" >0.00</text>
<text x="398.9" y="801.1" font-size="8.5" text-anchor="end" >−0.02</text>
<text x="398.9" y="822.8" font-size="8.5" text-anchor="end" >−0.04</text>
<text x="398.9" y="844.5" font-size="8.5" text-anchor="end" >−0.06</text>
<text x="514.5" y="869.5" font-size="10.4" text-anchor="middle" textLength="45.5" lengthAdjust="spacing"><tspan font-style="italic">Kc</tspan>(<tspan font-style="italic">d</tspan> <tspan dy="-0.7">–</tspan><tspan dy="0.7"> 2)</tspan></text>
<text transform="translate(359.6,771.1) rotate(-90)" font-size="10.4" text-anchor="middle">SHAP value for</text>
<text transform="translate(371.4,771.1) rotate(-90)" font-size="10.4" text-anchor="middle" textLength="46.5" lengthAdjust="spacing"><tspan font-style="italic">Kc</tspan>(<tspan font-style="italic">d</tspan> <tspan dy="-0.7">–</tspan><tspan dy="0.7"> 2)</tspan></text>
<rect x="635.60" y="698.70" width="5.6" height="144.80" fill="#e9eef8"/>
<rect x="637.10" y="699.20" width="2.5" height="143.80" fill="url(#cb)"/>
<text x="649.7" y="706.3" font-size="8.5" text-anchor="start" >0.75</text>
<text x="649.7" y="726.4" font-size="8.5" text-anchor="start" >0.50</text>
<text x="649.7" y="746.5" font-size="8.5" text-anchor="start" >0.25</text>
<text x="649.7" y="766.6" font-size="8.5" text-anchor="start" >0.00</text>
<text x="649.7" y="786.7" font-size="8.5" text-anchor="start" >−0.25</text>
<text x="649.7" y="806.7" font-size="8.5" text-anchor="start" >−0.50</text>
<text x="649.7" y="826.8" font-size="8.5" text-anchor="start" >−0.75</text>
<path d="M641.90 703.22h4.5M641.90 723.30h4.5M641.90 743.38h4.5M641.90 763.47h4.5M641.90 783.55h4.5M641.90 803.64h4.5M641.90 823.72h4.5" stroke="#3a3a3a" stroke-width="1.1" fill="none"/>
<text transform="translate(682.2,771.1) rotate(-90)" font-size="10.4" text-anchor="middle" font-style="italic">Sin</text>
<text x="343" y="202.9" font-family='"Liberation Serif", serif' font-size="14.1" text-anchor="middle">(a) XGBoost</text>
<text x="342.7" y="438.9" font-family='"Liberation Serif", serif' font-size="14.1" text-anchor="middle">(b) Extra Tree</text>
<text x="343.2" y="676.5" font-family='"Liberation Serif", serif' font-size="14.1" text-anchor="middle">(c) Random Forest</text></svg>
</body></html>
